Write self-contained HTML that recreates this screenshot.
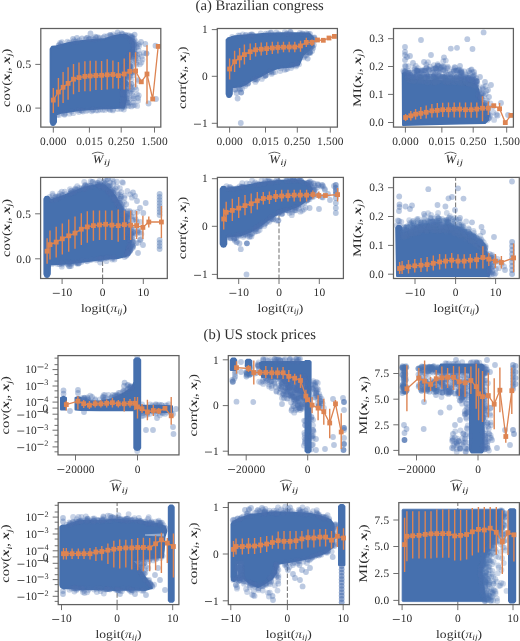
<!DOCTYPE html>
<html><head><meta charset="utf-8"><style>
html,body{margin:0;padding:0;background:#fff;}
svg{display:block;will-change:transform;}
text{font-family:"Liberation Serif",serif;fill:#2e2e2e;text-rendering:geometricPrecision;}
circle{fill:#4c72b0;}
.a0{fill-opacity:0.3}.a1{fill-opacity:0.38}.a2{fill-opacity:0.35}.a3{fill-opacity:0.6}.a4{fill-opacity:0.4}.a5{fill-opacity:0.7}.a6{fill-opacity:0.33}.a7{fill-opacity:0.28}.a8{fill-opacity:0.45}.a9{fill-opacity:0.8}.a10{fill-opacity:0.5}
</style></head><body>
<svg width="520" height="641" viewBox="0 0 520 641" font-family="Liberation Serif">
<text x="195.6" y="9.6" font-size="14.6" textLength="128.2" lengthAdjust="spacingAndGlyphs">(a) Brazilian congress</text>
<text x="203.6" y="338.5" font-size="14.6" textLength="112.4" lengthAdjust="spacingAndGlyphs">(b) US stock prices</text>
<defs><clipPath id="c11"><rect x="40.80" y="28.50" width="120.00" height="98.60"/></clipPath><clipPath id="c12"><rect x="217.30" y="28.50" width="120.10" height="98.60"/></clipPath><clipPath id="c13"><rect x="393.50" y="28.50" width="119.90" height="98.60"/></clipPath><clipPath id="c21"><rect x="40.60" y="177.40" width="126.70" height="101.10"/></clipPath><clipPath id="c22"><rect x="217.40" y="177.40" width="126.00" height="101.10"/></clipPath><clipPath id="c23"><rect x="393.50" y="177.40" width="125.80" height="101.10"/></clipPath><clipPath id="c31"><rect x="58.00" y="355.60" width="121.00" height="99.30"/></clipPath><clipPath id="c32"><rect x="228.30" y="355.60" width="121.00" height="99.30"/></clipPath><clipPath id="c33"><rect x="398.80" y="355.60" width="120.60" height="99.30"/></clipPath><clipPath id="c41"><rect x="58.20" y="502.60" width="120.70" height="102.00"/></clipPath><clipPath id="c42"><rect x="228.30" y="502.60" width="121.10" height="102.00"/></clipPath><clipPath id="c43"><rect x="398.80" y="502.60" width="120.60" height="102.00"/></clipPath></defs>
<g clip-path="url(#c11)">
<path d="M50.6 49.0 L52.0 46.8 L54.5 46.5 L56.0 46.5 L60.0 45.2 L70.0 42.8 L80.0 41.3 L90.0 40.3 L95.0 39.7 L105.0 38.9 L112.0 36.6 L120.0 35.0 L126.0 35.0 L131.0 38.0 L134.0 43.0 L134.0 52.0 L129.0 60.0 L126.0 70.0 L125.0 80.0 L126.0 100.0 L124.0 107.4 L110.0 108.3 L100.0 108.6 L90.0 109.2 L80.0 110.0 L70.0 111.5 L60.0 113.0 L56.0 114.6 L56.0 122.0 L54.5 124.5 L53.0 125.0 L51.5 124.5 L50.6 122.0 Z" fill="#4670ae" stroke="#4670ae" stroke-width="2" stroke-linejoin="round"/>
<circle class="a0" cx="139.6" cy="54.1" r="2.9"/>
<circle class="a0" cx="126.7" cy="59.7" r="2.9"/>
<circle class="a0" cx="129.3" cy="60.0" r="2.9"/>
<circle class="a0" cx="134.5" cy="58.8" r="2.9"/>
<circle class="a0" cx="129.1" cy="57.4" r="2.9"/>
<circle class="a0" cx="146.4" cy="53.6" r="2.9"/>
<circle class="a0" cx="129.1" cy="54.7" r="2.9"/>
<circle class="a0" cx="132.5" cy="54.3" r="2.9"/>
<circle class="a0" cx="127.8" cy="58.6" r="2.9"/>
<circle class="a0" cx="131.6" cy="52.7" r="2.9"/>
<circle class="a0" cx="146.5" cy="53.3" r="2.9"/>
<circle class="a0" cx="129.3" cy="55.7" r="2.9"/>
<circle class="a0" cx="128.6" cy="56.3" r="2.9"/>
<circle class="a0" cx="130.9" cy="53.5" r="2.9"/>
<circle class="a0" cx="134.5" cy="54.5" r="2.9"/>
<circle class="a0" cx="129.2" cy="54.5" r="2.9"/>
<circle class="a0" cx="143.8" cy="52.9" r="2.9"/>
<circle class="a0" cx="133.0" cy="55.9" r="2.9"/>
<circle class="a0" cx="141.6" cy="56.5" r="2.9"/>
<circle class="a0" cx="142.5" cy="59.4" r="2.9"/>
<circle class="a0" cx="137.2" cy="54.9" r="2.9"/>
<circle class="a0" cx="135.3" cy="57.0" r="2.9"/>
<circle class="a0" cx="132.2" cy="55.6" r="2.9"/>
<circle class="a0" cx="131.2" cy="52.3" r="2.9"/>
<circle class="a0" cx="134.8" cy="52.2" r="2.9"/>
<circle class="a0" cx="132.2" cy="56.8" r="2.9"/>
<circle class="a0" cx="134.3" cy="53.8" r="2.9"/>
<circle class="a0" cx="128.1" cy="56.7" r="2.9"/>
<circle class="a0" cx="131.2" cy="55.3" r="2.9"/>
<circle class="a0" cx="128.6" cy="56.9" r="2.9"/>
<circle class="a0" cx="138.1" cy="58.2" r="2.9"/>
<circle class="a0" cx="135.6" cy="53.9" r="2.9"/>
<circle class="a0" cx="131.4" cy="57.0" r="2.9"/>
<circle class="a0" cx="130.6" cy="63.9" r="2.9"/>
<circle class="a0" cx="131.2" cy="66.7" r="2.9"/>
<circle class="a0" cx="129.8" cy="65.3" r="2.9"/>
<circle class="a0" cx="123.5" cy="67.3" r="2.9"/>
<circle class="a0" cx="127.3" cy="64.3" r="2.9"/>
<circle class="a0" cx="126.9" cy="67.0" r="2.9"/>
<circle class="a0" cx="126.6" cy="64.8" r="2.9"/>
<circle class="a0" cx="128.6" cy="65.1" r="2.9"/>
<circle class="a0" cx="130.9" cy="60.3" r="2.9"/>
<circle class="a0" cx="129.1" cy="68.6" r="2.9"/>
<circle class="a0" cx="141.4" cy="62.5" r="2.9"/>
<circle class="a0" cx="125.8" cy="65.3" r="2.9"/>
<circle class="a0" cx="129.1" cy="60.5" r="2.9"/>
<circle class="a0" cx="126.1" cy="66.6" r="2.9"/>
<circle class="a0" cx="136.6" cy="64.6" r="2.9"/>
<circle class="a0" cx="125.3" cy="68.9" r="2.9"/>
<circle class="a0" cx="127.7" cy="64.8" r="2.9"/>
<circle class="a0" cx="129.8" cy="69.1" r="2.9"/>
<circle class="a0" cx="130.6" cy="68.2" r="2.9"/>
<circle class="a0" cx="125.7" cy="69.5" r="2.9"/>
<circle class="a0" cx="129.0" cy="66.7" r="2.9"/>
<circle class="a0" cx="129.9" cy="66.5" r="2.9"/>
<circle class="a0" cx="124.3" cy="68.8" r="2.9"/>
<circle class="a0" cx="126.1" cy="65.9" r="2.9"/>
<circle class="a0" cx="125.1" cy="68.1" r="2.9"/>
<circle class="a0" cx="124.5" cy="67.1" r="2.9"/>
<circle class="a0" cx="129.8" cy="65.9" r="2.9"/>
<circle class="a0" cx="124.7" cy="69.2" r="2.9"/>
<circle class="a0" cx="125.6" cy="66.1" r="2.9"/>
<circle class="a0" cx="125.6" cy="67.4" r="2.9"/>
<circle class="a0" cx="124.9" cy="67.5" r="2.9"/>
<circle class="a0" cx="139.9" cy="64.3" r="2.9"/>
<circle class="a0" cx="132.9" cy="65.2" r="2.9"/>
<circle class="a0" cx="123.7" cy="68.9" r="2.9"/>
<circle class="a0" cx="136.2" cy="62.8" r="2.9"/>
<circle class="a0" cx="124.3" cy="68.1" r="2.9"/>
<circle class="a0" cx="134.5" cy="60.5" r="2.9"/>
<circle class="a0" cx="131.2" cy="79.6" r="2.9"/>
<circle class="a0" cx="133.7" cy="75.2" r="2.9"/>
<circle class="a0" cx="128.6" cy="70.6" r="2.9"/>
<circle class="a0" cx="125.7" cy="74.6" r="2.9"/>
<circle class="a0" cx="123.7" cy="74.4" r="2.9"/>
<circle class="a0" cx="124.8" cy="78.1" r="2.9"/>
<circle class="a0" cx="125.1" cy="72.5" r="2.9"/>
<circle class="a0" cx="123.1" cy="75.8" r="2.9"/>
<circle class="a0" cx="127.2" cy="79.9" r="2.9"/>
<circle class="a0" cx="124.1" cy="75.8" r="2.9"/>
<circle class="a0" cx="124.8" cy="73.3" r="2.9"/>
<circle class="a0" cx="122.3" cy="74.0" r="2.9"/>
<circle class="a0" cx="127.2" cy="75.9" r="2.9"/>
<circle class="a0" cx="130.0" cy="77.0" r="2.9"/>
<circle class="a0" cx="129.4" cy="70.7" r="2.9"/>
<circle class="a0" cx="126.1" cy="75.5" r="2.9"/>
<circle class="a0" cx="131.1" cy="70.4" r="2.9"/>
<circle class="a0" cx="128.0" cy="77.3" r="2.9"/>
<circle class="a0" cx="130.0" cy="75.3" r="2.9"/>
<circle class="a0" cx="130.0" cy="71.9" r="2.9"/>
<circle class="a0" cx="123.2" cy="78.9" r="2.9"/>
<circle class="a0" cx="125.3" cy="70.3" r="2.9"/>
<circle class="a0" cx="134.4" cy="71.8" r="2.9"/>
<circle class="a0" cx="127.6" cy="72.7" r="2.9"/>
<circle class="a0" cx="123.2" cy="74.2" r="2.9"/>
<circle class="a0" cx="128.9" cy="77.6" r="2.9"/>
<circle class="a0" cx="130.8" cy="73.1" r="2.9"/>
<circle class="a0" cx="123.6" cy="78.0" r="2.9"/>
<circle class="a0" cx="132.0" cy="71.5" r="2.9"/>
<circle class="a0" cx="123.1" cy="72.2" r="2.9"/>
<circle class="a0" cx="124.1" cy="70.5" r="2.9"/>
<circle class="a0" cx="137.9" cy="79.6" r="2.9"/>
<circle class="a0" cx="125.1" cy="75.4" r="2.9"/>
<circle class="a0" cx="132.4" cy="72.6" r="2.9"/>
<circle class="a0" cx="124.9" cy="73.1" r="2.9"/>
<circle class="a0" cx="122.1" cy="86.8" r="2.9"/>
<circle class="a0" cx="124.3" cy="82.0" r="2.9"/>
<circle class="a0" cx="125.6" cy="89.8" r="2.9"/>
<circle class="a0" cx="125.9" cy="84.7" r="2.9"/>
<circle class="a0" cx="123.5" cy="81.1" r="2.9"/>
<circle class="a0" cx="136.9" cy="94.3" r="2.9"/>
<circle class="a0" cx="124.6" cy="81.8" r="2.9"/>
<circle class="a0" cx="126.2" cy="91.6" r="2.9"/>
<circle class="a0" cx="125.7" cy="83.3" r="2.9"/>
<circle class="a0" cx="132.8" cy="98.4" r="2.9"/>
<circle class="a0" cx="133.3" cy="96.2" r="2.9"/>
<circle class="a0" cx="122.4" cy="85.5" r="2.9"/>
<circle class="a0" cx="124.6" cy="83.3" r="2.9"/>
<circle class="a0" cx="132.4" cy="89.4" r="2.9"/>
<circle class="a0" cx="124.5" cy="84.3" r="2.9"/>
<circle class="a0" cx="123.3" cy="97.8" r="2.9"/>
<circle class="a0" cx="125.0" cy="94.0" r="2.9"/>
<circle class="a0" cx="124.2" cy="98.9" r="2.9"/>
<circle class="a0" cx="131.9" cy="93.3" r="2.9"/>
<circle class="a0" cx="131.2" cy="87.4" r="2.9"/>
<circle class="a0" cx="129.7" cy="92.6" r="2.9"/>
<circle class="a0" cx="126.4" cy="98.5" r="2.9"/>
<circle class="a0" cx="125.7" cy="82.7" r="2.9"/>
<circle class="a0" cx="131.3" cy="83.9" r="2.9"/>
<circle class="a0" cx="125.2" cy="96.7" r="2.9"/>
<circle class="a0" cx="122.3" cy="98.1" r="2.9"/>
<circle class="a0" cx="136.3" cy="89.6" r="2.9"/>
<circle class="a0" cx="138.8" cy="95.4" r="2.9"/>
<circle class="a0" cx="125.3" cy="85.2" r="2.9"/>
<circle class="a0" cx="123.3" cy="82.0" r="2.9"/>
<circle class="a0" cx="129.2" cy="97.3" r="2.9"/>
<circle class="a0" cx="124.1" cy="84.3" r="2.9"/>
<circle class="a0" cx="129.9" cy="86.2" r="2.9"/>
<circle class="a0" cx="122.9" cy="92.1" r="2.9"/>
<circle class="a0" cx="128.9" cy="84.3" r="2.9"/>
<circle class="a0" cx="127.0" cy="96.8" r="2.9"/>
<circle class="a0" cx="125.1" cy="90.1" r="2.9"/>
<circle class="a0" cx="124.7" cy="80.2" r="2.9"/>
<circle class="a0" cx="123.5" cy="89.7" r="2.9"/>
<circle class="a0" cx="122.6" cy="87.7" r="2.9"/>
<circle class="a0" cx="124.3" cy="97.6" r="2.9"/>
<circle class="a0" cx="123.1" cy="94.3" r="2.9"/>
<circle class="a0" cx="124.0" cy="90.9" r="2.9"/>
<circle class="a0" cx="125.7" cy="83.3" r="2.9"/>
<circle class="a0" cx="122.9" cy="86.5" r="2.9"/>
<circle class="a0" cx="135.1" cy="87.0" r="2.9"/>
<circle class="a0" cx="125.7" cy="83.7" r="2.9"/>
<circle class="a0" cx="123.0" cy="91.3" r="2.9"/>
<circle class="a0" cx="122.7" cy="92.2" r="2.9"/>
<circle class="a0" cx="123.8" cy="89.9" r="2.9"/>
<circle class="a0" cx="126.8" cy="91.7" r="2.9"/>
<circle class="a0" cx="122.7" cy="93.4" r="2.9"/>
<circle class="a0" cx="130.8" cy="91.2" r="2.9"/>
<circle class="a0" cx="138.1" cy="80.9" r="2.9"/>
<circle class="a0" cx="123.7" cy="85.0" r="2.9"/>
<circle class="a0" cx="123.5" cy="83.8" r="2.9"/>
<circle class="a0" cx="127.2" cy="94.6" r="2.9"/>
<circle class="a0" cx="126.4" cy="88.4" r="2.9"/>
<circle class="a0" cx="123.7" cy="83.6" r="2.9"/>
<circle class="a0" cx="126.6" cy="84.0" r="2.9"/>
<circle class="a0" cx="123.4" cy="99.0" r="2.9"/>
<circle class="a0" cx="125.5" cy="88.6" r="2.9"/>
<circle class="a0" cx="127.6" cy="98.5" r="2.9"/>
<circle class="a0" cx="125.3" cy="80.3" r="2.9"/>
<circle class="a0" cx="122.1" cy="93.4" r="2.9"/>
<circle class="a0" cx="126.9" cy="88.7" r="2.9"/>
<circle class="a0" cx="134.1" cy="98.7" r="2.9"/>
<circle class="a0" cx="130.8" cy="89.7" r="2.9"/>
<circle class="a0" cx="124.3" cy="92.7" r="2.9"/>
<circle class="a0" cx="131.4" cy="84.0" r="2.9"/>
<circle class="a0" cx="122.4" cy="103.2" r="2.9"/>
<circle class="a0" cx="122.5" cy="105.2" r="2.9"/>
<circle class="a0" cx="127.6" cy="105.2" r="2.9"/>
<circle class="a0" cx="124.0" cy="106.8" r="2.9"/>
<circle class="a0" cx="122.6" cy="106.2" r="2.9"/>
<circle class="a0" cx="134.7" cy="105.1" r="2.9"/>
<circle class="a0" cx="137.2" cy="105.9" r="2.9"/>
<circle class="a0" cx="129.4" cy="102.7" r="2.9"/>
<circle class="a0" cx="128.6" cy="106.2" r="2.9"/>
<circle class="a0" cx="123.8" cy="105.1" r="2.9"/>
<circle class="a0" cx="127.4" cy="102.4" r="2.9"/>
<circle class="a0" cx="127.9" cy="103.0" r="2.9"/>
<circle class="a0" cx="131.4" cy="106.4" r="2.9"/>
<circle class="a0" cx="124.6" cy="106.5" r="2.9"/>
<circle class="a0" cx="124.5" cy="100.6" r="2.9"/>
<circle class="a0" cx="122.0" cy="104.8" r="2.9"/>
<circle class="a0" cx="122.4" cy="103.1" r="2.9"/>
<circle class="a0" cx="126.6" cy="100.3" r="2.9"/>
<circle class="a0" cx="138.1" cy="100.8" r="2.9"/>
<circle class="a0" cx="124.9" cy="101.2" r="2.9"/>
<circle class="a0" cx="122.4" cy="100.4" r="2.9"/>
<circle class="a0" cx="133.0" cy="105.4" r="2.9"/>
<circle class="a0" cx="123.0" cy="104.9" r="2.9"/>
<circle class="a0" cx="133.0" cy="102.4" r="2.9"/>
<circle class="a0" cx="127.4" cy="102.6" r="2.9"/>
<circle class="a0" cx="129.1" cy="35.3" r="2.9"/>
<circle class="a0" cx="125.7" cy="35.4" r="2.9"/>
<circle class="a0" cx="132.0" cy="36.1" r="2.9"/>
<circle class="a0" cx="130.9" cy="36.1" r="2.9"/>
<circle class="a0" cx="130.8" cy="36.9" r="2.9"/>
<circle class="a0" cx="127.3" cy="35.2" r="2.9"/>
<circle class="a0" cx="125.4" cy="35.1" r="2.9"/>
<circle class="a0" cx="132.7" cy="37.4" r="2.9"/>
<circle class="a0" cx="131.8" cy="37.7" r="2.9"/>
<circle class="a0" cx="135.3" cy="41.2" r="2.9"/>
<circle class="a0" cx="132.9" cy="41.2" r="2.9"/>
<circle class="a0" cx="132.3" cy="40.1" r="2.9"/>
<circle class="a0" cx="131.9" cy="38.1" r="2.9"/>
<circle class="a0" cx="130.9" cy="40.2" r="2.9"/>
<circle class="a0" cx="134.4" cy="42.3" r="2.9"/>
<circle class="a0" cx="132.1" cy="41.3" r="2.9"/>
<circle class="a0" cx="133.1" cy="41.8" r="2.9"/>
<circle class="a0" cx="134.3" cy="38.8" r="2.9"/>
<circle class="a0" cx="138.6" cy="50.5" r="2.9"/>
<circle class="a0" cx="132.9" cy="43.7" r="2.9"/>
<circle class="a0" cx="139.0" cy="44.1" r="2.9"/>
<circle class="a0" cx="134.8" cy="43.7" r="2.9"/>
<circle class="a0" cx="134.5" cy="47.5" r="2.9"/>
<circle class="a0" cx="139.1" cy="46.0" r="2.9"/>
<circle class="a0" cx="133.0" cy="52.0" r="2.9"/>
<circle class="a0" cx="133.7" cy="48.3" r="2.9"/>
<circle class="a0" cx="134.0" cy="44.6" r="2.9"/>
<circle class="a0" cx="133.8" cy="46.1" r="2.9"/>
<circle class="a0" cx="136.4" cy="44.7" r="2.9"/>
<circle class="a0" cx="133.9" cy="45.1" r="2.9"/>
<circle class="a0" cx="134.0" cy="50.0" r="2.9"/>
<circle class="a0" cx="134.7" cy="49.3" r="2.9"/>
<circle class="a0" cx="59.1" cy="45.4" r="2.9"/>
<circle class="a0" cx="58.6" cy="45.2" r="2.9"/>
<circle class="a0" cx="61.8" cy="42.1" r="2.9"/>
<circle class="a0" cx="60.1" cy="42.9" r="2.9"/>
<circle class="a0" cx="60.9" cy="43.8" r="2.9"/>
<circle class="a0" cx="69.2" cy="42.7" r="2.9"/>
<circle class="a0" cx="67.4" cy="41.7" r="2.9"/>
<circle class="a0" cx="74.1" cy="40.3" r="2.9"/>
<circle class="a0" cx="77.9" cy="41.3" r="2.9"/>
<circle class="a0" cx="75.8" cy="41.7" r="2.9"/>
<circle class="a0" cx="79.4" cy="40.2" r="2.9"/>
<circle class="a0" cx="73.1" cy="42.0" r="2.9"/>
<circle class="a0" cx="87.6" cy="37.7" r="2.9"/>
<circle class="a0" cx="89.4" cy="38.8" r="2.9"/>
<circle class="a0" cx="86.6" cy="37.8" r="2.9"/>
<circle class="a0" cx="85.6" cy="39.2" r="2.9"/>
<circle class="a0" cx="88.8" cy="39.1" r="2.9"/>
<circle class="a0" cx="92.8" cy="38.4" r="2.9"/>
<circle class="a0" cx="90.4" cy="39.0" r="2.9"/>
<circle class="a0" cx="94.6" cy="39.4" r="2.9"/>
<circle class="a0" cx="97.6" cy="37.2" r="2.9"/>
<circle class="a0" cx="95.2" cy="36.7" r="2.9"/>
<circle class="a0" cx="99.6" cy="37.6" r="2.9"/>
<circle class="a0" cx="99.3" cy="39.1" r="2.9"/>
<circle class="a0" cx="102.9" cy="37.8" r="2.9"/>
<circle class="a0" cx="111.0" cy="35.7" r="2.9"/>
<circle class="a0" cx="107.4" cy="36.1" r="2.9"/>
<circle class="a0" cx="110.0" cy="34.8" r="2.9"/>
<circle class="a0" cx="110.1" cy="35.1" r="2.9"/>
<circle class="a0" cx="112.4" cy="36.5" r="2.9"/>
<circle class="a0" cx="118.9" cy="35.0" r="2.9"/>
<circle class="a0" cx="116.1" cy="35.6" r="2.9"/>
<circle class="a0" cx="113.1" cy="34.3" r="2.9"/>
<circle class="a0" cx="122.1" cy="34.2" r="2.9"/>
<circle class="a0" cx="123.0" cy="34.1" r="2.9"/>
<circle class="a0" cx="121.6" cy="33.2" r="2.9"/>
<circle class="a0" cx="110.1" cy="110.1" r="2.9"/>
<circle class="a0" cx="123.9" cy="109.5" r="2.9"/>
<circle class="a0" cx="122.0" cy="107.8" r="2.9"/>
<circle class="a0" cx="112.9" cy="109.4" r="2.9"/>
<circle class="a0" cx="121.1" cy="109.0" r="2.9"/>
<circle class="a0" cx="112.9" cy="110.4" r="2.9"/>
<circle class="a0" cx="117.7" cy="109.0" r="2.9"/>
<circle class="a0" cx="102.6" cy="109.9" r="2.9"/>
<circle class="a0" cx="104.9" cy="109.9" r="2.9"/>
<circle class="a0" cx="107.6" cy="108.5" r="2.9"/>
<circle class="a0" cx="109.3" cy="109.0" r="2.9"/>
<circle class="a0" cx="100.0" cy="109.5" r="2.9"/>
<circle class="a0" cx="92.6" cy="110.2" r="2.9"/>
<circle class="a0" cx="91.7" cy="111.3" r="2.9"/>
<circle class="a0" cx="93.1" cy="109.5" r="2.9"/>
<circle class="a0" cx="97.8" cy="110.4" r="2.9"/>
<circle class="a0" cx="96.1" cy="110.4" r="2.9"/>
<circle class="a0" cx="86.3" cy="110.9" r="2.9"/>
<circle class="a0" cx="82.9" cy="111.6" r="2.9"/>
<circle class="a0" cx="81.5" cy="110.3" r="2.9"/>
<circle class="a0" cx="81.9" cy="110.8" r="2.9"/>
<circle class="a0" cx="87.8" cy="109.9" r="2.9"/>
<circle class="a0" cx="71.5" cy="111.6" r="2.9"/>
<circle class="a0" cx="73.2" cy="113.2" r="2.9"/>
<circle class="a0" cx="78.8" cy="112.0" r="2.9"/>
<circle class="a0" cx="77.6" cy="110.4" r="2.9"/>
<circle class="a0" cx="79.5" cy="110.1" r="2.9"/>
<circle class="a0" cx="62.0" cy="112.9" r="2.9"/>
<circle class="a0" cx="65.4" cy="112.9" r="2.9"/>
<circle class="a0" cx="64.3" cy="114.2" r="2.9"/>
<circle class="a0" cx="69.3" cy="113.7" r="2.9"/>
<circle class="a0" cx="64.5" cy="114.8" r="2.9"/>
<circle class="a0" cx="57.2" cy="114.9" r="2.9"/>
<circle class="a0" cx="59.2" cy="115.0" r="2.9"/>
<circle class="a1" cx="117.6" cy="32.4" r="2.9"/>
<circle class="a1" cx="104.5" cy="36.3" r="2.9"/>
<circle class="a1" cx="134.6" cy="34.6" r="2.9"/>
<circle class="a1" cx="145.3" cy="44.0" r="2.9"/>
<circle class="a1" cx="155.5" cy="45.7" r="2.9"/>
<circle class="a1" cx="148.5" cy="103.5" r="2.9"/>
<circle class="a1" cx="156.0" cy="99.0" r="2.9"/>
<circle class="a1" cx="137.0" cy="47.0" r="2.9"/>
<circle class="a1" cx="136.0" cy="60.0" r="2.9"/>
<circle class="a1" cx="138.0" cy="98.0" r="2.9"/>
<circle class="a1" cx="90.5" cy="33.5" r="2.9"/>
<circle class="a1" cx="73.0" cy="39.0" r="2.9"/>
<circle class="a1" cx="77.0" cy="38.0" r="2.9"/>
<circle class="a1" cx="82.0" cy="38.5" r="2.9"/>
<circle class="a1" cx="96.0" cy="37.5" r="2.9"/>
<circle class="a1" cx="141.0" cy="42.0" r="2.9"/>
<line x1="53.3" y1="88.0" x2="53.3" y2="113.0" stroke="#dd8452" stroke-width="1.4"/>
<line x1="58.4" y1="77.9" x2="58.4" y2="106.8" stroke="#dd8452" stroke-width="1.4"/>
<line x1="63.1" y1="72.1" x2="63.1" y2="102.9" stroke="#dd8452" stroke-width="1.4"/>
<line x1="68.1" y1="67.3" x2="68.1" y2="99.8" stroke="#dd8452" stroke-width="1.4"/>
<line x1="73.5" y1="63.9" x2="73.5" y2="94.3" stroke="#dd8452" stroke-width="1.4"/>
<line x1="79.0" y1="62.6" x2="79.0" y2="92.0" stroke="#dd8452" stroke-width="1.4"/>
<line x1="84.9" y1="61.2" x2="84.9" y2="91.2" stroke="#dd8452" stroke-width="1.4"/>
<line x1="90.2" y1="60.8" x2="90.2" y2="91.2" stroke="#dd8452" stroke-width="1.4"/>
<line x1="95.9" y1="60.8" x2="95.9" y2="90.0" stroke="#dd8452" stroke-width="1.4"/>
<line x1="101.6" y1="61.0" x2="101.6" y2="90.0" stroke="#dd8452" stroke-width="1.4"/>
<line x1="107.2" y1="59.2" x2="107.2" y2="89.6" stroke="#dd8452" stroke-width="1.4"/>
<line x1="112.9" y1="60.5" x2="112.9" y2="88.5" stroke="#dd8452" stroke-width="1.4"/>
<line x1="118.4" y1="62.0" x2="118.4" y2="88.8" stroke="#dd8452" stroke-width="1.4"/>
<line x1="124.2" y1="58.4" x2="124.2" y2="89.6" stroke="#dd8452" stroke-width="1.4"/>
<line x1="129.8" y1="52.2" x2="129.8" y2="89.6" stroke="#dd8452" stroke-width="1.4"/>
<line x1="135.6" y1="52.2" x2="135.6" y2="87.3" stroke="#dd8452" stroke-width="1.4"/>
<line x1="147.0" y1="45.2" x2="147.0" y2="103.7" stroke="#dd8452" stroke-width="1.4"/>
<polyline points="53.3,100.1 58.4,92.0 63.1,87.3 68.1,83.4 73.5,79.2 79.0,77.6 84.9,76.4 90.2,76.0 95.9,75.5 101.6,75.3 107.2,74.8 112.9,74.5 118.4,75.6 124.2,74.0 129.8,71.4 135.6,70.9 141.3,81.8 147.0,74.0 152.7,99.0 158.2,46.4" fill="none" stroke="#dd8452" stroke-width="1.3"/>
<rect x="50.9" y="97.7" width="4.8" height="4.8" fill="#dd8452"/>
<rect x="56.0" y="89.6" width="4.8" height="4.8" fill="#dd8452"/>
<rect x="60.7" y="84.9" width="4.8" height="4.8" fill="#dd8452"/>
<rect x="65.7" y="81.0" width="4.8" height="4.8" fill="#dd8452"/>
<rect x="71.1" y="76.8" width="4.8" height="4.8" fill="#dd8452"/>
<rect x="76.6" y="75.2" width="4.8" height="4.8" fill="#dd8452"/>
<rect x="82.5" y="74.0" width="4.8" height="4.8" fill="#dd8452"/>
<rect x="87.8" y="73.6" width="4.8" height="4.8" fill="#dd8452"/>
<rect x="93.5" y="73.1" width="4.8" height="4.8" fill="#dd8452"/>
<rect x="99.2" y="72.9" width="4.8" height="4.8" fill="#dd8452"/>
<rect x="104.8" y="72.4" width="4.8" height="4.8" fill="#dd8452"/>
<rect x="110.5" y="72.1" width="4.8" height="4.8" fill="#dd8452"/>
<rect x="116.0" y="73.2" width="4.8" height="4.8" fill="#dd8452"/>
<rect x="121.8" y="71.6" width="4.8" height="4.8" fill="#dd8452"/>
<rect x="127.4" y="69.0" width="4.8" height="4.8" fill="#dd8452"/>
<rect x="133.2" y="68.5" width="4.8" height="4.8" fill="#dd8452"/>
<rect x="138.9" y="79.4" width="4.8" height="4.8" fill="#dd8452"/>
<rect x="144.6" y="71.6" width="4.8" height="4.8" fill="#dd8452"/>
<rect x="150.3" y="96.6" width="4.8" height="4.8" fill="#dd8452"/>
<rect x="155.8" y="44.0" width="4.8" height="4.8" fill="#dd8452"/>
</g>
<g clip-path="url(#c12)">
<path d="M226.6 40.0 L228.0 38.3 L230.5 37.8 L232.0 37.0 L235.0 36.3 L250.0 35.0 L265.0 33.7 L280.0 33.3 L300.0 33.2 L309.0 33.5 L313.0 37.5 L312.5 45.0 L309.0 50.0 L303.0 55.0 L300.8 60.3 L299.0 64.5 L290.0 66.7 L287.0 67.1 L280.0 67.8 L275.0 69.1 L270.0 71.2 L265.0 73.8 L260.0 76.5 L255.0 78.6 L250.0 81.2 L245.0 84.6 L240.0 86.6 L232.0 87.3 L231.8 94.0 L230.5 96.5 L229.0 97.0 L227.5 96.5 L226.6 94.0 Z" fill="#4670ae" stroke="#4670ae" stroke-width="2" stroke-linejoin="round"/>
<circle class="a0" cx="246.0" cy="34.8" r="2.9"/>
<circle class="a0" cx="238.3" cy="35.3" r="2.9"/>
<circle class="a0" cx="232.2" cy="37.0" r="2.9"/>
<circle class="a0" cx="239.7" cy="35.7" r="2.9"/>
<circle class="a0" cx="242.7" cy="34.4" r="2.9"/>
<circle class="a0" cx="245.5" cy="35.3" r="2.9"/>
<circle class="a0" cx="249.5" cy="34.9" r="2.9"/>
<circle class="a0" cx="251.8" cy="34.2" r="2.9"/>
<circle class="a0" cx="250.8" cy="34.9" r="2.9"/>
<circle class="a0" cx="260.7" cy="33.5" r="2.9"/>
<circle class="a0" cx="252.4" cy="35.0" r="2.9"/>
<circle class="a0" cx="249.7" cy="35.8" r="2.9"/>
<circle class="a0" cx="253.4" cy="35.3" r="2.9"/>
<circle class="a0" cx="270.6" cy="32.9" r="2.9"/>
<circle class="a0" cx="271.0" cy="32.5" r="2.9"/>
<circle class="a0" cx="268.2" cy="33.3" r="2.9"/>
<circle class="a0" cx="276.3" cy="32.3" r="2.9"/>
<circle class="a0" cx="278.7" cy="33.6" r="2.9"/>
<circle class="a0" cx="265.6" cy="33.7" r="2.9"/>
<circle class="a0" cx="286.4" cy="33.9" r="2.9"/>
<circle class="a0" cx="284.8" cy="32.1" r="2.9"/>
<circle class="a0" cx="299.8" cy="32.8" r="2.9"/>
<circle class="a0" cx="289.0" cy="33.9" r="2.9"/>
<circle class="a0" cx="290.6" cy="32.0" r="2.9"/>
<circle class="a0" cx="292.0" cy="34.2" r="2.9"/>
<circle class="a0" cx="286.8" cy="33.3" r="2.9"/>
<circle class="a0" cx="290.1" cy="31.9" r="2.9"/>
<circle class="a0" cx="302.0" cy="33.5" r="2.9"/>
<circle class="a0" cx="302.6" cy="33.6" r="2.9"/>
<circle class="a0" cx="308.3" cy="34.0" r="2.9"/>
<circle class="a0" cx="291.1" cy="68.0" r="2.9"/>
<circle class="a0" cx="296.4" cy="63.1" r="2.9"/>
<circle class="a0" cx="295.1" cy="64.9" r="2.9"/>
<circle class="a0" cx="296.0" cy="66.4" r="2.9"/>
<circle class="a0" cx="292.0" cy="65.4" r="2.9"/>
<circle class="a0" cx="297.1" cy="63.4" r="2.9"/>
<circle class="a0" cx="292.0" cy="65.7" r="2.9"/>
<circle class="a0" cx="296.8" cy="65.1" r="2.9"/>
<circle class="a0" cx="299.1" cy="64.3" r="2.9"/>
<circle class="a0" cx="287.4" cy="68.8" r="2.9"/>
<circle class="a0" cx="284.7" cy="69.9" r="2.9"/>
<circle class="a0" cx="286.1" cy="69.2" r="2.9"/>
<circle class="a0" cx="280.9" cy="68.3" r="2.9"/>
<circle class="a0" cx="270.6" cy="71.1" r="2.9"/>
<circle class="a0" cx="271.6" cy="73.9" r="2.9"/>
<circle class="a0" cx="271.5" cy="72.6" r="2.9"/>
<circle class="a0" cx="271.6" cy="71.0" r="2.9"/>
<circle class="a0" cx="280.2" cy="71.1" r="2.9"/>
<circle class="a0" cx="273.1" cy="72.4" r="2.9"/>
<circle class="a0" cx="275.2" cy="72.1" r="2.9"/>
<circle class="a0" cx="269.2" cy="72.2" r="2.9"/>
<circle class="a0" cx="265.6" cy="75.5" r="2.9"/>
<circle class="a0" cx="265.7" cy="75.5" r="2.9"/>
<circle class="a0" cx="263.7" cy="76.4" r="2.9"/>
<circle class="a0" cx="265.5" cy="74.6" r="2.9"/>
<circle class="a0" cx="261.9" cy="78.9" r="2.9"/>
<circle class="a0" cx="265.6" cy="75.6" r="2.9"/>
<circle class="a0" cx="254.9" cy="79.1" r="2.9"/>
<circle class="a0" cx="255.4" cy="81.9" r="2.9"/>
<circle class="a0" cx="253.6" cy="79.9" r="2.9"/>
<circle class="a0" cx="256.8" cy="79.3" r="2.9"/>
<circle class="a0" cx="254.9" cy="79.0" r="2.9"/>
<circle class="a0" cx="258.1" cy="77.7" r="2.9"/>
<circle class="a0" cx="256.6" cy="79.9" r="2.9"/>
<circle class="a0" cx="242.0" cy="88.7" r="2.9"/>
<circle class="a0" cx="243.7" cy="84.6" r="2.9"/>
<circle class="a0" cx="245.2" cy="86.0" r="2.9"/>
<circle class="a0" cx="247.6" cy="84.0" r="2.9"/>
<circle class="a0" cx="248.2" cy="82.8" r="2.9"/>
<circle class="a0" cx="248.2" cy="83.2" r="2.9"/>
<circle class="a0" cx="245.7" cy="83.8" r="2.9"/>
<circle class="a0" cx="240.0" cy="89.6" r="2.9"/>
<circle class="a0" cx="235.9" cy="89.7" r="2.9"/>
<circle class="a0" cx="240.3" cy="88.9" r="2.9"/>
<circle class="a0" cx="238.8" cy="88.0" r="2.9"/>
<circle class="a2" cx="312.0" cy="43.1" r="2.9"/>
<circle class="a2" cx="311.0" cy="45.5" r="2.9"/>
<circle class="a2" cx="311.5" cy="37.4" r="2.9"/>
<circle class="a2" cx="313.9" cy="45.1" r="2.9"/>
<circle class="a2" cx="312.2" cy="40.8" r="2.9"/>
<circle class="a2" cx="311.6" cy="44.9" r="2.9"/>
<circle class="a2" cx="314.4" cy="40.5" r="2.9"/>
<circle class="a2" cx="314.4" cy="37.3" r="2.9"/>
<circle class="a2" cx="314.2" cy="37.8" r="2.9"/>
<circle class="a2" cx="314.6" cy="39.3" r="2.9"/>
<circle class="a2" cx="309.7" cy="51.9" r="2.9"/>
<circle class="a2" cx="309.7" cy="48.4" r="2.9"/>
<circle class="a2" cx="310.3" cy="47.4" r="2.9"/>
<circle class="a2" cx="312.1" cy="50.9" r="2.9"/>
<circle class="a2" cx="312.3" cy="46.6" r="2.9"/>
<circle class="a2" cx="313.2" cy="48.0" r="2.9"/>
<circle class="a2" cx="310.6" cy="47.4" r="2.9"/>
<circle class="a2" cx="306.2" cy="55.4" r="2.9"/>
<circle class="a2" cx="309.3" cy="52.8" r="2.9"/>
<circle class="a2" cx="306.7" cy="52.3" r="2.9"/>
<circle class="a2" cx="308.7" cy="53.0" r="2.9"/>
<circle class="a2" cx="304.9" cy="55.8" r="2.9"/>
<circle class="a2" cx="310.3" cy="52.9" r="2.9"/>
<circle class="a2" cx="306.2" cy="52.3" r="2.9"/>
<circle class="a3" cx="241.2" cy="92.6" r="2.9"/>
<circle class="a1" cx="236.6" cy="93.0" r="2.9"/>
<circle class="a1" cx="237.6" cy="98.5" r="2.9"/>
<circle class="a1" cx="240.8" cy="123.0" r="2.9"/>
<circle class="a1" cx="235.0" cy="89.5" r="2.9"/>
<circle class="a1" cx="307.7" cy="58.6" r="2.9"/>
<circle class="a1" cx="303.7" cy="57.4" r="2.9"/>
<circle class="a1" cx="310.0" cy="52.2" r="2.9"/>
<circle class="a1" cx="311.0" cy="42.0" r="2.9"/>
<circle class="a1" cx="312.0" cy="46.0" r="2.9"/>
<circle class="a1" cx="310.0" cy="34.0" r="2.9"/>
<circle class="a1" cx="306.5" cy="33.5" r="2.9"/>
<line x1="229.6" y1="58.5" x2="229.6" y2="79.6" stroke="#dd8452" stroke-width="1.4"/>
<line x1="234.6" y1="50.8" x2="234.6" y2="71.9" stroke="#dd8452" stroke-width="1.4"/>
<line x1="239.6" y1="47.9" x2="239.6" y2="67.7" stroke="#dd8452" stroke-width="1.4"/>
<line x1="244.4" y1="44.6" x2="244.4" y2="64.6" stroke="#dd8452" stroke-width="1.4"/>
<line x1="250.2" y1="43.5" x2="250.2" y2="60.0" stroke="#dd8452" stroke-width="1.4"/>
<line x1="255.6" y1="43.0" x2="255.6" y2="56.5" stroke="#dd8452" stroke-width="1.4"/>
<line x1="261.2" y1="42.5" x2="261.2" y2="55.5" stroke="#dd8452" stroke-width="1.4"/>
<line x1="266.7" y1="42.3" x2="266.7" y2="55.0" stroke="#dd8452" stroke-width="1.4"/>
<line x1="272.3" y1="41.8" x2="272.3" y2="54.0" stroke="#dd8452" stroke-width="1.4"/>
<line x1="277.9" y1="41.8" x2="277.9" y2="53.5" stroke="#dd8452" stroke-width="1.4"/>
<line x1="283.5" y1="41.8" x2="283.5" y2="52.2" stroke="#dd8452" stroke-width="1.4"/>
<line x1="289.2" y1="41.8" x2="289.2" y2="52.2" stroke="#dd8452" stroke-width="1.4"/>
<line x1="294.8" y1="41.8" x2="294.8" y2="52.2" stroke="#dd8452" stroke-width="1.4"/>
<line x1="300.5" y1="40.7" x2="300.5" y2="51.7" stroke="#dd8452" stroke-width="1.4"/>
<line x1="306.3" y1="37.8" x2="306.3" y2="47.0" stroke="#dd8452" stroke-width="1.4"/>
<line x1="312.0" y1="39.5" x2="312.0" y2="45.9" stroke="#dd8452" stroke-width="1.4"/>
<polyline points="229.6,69.0 234.6,61.7 239.6,57.9 244.4,54.6 250.2,51.7 255.6,49.8 261.2,49.2 266.7,48.6 272.3,48.0 277.9,47.5 283.5,47.2 289.2,47.0 294.8,47.0 300.5,45.9 306.3,42.4 312.0,42.4 317.5,40.0 323.3,40.3 329.0,38.0 334.4,36.4" fill="none" stroke="#dd8452" stroke-width="1.3"/>
<rect x="227.2" y="66.6" width="4.8" height="4.8" fill="#dd8452"/>
<rect x="232.2" y="59.3" width="4.8" height="4.8" fill="#dd8452"/>
<rect x="237.2" y="55.5" width="4.8" height="4.8" fill="#dd8452"/>
<rect x="242.0" y="52.2" width="4.8" height="4.8" fill="#dd8452"/>
<rect x="247.8" y="49.3" width="4.8" height="4.8" fill="#dd8452"/>
<rect x="253.2" y="47.4" width="4.8" height="4.8" fill="#dd8452"/>
<rect x="258.8" y="46.8" width="4.8" height="4.8" fill="#dd8452"/>
<rect x="264.3" y="46.2" width="4.8" height="4.8" fill="#dd8452"/>
<rect x="269.9" y="45.6" width="4.8" height="4.8" fill="#dd8452"/>
<rect x="275.5" y="45.1" width="4.8" height="4.8" fill="#dd8452"/>
<rect x="281.1" y="44.8" width="4.8" height="4.8" fill="#dd8452"/>
<rect x="286.8" y="44.6" width="4.8" height="4.8" fill="#dd8452"/>
<rect x="292.4" y="44.6" width="4.8" height="4.8" fill="#dd8452"/>
<rect x="298.1" y="43.5" width="4.8" height="4.8" fill="#dd8452"/>
<rect x="303.9" y="40.0" width="4.8" height="4.8" fill="#dd8452"/>
<rect x="309.6" y="40.0" width="4.8" height="4.8" fill="#dd8452"/>
<rect x="315.1" y="37.6" width="4.8" height="4.8" fill="#dd8452"/>
<rect x="320.9" y="37.9" width="4.8" height="4.8" fill="#dd8452"/>
<rect x="326.6" y="35.6" width="4.8" height="4.8" fill="#dd8452"/>
<rect x="332.0" y="34.0" width="4.8" height="4.8" fill="#dd8452"/>
</g>
<g clip-path="url(#c13)">
<path d="M402.7 73.5 L404.5 72.5 L406.5 73.5 L407.0 78.0 L410.0 79.0 L420.0 80.5 L440.0 81.0 L455.0 81.5 L465.0 82.0 L470.0 82.5 L476.0 85.0 L478.5 90.0 L480.0 100.0 L484.0 105.0 L488.0 112.0 L488.0 120.0 L485.0 123.0 L460.0 123.5 L440.0 124.0 L420.0 124.5 L403.0 125.0 Z" fill="#4670ae" stroke="#4670ae" stroke-width="2" stroke-linejoin="round"/>
<circle class="a2" cx="408.0" cy="79.3" r="2.9"/>
<circle class="a2" cx="408.8" cy="80.4" r="2.9"/>
<circle class="a2" cx="407.9" cy="76.4" r="2.9"/>
<circle class="a2" cx="407.7" cy="76.1" r="2.9"/>
<circle class="a2" cx="408.8" cy="75.7" r="2.9"/>
<circle class="a2" cx="408.2" cy="73.4" r="2.9"/>
<circle class="a2" cx="409.4" cy="79.6" r="2.9"/>
<circle class="a2" cx="409.2" cy="78.2" r="2.9"/>
<circle class="a2" cx="409.7" cy="80.1" r="2.9"/>
<circle class="a2" cx="410.2" cy="74.7" r="2.9"/>
<circle class="a2" cx="410.8" cy="80.5" r="2.9"/>
<circle class="a2" cx="409.9" cy="76.0" r="2.9"/>
<circle class="a2" cx="419.6" cy="76.8" r="2.9"/>
<circle class="a2" cx="414.1" cy="77.6" r="2.9"/>
<circle class="a2" cx="415.0" cy="74.9" r="2.9"/>
<circle class="a2" cx="411.9" cy="79.4" r="2.9"/>
<circle class="a2" cx="412.8" cy="81.4" r="2.9"/>
<circle class="a2" cx="413.2" cy="78.3" r="2.9"/>
<circle class="a2" cx="412.0" cy="78.8" r="2.9"/>
<circle class="a2" cx="417.9" cy="79.2" r="2.9"/>
<circle class="a2" cx="417.0" cy="81.8" r="2.9"/>
<circle class="a2" cx="414.5" cy="78.6" r="2.9"/>
<circle class="a2" cx="413.9" cy="81.1" r="2.9"/>
<circle class="a2" cx="420.3" cy="79.5" r="2.9"/>
<circle class="a2" cx="415.2" cy="75.7" r="2.9"/>
<circle class="a2" cx="417.6" cy="80.6" r="2.9"/>
<circle class="a2" cx="410.0" cy="77.7" r="2.9"/>
<circle class="a2" cx="412.7" cy="77.8" r="2.9"/>
<circle class="a2" cx="419.7" cy="77.5" r="2.9"/>
<circle class="a2" cx="419.3" cy="79.0" r="2.9"/>
<circle class="a2" cx="413.2" cy="76.4" r="2.9"/>
<circle class="a2" cx="411.2" cy="77.5" r="2.9"/>
<circle class="a2" cx="417.1" cy="79.7" r="2.9"/>
<circle class="a2" cx="419.3" cy="77.0" r="2.9"/>
<circle class="a2" cx="412.0" cy="78.3" r="2.9"/>
<circle class="a2" cx="413.7" cy="80.6" r="2.9"/>
<circle class="a2" cx="414.2" cy="76.9" r="2.9"/>
<circle class="a2" cx="419.8" cy="77.9" r="2.9"/>
<circle class="a2" cx="415.8" cy="77.0" r="2.9"/>
<circle class="a2" cx="421.7" cy="76.8" r="2.9"/>
<circle class="a2" cx="421.0" cy="76.9" r="2.9"/>
<circle class="a2" cx="428.5" cy="75.9" r="2.9"/>
<circle class="a2" cx="425.3" cy="81.2" r="2.9"/>
<circle class="a2" cx="437.2" cy="79.0" r="2.9"/>
<circle class="a2" cx="422.2" cy="80.8" r="2.9"/>
<circle class="a2" cx="427.1" cy="82.5" r="2.9"/>
<circle class="a2" cx="422.1" cy="77.3" r="2.9"/>
<circle class="a2" cx="428.6" cy="78.6" r="2.9"/>
<circle class="a2" cx="433.8" cy="78.0" r="2.9"/>
<circle class="a2" cx="430.6" cy="81.9" r="2.9"/>
<circle class="a2" cx="434.8" cy="81.3" r="2.9"/>
<circle class="a2" cx="425.4" cy="78.2" r="2.9"/>
<circle class="a2" cx="430.1" cy="76.6" r="2.9"/>
<circle class="a2" cx="436.5" cy="76.4" r="2.9"/>
<circle class="a2" cx="427.4" cy="82.5" r="2.9"/>
<circle class="a2" cx="432.9" cy="76.8" r="2.9"/>
<circle class="a2" cx="435.6" cy="77.8" r="2.9"/>
<circle class="a2" cx="422.4" cy="75.7" r="2.9"/>
<circle class="a2" cx="424.1" cy="81.7" r="2.9"/>
<circle class="a2" cx="433.9" cy="80.7" r="2.9"/>
<circle class="a2" cx="435.3" cy="82.6" r="2.9"/>
<circle class="a2" cx="428.6" cy="78.2" r="2.9"/>
<circle class="a2" cx="429.9" cy="76.8" r="2.9"/>
<circle class="a2" cx="438.7" cy="79.5" r="2.9"/>
<circle class="a2" cx="425.3" cy="77.3" r="2.9"/>
<circle class="a2" cx="427.2" cy="77.4" r="2.9"/>
<circle class="a2" cx="427.3" cy="76.7" r="2.9"/>
<circle class="a2" cx="424.8" cy="76.4" r="2.9"/>
<circle class="a2" cx="424.5" cy="76.9" r="2.9"/>
<circle class="a2" cx="438.9" cy="80.7" r="2.9"/>
<circle class="a2" cx="439.1" cy="77.9" r="2.9"/>
<circle class="a2" cx="433.7" cy="81.0" r="2.9"/>
<circle class="a2" cx="433.6" cy="76.3" r="2.9"/>
<circle class="a2" cx="439.4" cy="76.2" r="2.9"/>
<circle class="a2" cx="433.8" cy="77.0" r="2.9"/>
<circle class="a2" cx="433.9" cy="75.9" r="2.9"/>
<circle class="a2" cx="421.2" cy="78.3" r="2.9"/>
<circle class="a2" cx="436.4" cy="79.6" r="2.9"/>
<circle class="a2" cx="421.5" cy="79.2" r="2.9"/>
<circle class="a2" cx="428.5" cy="80.7" r="2.9"/>
<circle class="a2" cx="427.1" cy="75.7" r="2.9"/>
<circle class="a2" cx="434.5" cy="81.7" r="2.9"/>
<circle class="a2" cx="430.5" cy="81.2" r="2.9"/>
<circle class="a2" cx="423.2" cy="81.0" r="2.9"/>
<circle class="a2" cx="420.5" cy="81.3" r="2.9"/>
<circle class="a2" cx="438.2" cy="76.3" r="2.9"/>
<circle class="a2" cx="433.8" cy="79.4" r="2.9"/>
<circle class="a2" cx="433.4" cy="82.5" r="2.9"/>
<circle class="a2" cx="436.8" cy="80.3" r="2.9"/>
<circle class="a2" cx="435.0" cy="82.1" r="2.9"/>
<circle class="a2" cx="434.4" cy="78.0" r="2.9"/>
<circle class="a2" cx="436.4" cy="80.6" r="2.9"/>
<circle class="a2" cx="436.2" cy="77.3" r="2.9"/>
<circle class="a2" cx="436.1" cy="82.7" r="2.9"/>
<circle class="a2" cx="420.2" cy="76.5" r="2.9"/>
<circle class="a2" cx="427.5" cy="79.5" r="2.9"/>
<circle class="a2" cx="437.6" cy="81.7" r="2.9"/>
<circle class="a2" cx="438.5" cy="80.8" r="2.9"/>
<circle class="a2" cx="434.9" cy="82.2" r="2.9"/>
<circle class="a2" cx="447.5" cy="77.3" r="2.9"/>
<circle class="a2" cx="454.3" cy="82.2" r="2.9"/>
<circle class="a2" cx="451.5" cy="78.4" r="2.9"/>
<circle class="a2" cx="446.1" cy="81.6" r="2.9"/>
<circle class="a2" cx="442.5" cy="76.1" r="2.9"/>
<circle class="a2" cx="441.9" cy="77.1" r="2.9"/>
<circle class="a2" cx="453.7" cy="78.4" r="2.9"/>
<circle class="a2" cx="452.9" cy="81.6" r="2.9"/>
<circle class="a2" cx="447.9" cy="82.6" r="2.9"/>
<circle class="a2" cx="452.5" cy="80.5" r="2.9"/>
<circle class="a2" cx="450.5" cy="82.4" r="2.9"/>
<circle class="a2" cx="449.5" cy="78.5" r="2.9"/>
<circle class="a2" cx="448.4" cy="81.9" r="2.9"/>
<circle class="a2" cx="452.5" cy="81.4" r="2.9"/>
<circle class="a2" cx="440.9" cy="78.4" r="2.9"/>
<circle class="a2" cx="445.4" cy="81.3" r="2.9"/>
<circle class="a2" cx="445.2" cy="81.5" r="2.9"/>
<circle class="a2" cx="442.6" cy="77.1" r="2.9"/>
<circle class="a2" cx="445.5" cy="80.2" r="2.9"/>
<circle class="a2" cx="446.2" cy="79.3" r="2.9"/>
<circle class="a2" cx="447.7" cy="77.8" r="2.9"/>
<circle class="a2" cx="445.5" cy="78.7" r="2.9"/>
<circle class="a2" cx="450.3" cy="76.8" r="2.9"/>
<circle class="a2" cx="445.8" cy="82.4" r="2.9"/>
<circle class="a2" cx="455.0" cy="82.4" r="2.9"/>
<circle class="a2" cx="443.3" cy="77.5" r="2.9"/>
<circle class="a2" cx="445.7" cy="79.9" r="2.9"/>
<circle class="a2" cx="448.7" cy="81.1" r="2.9"/>
<circle class="a2" cx="443.8" cy="76.8" r="2.9"/>
<circle class="a2" cx="441.3" cy="76.9" r="2.9"/>
<circle class="a2" cx="452.4" cy="80.1" r="2.9"/>
<circle class="a2" cx="447.5" cy="81.4" r="2.9"/>
<circle class="a2" cx="455.0" cy="80.2" r="2.9"/>
<circle class="a2" cx="445.6" cy="76.3" r="2.9"/>
<circle class="a2" cx="446.8" cy="80.7" r="2.9"/>
<circle class="a2" cx="444.3" cy="78.1" r="2.9"/>
<circle class="a2" cx="450.8" cy="78.3" r="2.9"/>
<circle class="a2" cx="444.9" cy="77.6" r="2.9"/>
<circle class="a2" cx="452.3" cy="77.1" r="2.9"/>
<circle class="a2" cx="445.2" cy="77.3" r="2.9"/>
<circle class="a2" cx="454.8" cy="82.4" r="2.9"/>
<circle class="a2" cx="450.0" cy="80.6" r="2.9"/>
<circle class="a2" cx="447.8" cy="81.2" r="2.9"/>
<circle class="a2" cx="442.9" cy="81.0" r="2.9"/>
<circle class="a2" cx="450.9" cy="77.4" r="2.9"/>
<circle class="a2" cx="464.3" cy="81.3" r="2.9"/>
<circle class="a2" cx="457.2" cy="78.6" r="2.9"/>
<circle class="a2" cx="459.2" cy="79.7" r="2.9"/>
<circle class="a2" cx="463.9" cy="78.8" r="2.9"/>
<circle class="a2" cx="461.3" cy="80.2" r="2.9"/>
<circle class="a2" cx="455.4" cy="78.3" r="2.9"/>
<circle class="a2" cx="464.3" cy="79.2" r="2.9"/>
<circle class="a2" cx="456.5" cy="76.9" r="2.9"/>
<circle class="a2" cx="464.6" cy="80.9" r="2.9"/>
<circle class="a2" cx="456.5" cy="77.3" r="2.9"/>
<circle class="a2" cx="464.5" cy="78.9" r="2.9"/>
<circle class="a2" cx="459.0" cy="78.6" r="2.9"/>
<circle class="a2" cx="463.1" cy="77.6" r="2.9"/>
<circle class="a2" cx="456.5" cy="80.4" r="2.9"/>
<circle class="a2" cx="461.3" cy="79.4" r="2.9"/>
<circle class="a2" cx="462.9" cy="82.9" r="2.9"/>
<circle class="a2" cx="457.5" cy="80.8" r="2.9"/>
<circle class="a2" cx="454.8" cy="76.7" r="2.9"/>
<circle class="a2" cx="461.2" cy="78.5" r="2.9"/>
<circle class="a2" cx="462.1" cy="80.0" r="2.9"/>
<circle class="a2" cx="462.8" cy="83.0" r="2.9"/>
<circle class="a2" cx="463.6" cy="80.0" r="2.9"/>
<circle class="a2" cx="460.6" cy="82.9" r="2.9"/>
<circle class="a2" cx="455.3" cy="77.1" r="2.9"/>
<circle class="a2" cx="461.4" cy="81.3" r="2.9"/>
<circle class="a2" cx="461.1" cy="79.3" r="2.9"/>
<circle class="a2" cx="459.9" cy="80.1" r="2.9"/>
<circle class="a2" cx="460.3" cy="76.9" r="2.9"/>
<circle class="a2" cx="459.6" cy="81.1" r="2.9"/>
<circle class="a2" cx="459.1" cy="82.8" r="2.9"/>
<circle class="a2" cx="467.4" cy="83.7" r="2.9"/>
<circle class="a2" cx="468.2" cy="83.8" r="2.9"/>
<circle class="a2" cx="469.8" cy="83.2" r="2.9"/>
<circle class="a2" cx="467.5" cy="82.8" r="2.9"/>
<circle class="a2" cx="467.9" cy="79.9" r="2.9"/>
<circle class="a2" cx="466.6" cy="82.6" r="2.9"/>
<circle class="a2" cx="465.3" cy="81.5" r="2.9"/>
<circle class="a2" cx="468.1" cy="77.6" r="2.9"/>
<circle class="a2" cx="465.7" cy="80.6" r="2.9"/>
<circle class="a2" cx="468.6" cy="83.7" r="2.9"/>
<circle class="a2" cx="467.0" cy="79.1" r="2.9"/>
<circle class="a2" cx="468.6" cy="79.0" r="2.9"/>
<circle class="a2" cx="468.4" cy="83.7" r="2.9"/>
<circle class="a2" cx="466.4" cy="77.4" r="2.9"/>
<circle class="a2" cx="466.0" cy="81.7" r="2.9"/>
<circle class="a2" cx="473.1" cy="82.4" r="2.9"/>
<circle class="a2" cx="476.1" cy="85.0" r="2.9"/>
<circle class="a2" cx="471.8" cy="79.5" r="2.9"/>
<circle class="a2" cx="471.3" cy="79.5" r="2.9"/>
<circle class="a2" cx="473.1" cy="81.5" r="2.9"/>
<circle class="a2" cx="474.9" cy="85.8" r="2.9"/>
<circle class="a2" cx="470.6" cy="84.6" r="2.9"/>
<circle class="a2" cx="473.3" cy="84.8" r="2.9"/>
<circle class="a2" cx="471.1" cy="83.1" r="2.9"/>
<circle class="a2" cx="475.4" cy="85.4" r="2.9"/>
<circle class="a2" cx="472.5" cy="82.3" r="2.9"/>
<circle class="a2" cx="472.8" cy="80.9" r="2.9"/>
<circle class="a2" cx="470.8" cy="79.7" r="2.9"/>
<circle class="a2" cx="474.6" cy="79.7" r="2.9"/>
<circle class="a2" cx="473.0" cy="85.5" r="2.9"/>
<circle class="a2" cx="472.1" cy="79.1" r="2.9"/>
<circle class="a2" cx="476.3" cy="86.8" r="2.9"/>
<circle class="a2" cx="473.7" cy="81.9" r="2.9"/>
<circle class="a2" cx="475.6" cy="85.4" r="2.9"/>
<circle class="a2" cx="471.8" cy="80.1" r="2.9"/>
<circle class="a0" cx="410.1" cy="72.8" r="2.9"/>
<circle class="a0" cx="416.7" cy="76.5" r="2.9"/>
<circle class="a0" cx="414.0" cy="72.6" r="2.9"/>
<circle class="a0" cx="421.1" cy="71.3" r="2.9"/>
<circle class="a0" cx="421.7" cy="71.1" r="2.9"/>
<circle class="a0" cx="428.7" cy="75.4" r="2.9"/>
<circle class="a0" cx="418.0" cy="70.8" r="2.9"/>
<circle class="a0" cx="438.8" cy="72.2" r="2.9"/>
<circle class="a0" cx="460.8" cy="72.5" r="2.9"/>
<circle class="a0" cx="438.0" cy="71.6" r="2.9"/>
<circle class="a0" cx="452.2" cy="71.9" r="2.9"/>
<circle class="a0" cx="448.8" cy="74.7" r="2.9"/>
<circle class="a0" cx="445.9" cy="72.4" r="2.9"/>
<circle class="a0" cx="424.9" cy="70.3" r="2.9"/>
<circle class="a0" cx="427.7" cy="69.9" r="2.9"/>
<circle class="a0" cx="461.2" cy="71.9" r="2.9"/>
<circle class="a0" cx="463.3" cy="76.9" r="2.9"/>
<circle class="a0" cx="409.6" cy="77.0" r="2.9"/>
<circle class="a0" cx="438.6" cy="74.9" r="2.9"/>
<circle class="a0" cx="428.7" cy="70.2" r="2.9"/>
<circle class="a0" cx="416.9" cy="70.7" r="2.9"/>
<circle class="a0" cx="407.1" cy="76.0" r="2.9"/>
<circle class="a0" cx="422.2" cy="70.2" r="2.9"/>
<circle class="a0" cx="443.2" cy="70.3" r="2.9"/>
<circle class="a0" cx="419.1" cy="72.4" r="2.9"/>
<circle class="a0" cx="410.4" cy="75.2" r="2.9"/>
<circle class="a0" cx="467.9" cy="78.9" r="2.9"/>
<circle class="a0" cx="418.3" cy="72.1" r="2.9"/>
<circle class="a0" cx="453.9" cy="71.5" r="2.9"/>
<circle class="a0" cx="423.7" cy="70.5" r="2.9"/>
<circle class="a0" cx="456.9" cy="76.3" r="2.9"/>
<circle class="a0" cx="439.7" cy="71.5" r="2.9"/>
<circle class="a0" cx="410.5" cy="72.6" r="2.9"/>
<circle class="a0" cx="462.0" cy="72.9" r="2.9"/>
<circle class="a0" cx="417.2" cy="71.7" r="2.9"/>
<circle class="a0" cx="427.0" cy="74.7" r="2.9"/>
<circle class="a0" cx="409.5" cy="75.0" r="2.9"/>
<circle class="a0" cx="420.6" cy="72.8" r="2.9"/>
<circle class="a0" cx="460.6" cy="75.2" r="2.9"/>
<circle class="a0" cx="469.0" cy="79.4" r="2.9"/>
<circle class="a0" cx="426.2" cy="73.8" r="2.9"/>
<circle class="a0" cx="468.7" cy="79.0" r="2.9"/>
<circle class="a0" cx="436.5" cy="69.9" r="2.9"/>
<circle class="a0" cx="460.6" cy="77.6" r="2.9"/>
<circle class="a0" cx="459.3" cy="74.1" r="2.9"/>
<circle class="a0" cx="418.4" cy="70.6" r="2.9"/>
<circle class="a0" cx="469.3" cy="77.3" r="2.9"/>
<circle class="a0" cx="434.1" cy="74.8" r="2.9"/>
<circle class="a0" cx="450.7" cy="73.6" r="2.9"/>
<circle class="a0" cx="468.3" cy="77.6" r="2.9"/>
<circle class="a0" cx="412.7" cy="77.3" r="2.9"/>
<circle class="a0" cx="475.3" cy="82.0" r="2.9"/>
<circle class="a0" cx="417.4" cy="73.5" r="2.9"/>
<circle class="a0" cx="465.1" cy="76.7" r="2.9"/>
<circle class="a0" cx="445.2" cy="71.1" r="2.9"/>
<circle class="a0" cx="462.5" cy="75.6" r="2.9"/>
<circle class="a0" cx="433.2" cy="72.4" r="2.9"/>
<circle class="a0" cx="461.3" cy="73.3" r="2.9"/>
<circle class="a0" cx="408.8" cy="72.6" r="2.9"/>
<circle class="a0" cx="433.0" cy="72.5" r="2.9"/>
<circle class="a0" cx="435.1" cy="74.2" r="2.9"/>
<circle class="a0" cx="461.2" cy="76.1" r="2.9"/>
<circle class="a0" cx="407.2" cy="77.3" r="2.9"/>
<circle class="a0" cx="476.1" cy="81.3" r="2.9"/>
<circle class="a0" cx="414.8" cy="77.0" r="2.9"/>
<circle class="a0" cx="425.4" cy="70.4" r="2.9"/>
<circle class="a0" cx="450.8" cy="73.9" r="2.9"/>
<circle class="a0" cx="417.0" cy="74.7" r="2.9"/>
<circle class="a0" cx="423.7" cy="74.4" r="2.9"/>
<circle class="a0" cx="447.2" cy="74.2" r="2.9"/>
<circle class="a0" cx="414.6" cy="69.5" r="2.9"/>
<circle class="a0" cx="405.2" cy="71.8" r="2.9"/>
<circle class="a0" cx="405.3" cy="71.6" r="2.9"/>
<circle class="a0" cx="404.1" cy="72.1" r="2.9"/>
<circle class="a0" cx="405.8" cy="66.5" r="2.9"/>
<circle class="a0" cx="416.2" cy="71.0" r="2.9"/>
<circle class="a0" cx="416.9" cy="70.8" r="2.9"/>
<circle class="a0" cx="415.6" cy="70.7" r="2.9"/>
<circle class="a0" cx="406.2" cy="71.7" r="2.9"/>
<circle class="a0" cx="417.9" cy="68.1" r="2.9"/>
<circle class="a0" cx="417.5" cy="70.5" r="2.9"/>
<circle class="a0" cx="407.1" cy="72.5" r="2.9"/>
<circle class="a0" cx="408.3" cy="70.9" r="2.9"/>
<circle class="a0" cx="414.3" cy="68.2" r="2.9"/>
<circle class="a0" cx="415.8" cy="66.0" r="2.9"/>
<circle class="a0" cx="403.3" cy="70.8" r="2.9"/>
<circle class="a0" cx="408.5" cy="66.2" r="2.9"/>
<circle class="a0" cx="426.3" cy="67.7" r="2.9"/>
<circle class="a0" cx="435.9" cy="68.3" r="2.9"/>
<circle class="a0" cx="437.8" cy="64.2" r="2.9"/>
<circle class="a0" cx="433.4" cy="68.7" r="2.9"/>
<circle class="a0" cx="438.3" cy="68.8" r="2.9"/>
<circle class="a0" cx="430.0" cy="66.6" r="2.9"/>
<circle class="a0" cx="426.2" cy="64.4" r="2.9"/>
<circle class="a0" cx="435.7" cy="67.8" r="2.9"/>
<circle class="a0" cx="435.5" cy="68.2" r="2.9"/>
<circle class="a0" cx="428.0" cy="62.2" r="2.9"/>
<circle class="a0" cx="432.7" cy="69.8" r="2.9"/>
<circle class="a0" cx="422.4" cy="70.7" r="2.9"/>
<circle class="a0" cx="428.8" cy="69.1" r="2.9"/>
<circle class="a0" cx="434.0" cy="65.1" r="2.9"/>
<circle class="a0" cx="424.0" cy="70.6" r="2.9"/>
<circle class="a0" cx="437.6" cy="65.4" r="2.9"/>
<circle class="a0" cx="429.7" cy="70.0" r="2.9"/>
<circle class="a0" cx="434.6" cy="68.8" r="2.9"/>
<circle class="a0" cx="437.7" cy="66.1" r="2.9"/>
<circle class="a0" cx="426.4" cy="68.1" r="2.9"/>
<circle class="a0" cx="443.5" cy="69.8" r="2.9"/>
<circle class="a0" cx="445.8" cy="60.6" r="2.9"/>
<circle class="a0" cx="453.8" cy="69.1" r="2.9"/>
<circle class="a0" cx="443.0" cy="66.1" r="2.9"/>
<circle class="a0" cx="455.1" cy="67.5" r="2.9"/>
<circle class="a0" cx="440.8" cy="69.6" r="2.9"/>
<circle class="a0" cx="442.0" cy="66.6" r="2.9"/>
<circle class="a0" cx="446.9" cy="68.4" r="2.9"/>
<circle class="a0" cx="440.5" cy="68.1" r="2.9"/>
<circle class="a0" cx="454.5" cy="67.1" r="2.9"/>
<circle class="a0" cx="443.3" cy="61.2" r="2.9"/>
<circle class="a0" cx="453.9" cy="70.9" r="2.9"/>
<circle class="a0" cx="448.2" cy="67.9" r="2.9"/>
<circle class="a0" cx="441.3" cy="67.3" r="2.9"/>
<circle class="a0" cx="447.7" cy="66.6" r="2.9"/>
<circle class="a0" cx="461.4" cy="71.5" r="2.9"/>
<circle class="a0" cx="456.1" cy="70.6" r="2.9"/>
<circle class="a0" cx="464.3" cy="71.5" r="2.9"/>
<circle class="a0" cx="457.0" cy="71.0" r="2.9"/>
<circle class="a0" cx="459.8" cy="72.4" r="2.9"/>
<circle class="a0" cx="455.9" cy="70.7" r="2.9"/>
<circle class="a0" cx="461.1" cy="70.3" r="2.9"/>
<circle class="a0" cx="457.7" cy="70.7" r="2.9"/>
<circle class="a0" cx="458.6" cy="69.8" r="2.9"/>
<circle class="a0" cx="459.1" cy="69.5" r="2.9"/>
<circle class="a0" cx="473.9" cy="75.9" r="2.9"/>
<circle class="a0" cx="473.2" cy="76.4" r="2.9"/>
<circle class="a0" cx="474.5" cy="74.8" r="2.9"/>
<circle class="a0" cx="468.1" cy="75.4" r="2.9"/>
<circle class="a0" cx="469.8" cy="72.9" r="2.9"/>
<circle class="a0" cx="473.0" cy="77.7" r="2.9"/>
<circle class="a0" cx="472.1" cy="77.1" r="2.9"/>
<circle class="a0" cx="471.0" cy="69.9" r="2.9"/>
<circle class="a0" cx="471.6" cy="69.4" r="2.9"/>
<circle class="a0" cx="472.5" cy="72.5" r="2.9"/>
<circle class="a0" cx="465.7" cy="74.3" r="2.9"/>
<circle class="a0" cx="476.5" cy="80.8" r="2.9"/>
<circle class="a0" cx="476.4" cy="78.2" r="2.9"/>
<circle class="a0" cx="477.5" cy="84.6" r="2.9"/>
<circle class="a0" cx="476.7" cy="81.2" r="2.9"/>
<circle class="a0" cx="477.0" cy="81.6" r="2.9"/>
<circle class="a0" cx="475.3" cy="80.5" r="2.9"/>
<circle class="a0" cx="476.9" cy="81.2" r="2.9"/>
<circle class="a0" cx="482.9" cy="89.3" r="2.9"/>
<circle class="a0" cx="481.5" cy="98.6" r="2.9"/>
<circle class="a0" cx="478.7" cy="96.4" r="2.9"/>
<circle class="a0" cx="483.1" cy="93.2" r="2.9"/>
<circle class="a0" cx="485.6" cy="94.1" r="2.9"/>
<circle class="a0" cx="482.4" cy="99.6" r="2.9"/>
<circle class="a0" cx="485.8" cy="86.0" r="2.9"/>
<circle class="a0" cx="480.5" cy="97.4" r="2.9"/>
<circle class="a0" cx="480.1" cy="97.8" r="2.9"/>
<circle class="a0" cx="481.8" cy="93.1" r="2.9"/>
<circle class="a0" cx="481.8" cy="94.1" r="2.9"/>
<circle class="a0" cx="478.7" cy="92.1" r="2.9"/>
<circle class="a0" cx="482.3" cy="88.2" r="2.9"/>
<circle class="a0" cx="479.1" cy="89.5" r="2.9"/>
<circle class="a0" cx="480.8" cy="97.2" r="2.9"/>
<circle class="a0" cx="486.4" cy="91.1" r="2.9"/>
<circle class="a0" cx="481.4" cy="98.1" r="2.9"/>
<circle class="a0" cx="484.0" cy="95.9" r="2.9"/>
<circle class="a0" cx="483.1" cy="86.9" r="2.9"/>
<circle class="a0" cx="481.2" cy="94.3" r="2.9"/>
<circle class="a0" cx="478.3" cy="94.5" r="2.9"/>
<circle class="a0" cx="483.9" cy="105.0" r="2.9"/>
<circle class="a0" cx="484.1" cy="104.9" r="2.9"/>
<circle class="a0" cx="482.2" cy="102.4" r="2.9"/>
<circle class="a0" cx="487.0" cy="100.5" r="2.9"/>
<circle class="a0" cx="485.9" cy="103.8" r="2.9"/>
<circle class="a0" cx="486.7" cy="102.4" r="2.9"/>
<circle class="a0" cx="490.4" cy="103.3" r="2.9"/>
<circle class="a0" cx="481.0" cy="101.9" r="2.9"/>
<circle class="a0" cx="479.9" cy="101.0" r="2.9"/>
<circle class="a0" cx="484.4" cy="102.8" r="2.9"/>
<circle class="a0" cx="488.2" cy="109.1" r="2.9"/>
<circle class="a0" cx="485.2" cy="108.0" r="2.9"/>
<circle class="a0" cx="486.5" cy="105.9" r="2.9"/>
<circle class="a0" cx="487.9" cy="110.8" r="2.9"/>
<circle class="a0" cx="487.3" cy="108.4" r="2.9"/>
<circle class="a0" cx="485.8" cy="108.7" r="2.9"/>
<circle class="a0" cx="487.2" cy="110.1" r="2.9"/>
<circle class="a0" cx="492.6" cy="106.9" r="2.9"/>
<circle class="a0" cx="486.9" cy="109.5" r="2.9"/>
<circle class="a0" cx="486.6" cy="105.8" r="2.9"/>
<circle class="a0" cx="483.6" cy="105.3" r="2.9"/>
<circle class="a0" cx="486.1" cy="108.9" r="2.9"/>
<circle class="a0" cx="490.3" cy="115.5" r="2.9"/>
<circle class="a0" cx="488.8" cy="118.2" r="2.9"/>
<circle class="a0" cx="487.1" cy="114.5" r="2.9"/>
<circle class="a0" cx="488.4" cy="118.7" r="2.9"/>
<circle class="a0" cx="487.5" cy="114.0" r="2.9"/>
<circle class="a0" cx="487.2" cy="114.3" r="2.9"/>
<circle class="a0" cx="496.3" cy="114.5" r="2.9"/>
<circle class="a0" cx="488.0" cy="114.8" r="2.9"/>
<circle class="a0" cx="494.1" cy="119.9" r="2.9"/>
<circle class="a0" cx="493.4" cy="112.4" r="2.9"/>
<circle class="a0" cx="488.0" cy="113.5" r="2.9"/>
<circle class="a0" cx="487.6" cy="115.3" r="2.9"/>
<circle class="a0" cx="487.2" cy="120.3" r="2.9"/>
<circle class="a0" cx="489.5" cy="117.3" r="2.9"/>
<circle class="a1" cx="405.0" cy="47.0" r="2.9"/>
<circle class="a1" cx="405.0" cy="52.0" r="2.9"/>
<circle class="a1" cx="405.0" cy="55.0" r="2.9"/>
<circle class="a1" cx="407.0" cy="57.0" r="2.9"/>
<circle class="a1" cx="410.0" cy="56.0" r="2.9"/>
<circle class="a1" cx="405.0" cy="71.0" r="2.9"/>
<circle class="a1" cx="421.0" cy="40.0" r="2.9"/>
<circle class="a1" cx="413.0" cy="63.0" r="2.9"/>
<circle class="a1" cx="424.0" cy="62.0" r="2.9"/>
<circle class="a1" cx="431.0" cy="55.0" r="2.9"/>
<circle class="a1" cx="439.0" cy="66.0" r="2.9"/>
<circle class="a1" cx="444.0" cy="67.0" r="2.9"/>
<circle class="a1" cx="444.0" cy="57.3" r="2.9"/>
<circle class="a1" cx="450.8" cy="48.6" r="2.9"/>
<circle class="a1" cx="457.0" cy="47.8" r="2.9"/>
<circle class="a1" cx="460.0" cy="66.0" r="2.9"/>
<circle class="a1" cx="467.3" cy="39.2" r="2.9"/>
<circle class="a1" cx="472.5" cy="49.0" r="2.9"/>
<circle class="a1" cx="469.0" cy="71.0" r="2.9"/>
<circle class="a1" cx="474.0" cy="72.0" r="2.9"/>
<circle class="a1" cx="483.6" cy="32.4" r="2.9"/>
<circle class="a1" cx="480.0" cy="77.0" r="2.9"/>
<circle class="a1" cx="485.0" cy="82.0" r="2.9"/>
<circle class="a1" cx="488.0" cy="90.0" r="2.9"/>
<circle class="a1" cx="489.0" cy="97.0" r="2.9"/>
<circle class="a1" cx="501.0" cy="103.0" r="2.9"/>
<circle class="a1" cx="497.5" cy="115.5" r="2.9"/>
<circle class="a1" cx="508.0" cy="115.0" r="2.9"/>
<circle class="a1" cx="491.0" cy="85.0" r="2.9"/>
<circle class="a1" cx="405.0" cy="60.0" r="2.9"/>
<circle class="a1" cx="405.0" cy="66.0" r="2.9"/>
<line x1="405.6" y1="114.0" x2="405.6" y2="121.0" stroke="#dd8452" stroke-width="1.4"/>
<line x1="410.8" y1="111.0" x2="410.8" y2="120.5" stroke="#dd8452" stroke-width="1.4"/>
<line x1="415.6" y1="109.0" x2="415.6" y2="119.5" stroke="#dd8452" stroke-width="1.4"/>
<line x1="420.8" y1="107.0" x2="420.8" y2="119.0" stroke="#dd8452" stroke-width="1.4"/>
<line x1="426.2" y1="105.5" x2="426.2" y2="118.5" stroke="#dd8452" stroke-width="1.4"/>
<line x1="431.9" y1="104.0" x2="431.9" y2="117.5" stroke="#dd8452" stroke-width="1.4"/>
<line x1="437.3" y1="103.0" x2="437.3" y2="117.5" stroke="#dd8452" stroke-width="1.4"/>
<line x1="442.7" y1="102.7" x2="442.7" y2="117.0" stroke="#dd8452" stroke-width="1.4"/>
<line x1="448.5" y1="102.5" x2="448.5" y2="117.5" stroke="#dd8452" stroke-width="1.4"/>
<line x1="454.2" y1="102.5" x2="454.2" y2="117.5" stroke="#dd8452" stroke-width="1.4"/>
<line x1="459.7" y1="102.5" x2="459.7" y2="117.5" stroke="#dd8452" stroke-width="1.4"/>
<line x1="465.5" y1="102.5" x2="465.5" y2="117.7" stroke="#dd8452" stroke-width="1.4"/>
<line x1="471.2" y1="102.5" x2="471.2" y2="117.7" stroke="#dd8452" stroke-width="1.4"/>
<line x1="476.8" y1="102.5" x2="476.8" y2="117.7" stroke="#dd8452" stroke-width="1.4"/>
<line x1="482.5" y1="96.2" x2="482.5" y2="121.3" stroke="#dd8452" stroke-width="1.4"/>
<line x1="488.3" y1="101.6" x2="488.3" y2="115.0" stroke="#dd8452" stroke-width="1.4"/>
<line x1="499.6" y1="102.9" x2="499.6" y2="109.7" stroke="#dd8452" stroke-width="1.4"/>
<polyline points="405.6,117.5 410.8,115.8 415.6,114.2 420.8,113.3 426.2,112.3 431.9,110.8 437.3,110.4 442.7,109.7 448.5,109.7 454.2,109.3 459.7,109.1 465.5,109.7 471.2,109.7 476.8,109.1 482.5,108.2 488.3,108.2 493.8,105.7 499.6,108.8 505.3,122.6 510.9,115.4" fill="none" stroke="#dd8452" stroke-width="1.3"/>
<rect x="403.2" y="115.1" width="4.8" height="4.8" fill="#dd8452"/>
<rect x="408.4" y="113.4" width="4.8" height="4.8" fill="#dd8452"/>
<rect x="413.2" y="111.8" width="4.8" height="4.8" fill="#dd8452"/>
<rect x="418.4" y="110.9" width="4.8" height="4.8" fill="#dd8452"/>
<rect x="423.8" y="109.9" width="4.8" height="4.8" fill="#dd8452"/>
<rect x="429.5" y="108.4" width="4.8" height="4.8" fill="#dd8452"/>
<rect x="434.9" y="108.0" width="4.8" height="4.8" fill="#dd8452"/>
<rect x="440.3" y="107.3" width="4.8" height="4.8" fill="#dd8452"/>
<rect x="446.1" y="107.3" width="4.8" height="4.8" fill="#dd8452"/>
<rect x="451.8" y="106.9" width="4.8" height="4.8" fill="#dd8452"/>
<rect x="457.3" y="106.7" width="4.8" height="4.8" fill="#dd8452"/>
<rect x="463.1" y="107.3" width="4.8" height="4.8" fill="#dd8452"/>
<rect x="468.8" y="107.3" width="4.8" height="4.8" fill="#dd8452"/>
<rect x="474.4" y="106.7" width="4.8" height="4.8" fill="#dd8452"/>
<rect x="480.1" y="105.8" width="4.8" height="4.8" fill="#dd8452"/>
<rect x="485.9" y="105.8" width="4.8" height="4.8" fill="#dd8452"/>
<rect x="491.4" y="103.3" width="4.8" height="4.8" fill="#dd8452"/>
<rect x="497.2" y="106.4" width="4.8" height="4.8" fill="#dd8452"/>
<rect x="502.9" y="120.2" width="4.8" height="4.8" fill="#dd8452"/>
<rect x="508.5" y="113.0" width="4.8" height="4.8" fill="#dd8452"/>
</g>
<g clip-path="url(#c21)">
<line x1="102.60" y1="177.40" x2="102.60" y2="278.50" stroke="#7a7a7a" stroke-width="1.1" stroke-dasharray="4.55 2.0" stroke-dashoffset="1.2"/>
<path d="M44.4 199.0 L45.5 197.0 L47.0 196.7 L48.5 197.0 L49.8 199.0 L50.0 200.4 L64.6 195.5 L79.4 189.3 L89.2 186.4 L99.1 184.4 L105.0 186.0 L110.0 190.0 L115.0 196.0 L120.0 205.0 L125.0 216.0 L129.0 228.0 L131.0 240.0 L130.0 250.0 L126.0 256.0 L118.0 258.0 L110.0 258.3 L90.0 260.7 L70.0 263.2 L50.0 264.4 L49.8 274.0 L48.5 276.5 L47.0 277.0 L45.5 276.5 L44.4 274.0 Z" fill="#4670ae" stroke="#4670ae" stroke-width="2" stroke-linejoin="round"/>
<circle class="a0" cx="52.6" cy="200.1" r="2.9"/>
<circle class="a0" cx="62.0" cy="194.9" r="2.9"/>
<circle class="a0" cx="49.7" cy="196.8" r="2.9"/>
<circle class="a0" cx="52.1" cy="199.9" r="2.9"/>
<circle class="a0" cx="62.2" cy="196.5" r="2.9"/>
<circle class="a0" cx="58.8" cy="197.4" r="2.9"/>
<circle class="a0" cx="55.8" cy="199.2" r="2.9"/>
<circle class="a0" cx="51.2" cy="199.1" r="2.9"/>
<circle class="a0" cx="62.8" cy="195.0" r="2.9"/>
<circle class="a0" cx="57.2" cy="196.8" r="2.9"/>
<circle class="a0" cx="52.8" cy="195.4" r="2.9"/>
<circle class="a0" cx="55.5" cy="196.7" r="2.9"/>
<circle class="a0" cx="60.0" cy="193.4" r="2.9"/>
<circle class="a0" cx="55.3" cy="197.5" r="2.9"/>
<circle class="a0" cx="59.2" cy="196.5" r="2.9"/>
<circle class="a0" cx="58.3" cy="195.9" r="2.9"/>
<circle class="a0" cx="52.5" cy="193.7" r="2.9"/>
<circle class="a0" cx="56.1" cy="199.2" r="2.9"/>
<circle class="a0" cx="61.7" cy="191.7" r="2.9"/>
<circle class="a0" cx="75.0" cy="190.0" r="2.9"/>
<circle class="a0" cx="79.2" cy="187.8" r="2.9"/>
<circle class="a0" cx="75.2" cy="188.4" r="2.9"/>
<circle class="a0" cx="70.6" cy="193.6" r="2.9"/>
<circle class="a0" cx="75.7" cy="189.1" r="2.9"/>
<circle class="a0" cx="76.8" cy="190.1" r="2.9"/>
<circle class="a0" cx="74.7" cy="192.3" r="2.9"/>
<circle class="a0" cx="70.0" cy="193.7" r="2.9"/>
<circle class="a0" cx="70.2" cy="193.5" r="2.9"/>
<circle class="a0" cx="71.0" cy="191.1" r="2.9"/>
<circle class="a0" cx="64.8" cy="191.7" r="2.9"/>
<circle class="a0" cx="74.3" cy="192.0" r="2.9"/>
<circle class="a0" cx="71.1" cy="190.8" r="2.9"/>
<circle class="a0" cx="70.0" cy="189.1" r="2.9"/>
<circle class="a0" cx="73.9" cy="191.1" r="2.9"/>
<circle class="a0" cx="79.6" cy="189.6" r="2.9"/>
<circle class="a0" cx="77.2" cy="186.2" r="2.9"/>
<circle class="a0" cx="72.3" cy="192.4" r="2.9"/>
<circle class="a0" cx="65.6" cy="194.1" r="2.9"/>
<circle class="a0" cx="71.3" cy="193.0" r="2.9"/>
<circle class="a0" cx="81.3" cy="188.3" r="2.9"/>
<circle class="a0" cx="85.4" cy="185.3" r="2.9"/>
<circle class="a0" cx="86.3" cy="188.2" r="2.9"/>
<circle class="a0" cx="85.1" cy="184.9" r="2.9"/>
<circle class="a0" cx="87.0" cy="186.4" r="2.9"/>
<circle class="a0" cx="84.2" cy="181.9" r="2.9"/>
<circle class="a0" cx="83.9" cy="188.9" r="2.9"/>
<circle class="a0" cx="83.9" cy="187.4" r="2.9"/>
<circle class="a0" cx="87.8" cy="185.3" r="2.9"/>
<circle class="a0" cx="85.4" cy="185.9" r="2.9"/>
<circle class="a0" cx="87.0" cy="186.9" r="2.9"/>
<circle class="a0" cx="84.7" cy="188.9" r="2.9"/>
<circle class="a0" cx="83.5" cy="188.2" r="2.9"/>
<circle class="a0" cx="91.8" cy="186.6" r="2.9"/>
<circle class="a0" cx="95.3" cy="183.4" r="2.9"/>
<circle class="a0" cx="90.6" cy="181.4" r="2.9"/>
<circle class="a0" cx="92.3" cy="186.3" r="2.9"/>
<circle class="a0" cx="97.9" cy="182.9" r="2.9"/>
<circle class="a0" cx="99.2" cy="185.1" r="2.9"/>
<circle class="a0" cx="90.1" cy="185.9" r="2.9"/>
<circle class="a0" cx="90.6" cy="185.6" r="2.9"/>
<circle class="a0" cx="98.2" cy="185.0" r="2.9"/>
<circle class="a0" cx="97.8" cy="182.8" r="2.9"/>
<circle class="a0" cx="99.4" cy="180.8" r="2.9"/>
<circle class="a0" cx="97.4" cy="184.6" r="2.9"/>
<circle class="a0" cx="92.9" cy="181.8" r="2.9"/>
<circle class="a0" cx="104.1" cy="182.4" r="2.9"/>
<circle class="a0" cx="107.7" cy="179.1" r="2.9"/>
<circle class="a0" cx="100.2" cy="185.4" r="2.9"/>
<circle class="a0" cx="103.3" cy="182.0" r="2.9"/>
<circle class="a0" cx="105.8" cy="180.5" r="2.9"/>
<circle class="a0" cx="102.9" cy="185.9" r="2.9"/>
<circle class="a0" cx="105.2" cy="183.4" r="2.9"/>
<circle class="a0" cx="101.8" cy="186.5" r="2.9"/>
<circle class="a0" cx="99.7" cy="186.4" r="2.9"/>
<circle class="a0" cx="103.5" cy="186.8" r="2.9"/>
<circle class="a0" cx="103.5" cy="185.1" r="2.9"/>
<circle class="a0" cx="100.6" cy="187.5" r="2.9"/>
<circle class="a0" cx="101.7" cy="185.3" r="2.9"/>
<circle class="a0" cx="99.9" cy="185.4" r="2.9"/>
<circle class="a0" cx="113.7" cy="175.0" r="2.9"/>
<circle class="a0" cx="99.7" cy="183.9" r="2.9"/>
<circle class="a0" cx="108.0" cy="179.2" r="2.9"/>
<circle class="a0" cx="104.5" cy="183.8" r="2.9"/>
<circle class="a0" cx="107.0" cy="185.1" r="2.9"/>
<circle class="a0" cx="113.6" cy="181.9" r="2.9"/>
<circle class="a0" cx="108.7" cy="185.7" r="2.9"/>
<circle class="a0" cx="108.8" cy="186.8" r="2.9"/>
<circle class="a0" cx="107.3" cy="191.3" r="2.9"/>
<circle class="a0" cx="110.4" cy="186.8" r="2.9"/>
<circle class="a0" cx="108.6" cy="190.5" r="2.9"/>
<circle class="a0" cx="109.0" cy="188.4" r="2.9"/>
<circle class="a0" cx="108.1" cy="190.9" r="2.9"/>
<circle class="a0" cx="113.2" cy="184.0" r="2.9"/>
<circle class="a0" cx="104.1" cy="186.9" r="2.9"/>
<circle class="a0" cx="105.6" cy="187.2" r="2.9"/>
<circle class="a0" cx="104.7" cy="188.4" r="2.9"/>
<circle class="a0" cx="110.1" cy="182.4" r="2.9"/>
<circle class="a0" cx="103.5" cy="187.2" r="2.9"/>
<circle class="a0" cx="109.7" cy="185.2" r="2.9"/>
<circle class="a0" cx="116.9" cy="181.7" r="2.9"/>
<circle class="a0" cx="108.3" cy="186.3" r="2.9"/>
<circle class="a0" cx="112.4" cy="179.3" r="2.9"/>
<circle class="a0" cx="108.6" cy="191.6" r="2.9"/>
<circle class="a0" cx="114.4" cy="195.8" r="2.9"/>
<circle class="a0" cx="113.5" cy="190.1" r="2.9"/>
<circle class="a0" cx="115.5" cy="188.6" r="2.9"/>
<circle class="a0" cx="119.9" cy="188.1" r="2.9"/>
<circle class="a0" cx="110.9" cy="192.7" r="2.9"/>
<circle class="a0" cx="111.0" cy="193.6" r="2.9"/>
<circle class="a0" cx="112.0" cy="191.6" r="2.9"/>
<circle class="a0" cx="122.3" cy="182.1" r="2.9"/>
<circle class="a0" cx="114.4" cy="190.1" r="2.9"/>
<circle class="a0" cx="111.1" cy="195.7" r="2.9"/>
<circle class="a0" cx="112.9" cy="192.5" r="2.9"/>
<circle class="a0" cx="109.5" cy="193.4" r="2.9"/>
<circle class="a0" cx="114.3" cy="194.3" r="2.9"/>
<circle class="a0" cx="110.7" cy="192.3" r="2.9"/>
<circle class="a0" cx="123.0" cy="182.8" r="2.9"/>
<circle class="a0" cx="110.3" cy="192.8" r="2.9"/>
<circle class="a0" cx="111.5" cy="192.2" r="2.9"/>
<circle class="a0" cx="110.2" cy="189.6" r="2.9"/>
<circle class="a0" cx="116.9" cy="187.0" r="2.9"/>
<circle class="a0" cx="112.7" cy="196.7" r="2.9"/>
<circle class="a0" cx="113.3" cy="192.3" r="2.9"/>
<circle class="a0" cx="111.9" cy="189.3" r="2.9"/>
<circle class="a0" cx="114.1" cy="198.3" r="2.9"/>
<circle class="a0" cx="114.2" cy="199.4" r="2.9"/>
<circle class="a0" cx="117.1" cy="199.4" r="2.9"/>
<circle class="a0" cx="118.1" cy="203.4" r="2.9"/>
<circle class="a0" cx="119.7" cy="202.8" r="2.9"/>
<circle class="a0" cx="116.2" cy="203.6" r="2.9"/>
<circle class="a0" cx="130.3" cy="194.3" r="2.9"/>
<circle class="a0" cx="117.7" cy="202.7" r="2.9"/>
<circle class="a0" cx="114.0" cy="197.5" r="2.9"/>
<circle class="a0" cx="117.0" cy="205.0" r="2.9"/>
<circle class="a0" cx="115.5" cy="200.1" r="2.9"/>
<circle class="a0" cx="124.8" cy="195.7" r="2.9"/>
<circle class="a0" cx="118.0" cy="193.3" r="2.9"/>
<circle class="a0" cx="117.7" cy="194.7" r="2.9"/>
<circle class="a0" cx="119.9" cy="198.8" r="2.9"/>
<circle class="a0" cx="116.3" cy="199.9" r="2.9"/>
<circle class="a0" cx="120.9" cy="198.3" r="2.9"/>
<circle class="a0" cx="127.4" cy="190.9" r="2.9"/>
<circle class="a0" cx="118.9" cy="205.4" r="2.9"/>
<circle class="a0" cx="116.0" cy="202.8" r="2.9"/>
<circle class="a0" cx="124.4" cy="198.1" r="2.9"/>
<circle class="a0" cx="120.1" cy="202.9" r="2.9"/>
<circle class="a0" cx="113.2" cy="199.4" r="2.9"/>
<circle class="a0" cx="121.5" cy="196.8" r="2.9"/>
<circle class="a0" cx="117.3" cy="202.9" r="2.9"/>
<circle class="a0" cx="120.6" cy="196.5" r="2.9"/>
<circle class="a0" cx="121.3" cy="192.2" r="2.9"/>
<circle class="a0" cx="114.8" cy="198.9" r="2.9"/>
<circle class="a0" cx="119.3" cy="199.0" r="2.9"/>
<circle class="a0" cx="118.9" cy="202.5" r="2.9"/>
<circle class="a0" cx="119.7" cy="194.2" r="2.9"/>
<circle class="a0" cx="124.0" cy="216.8" r="2.9"/>
<circle class="a0" cx="124.5" cy="213.2" r="2.9"/>
<circle class="a0" cx="119.9" cy="207.2" r="2.9"/>
<circle class="a0" cx="120.7" cy="211.0" r="2.9"/>
<circle class="a0" cx="126.2" cy="204.2" r="2.9"/>
<circle class="a0" cx="119.6" cy="205.7" r="2.9"/>
<circle class="a0" cx="120.9" cy="204.6" r="2.9"/>
<circle class="a0" cx="124.3" cy="216.2" r="2.9"/>
<circle class="a0" cx="120.9" cy="208.4" r="2.9"/>
<circle class="a0" cx="129.5" cy="211.0" r="2.9"/>
<circle class="a0" cx="123.4" cy="211.4" r="2.9"/>
<circle class="a0" cx="122.6" cy="214.7" r="2.9"/>
<circle class="a0" cx="122.6" cy="214.8" r="2.9"/>
<circle class="a0" cx="124.1" cy="208.2" r="2.9"/>
<circle class="a0" cx="127.4" cy="211.4" r="2.9"/>
<circle class="a0" cx="125.9" cy="212.8" r="2.9"/>
<circle class="a0" cx="122.5" cy="214.5" r="2.9"/>
<circle class="a0" cx="122.9" cy="212.0" r="2.9"/>
<circle class="a0" cx="121.9" cy="209.3" r="2.9"/>
<circle class="a0" cx="123.7" cy="211.3" r="2.9"/>
<circle class="a0" cx="122.4" cy="203.9" r="2.9"/>
<circle class="a0" cx="121.7" cy="206.8" r="2.9"/>
<circle class="a0" cx="124.8" cy="215.5" r="2.9"/>
<circle class="a0" cx="121.5" cy="208.6" r="2.9"/>
<circle class="a0" cx="125.5" cy="215.8" r="2.9"/>
<circle class="a0" cx="123.7" cy="216.3" r="2.9"/>
<circle class="a0" cx="121.5" cy="207.2" r="2.9"/>
<circle class="a0" cx="123.7" cy="216.0" r="2.9"/>
<circle class="a0" cx="124.1" cy="202.1" r="2.9"/>
<circle class="a0" cx="121.8" cy="214.7" r="2.9"/>
<circle class="a0" cx="119.2" cy="208.2" r="2.9"/>
<circle class="a0" cx="131.9" cy="197.7" r="2.9"/>
<circle class="a0" cx="119.3" cy="207.8" r="2.9"/>
<circle class="a0" cx="120.9" cy="209.9" r="2.9"/>
<circle class="a0" cx="120.8" cy="208.9" r="2.9"/>
<circle class="a0" cx="119.8" cy="206.8" r="2.9"/>
<circle class="a0" cx="126.2" cy="216.0" r="2.9"/>
<circle class="a0" cx="127.9" cy="214.0" r="2.9"/>
<circle class="a0" cx="128.4" cy="213.6" r="2.9"/>
<circle class="a0" cx="132.6" cy="219.7" r="2.9"/>
<circle class="a0" cx="125.9" cy="225.3" r="2.9"/>
<circle class="a0" cx="128.8" cy="216.1" r="2.9"/>
<circle class="a0" cx="130.5" cy="212.2" r="2.9"/>
<circle class="a0" cx="137.4" cy="211.8" r="2.9"/>
<circle class="a0" cx="125.5" cy="219.5" r="2.9"/>
<circle class="a0" cx="128.3" cy="222.0" r="2.9"/>
<circle class="a0" cx="124.8" cy="223.7" r="2.9"/>
<circle class="a0" cx="126.1" cy="224.1" r="2.9"/>
<circle class="a0" cx="127.1" cy="225.6" r="2.9"/>
<circle class="a0" cx="127.3" cy="225.1" r="2.9"/>
<circle class="a0" cx="127.6" cy="216.8" r="2.9"/>
<circle class="a0" cx="126.4" cy="217.7" r="2.9"/>
<circle class="a0" cx="128.6" cy="224.3" r="2.9"/>
<circle class="a0" cx="128.6" cy="224.7" r="2.9"/>
<circle class="a0" cx="127.1" cy="222.3" r="2.9"/>
<circle class="a0" cx="133.6" cy="212.4" r="2.9"/>
<circle class="a0" cx="125.9" cy="217.4" r="2.9"/>
<circle class="a0" cx="127.4" cy="227.0" r="2.9"/>
<circle class="a0" cx="128.9" cy="227.2" r="2.9"/>
<circle class="a0" cx="129.0" cy="224.5" r="2.9"/>
<circle class="a0" cx="124.6" cy="219.8" r="2.9"/>
<circle class="a0" cx="134.6" cy="217.1" r="2.9"/>
<circle class="a0" cx="124.9" cy="220.7" r="2.9"/>
<circle class="a0" cx="127.5" cy="217.4" r="2.9"/>
<circle class="a0" cx="129.8" cy="214.4" r="2.9"/>
<circle class="a0" cx="125.4" cy="217.5" r="2.9"/>
<circle class="a0" cx="135.8" cy="219.6" r="2.9"/>
<circle class="a0" cx="127.7" cy="218.3" r="2.9"/>
<circle class="a0" cx="126.3" cy="216.4" r="2.9"/>
<circle class="a0" cx="128.2" cy="221.0" r="2.9"/>
<circle class="a0" cx="132.8" cy="220.3" r="2.9"/>
<circle class="a0" cx="125.2" cy="222.7" r="2.9"/>
<circle class="a0" cx="131.3" cy="216.3" r="2.9"/>
<circle class="a0" cx="127.8" cy="227.3" r="2.9"/>
<circle class="a0" cx="129.3" cy="241.8" r="2.9"/>
<circle class="a0" cx="131.3" cy="234.5" r="2.9"/>
<circle class="a0" cx="131.6" cy="233.9" r="2.9"/>
<circle class="a0" cx="136.9" cy="222.0" r="2.9"/>
<circle class="a0" cx="131.8" cy="231.9" r="2.9"/>
<circle class="a0" cx="129.5" cy="236.4" r="2.9"/>
<circle class="a0" cx="132.8" cy="232.4" r="2.9"/>
<circle class="a0" cx="130.4" cy="226.6" r="2.9"/>
<circle class="a0" cx="130.6" cy="236.7" r="2.9"/>
<circle class="a0" cx="127.3" cy="230.7" r="2.9"/>
<circle class="a0" cx="130.6" cy="233.8" r="2.9"/>
<circle class="a0" cx="128.1" cy="235.3" r="2.9"/>
<circle class="a0" cx="130.9" cy="233.7" r="2.9"/>
<circle class="a0" cx="132.4" cy="235.5" r="2.9"/>
<circle class="a0" cx="126.9" cy="232.0" r="2.9"/>
<circle class="a0" cx="129.9" cy="234.9" r="2.9"/>
<circle class="a0" cx="137.5" cy="231.4" r="2.9"/>
<circle class="a0" cx="128.7" cy="233.5" r="2.9"/>
<circle class="a0" cx="131.8" cy="229.2" r="2.9"/>
<circle class="a0" cx="132.5" cy="228.8" r="2.9"/>
<circle class="a0" cx="134.5" cy="233.1" r="2.9"/>
<circle class="a0" cx="136.1" cy="234.2" r="2.9"/>
<circle class="a0" cx="128.8" cy="233.8" r="2.9"/>
<circle class="a0" cx="137.9" cy="232.6" r="2.9"/>
<circle class="a0" cx="128.5" cy="233.4" r="2.9"/>
<circle class="a0" cx="129.3" cy="239.4" r="2.9"/>
<circle class="a0" cx="131.1" cy="227.6" r="2.9"/>
<circle class="a0" cx="129.9" cy="232.1" r="2.9"/>
<circle class="a0" cx="129.2" cy="234.6" r="2.9"/>
<circle class="a0" cx="129.4" cy="239.5" r="2.9"/>
<circle class="a0" cx="127.1" cy="230.0" r="2.9"/>
<circle class="a0" cx="140.1" cy="221.9" r="2.9"/>
<circle class="a0" cx="129.6" cy="237.7" r="2.9"/>
<circle class="a0" cx="127.6" cy="231.4" r="2.9"/>
<circle class="a0" cx="130.1" cy="238.3" r="2.9"/>
<circle class="a0" cx="133.2" cy="231.9" r="2.9"/>
<circle class="a0" cx="128.7" cy="246.2" r="2.9"/>
<circle class="a0" cx="129.3" cy="248.3" r="2.9"/>
<circle class="a0" cx="130.1" cy="247.6" r="2.9"/>
<circle class="a0" cx="132.8" cy="242.0" r="2.9"/>
<circle class="a0" cx="132.1" cy="244.7" r="2.9"/>
<circle class="a0" cx="132.6" cy="246.6" r="2.9"/>
<circle class="a0" cx="140.7" cy="239.4" r="2.9"/>
<circle class="a0" cx="131.0" cy="240.1" r="2.9"/>
<circle class="a0" cx="129.7" cy="250.4" r="2.9"/>
<circle class="a0" cx="130.7" cy="246.3" r="2.9"/>
<circle class="a0" cx="139.9" cy="232.3" r="2.9"/>
<circle class="a0" cx="128.4" cy="247.9" r="2.9"/>
<circle class="a0" cx="129.5" cy="247.0" r="2.9"/>
<circle class="a0" cx="130.1" cy="240.5" r="2.9"/>
<circle class="a0" cx="133.2" cy="242.1" r="2.9"/>
<circle class="a0" cx="130.2" cy="249.2" r="2.9"/>
<circle class="a0" cx="131.1" cy="245.2" r="2.9"/>
<circle class="a0" cx="128.5" cy="248.9" r="2.9"/>
<circle class="a0" cx="128.9" cy="249.2" r="2.9"/>
<circle class="a0" cx="132.5" cy="239.1" r="2.9"/>
<circle class="a0" cx="128.9" cy="248.3" r="2.9"/>
<circle class="a0" cx="132.8" cy="246.4" r="2.9"/>
<circle class="a0" cx="130.2" cy="245.5" r="2.9"/>
<circle class="a0" cx="132.7" cy="240.0" r="2.9"/>
<circle class="a0" cx="132.1" cy="244.3" r="2.9"/>
<circle class="a0" cx="129.8" cy="247.4" r="2.9"/>
<circle class="a0" cx="141.4" cy="233.9" r="2.9"/>
<circle class="a0" cx="133.4" cy="245.1" r="2.9"/>
<circle class="a0" cx="128.8" cy="249.7" r="2.9"/>
<circle class="a0" cx="136.0" cy="243.2" r="2.9"/>
<circle class="a0" cx="133.1" cy="247.6" r="2.9"/>
<circle class="a0" cx="130.3" cy="250.1" r="2.9"/>
<circle class="a0" cx="130.4" cy="250.2" r="2.9"/>
<circle class="a0" cx="128.6" cy="252.7" r="2.9"/>
<circle class="a0" cx="128.1" cy="252.2" r="2.9"/>
<circle class="a0" cx="129.8" cy="251.3" r="2.9"/>
<circle class="a0" cx="127.6" cy="253.4" r="2.9"/>
<circle class="a0" cx="124.6" cy="257.0" r="2.9"/>
<circle class="a0" cx="131.6" cy="248.4" r="2.9"/>
<circle class="a0" cx="127.9" cy="253.8" r="2.9"/>
<circle class="a0" cx="138.3" cy="242.8" r="2.9"/>
<circle class="a0" cx="127.2" cy="253.9" r="2.9"/>
<circle class="a0" cx="128.3" cy="251.9" r="2.9"/>
<circle class="a0" cx="126.1" cy="255.5" r="2.9"/>
<circle class="a0" cx="127.5" cy="253.3" r="2.9"/>
<circle class="a0" cx="129.3" cy="251.4" r="2.9"/>
<circle class="a0" cx="127.7" cy="253.3" r="2.9"/>
<circle class="a0" cx="127.4" cy="252.6" r="2.9"/>
<circle class="a0" cx="127.6" cy="253.7" r="2.9"/>
<circle class="a0" cx="128.2" cy="251.6" r="2.9"/>
<circle class="a0" cx="126.4" cy="255.6" r="2.9"/>
<circle class="a0" cx="127.4" cy="252.9" r="2.9"/>
<circle class="a0" cx="111.8" cy="258.1" r="2.9"/>
<circle class="a0" cx="114.7" cy="257.7" r="2.9"/>
<circle class="a0" cx="114.0" cy="257.1" r="2.9"/>
<circle class="a0" cx="109.9" cy="257.4" r="2.9"/>
<circle class="a0" cx="112.1" cy="259.6" r="2.9"/>
<circle class="a0" cx="114.5" cy="259.5" r="2.9"/>
<circle class="a0" cx="101.6" cy="258.4" r="2.9"/>
<circle class="a0" cx="96.4" cy="259.9" r="2.9"/>
<circle class="a0" cx="90.0" cy="260.1" r="2.9"/>
<circle class="a0" cx="97.3" cy="258.9" r="2.9"/>
<circle class="a0" cx="91.7" cy="259.7" r="2.9"/>
<circle class="a0" cx="106.4" cy="261.2" r="2.9"/>
<circle class="a0" cx="100.8" cy="258.6" r="2.9"/>
<circle class="a0" cx="104.5" cy="258.5" r="2.9"/>
<circle class="a0" cx="102.4" cy="258.6" r="2.9"/>
<circle class="a0" cx="101.3" cy="259.2" r="2.9"/>
<circle class="a0" cx="106.8" cy="257.7" r="2.9"/>
<circle class="a0" cx="106.5" cy="257.8" r="2.9"/>
<circle class="a0" cx="100.1" cy="258.9" r="2.9"/>
<circle class="a0" cx="99.2" cy="258.6" r="2.9"/>
<circle class="a0" cx="100.2" cy="262.5" r="2.9"/>
<circle class="a0" cx="71.1" cy="266.1" r="2.9"/>
<circle class="a0" cx="71.1" cy="263.9" r="2.9"/>
<circle class="a0" cx="78.0" cy="262.8" r="2.9"/>
<circle class="a0" cx="76.9" cy="262.6" r="2.9"/>
<circle class="a0" cx="75.9" cy="263.1" r="2.9"/>
<circle class="a0" cx="81.9" cy="260.7" r="2.9"/>
<circle class="a0" cx="75.4" cy="262.0" r="2.9"/>
<circle class="a0" cx="77.8" cy="263.9" r="2.9"/>
<circle class="a0" cx="78.9" cy="263.2" r="2.9"/>
<circle class="a0" cx="70.8" cy="262.7" r="2.9"/>
<circle class="a0" cx="87.3" cy="261.3" r="2.9"/>
<circle class="a0" cx="81.5" cy="262.0" r="2.9"/>
<circle class="a0" cx="78.6" cy="263.2" r="2.9"/>
<circle class="a0" cx="86.2" cy="260.8" r="2.9"/>
<circle class="a0" cx="72.0" cy="262.8" r="2.9"/>
<circle class="a0" cx="52.2" cy="263.9" r="2.9"/>
<circle class="a0" cx="61.9" cy="264.6" r="2.9"/>
<circle class="a0" cx="66.4" cy="262.5" r="2.9"/>
<circle class="a0" cx="59.5" cy="264.2" r="2.9"/>
<circle class="a0" cx="61.4" cy="262.8" r="2.9"/>
<circle class="a0" cx="69.1" cy="263.5" r="2.9"/>
<circle class="a0" cx="62.4" cy="263.3" r="2.9"/>
<circle class="a0" cx="69.0" cy="266.3" r="2.9"/>
<circle class="a0" cx="69.7" cy="266.2" r="2.9"/>
<circle class="a0" cx="57.4" cy="263.9" r="2.9"/>
<circle class="a0" cx="61.8" cy="266.7" r="2.9"/>
<circle class="a0" cx="61.9" cy="262.9" r="2.9"/>
<circle class="a0" cx="66.8" cy="263.5" r="2.9"/>
<circle class="a0" cx="68.0" cy="264.6" r="2.9"/>
<circle class="a0" cx="68.7" cy="262.3" r="2.9"/>
<circle class="a1" cx="133.0" cy="192.5" r="2.9"/>
<circle class="a1" cx="137.0" cy="201.0" r="2.9"/>
<circle class="a1" cx="145.7" cy="203.0" r="2.9"/>
<circle class="a1" cx="143.3" cy="213.0" r="2.9"/>
<circle class="a1" cx="138.0" cy="253.0" r="2.9"/>
<circle class="a1" cx="140.0" cy="240.0" r="2.9"/>
<circle class="a1" cx="138.0" cy="230.0" r="2.9"/>
<circle class="a1" cx="143.0" cy="245.0" r="2.9"/>
<circle class="a1" cx="92.2" cy="182.0" r="2.9"/>
<circle class="a1" cx="135.0" cy="196.0" r="2.9"/>
<circle class="a1" cx="140.0" cy="208.0" r="2.9"/>
<circle class="a4" cx="159.6" cy="194.0" r="2.9"/>
<circle class="a4" cx="159.6" cy="197.0" r="2.9"/>
<circle class="a4" cx="159.6" cy="200.0" r="2.9"/>
<circle class="a4" cx="159.6" cy="203.0" r="2.9"/>
<circle class="a4" cx="159.6" cy="206.0" r="2.9"/>
<circle class="a4" cx="159.6" cy="209.0" r="2.9"/>
<circle class="a4" cx="159.6" cy="212.0" r="2.9"/>
<circle class="a4" cx="159.6" cy="215.0" r="2.9"/>
<circle class="a4" cx="159.6" cy="240.0" r="2.9"/>
<circle class="a4" cx="159.6" cy="243.0" r="2.9"/>
<circle class="a4" cx="159.6" cy="246.0" r="2.9"/>
<circle class="a4" cx="159.6" cy="249.0" r="2.9"/>
<line x1="47.1" y1="238.3" x2="47.1" y2="263.7" stroke="#dd8452" stroke-width="1.4"/>
<line x1="50.0" y1="230.6" x2="50.0" y2="259.4" stroke="#dd8452" stroke-width="1.4"/>
<line x1="56.2" y1="226.7" x2="56.2" y2="257.5" stroke="#dd8452" stroke-width="1.4"/>
<line x1="62.3" y1="223.5" x2="62.3" y2="254.6" stroke="#dd8452" stroke-width="1.4"/>
<line x1="68.7" y1="219.6" x2="68.7" y2="251.7" stroke="#dd8452" stroke-width="1.4"/>
<line x1="75.0" y1="216.5" x2="75.0" y2="248.8" stroke="#dd8452" stroke-width="1.4"/>
<line x1="81.3" y1="213.3" x2="81.3" y2="245.0" stroke="#dd8452" stroke-width="1.4"/>
<line x1="87.3" y1="211.3" x2="87.3" y2="242.7" stroke="#dd8452" stroke-width="1.4"/>
<line x1="93.4" y1="210.4" x2="93.4" y2="240.8" stroke="#dd8452" stroke-width="1.4"/>
<line x1="99.5" y1="210.4" x2="99.5" y2="240.0" stroke="#dd8452" stroke-width="1.4"/>
<line x1="105.6" y1="210.4" x2="105.6" y2="240.0" stroke="#dd8452" stroke-width="1.4"/>
<line x1="111.9" y1="210.4" x2="111.9" y2="240.0" stroke="#dd8452" stroke-width="1.4"/>
<line x1="118.2" y1="209.5" x2="118.2" y2="241.7" stroke="#dd8452" stroke-width="1.4"/>
<line x1="124.4" y1="210.4" x2="124.4" y2="240.0" stroke="#dd8452" stroke-width="1.4"/>
<line x1="130.7" y1="210.4" x2="130.7" y2="240.0" stroke="#dd8452" stroke-width="1.4"/>
<line x1="136.6" y1="211.0" x2="136.6" y2="239.0" stroke="#dd8452" stroke-width="1.4"/>
<line x1="142.9" y1="215.7" x2="142.9" y2="239.0" stroke="#dd8452" stroke-width="1.4"/>
<line x1="148.8" y1="216.6" x2="148.8" y2="227.4" stroke="#dd8452" stroke-width="1.4"/>
<line x1="161.4" y1="205.9" x2="161.4" y2="238.0" stroke="#dd8452" stroke-width="1.4"/>
<polyline points="47.1,251.2 50.0,244.6 56.2,242.1 62.3,238.8 68.7,235.8 75.0,233.1 81.3,229.2 87.3,226.9 93.4,225.6 99.5,224.9 105.6,224.3 111.9,225.1 118.2,225.6 124.4,224.7 130.7,225.2 136.6,225.6 142.9,227.4 148.8,222.0 161.4,222.0" fill="none" stroke="#dd8452" stroke-width="1.3"/>
<rect x="44.7" y="248.8" width="4.8" height="4.8" fill="#dd8452"/>
<rect x="47.6" y="242.2" width="4.8" height="4.8" fill="#dd8452"/>
<rect x="53.8" y="239.7" width="4.8" height="4.8" fill="#dd8452"/>
<rect x="59.9" y="236.4" width="4.8" height="4.8" fill="#dd8452"/>
<rect x="66.3" y="233.4" width="4.8" height="4.8" fill="#dd8452"/>
<rect x="72.6" y="230.7" width="4.8" height="4.8" fill="#dd8452"/>
<rect x="78.9" y="226.8" width="4.8" height="4.8" fill="#dd8452"/>
<rect x="84.9" y="224.5" width="4.8" height="4.8" fill="#dd8452"/>
<rect x="91.0" y="223.2" width="4.8" height="4.8" fill="#dd8452"/>
<rect x="97.1" y="222.5" width="4.8" height="4.8" fill="#dd8452"/>
<rect x="103.2" y="221.9" width="4.8" height="4.8" fill="#dd8452"/>
<rect x="109.5" y="222.7" width="4.8" height="4.8" fill="#dd8452"/>
<rect x="115.8" y="223.2" width="4.8" height="4.8" fill="#dd8452"/>
<rect x="122.0" y="222.3" width="4.8" height="4.8" fill="#dd8452"/>
<rect x="128.3" y="222.8" width="4.8" height="4.8" fill="#dd8452"/>
<rect x="134.2" y="223.2" width="4.8" height="4.8" fill="#dd8452"/>
<rect x="140.5" y="225.0" width="4.8" height="4.8" fill="#dd8452"/>
<rect x="146.4" y="219.6" width="4.8" height="4.8" fill="#dd8452"/>
<rect x="159.0" y="219.6" width="4.8" height="4.8" fill="#dd8452"/>
</g>
<g clip-path="url(#c22)">
<line x1="279.00" y1="177.40" x2="279.00" y2="278.50" stroke="#7a7a7a" stroke-width="1.1" stroke-dasharray="4.55 2.0" stroke-dashoffset="1.2"/>
<path d="M220.7 189.0 L222.0 187.0 L223.5 186.8 L225.0 187.0 L226.3 188.7 L240.0 186.8 L260.0 183.1 L280.0 180.7 L295.0 180.0 L303.0 181.0 L309.0 184.0 L312.0 189.0 L311.0 195.0 L305.0 201.4 L297.6 206.3 L287.8 210.0 L278.0 213.6 L268.3 219.7 L258.5 227.0 L250.0 232.0 L240.0 235.6 L226.3 236.8 L226.3 244.0 L225.0 246.4 L223.5 246.8 L222.0 246.4 L220.7 244.0 Z" fill="#4670ae" stroke="#4670ae" stroke-width="2" stroke-linejoin="round"/>
<circle class="a0" cx="229.7" cy="187.0" r="2.9"/>
<circle class="a0" cx="233.7" cy="188.6" r="2.9"/>
<circle class="a0" cx="230.4" cy="189.0" r="2.9"/>
<circle class="a0" cx="226.5" cy="186.1" r="2.9"/>
<circle class="a0" cx="239.6" cy="186.4" r="2.9"/>
<circle class="a0" cx="227.4" cy="188.3" r="2.9"/>
<circle class="a0" cx="237.5" cy="187.9" r="2.9"/>
<circle class="a0" cx="230.6" cy="187.3" r="2.9"/>
<circle class="a0" cx="229.8" cy="188.5" r="2.9"/>
<circle class="a0" cx="232.3" cy="188.7" r="2.9"/>
<circle class="a0" cx="259.0" cy="184.3" r="2.9"/>
<circle class="a0" cx="241.7" cy="187.1" r="2.9"/>
<circle class="a0" cx="243.7" cy="186.7" r="2.9"/>
<circle class="a0" cx="253.8" cy="184.1" r="2.9"/>
<circle class="a0" cx="255.1" cy="182.3" r="2.9"/>
<circle class="a0" cx="243.1" cy="187.0" r="2.9"/>
<circle class="a0" cx="242.2" cy="183.2" r="2.9"/>
<circle class="a0" cx="241.5" cy="187.4" r="2.9"/>
<circle class="a0" cx="257.1" cy="183.7" r="2.9"/>
<circle class="a0" cx="241.8" cy="186.3" r="2.9"/>
<circle class="a0" cx="256.1" cy="184.6" r="2.9"/>
<circle class="a0" cx="252.1" cy="180.6" r="2.9"/>
<circle class="a0" cx="249.7" cy="184.0" r="2.9"/>
<circle class="a0" cx="259.5" cy="184.2" r="2.9"/>
<circle class="a0" cx="246.8" cy="183.4" r="2.9"/>
<circle class="a0" cx="269.7" cy="182.2" r="2.9"/>
<circle class="a0" cx="268.3" cy="180.7" r="2.9"/>
<circle class="a0" cx="276.9" cy="179.6" r="2.9"/>
<circle class="a0" cx="268.2" cy="181.6" r="2.9"/>
<circle class="a0" cx="277.8" cy="181.6" r="2.9"/>
<circle class="a0" cx="266.5" cy="181.2" r="2.9"/>
<circle class="a0" cx="269.6" cy="181.2" r="2.9"/>
<circle class="a0" cx="275.8" cy="181.3" r="2.9"/>
<circle class="a0" cx="261.4" cy="180.7" r="2.9"/>
<circle class="a0" cx="265.1" cy="180.1" r="2.9"/>
<circle class="a0" cx="278.6" cy="181.2" r="2.9"/>
<circle class="a0" cx="264.4" cy="183.2" r="2.9"/>
<circle class="a0" cx="263.7" cy="183.4" r="2.9"/>
<circle class="a0" cx="271.7" cy="181.6" r="2.9"/>
<circle class="a0" cx="271.8" cy="182.6" r="2.9"/>
<circle class="a0" cx="290.2" cy="178.5" r="2.9"/>
<circle class="a0" cx="294.3" cy="180.7" r="2.9"/>
<circle class="a0" cx="289.7" cy="180.7" r="2.9"/>
<circle class="a0" cx="293.3" cy="179.2" r="2.9"/>
<circle class="a0" cx="285.7" cy="176.4" r="2.9"/>
<circle class="a0" cx="293.3" cy="178.6" r="2.9"/>
<circle class="a0" cx="286.7" cy="180.9" r="2.9"/>
<circle class="a0" cx="286.5" cy="180.7" r="2.9"/>
<circle class="a0" cx="294.4" cy="180.5" r="2.9"/>
<circle class="a0" cx="290.8" cy="180.4" r="2.9"/>
<circle class="a0" cx="292.8" cy="178.9" r="2.9"/>
<circle class="a0" cx="298.9" cy="176.8" r="2.9"/>
<circle class="a0" cx="300.6" cy="180.2" r="2.9"/>
<circle class="a0" cx="299.5" cy="180.7" r="2.9"/>
<circle class="a0" cx="297.5" cy="179.9" r="2.9"/>
<circle class="a0" cx="301.2" cy="181.2" r="2.9"/>
<circle class="a0" cx="299.6" cy="179.6" r="2.9"/>
<circle class="a0" cx="301.3" cy="181.1" r="2.9"/>
<circle class="a0" cx="307.6" cy="183.9" r="2.9"/>
<circle class="a0" cx="313.1" cy="183.3" r="2.9"/>
<circle class="a0" cx="317.7" cy="183.8" r="2.9"/>
<circle class="a0" cx="307.5" cy="182.8" r="2.9"/>
<circle class="a0" cx="304.6" cy="182.8" r="2.9"/>
<circle class="a0" cx="309.1" cy="182.4" r="2.9"/>
<circle class="a0" cx="307.7" cy="182.9" r="2.9"/>
<circle class="a0" cx="308.5" cy="182.9" r="2.9"/>
<circle class="a0" cx="309.7" cy="181.4" r="2.9"/>
<circle class="a0" cx="310.9" cy="183.8" r="2.9"/>
<circle class="a0" cx="310.9" cy="182.1" r="2.9"/>
<circle class="a0" cx="314.0" cy="183.4" r="2.9"/>
<circle class="a0" cx="313.2" cy="189.0" r="2.9"/>
<circle class="a0" cx="311.4" cy="186.7" r="2.9"/>
<circle class="a0" cx="318.5" cy="185.2" r="2.9"/>
<circle class="a0" cx="323.0" cy="186.5" r="2.9"/>
<circle class="a0" cx="322.8" cy="185.5" r="2.9"/>
<circle class="a0" cx="324.6" cy="188.7" r="2.9"/>
<circle class="a0" cx="314.7" cy="185.6" r="2.9"/>
<circle class="a0" cx="316.8" cy="187.8" r="2.9"/>
<circle class="a0" cx="310.3" cy="186.5" r="2.9"/>
<circle class="a0" cx="321.3" cy="186.4" r="2.9"/>
<circle class="a0" cx="309.6" cy="184.1" r="2.9"/>
<circle class="a0" cx="312.8" cy="187.5" r="2.9"/>
<circle class="a0" cx="310.9" cy="189.4" r="2.9"/>
<circle class="a0" cx="314.8" cy="189.5" r="2.9"/>
<circle class="a0" cx="313.4" cy="194.3" r="2.9"/>
<circle class="a0" cx="310.9" cy="192.0" r="2.9"/>
<circle class="a0" cx="314.2" cy="190.5" r="2.9"/>
<circle class="a0" cx="309.7" cy="194.4" r="2.9"/>
<circle class="a0" cx="309.9" cy="192.2" r="2.9"/>
<circle class="a0" cx="314.5" cy="189.6" r="2.9"/>
<circle class="a0" cx="312.6" cy="193.0" r="2.9"/>
<circle class="a0" cx="313.1" cy="190.8" r="2.9"/>
<circle class="a0" cx="311.4" cy="193.6" r="2.9"/>
<circle class="a0" cx="316.1" cy="194.2" r="2.9"/>
<circle class="a0" cx="322.8" cy="197.5" r="2.9"/>
<circle class="a0" cx="317.9" cy="195.2" r="2.9"/>
<circle class="a0" cx="306.8" cy="199.7" r="2.9"/>
<circle class="a0" cx="310.1" cy="197.1" r="2.9"/>
<circle class="a0" cx="307.9" cy="199.5" r="2.9"/>
<circle class="a0" cx="306.7" cy="200.7" r="2.9"/>
<circle class="a0" cx="307.7" cy="197.3" r="2.9"/>
<circle class="a0" cx="312.0" cy="195.4" r="2.9"/>
<circle class="a0" cx="309.6" cy="199.2" r="2.9"/>
<circle class="a0" cx="309.5" cy="197.3" r="2.9"/>
<circle class="a0" cx="310.3" cy="195.8" r="2.9"/>
<circle class="a0" cx="307.2" cy="197.8" r="2.9"/>
<circle class="a0" cx="306.6" cy="198.8" r="2.9"/>
<circle class="a0" cx="313.0" cy="197.1" r="2.9"/>
<circle class="a0" cx="312.8" cy="196.3" r="2.9"/>
<circle class="a0" cx="307.7" cy="200.0" r="2.9"/>
<circle class="a0" cx="310.8" cy="195.8" r="2.9"/>
<circle class="a0" cx="308.2" cy="198.0" r="2.9"/>
<circle class="a0" cx="298.2" cy="206.0" r="2.9"/>
<circle class="a0" cx="300.3" cy="211.7" r="2.9"/>
<circle class="a0" cx="302.1" cy="210.7" r="2.9"/>
<circle class="a0" cx="305.6" cy="207.7" r="2.9"/>
<circle class="a0" cx="304.7" cy="201.5" r="2.9"/>
<circle class="a0" cx="303.8" cy="209.4" r="2.9"/>
<circle class="a0" cx="304.3" cy="202.8" r="2.9"/>
<circle class="a0" cx="299.9" cy="205.2" r="2.9"/>
<circle class="a0" cx="301.7" cy="204.4" r="2.9"/>
<circle class="a0" cx="298.9" cy="204.3" r="2.9"/>
<circle class="a0" cx="298.8" cy="208.8" r="2.9"/>
<circle class="a0" cx="295.8" cy="210.4" r="2.9"/>
<circle class="a0" cx="292.2" cy="212.4" r="2.9"/>
<circle class="a0" cx="288.3" cy="210.8" r="2.9"/>
<circle class="a0" cx="294.7" cy="207.3" r="2.9"/>
<circle class="a0" cx="293.9" cy="207.2" r="2.9"/>
<circle class="a0" cx="295.0" cy="210.2" r="2.9"/>
<circle class="a0" cx="294.1" cy="210.4" r="2.9"/>
<circle class="a0" cx="289.5" cy="212.9" r="2.9"/>
<circle class="a0" cx="295.9" cy="208.3" r="2.9"/>
<circle class="a0" cx="295.9" cy="207.5" r="2.9"/>
<circle class="a0" cx="290.6" cy="209.5" r="2.9"/>
<circle class="a0" cx="291.8" cy="215.2" r="2.9"/>
<circle class="a0" cx="292.0" cy="209.7" r="2.9"/>
<circle class="a0" cx="281.8" cy="211.7" r="2.9"/>
<circle class="a0" cx="278.3" cy="212.9" r="2.9"/>
<circle class="a0" cx="285.6" cy="210.0" r="2.9"/>
<circle class="a0" cx="281.7" cy="211.2" r="2.9"/>
<circle class="a0" cx="282.4" cy="213.4" r="2.9"/>
<circle class="a0" cx="286.9" cy="210.3" r="2.9"/>
<circle class="a0" cx="279.6" cy="212.0" r="2.9"/>
<circle class="a0" cx="278.4" cy="212.7" r="2.9"/>
<circle class="a0" cx="287.7" cy="210.2" r="2.9"/>
<circle class="a0" cx="279.0" cy="212.7" r="2.9"/>
<circle class="a0" cx="281.8" cy="214.1" r="2.9"/>
<circle class="a0" cx="285.7" cy="210.0" r="2.9"/>
<circle class="a0" cx="281.7" cy="213.7" r="2.9"/>
<circle class="a0" cx="273.5" cy="216.9" r="2.9"/>
<circle class="a0" cx="277.7" cy="213.0" r="2.9"/>
<circle class="a0" cx="274.3" cy="215.3" r="2.9"/>
<circle class="a0" cx="269.2" cy="221.8" r="2.9"/>
<circle class="a0" cx="270.5" cy="217.4" r="2.9"/>
<circle class="a0" cx="270.6" cy="218.0" r="2.9"/>
<circle class="a0" cx="271.7" cy="218.6" r="2.9"/>
<circle class="a0" cx="278.2" cy="220.6" r="2.9"/>
<circle class="a0" cx="270.9" cy="217.1" r="2.9"/>
<circle class="a0" cx="278.5" cy="220.3" r="2.9"/>
<circle class="a0" cx="273.1" cy="219.5" r="2.9"/>
<circle class="a0" cx="271.2" cy="219.4" r="2.9"/>
<circle class="a0" cx="273.3" cy="219.2" r="2.9"/>
<circle class="a0" cx="276.6" cy="220.5" r="2.9"/>
<circle class="a0" cx="258.9" cy="226.2" r="2.9"/>
<circle class="a0" cx="261.5" cy="224.6" r="2.9"/>
<circle class="a0" cx="259.6" cy="226.7" r="2.9"/>
<circle class="a0" cx="263.6" cy="221.8" r="2.9"/>
<circle class="a0" cx="266.1" cy="222.7" r="2.9"/>
<circle class="a0" cx="268.0" cy="220.4" r="2.9"/>
<circle class="a0" cx="260.8" cy="226.3" r="2.9"/>
<circle class="a0" cx="267.6" cy="220.9" r="2.9"/>
<circle class="a0" cx="264.4" cy="225.9" r="2.9"/>
<circle class="a0" cx="261.5" cy="223.6" r="2.9"/>
<circle class="a0" cx="259.6" cy="225.4" r="2.9"/>
<circle class="a0" cx="259.7" cy="226.0" r="2.9"/>
<circle class="a0" cx="265.6" cy="223.3" r="2.9"/>
<circle class="a0" cx="264.5" cy="224.2" r="2.9"/>
<circle class="a0" cx="259.7" cy="230.0" r="2.9"/>
<circle class="a0" cx="252.3" cy="229.7" r="2.9"/>
<circle class="a0" cx="254.8" cy="231.6" r="2.9"/>
<circle class="a0" cx="257.8" cy="231.2" r="2.9"/>
<circle class="a0" cx="251.8" cy="233.9" r="2.9"/>
<circle class="a0" cx="254.8" cy="229.9" r="2.9"/>
<circle class="a0" cx="256.2" cy="229.0" r="2.9"/>
<circle class="a0" cx="254.4" cy="229.1" r="2.9"/>
<circle class="a0" cx="257.1" cy="227.0" r="2.9"/>
<circle class="a0" cx="256.3" cy="227.6" r="2.9"/>
<circle class="a0" cx="256.1" cy="228.1" r="2.9"/>
<circle class="a0" cx="256.0" cy="231.5" r="2.9"/>
<circle class="a0" cx="252.5" cy="233.2" r="2.9"/>
<circle class="a0" cx="249.4" cy="237.0" r="2.9"/>
<circle class="a0" cx="250.2" cy="234.3" r="2.9"/>
<circle class="a0" cx="243.3" cy="236.8" r="2.9"/>
<circle class="a0" cx="247.8" cy="232.9" r="2.9"/>
<circle class="a0" cx="245.6" cy="234.3" r="2.9"/>
<circle class="a0" cx="251.5" cy="236.5" r="2.9"/>
<circle class="a0" cx="241.4" cy="234.9" r="2.9"/>
<circle class="a0" cx="245.9" cy="233.1" r="2.9"/>
<circle class="a0" cx="247.6" cy="235.7" r="2.9"/>
<circle class="a0" cx="245.5" cy="234.4" r="2.9"/>
<circle class="a0" cx="243.6" cy="235.2" r="2.9"/>
<circle class="a0" cx="249.0" cy="232.3" r="2.9"/>
<circle class="a0" cx="250.1" cy="236.1" r="2.9"/>
<circle class="a0" cx="236.8" cy="235.2" r="2.9"/>
<circle class="a0" cx="236.3" cy="237.8" r="2.9"/>
<circle class="a0" cx="234.1" cy="238.7" r="2.9"/>
<circle class="a0" cx="237.0" cy="241.8" r="2.9"/>
<circle class="a0" cx="230.7" cy="238.0" r="2.9"/>
<circle class="a0" cx="238.9" cy="234.7" r="2.9"/>
<circle class="a0" cx="233.5" cy="237.2" r="2.9"/>
<circle class="a0" cx="228.9" cy="237.4" r="2.9"/>
<circle class="a0" cx="234.7" cy="240.5" r="2.9"/>
<circle class="a0" cx="236.4" cy="242.2" r="2.9"/>
<circle class="a0" cx="238.5" cy="236.4" r="2.9"/>
<circle class="a0" cx="234.7" cy="238.2" r="2.9"/>
<circle class="a0" cx="237.6" cy="235.4" r="2.9"/>
<circle class="a0" cx="230.5" cy="238.3" r="2.9"/>
<circle class="a0" cx="229.7" cy="236.4" r="2.9"/>
<circle class="a1" cx="309.6" cy="208.0" r="2.9"/>
<circle class="a1" cx="319.0" cy="209.0" r="2.9"/>
<circle class="a1" cx="322.0" cy="197.0" r="2.9"/>
<circle class="a1" cx="330.0" cy="200.0" r="2.9"/>
<circle class="a1" cx="334.0" cy="186.0" r="2.9"/>
<circle class="a5" cx="246.9" cy="243.3" r="2.9"/>
<circle class="a1" cx="239.4" cy="243.5" r="2.9"/>
<circle class="a1" cx="240.8" cy="249.2" r="2.9"/>
<circle class="a1" cx="234.2" cy="238.8" r="2.9"/>
<circle class="a1" cx="246.5" cy="274.4" r="2.9"/>
<circle class="a1" cx="325.0" cy="190.0" r="2.9"/>
<circle class="a1" cx="328.0" cy="194.0" r="2.9"/>
<circle class="a1" cx="318.0" cy="185.0" r="2.9"/>
<circle class="a1" cx="322.0" cy="185.0" r="2.9"/>
<circle class="a3" cx="335.8" cy="185.0" r="2.9"/>
<circle class="a3" cx="335.8" cy="188.0" r="2.9"/>
<circle class="a3" cx="335.8" cy="191.0" r="2.9"/>
<circle class="a3" cx="335.8" cy="194.0" r="2.9"/>
<circle class="a4" cx="335.8" cy="198.0" r="2.9"/>
<circle class="a4" cx="335.8" cy="203.0" r="2.9"/>
<circle class="a4" cx="335.8" cy="208.0" r="2.9"/>
<circle class="a4" cx="335.8" cy="213.0" r="2.9"/>
<line x1="223.7" y1="208.5" x2="223.7" y2="229.6" stroke="#dd8452" stroke-width="1.4"/>
<line x1="226.2" y1="201.7" x2="226.2" y2="221.9" stroke="#dd8452" stroke-width="1.4"/>
<line x1="232.3" y1="198.8" x2="232.3" y2="221.0" stroke="#dd8452" stroke-width="1.4"/>
<line x1="238.7" y1="197.0" x2="238.7" y2="218.0" stroke="#dd8452" stroke-width="1.4"/>
<line x1="245.0" y1="195.0" x2="245.0" y2="215.2" stroke="#dd8452" stroke-width="1.4"/>
<line x1="251.2" y1="193.5" x2="251.2" y2="213.3" stroke="#dd8452" stroke-width="1.4"/>
<line x1="257.3" y1="192.0" x2="257.3" y2="209.4" stroke="#dd8452" stroke-width="1.4"/>
<line x1="263.3" y1="192.0" x2="263.3" y2="204.6" stroke="#dd8452" stroke-width="1.4"/>
<line x1="269.4" y1="191.5" x2="269.4" y2="204.0" stroke="#dd8452" stroke-width="1.4"/>
<line x1="275.7" y1="190.0" x2="275.7" y2="202.0" stroke="#dd8452" stroke-width="1.4"/>
<line x1="281.7" y1="189.7" x2="281.7" y2="201.4" stroke="#dd8452" stroke-width="1.4"/>
<line x1="288.0" y1="189.7" x2="288.0" y2="201.4" stroke="#dd8452" stroke-width="1.4"/>
<line x1="294.2" y1="189.7" x2="294.2" y2="201.4" stroke="#dd8452" stroke-width="1.4"/>
<line x1="300.3" y1="189.7" x2="300.3" y2="201.4" stroke="#dd8452" stroke-width="1.4"/>
<line x1="306.6" y1="189.7" x2="306.6" y2="201.4" stroke="#dd8452" stroke-width="1.4"/>
<line x1="312.9" y1="190.6" x2="312.9" y2="198.7" stroke="#dd8452" stroke-width="1.4"/>
<line x1="318.8" y1="191.5" x2="318.8" y2="198.7" stroke="#dd8452" stroke-width="1.4"/>
<line x1="337.6" y1="188.0" x2="337.6" y2="201.4" stroke="#dd8452" stroke-width="1.4"/>
<polyline points="223.7,219.0 226.2,212.3 232.3,210.4 238.7,208.1 245.0,205.6 251.2,203.7 257.3,200.8 263.3,198.5 269.4,197.6 275.7,196.4 281.7,196.0 288.0,195.6 294.2,195.1 300.3,195.1 306.6,195.1 312.9,194.6 318.8,195.5 325.4,195.5 337.6,194.6" fill="none" stroke="#dd8452" stroke-width="1.3"/>
<rect x="221.3" y="216.6" width="4.8" height="4.8" fill="#dd8452"/>
<rect x="223.8" y="209.9" width="4.8" height="4.8" fill="#dd8452"/>
<rect x="229.9" y="208.0" width="4.8" height="4.8" fill="#dd8452"/>
<rect x="236.3" y="205.7" width="4.8" height="4.8" fill="#dd8452"/>
<rect x="242.6" y="203.2" width="4.8" height="4.8" fill="#dd8452"/>
<rect x="248.8" y="201.3" width="4.8" height="4.8" fill="#dd8452"/>
<rect x="254.9" y="198.4" width="4.8" height="4.8" fill="#dd8452"/>
<rect x="260.9" y="196.1" width="4.8" height="4.8" fill="#dd8452"/>
<rect x="267.0" y="195.2" width="4.8" height="4.8" fill="#dd8452"/>
<rect x="273.3" y="194.0" width="4.8" height="4.8" fill="#dd8452"/>
<rect x="279.3" y="193.6" width="4.8" height="4.8" fill="#dd8452"/>
<rect x="285.6" y="193.2" width="4.8" height="4.8" fill="#dd8452"/>
<rect x="291.8" y="192.7" width="4.8" height="4.8" fill="#dd8452"/>
<rect x="297.9" y="192.7" width="4.8" height="4.8" fill="#dd8452"/>
<rect x="304.2" y="192.7" width="4.8" height="4.8" fill="#dd8452"/>
<rect x="310.5" y="192.2" width="4.8" height="4.8" fill="#dd8452"/>
<rect x="316.4" y="193.1" width="4.8" height="4.8" fill="#dd8452"/>
<rect x="323.0" y="193.1" width="4.8" height="4.8" fill="#dd8452"/>
<rect x="335.2" y="192.2" width="4.8" height="4.8" fill="#dd8452"/>
</g>
<g clip-path="url(#c23)">
<line x1="455.60" y1="177.40" x2="455.60" y2="278.50" stroke="#7a7a7a" stroke-width="1.1" stroke-dasharray="4.55 2.0" stroke-dashoffset="1.2"/>
<path d="M396.2 228.0 L397.5 226.0 L400.0 225.9 L401.7 228.0 L402.3 236.5 L410.0 233.0 L420.0 230.4 L430.0 229.5 L440.0 229.3 L450.0 230.5 L455.0 232.5 L462.0 235.5 L470.0 238.8 L480.0 246.3 L486.0 252.0 L489.0 260.0 L490.0 268.0 L489.0 276.0 L470.0 276.0 L430.0 276.0 L397.0 276.0 Z" fill="#4670ae" stroke="#4670ae" stroke-width="2" stroke-linejoin="round"/>
<circle class="a6" cx="455.3" cy="229.7" r="2.9"/>
<circle class="a6" cx="447.7" cy="223.1" r="2.9"/>
<circle class="a6" cx="411.4" cy="231.6" r="2.9"/>
<circle class="a6" cx="404.3" cy="232.4" r="2.9"/>
<circle class="a6" cx="435.8" cy="228.4" r="2.9"/>
<circle class="a6" cx="456.3" cy="229.2" r="2.9"/>
<circle class="a6" cx="461.3" cy="230.9" r="2.9"/>
<circle class="a6" cx="406.2" cy="233.5" r="2.9"/>
<circle class="a6" cx="444.0" cy="221.2" r="2.9"/>
<circle class="a6" cx="439.3" cy="227.8" r="2.9"/>
<circle class="a6" cx="403.0" cy="234.3" r="2.9"/>
<circle class="a6" cx="460.3" cy="232.3" r="2.9"/>
<circle class="a6" cx="445.6" cy="225.7" r="2.9"/>
<circle class="a6" cx="416.8" cy="225.3" r="2.9"/>
<circle class="a6" cx="419.3" cy="226.5" r="2.9"/>
<circle class="a6" cx="448.3" cy="228.3" r="2.9"/>
<circle class="a6" cx="402.7" cy="232.2" r="2.9"/>
<circle class="a6" cx="452.4" cy="224.0" r="2.9"/>
<circle class="a6" cx="439.4" cy="220.8" r="2.9"/>
<circle class="a6" cx="404.3" cy="235.2" r="2.9"/>
<circle class="a6" cx="446.8" cy="226.2" r="2.9"/>
<circle class="a6" cx="452.4" cy="227.6" r="2.9"/>
<circle class="a6" cx="416.1" cy="231.2" r="2.9"/>
<circle class="a6" cx="460.9" cy="230.0" r="2.9"/>
<circle class="a6" cx="411.5" cy="232.1" r="2.9"/>
<circle class="a6" cx="453.6" cy="230.6" r="2.9"/>
<circle class="a6" cx="422.0" cy="229.4" r="2.9"/>
<circle class="a6" cx="473.6" cy="239.0" r="2.9"/>
<circle class="a6" cx="473.6" cy="238.0" r="2.9"/>
<circle class="a6" cx="404.7" cy="230.1" r="2.9"/>
<circle class="a6" cx="424.2" cy="222.1" r="2.9"/>
<circle class="a6" cx="450.7" cy="229.9" r="2.9"/>
<circle class="a6" cx="430.1" cy="226.4" r="2.9"/>
<circle class="a6" cx="468.5" cy="237.7" r="2.9"/>
<circle class="a6" cx="410.1" cy="230.1" r="2.9"/>
<circle class="a6" cx="453.8" cy="229.5" r="2.9"/>
<circle class="a6" cx="434.6" cy="222.3" r="2.9"/>
<circle class="a6" cx="454.9" cy="226.5" r="2.9"/>
<circle class="a6" cx="414.2" cy="228.2" r="2.9"/>
<circle class="a6" cx="443.0" cy="227.9" r="2.9"/>
<circle class="a6" cx="446.9" cy="229.0" r="2.9"/>
<circle class="a6" cx="433.7" cy="225.2" r="2.9"/>
<circle class="a6" cx="451.7" cy="225.6" r="2.9"/>
<circle class="a6" cx="417.9" cy="224.5" r="2.9"/>
<circle class="a6" cx="412.9" cy="228.0" r="2.9"/>
<circle class="a6" cx="430.9" cy="221.8" r="2.9"/>
<circle class="a6" cx="449.6" cy="225.2" r="2.9"/>
<circle class="a6" cx="402.8" cy="232.8" r="2.9"/>
<circle class="a6" cx="438.5" cy="222.8" r="2.9"/>
<circle class="a6" cx="469.7" cy="233.9" r="2.9"/>
<circle class="a6" cx="450.1" cy="226.5" r="2.9"/>
<circle class="a6" cx="463.3" cy="234.3" r="2.9"/>
<circle class="a6" cx="420.5" cy="226.9" r="2.9"/>
<circle class="a6" cx="460.8" cy="229.3" r="2.9"/>
<circle class="a6" cx="461.1" cy="231.8" r="2.9"/>
<circle class="a6" cx="436.4" cy="221.7" r="2.9"/>
<circle class="a6" cx="414.0" cy="227.6" r="2.9"/>
<circle class="a6" cx="446.0" cy="226.2" r="2.9"/>
<circle class="a6" cx="446.3" cy="226.5" r="2.9"/>
<circle class="a6" cx="473.4" cy="239.3" r="2.9"/>
<circle class="a6" cx="441.6" cy="227.5" r="2.9"/>
<circle class="a6" cx="408.2" cy="227.6" r="2.9"/>
<circle class="a6" cx="449.0" cy="227.7" r="2.9"/>
<circle class="a6" cx="464.1" cy="231.6" r="2.9"/>
<circle class="a6" cx="462.8" cy="231.9" r="2.9"/>
<circle class="a6" cx="464.8" cy="231.7" r="2.9"/>
<circle class="a6" cx="425.3" cy="226.0" r="2.9"/>
<circle class="a6" cx="429.5" cy="229.4" r="2.9"/>
<circle class="a6" cx="426.6" cy="225.4" r="2.9"/>
<circle class="a6" cx="478.5" cy="242.9" r="2.9"/>
<circle class="a6" cx="422.0" cy="224.2" r="2.9"/>
<circle class="a6" cx="410.1" cy="232.5" r="2.9"/>
<circle class="a6" cx="433.2" cy="224.3" r="2.9"/>
<circle class="a6" cx="416.0" cy="228.1" r="2.9"/>
<circle class="a6" cx="420.7" cy="224.5" r="2.9"/>
<circle class="a6" cx="478.3" cy="244.8" r="2.9"/>
<circle class="a6" cx="461.8" cy="235.2" r="2.9"/>
<circle class="a6" cx="422.9" cy="227.7" r="2.9"/>
<circle class="a6" cx="447.2" cy="230.2" r="2.9"/>
<circle class="a6" cx="483.3" cy="248.2" r="2.9"/>
<circle class="a6" cx="465.0" cy="233.3" r="2.9"/>
<circle class="a6" cx="421.7" cy="226.4" r="2.9"/>
<circle class="a6" cx="476.6" cy="242.1" r="2.9"/>
<circle class="a6" cx="462.5" cy="232.4" r="2.9"/>
<circle class="a6" cx="427.0" cy="224.0" r="2.9"/>
<circle class="a6" cx="448.4" cy="222.4" r="2.9"/>
<circle class="a6" cx="445.1" cy="227.5" r="2.9"/>
<circle class="a6" cx="429.0" cy="228.1" r="2.9"/>
<circle class="a6" cx="427.7" cy="223.2" r="2.9"/>
<circle class="a6" cx="469.9" cy="234.5" r="2.9"/>
<circle class="a6" cx="441.4" cy="224.2" r="2.9"/>
<circle class="a6" cx="414.2" cy="225.5" r="2.9"/>
<circle class="a6" cx="411.2" cy="230.6" r="2.9"/>
<circle class="a6" cx="439.8" cy="223.4" r="2.9"/>
<circle class="a6" cx="464.3" cy="232.0" r="2.9"/>
<circle class="a6" cx="413.6" cy="227.1" r="2.9"/>
<circle class="a6" cx="483.1" cy="248.0" r="2.9"/>
<circle class="a6" cx="434.8" cy="227.4" r="2.9"/>
<circle class="a6" cx="437.8" cy="229.1" r="2.9"/>
<circle class="a6" cx="437.6" cy="222.4" r="2.9"/>
<circle class="a6" cx="447.6" cy="224.3" r="2.9"/>
<circle class="a6" cx="450.7" cy="230.1" r="2.9"/>
<circle class="a6" cx="470.2" cy="236.1" r="2.9"/>
<circle class="a6" cx="464.2" cy="230.4" r="2.9"/>
<circle class="a6" cx="409.8" cy="231.6" r="2.9"/>
<circle class="a6" cx="458.0" cy="232.2" r="2.9"/>
<circle class="a6" cx="416.4" cy="226.8" r="2.9"/>
<circle class="a6" cx="437.8" cy="225.9" r="2.9"/>
<circle class="a6" cx="433.0" cy="223.8" r="2.9"/>
<circle class="a6" cx="473.1" cy="240.3" r="2.9"/>
<circle class="a2" cx="406.8" cy="234.2" r="2.9"/>
<circle class="a2" cx="405.9" cy="236.1" r="2.9"/>
<circle class="a2" cx="405.9" cy="231.7" r="2.9"/>
<circle class="a2" cx="406.2" cy="233.1" r="2.9"/>
<circle class="a2" cx="403.5" cy="232.2" r="2.9"/>
<circle class="a2" cx="408.7" cy="233.3" r="2.9"/>
<circle class="a2" cx="406.2" cy="236.0" r="2.9"/>
<circle class="a2" cx="407.0" cy="236.4" r="2.9"/>
<circle class="a2" cx="402.1" cy="232.2" r="2.9"/>
<circle class="a2" cx="404.6" cy="232.9" r="2.9"/>
<circle class="a2" cx="403.0" cy="235.8" r="2.9"/>
<circle class="a2" cx="406.5" cy="230.4" r="2.9"/>
<circle class="a2" cx="406.0" cy="233.8" r="2.9"/>
<circle class="a2" cx="403.3" cy="235.1" r="2.9"/>
<circle class="a2" cx="408.3" cy="231.1" r="2.9"/>
<circle class="a2" cx="407.2" cy="234.5" r="2.9"/>
<circle class="a2" cx="407.1" cy="235.9" r="2.9"/>
<circle class="a2" cx="406.2" cy="230.0" r="2.9"/>
<circle class="a2" cx="407.7" cy="234.3" r="2.9"/>
<circle class="a2" cx="403.1" cy="237.1" r="2.9"/>
<circle class="a2" cx="405.2" cy="233.9" r="2.9"/>
<circle class="a2" cx="409.1" cy="234.1" r="2.9"/>
<circle class="a2" cx="408.1" cy="233.7" r="2.9"/>
<circle class="a2" cx="404.4" cy="237.2" r="2.9"/>
<circle class="a2" cx="407.3" cy="233.0" r="2.9"/>
<circle class="a2" cx="419.4" cy="230.4" r="2.9"/>
<circle class="a2" cx="413.0" cy="230.5" r="2.9"/>
<circle class="a2" cx="416.1" cy="228.6" r="2.9"/>
<circle class="a2" cx="418.6" cy="227.0" r="2.9"/>
<circle class="a2" cx="415.9" cy="229.9" r="2.9"/>
<circle class="a2" cx="413.9" cy="232.2" r="2.9"/>
<circle class="a2" cx="414.2" cy="229.0" r="2.9"/>
<circle class="a2" cx="414.7" cy="230.5" r="2.9"/>
<circle class="a2" cx="415.4" cy="229.9" r="2.9"/>
<circle class="a2" cx="418.3" cy="227.1" r="2.9"/>
<circle class="a2" cx="415.0" cy="232.9" r="2.9"/>
<circle class="a2" cx="413.3" cy="231.3" r="2.9"/>
<circle class="a2" cx="416.8" cy="233.1" r="2.9"/>
<circle class="a2" cx="417.7" cy="228.1" r="2.9"/>
<circle class="a2" cx="410.4" cy="229.4" r="2.9"/>
<circle class="a2" cx="411.4" cy="233.5" r="2.9"/>
<circle class="a2" cx="412.4" cy="234.0" r="2.9"/>
<circle class="a2" cx="417.6" cy="232.0" r="2.9"/>
<circle class="a2" cx="412.8" cy="231.8" r="2.9"/>
<circle class="a2" cx="416.9" cy="228.8" r="2.9"/>
<circle class="a2" cx="409.9" cy="234.9" r="2.9"/>
<circle class="a2" cx="416.4" cy="230.6" r="2.9"/>
<circle class="a2" cx="410.7" cy="233.7" r="2.9"/>
<circle class="a2" cx="414.7" cy="233.8" r="2.9"/>
<circle class="a2" cx="413.0" cy="230.6" r="2.9"/>
<circle class="a2" cx="410.3" cy="231.7" r="2.9"/>
<circle class="a2" cx="411.3" cy="233.4" r="2.9"/>
<circle class="a2" cx="418.8" cy="232.6" r="2.9"/>
<circle class="a2" cx="417.5" cy="228.8" r="2.9"/>
<circle class="a2" cx="410.8" cy="232.0" r="2.9"/>
<circle class="a2" cx="416.2" cy="232.2" r="2.9"/>
<circle class="a2" cx="421.0" cy="227.1" r="2.9"/>
<circle class="a2" cx="427.8" cy="226.2" r="2.9"/>
<circle class="a2" cx="426.7" cy="229.7" r="2.9"/>
<circle class="a2" cx="428.2" cy="226.2" r="2.9"/>
<circle class="a2" cx="423.5" cy="228.3" r="2.9"/>
<circle class="a2" cx="420.5" cy="229.4" r="2.9"/>
<circle class="a2" cx="426.8" cy="231.0" r="2.9"/>
<circle class="a2" cx="426.9" cy="226.5" r="2.9"/>
<circle class="a2" cx="424.8" cy="226.3" r="2.9"/>
<circle class="a2" cx="428.9" cy="226.3" r="2.9"/>
<circle class="a2" cx="423.3" cy="228.3" r="2.9"/>
<circle class="a2" cx="420.7" cy="227.8" r="2.9"/>
<circle class="a2" cx="421.2" cy="229.7" r="2.9"/>
<circle class="a2" cx="423.0" cy="226.0" r="2.9"/>
<circle class="a2" cx="422.8" cy="230.2" r="2.9"/>
<circle class="a2" cx="420.4" cy="226.9" r="2.9"/>
<circle class="a2" cx="428.8" cy="227.5" r="2.9"/>
<circle class="a2" cx="421.9" cy="226.1" r="2.9"/>
<circle class="a2" cx="424.7" cy="229.3" r="2.9"/>
<circle class="a2" cx="426.7" cy="231.4" r="2.9"/>
<circle class="a2" cx="427.0" cy="230.1" r="2.9"/>
<circle class="a2" cx="427.6" cy="226.7" r="2.9"/>
<circle class="a2" cx="427.1" cy="227.0" r="2.9"/>
<circle class="a2" cx="426.8" cy="225.6" r="2.9"/>
<circle class="a2" cx="428.4" cy="227.7" r="2.9"/>
<circle class="a2" cx="422.6" cy="228.1" r="2.9"/>
<circle class="a2" cx="429.6" cy="225.8" r="2.9"/>
<circle class="a2" cx="421.4" cy="229.6" r="2.9"/>
<circle class="a2" cx="420.4" cy="230.2" r="2.9"/>
<circle class="a2" cx="426.9" cy="230.3" r="2.9"/>
<circle class="a2" cx="432.7" cy="231.1" r="2.9"/>
<circle class="a2" cx="432.7" cy="229.1" r="2.9"/>
<circle class="a2" cx="433.6" cy="225.9" r="2.9"/>
<circle class="a2" cx="436.0" cy="225.8" r="2.9"/>
<circle class="a2" cx="438.9" cy="230.8" r="2.9"/>
<circle class="a2" cx="435.8" cy="230.1" r="2.9"/>
<circle class="a2" cx="430.9" cy="229.3" r="2.9"/>
<circle class="a2" cx="438.4" cy="227.3" r="2.9"/>
<circle class="a2" cx="436.4" cy="229.4" r="2.9"/>
<circle class="a2" cx="431.5" cy="227.7" r="2.9"/>
<circle class="a2" cx="431.4" cy="228.5" r="2.9"/>
<circle class="a2" cx="437.1" cy="228.6" r="2.9"/>
<circle class="a2" cx="436.1" cy="224.6" r="2.9"/>
<circle class="a2" cx="435.6" cy="227.0" r="2.9"/>
<circle class="a2" cx="431.9" cy="226.5" r="2.9"/>
<circle class="a2" cx="439.8" cy="225.4" r="2.9"/>
<circle class="a2" cx="433.5" cy="228.2" r="2.9"/>
<circle class="a2" cx="437.9" cy="228.8" r="2.9"/>
<circle class="a2" cx="436.0" cy="231.0" r="2.9"/>
<circle class="a2" cx="434.0" cy="230.4" r="2.9"/>
<circle class="a2" cx="435.3" cy="229.8" r="2.9"/>
<circle class="a2" cx="432.6" cy="227.7" r="2.9"/>
<circle class="a2" cx="433.8" cy="230.4" r="2.9"/>
<circle class="a2" cx="429.7" cy="225.0" r="2.9"/>
<circle class="a2" cx="434.4" cy="227.8" r="2.9"/>
<circle class="a2" cx="429.7" cy="227.4" r="2.9"/>
<circle class="a2" cx="436.7" cy="225.1" r="2.9"/>
<circle class="a2" cx="437.5" cy="224.5" r="2.9"/>
<circle class="a2" cx="434.7" cy="224.7" r="2.9"/>
<circle class="a2" cx="437.9" cy="230.6" r="2.9"/>
<circle class="a2" cx="445.0" cy="226.2" r="2.9"/>
<circle class="a2" cx="440.3" cy="224.6" r="2.9"/>
<circle class="a2" cx="441.8" cy="224.9" r="2.9"/>
<circle class="a2" cx="449.1" cy="230.5" r="2.9"/>
<circle class="a2" cx="441.7" cy="230.6" r="2.9"/>
<circle class="a2" cx="445.2" cy="226.5" r="2.9"/>
<circle class="a2" cx="439.8" cy="224.6" r="2.9"/>
<circle class="a2" cx="441.9" cy="229.2" r="2.9"/>
<circle class="a2" cx="441.7" cy="228.3" r="2.9"/>
<circle class="a2" cx="441.7" cy="230.4" r="2.9"/>
<circle class="a2" cx="444.8" cy="228.1" r="2.9"/>
<circle class="a2" cx="446.3" cy="228.5" r="2.9"/>
<circle class="a2" cx="439.7" cy="230.0" r="2.9"/>
<circle class="a2" cx="446.4" cy="232.0" r="2.9"/>
<circle class="a2" cx="447.6" cy="228.1" r="2.9"/>
<circle class="a2" cx="446.0" cy="230.7" r="2.9"/>
<circle class="a2" cx="447.1" cy="226.6" r="2.9"/>
<circle class="a2" cx="447.4" cy="229.2" r="2.9"/>
<circle class="a2" cx="440.8" cy="230.3" r="2.9"/>
<circle class="a2" cx="444.5" cy="229.8" r="2.9"/>
<circle class="a2" cx="449.6" cy="227.9" r="2.9"/>
<circle class="a2" cx="448.9" cy="226.5" r="2.9"/>
<circle class="a2" cx="445.9" cy="230.7" r="2.9"/>
<circle class="a2" cx="443.9" cy="226.5" r="2.9"/>
<circle class="a2" cx="444.3" cy="229.8" r="2.9"/>
<circle class="a2" cx="449.0" cy="227.9" r="2.9"/>
<circle class="a2" cx="447.7" cy="228.4" r="2.9"/>
<circle class="a2" cx="440.7" cy="227.0" r="2.9"/>
<circle class="a2" cx="448.6" cy="227.0" r="2.9"/>
<circle class="a2" cx="446.2" cy="227.1" r="2.9"/>
<circle class="a2" cx="450.0" cy="228.0" r="2.9"/>
<circle class="a2" cx="453.3" cy="230.1" r="2.9"/>
<circle class="a2" cx="453.0" cy="228.1" r="2.9"/>
<circle class="a2" cx="451.0" cy="229.8" r="2.9"/>
<circle class="a2" cx="452.8" cy="229.2" r="2.9"/>
<circle class="a2" cx="451.5" cy="231.9" r="2.9"/>
<circle class="a2" cx="451.3" cy="226.7" r="2.9"/>
<circle class="a2" cx="453.7" cy="233.2" r="2.9"/>
<circle class="a2" cx="452.1" cy="228.6" r="2.9"/>
<circle class="a2" cx="452.6" cy="231.1" r="2.9"/>
<circle class="a2" cx="454.7" cy="233.2" r="2.9"/>
<circle class="a2" cx="454.8" cy="228.1" r="2.9"/>
<circle class="a2" cx="451.5" cy="227.9" r="2.9"/>
<circle class="a2" cx="454.6" cy="229.9" r="2.9"/>
<circle class="a2" cx="450.5" cy="226.1" r="2.9"/>
<circle class="a2" cx="451.7" cy="228.7" r="2.9"/>
<circle class="a2" cx="458.7" cy="232.1" r="2.9"/>
<circle class="a2" cx="459.8" cy="236.1" r="2.9"/>
<circle class="a2" cx="456.8" cy="228.8" r="2.9"/>
<circle class="a2" cx="456.3" cy="230.8" r="2.9"/>
<circle class="a2" cx="459.0" cy="230.0" r="2.9"/>
<circle class="a2" cx="455.0" cy="233.6" r="2.9"/>
<circle class="a2" cx="456.4" cy="228.8" r="2.9"/>
<circle class="a2" cx="455.1" cy="232.7" r="2.9"/>
<circle class="a2" cx="457.2" cy="228.5" r="2.9"/>
<circle class="a2" cx="458.8" cy="230.9" r="2.9"/>
<circle class="a2" cx="458.1" cy="229.5" r="2.9"/>
<circle class="a2" cx="458.2" cy="230.2" r="2.9"/>
<circle class="a2" cx="457.3" cy="232.9" r="2.9"/>
<circle class="a2" cx="462.0" cy="235.5" r="2.9"/>
<circle class="a2" cx="459.1" cy="234.8" r="2.9"/>
<circle class="a2" cx="455.1" cy="227.7" r="2.9"/>
<circle class="a2" cx="459.9" cy="233.0" r="2.9"/>
<circle class="a2" cx="462.0" cy="234.9" r="2.9"/>
<circle class="a2" cx="458.5" cy="234.7" r="2.9"/>
<circle class="a2" cx="458.2" cy="228.8" r="2.9"/>
<circle class="a2" cx="459.6" cy="229.7" r="2.9"/>
<circle class="a2" cx="457.9" cy="231.0" r="2.9"/>
<circle class="a2" cx="460.5" cy="232.9" r="2.9"/>
<circle class="a2" cx="462.5" cy="234.5" r="2.9"/>
<circle class="a2" cx="467.5" cy="235.5" r="2.9"/>
<circle class="a2" cx="467.9" cy="236.9" r="2.9"/>
<circle class="a2" cx="466.0" cy="236.5" r="2.9"/>
<circle class="a2" cx="463.5" cy="234.3" r="2.9"/>
<circle class="a2" cx="467.9" cy="237.5" r="2.9"/>
<circle class="a2" cx="466.5" cy="235.7" r="2.9"/>
<circle class="a2" cx="466.2" cy="235.8" r="2.9"/>
<circle class="a2" cx="463.4" cy="231.8" r="2.9"/>
<circle class="a2" cx="467.8" cy="235.0" r="2.9"/>
<circle class="a2" cx="465.5" cy="235.3" r="2.9"/>
<circle class="a2" cx="466.4" cy="236.2" r="2.9"/>
<circle class="a2" cx="468.0" cy="236.0" r="2.9"/>
<circle class="a2" cx="469.2" cy="234.2" r="2.9"/>
<circle class="a2" cx="467.0" cy="234.6" r="2.9"/>
<circle class="a2" cx="467.8" cy="237.5" r="2.9"/>
<circle class="a2" cx="463.7" cy="231.9" r="2.9"/>
<circle class="a2" cx="466.8" cy="234.1" r="2.9"/>
<circle class="a2" cx="467.4" cy="237.0" r="2.9"/>
<circle class="a2" cx="464.9" cy="235.3" r="2.9"/>
<circle class="a2" cx="466.1" cy="238.9" r="2.9"/>
<circle class="a2" cx="466.1" cy="234.7" r="2.9"/>
<circle class="a2" cx="467.8" cy="235.3" r="2.9"/>
<circle class="a2" cx="464.5" cy="234.3" r="2.9"/>
<circle class="a2" cx="463.9" cy="232.0" r="2.9"/>
<circle class="a2" cx="470.4" cy="236.9" r="2.9"/>
<circle class="a2" cx="479.3" cy="243.6" r="2.9"/>
<circle class="a2" cx="473.5" cy="241.0" r="2.9"/>
<circle class="a2" cx="477.5" cy="244.6" r="2.9"/>
<circle class="a2" cx="470.2" cy="237.4" r="2.9"/>
<circle class="a2" cx="470.8" cy="234.9" r="2.9"/>
<circle class="a2" cx="470.2" cy="240.4" r="2.9"/>
<circle class="a2" cx="473.2" cy="241.8" r="2.9"/>
<circle class="a2" cx="477.6" cy="245.9" r="2.9"/>
<circle class="a2" cx="477.7" cy="240.7" r="2.9"/>
<circle class="a2" cx="475.0" cy="241.2" r="2.9"/>
<circle class="a2" cx="470.8" cy="240.9" r="2.9"/>
<circle class="a2" cx="477.3" cy="239.8" r="2.9"/>
<circle class="a2" cx="470.7" cy="235.6" r="2.9"/>
<circle class="a2" cx="472.9" cy="240.8" r="2.9"/>
<circle class="a2" cx="479.2" cy="247.1" r="2.9"/>
<circle class="a2" cx="479.6" cy="243.7" r="2.9"/>
<circle class="a2" cx="477.3" cy="243.3" r="2.9"/>
<circle class="a2" cx="479.3" cy="242.5" r="2.9"/>
<circle class="a2" cx="472.0" cy="236.6" r="2.9"/>
<circle class="a2" cx="472.2" cy="238.1" r="2.9"/>
<circle class="a2" cx="478.5" cy="245.9" r="2.9"/>
<circle class="a2" cx="476.1" cy="240.3" r="2.9"/>
<circle class="a2" cx="473.6" cy="236.9" r="2.9"/>
<circle class="a2" cx="475.3" cy="239.3" r="2.9"/>
<circle class="a2" cx="474.9" cy="244.0" r="2.9"/>
<circle class="a2" cx="477.8" cy="241.5" r="2.9"/>
<circle class="a2" cx="474.4" cy="239.2" r="2.9"/>
<circle class="a2" cx="472.9" cy="241.0" r="2.9"/>
<circle class="a2" cx="474.3" cy="240.4" r="2.9"/>
<circle class="a2" cx="470.8" cy="240.7" r="2.9"/>
<circle class="a2" cx="475.5" cy="244.5" r="2.9"/>
<circle class="a2" cx="473.5" cy="240.5" r="2.9"/>
<circle class="a2" cx="477.5" cy="241.1" r="2.9"/>
<circle class="a2" cx="479.6" cy="243.5" r="2.9"/>
<circle class="a2" cx="480.3" cy="241.5" r="2.9"/>
<circle class="a2" cx="472.1" cy="237.8" r="2.9"/>
<circle class="a2" cx="479.8" cy="243.0" r="2.9"/>
<circle class="a2" cx="472.6" cy="241.2" r="2.9"/>
<circle class="a2" cx="480.5" cy="242.4" r="2.9"/>
<circle class="a2" cx="481.4" cy="245.3" r="2.9"/>
<circle class="a2" cx="483.3" cy="246.6" r="2.9"/>
<circle class="a2" cx="480.5" cy="242.6" r="2.9"/>
<circle class="a2" cx="483.3" cy="251.5" r="2.9"/>
<circle class="a2" cx="485.8" cy="253.3" r="2.9"/>
<circle class="a2" cx="480.9" cy="243.0" r="2.9"/>
<circle class="a2" cx="482.4" cy="245.3" r="2.9"/>
<circle class="a2" cx="485.0" cy="247.9" r="2.9"/>
<circle class="a2" cx="483.7" cy="246.4" r="2.9"/>
<circle class="a2" cx="485.7" cy="247.1" r="2.9"/>
<circle class="a2" cx="484.5" cy="249.0" r="2.9"/>
<circle class="a2" cx="483.4" cy="247.9" r="2.9"/>
<circle class="a2" cx="483.3" cy="251.0" r="2.9"/>
<circle class="a2" cx="481.1" cy="247.3" r="2.9"/>
<circle class="a2" cx="482.3" cy="244.7" r="2.9"/>
<circle class="a2" cx="481.2" cy="248.3" r="2.9"/>
<circle class="a2" cx="482.5" cy="246.5" r="2.9"/>
<circle class="a2" cx="483.0" cy="245.7" r="2.9"/>
<circle class="a2" cx="479.9" cy="241.4" r="2.9"/>
<circle class="a2" cx="480.9" cy="244.1" r="2.9"/>
<circle class="a2" cx="482.4" cy="244.4" r="2.9"/>
<circle class="a2" cx="484.2" cy="252.2" r="2.9"/>
<circle class="a2" cx="484.8" cy="249.8" r="2.9"/>
<circle class="a2" cx="482.1" cy="244.3" r="2.9"/>
<circle class="a7" cx="407.4" cy="226.3" r="2.9"/>
<circle class="a7" cx="406.1" cy="227.7" r="2.9"/>
<circle class="a7" cx="409.7" cy="222.8" r="2.9"/>
<circle class="a7" cx="404.0" cy="227.2" r="2.9"/>
<circle class="a7" cx="405.7" cy="227.6" r="2.9"/>
<circle class="a7" cx="407.8" cy="227.5" r="2.9"/>
<circle class="a7" cx="406.7" cy="226.5" r="2.9"/>
<circle class="a7" cx="404.0" cy="227.1" r="2.9"/>
<circle class="a7" cx="404.8" cy="229.3" r="2.9"/>
<circle class="a7" cx="409.2" cy="220.2" r="2.9"/>
<circle class="a7" cx="403.8" cy="229.7" r="2.9"/>
<circle class="a7" cx="410.6" cy="224.4" r="2.9"/>
<circle class="a7" cx="413.4" cy="220.9" r="2.9"/>
<circle class="a7" cx="412.4" cy="226.2" r="2.9"/>
<circle class="a7" cx="417.7" cy="220.4" r="2.9"/>
<circle class="a7" cx="412.2" cy="225.1" r="2.9"/>
<circle class="a7" cx="413.2" cy="223.1" r="2.9"/>
<circle class="a7" cx="417.0" cy="219.2" r="2.9"/>
<circle class="a7" cx="410.2" cy="226.1" r="2.9"/>
<circle class="a7" cx="417.8" cy="222.3" r="2.9"/>
<circle class="a7" cx="412.4" cy="221.3" r="2.9"/>
<circle class="a7" cx="411.4" cy="223.1" r="2.9"/>
<circle class="a7" cx="413.4" cy="223.1" r="2.9"/>
<circle class="a7" cx="418.2" cy="218.9" r="2.9"/>
<circle class="a7" cx="428.1" cy="213.1" r="2.9"/>
<circle class="a7" cx="420.9" cy="223.0" r="2.9"/>
<circle class="a7" cx="421.1" cy="222.5" r="2.9"/>
<circle class="a7" cx="424.9" cy="216.0" r="2.9"/>
<circle class="a7" cx="424.0" cy="218.4" r="2.9"/>
<circle class="a7" cx="422.6" cy="221.5" r="2.9"/>
<circle class="a7" cx="424.6" cy="222.7" r="2.9"/>
<circle class="a7" cx="429.3" cy="221.0" r="2.9"/>
<circle class="a7" cx="427.0" cy="221.3" r="2.9"/>
<circle class="a7" cx="427.9" cy="220.8" r="2.9"/>
<circle class="a7" cx="422.0" cy="223.0" r="2.9"/>
<circle class="a7" cx="429.3" cy="222.1" r="2.9"/>
<circle class="a7" cx="430.1" cy="218.4" r="2.9"/>
<circle class="a7" cx="438.1" cy="213.0" r="2.9"/>
<circle class="a7" cx="438.7" cy="220.7" r="2.9"/>
<circle class="a7" cx="431.3" cy="221.5" r="2.9"/>
<circle class="a7" cx="438.6" cy="218.2" r="2.9"/>
<circle class="a7" cx="434.7" cy="218.5" r="2.9"/>
<circle class="a7" cx="431.1" cy="215.0" r="2.9"/>
<circle class="a7" cx="435.2" cy="221.5" r="2.9"/>
<circle class="a7" cx="433.1" cy="221.5" r="2.9"/>
<circle class="a7" cx="436.8" cy="220.9" r="2.9"/>
<circle class="a7" cx="438.0" cy="218.5" r="2.9"/>
<circle class="a7" cx="439.2" cy="218.7" r="2.9"/>
<circle class="a7" cx="432.7" cy="220.8" r="2.9"/>
<circle class="a7" cx="437.1" cy="216.5" r="2.9"/>
<circle class="a7" cx="446.8" cy="212.9" r="2.9"/>
<circle class="a7" cx="446.2" cy="222.4" r="2.9"/>
<circle class="a7" cx="443.9" cy="220.5" r="2.9"/>
<circle class="a7" cx="445.8" cy="220.4" r="2.9"/>
<circle class="a7" cx="447.9" cy="219.8" r="2.9"/>
<circle class="a7" cx="440.6" cy="220.2" r="2.9"/>
<circle class="a7" cx="446.6" cy="222.1" r="2.9"/>
<circle class="a7" cx="446.4" cy="220.0" r="2.9"/>
<circle class="a7" cx="442.0" cy="218.9" r="2.9"/>
<circle class="a7" cx="447.0" cy="221.5" r="2.9"/>
<circle class="a7" cx="447.6" cy="221.1" r="2.9"/>
<circle class="a7" cx="448.5" cy="221.7" r="2.9"/>
<circle class="a7" cx="448.2" cy="222.1" r="2.9"/>
<circle class="a7" cx="454.9" cy="218.0" r="2.9"/>
<circle class="a7" cx="453.0" cy="219.1" r="2.9"/>
<circle class="a7" cx="449.9" cy="216.2" r="2.9"/>
<circle class="a7" cx="450.8" cy="218.1" r="2.9"/>
<circle class="a7" cx="454.8" cy="220.7" r="2.9"/>
<circle class="a7" cx="454.0" cy="223.9" r="2.9"/>
<circle class="a7" cx="452.4" cy="221.9" r="2.9"/>
<circle class="a7" cx="462.1" cy="226.3" r="2.9"/>
<circle class="a7" cx="459.4" cy="224.9" r="2.9"/>
<circle class="a7" cx="455.7" cy="226.0" r="2.9"/>
<circle class="a7" cx="461.9" cy="229.6" r="2.9"/>
<circle class="a7" cx="456.4" cy="219.7" r="2.9"/>
<circle class="a7" cx="459.9" cy="222.1" r="2.9"/>
<circle class="a7" cx="459.3" cy="225.2" r="2.9"/>
<circle class="a7" cx="461.5" cy="224.7" r="2.9"/>
<circle class="a7" cx="459.0" cy="219.7" r="2.9"/>
<circle class="a7" cx="460.8" cy="226.9" r="2.9"/>
<circle class="a7" cx="468.4" cy="232.0" r="2.9"/>
<circle class="a7" cx="466.1" cy="221.4" r="2.9"/>
<circle class="a7" cx="462.6" cy="229.2" r="2.9"/>
<circle class="a7" cx="469.7" cy="233.6" r="2.9"/>
<circle class="a7" cx="468.9" cy="229.4" r="2.9"/>
<circle class="a7" cx="468.5" cy="228.5" r="2.9"/>
<circle class="a7" cx="463.4" cy="226.9" r="2.9"/>
<circle class="a7" cx="468.2" cy="231.6" r="2.9"/>
<circle class="a7" cx="469.0" cy="233.5" r="2.9"/>
<circle class="a7" cx="465.4" cy="231.7" r="2.9"/>
<circle class="a7" cx="463.4" cy="226.0" r="2.9"/>
<circle class="a7" cx="473.8" cy="236.7" r="2.9"/>
<circle class="a7" cx="471.7" cy="235.7" r="2.9"/>
<circle class="a7" cx="473.9" cy="232.9" r="2.9"/>
<circle class="a7" cx="473.7" cy="236.7" r="2.9"/>
<circle class="a7" cx="474.1" cy="236.3" r="2.9"/>
<circle class="a7" cx="472.9" cy="235.1" r="2.9"/>
<circle class="a7" cx="477.5" cy="239.0" r="2.9"/>
<circle class="a7" cx="473.5" cy="230.8" r="2.9"/>
<circle class="a7" cx="475.4" cy="235.9" r="2.9"/>
<circle class="a7" cx="472.4" cy="235.7" r="2.9"/>
<circle class="a7" cx="474.0" cy="236.5" r="2.9"/>
<circle class="a7" cx="476.9" cy="237.9" r="2.9"/>
<circle class="a7" cx="476.4" cy="238.0" r="2.9"/>
<circle class="a7" cx="485.2" cy="250.1" r="2.9"/>
<circle class="a7" cx="481.7" cy="240.6" r="2.9"/>
<circle class="a7" cx="482.7" cy="245.8" r="2.9"/>
<circle class="a7" cx="483.7" cy="242.1" r="2.9"/>
<circle class="a7" cx="480.4" cy="241.7" r="2.9"/>
<circle class="a7" cx="481.2" cy="243.6" r="2.9"/>
<circle class="a7" cx="481.9" cy="244.9" r="2.9"/>
<circle class="a7" cx="483.5" cy="246.2" r="2.9"/>
<circle class="a7" cx="481.5" cy="239.3" r="2.9"/>
<circle class="a7" cx="485.5" cy="245.3" r="2.9"/>
<circle class="a7" cx="484.5" cy="246.2" r="2.9"/>
<circle class="a7" cx="479.0" cy="238.9" r="2.9"/>
<circle class="a7" cx="480.4" cy="235.7" r="2.9"/>
<circle class="a7" cx="479.7" cy="241.5" r="2.9"/>
<circle class="a7" cx="481.4" cy="244.3" r="2.9"/>
<circle class="a7" cx="485.5" cy="250.9" r="2.9"/>
<circle class="a0" cx="488.5" cy="259.8" r="2.9"/>
<circle class="a0" cx="492.5" cy="258.3" r="2.9"/>
<circle class="a0" cx="486.4" cy="254.6" r="2.9"/>
<circle class="a0" cx="494.1" cy="257.0" r="2.9"/>
<circle class="a0" cx="490.7" cy="257.5" r="2.9"/>
<circle class="a0" cx="489.7" cy="253.9" r="2.9"/>
<circle class="a0" cx="491.5" cy="257.7" r="2.9"/>
<circle class="a0" cx="488.4" cy="256.9" r="2.9"/>
<circle class="a0" cx="487.1" cy="256.9" r="2.9"/>
<circle class="a0" cx="491.0" cy="255.5" r="2.9"/>
<circle class="a0" cx="486.3" cy="254.4" r="2.9"/>
<circle class="a0" cx="487.1" cy="256.1" r="2.9"/>
<circle class="a0" cx="497.5" cy="259.0" r="2.9"/>
<circle class="a0" cx="488.2" cy="258.8" r="2.9"/>
<circle class="a0" cx="491.2" cy="259.3" r="2.9"/>
<circle class="a0" cx="490.8" cy="259.4" r="2.9"/>
<circle class="a0" cx="492.2" cy="254.9" r="2.9"/>
<circle class="a0" cx="493.1" cy="266.0" r="2.9"/>
<circle class="a0" cx="493.5" cy="266.5" r="2.9"/>
<circle class="a0" cx="488.6" cy="261.1" r="2.9"/>
<circle class="a0" cx="501.8" cy="263.7" r="2.9"/>
<circle class="a0" cx="489.4" cy="264.3" r="2.9"/>
<circle class="a0" cx="492.2" cy="261.8" r="2.9"/>
<circle class="a0" cx="495.9" cy="261.9" r="2.9"/>
<circle class="a0" cx="490.0" cy="261.9" r="2.9"/>
<circle class="a0" cx="489.8" cy="267.6" r="2.9"/>
<circle class="a0" cx="489.2" cy="265.3" r="2.9"/>
<circle class="a0" cx="504.1" cy="266.5" r="2.9"/>
<circle class="a0" cx="492.1" cy="267.1" r="2.9"/>
<circle class="a0" cx="488.7" cy="262.4" r="2.9"/>
<circle class="a0" cx="494.2" cy="262.1" r="2.9"/>
<circle class="a0" cx="490.8" cy="264.8" r="2.9"/>
<circle class="a0" cx="489.8" cy="260.0" r="2.9"/>
<circle class="a0" cx="488.2" cy="271.0" r="2.9"/>
<circle class="a0" cx="492.4" cy="270.8" r="2.9"/>
<circle class="a0" cx="490.9" cy="268.5" r="2.9"/>
<circle class="a0" cx="488.9" cy="270.8" r="2.9"/>
<circle class="a0" cx="494.5" cy="274.6" r="2.9"/>
<circle class="a0" cx="492.0" cy="272.2" r="2.9"/>
<circle class="a0" cx="489.7" cy="271.9" r="2.9"/>
<circle class="a0" cx="493.0" cy="273.6" r="2.9"/>
<circle class="a0" cx="495.5" cy="273.2" r="2.9"/>
<circle class="a0" cx="489.7" cy="271.0" r="2.9"/>
<circle class="a0" cx="490.4" cy="272.7" r="2.9"/>
<circle class="a0" cx="489.7" cy="269.6" r="2.9"/>
<circle class="a0" cx="498.9" cy="268.2" r="2.9"/>
<circle class="a0" cx="489.4" cy="275.0" r="2.9"/>
<circle class="a0" cx="495.9" cy="268.8" r="2.9"/>
<circle class="a0" cx="491.4" cy="274.2" r="2.9"/>
<circle class="a0" cx="396.8" cy="225.4" r="2.9"/>
<circle class="a0" cx="401.3" cy="221.8" r="2.9"/>
<circle class="a0" cx="399.5" cy="225.1" r="2.9"/>
<circle class="a0" cx="397.8" cy="220.4" r="2.9"/>
<circle class="a1" cx="399.2" cy="196.5" r="2.9"/>
<circle class="a1" cx="399.5" cy="204.5" r="2.9"/>
<circle class="a1" cx="399.5" cy="207.0" r="2.9"/>
<circle class="a1" cx="399.0" cy="211.0" r="2.9"/>
<circle class="a1" cx="405.6" cy="206.5" r="2.9"/>
<circle class="a1" cx="410.0" cy="209.0" r="2.9"/>
<circle class="a1" cx="412.0" cy="205.5" r="2.9"/>
<circle class="a1" cx="428.3" cy="189.2" r="2.9"/>
<circle class="a1" cx="424.0" cy="213.8" r="2.9"/>
<circle class="a1" cx="437.5" cy="205.0" r="2.9"/>
<circle class="a1" cx="445.4" cy="206.5" r="2.9"/>
<circle class="a1" cx="431.0" cy="218.0" r="2.9"/>
<circle class="a1" cx="433.0" cy="222.0" r="2.9"/>
<circle class="a1" cx="449.0" cy="218.0" r="2.9"/>
<circle class="a1" cx="448.5" cy="198.3" r="2.9"/>
<circle class="a1" cx="452.0" cy="197.0" r="2.9"/>
<circle class="a1" cx="458.0" cy="188.3" r="2.9"/>
<circle class="a1" cx="463.5" cy="198.6" r="2.9"/>
<circle class="a1" cx="472.0" cy="222.3" r="2.9"/>
<circle class="a1" cx="481.5" cy="227.0" r="2.9"/>
<circle class="a1" cx="483.0" cy="232.0" r="2.9"/>
<circle class="a1" cx="494.0" cy="237.0" r="2.9"/>
<circle class="a1" cx="480.0" cy="243.0" r="2.9"/>
<circle class="a1" cx="512.0" cy="181.5" r="2.9"/>
<circle class="a1" cx="399.0" cy="221.0" r="2.9"/>
<circle class="a1" cx="455.0" cy="210.0" r="2.9"/>
<circle class="a1" cx="460.0" cy="218.0" r="2.9"/>
<circle class="a1" cx="500.0" cy="262.0" r="2.9"/>
<circle class="a1" cx="505.0" cy="270.0" r="2.9"/>
<circle class="a8" cx="512.1" cy="242.0" r="2.9"/>
<circle class="a8" cx="512.1" cy="246.0" r="2.9"/>
<circle class="a8" cx="512.1" cy="250.0" r="2.9"/>
<circle class="a8" cx="512.1" cy="254.0" r="2.9"/>
<circle class="a8" cx="512.1" cy="258.0" r="2.9"/>
<circle class="a8" cx="512.1" cy="262.0" r="2.9"/>
<circle class="a8" cx="512.1" cy="266.0" r="2.9"/>
<circle class="a8" cx="512.1" cy="270.0" r="2.9"/>
<circle class="a8" cx="512.1" cy="274.0" r="2.9"/>
<line x1="399.6" y1="262.0" x2="399.6" y2="274.0" stroke="#dd8452" stroke-width="1.4"/>
<line x1="402.1" y1="261.0" x2="402.1" y2="274.0" stroke="#dd8452" stroke-width="1.4"/>
<line x1="408.5" y1="260.0" x2="408.5" y2="273.5" stroke="#dd8452" stroke-width="1.4"/>
<line x1="414.8" y1="259.0" x2="414.8" y2="272.5" stroke="#dd8452" stroke-width="1.4"/>
<line x1="421.0" y1="258.0" x2="421.0" y2="272.0" stroke="#dd8452" stroke-width="1.4"/>
<line x1="427.1" y1="257.0" x2="427.1" y2="271.5" stroke="#dd8452" stroke-width="1.4"/>
<line x1="433.3" y1="255.5" x2="433.3" y2="270.5" stroke="#dd8452" stroke-width="1.4"/>
<line x1="439.6" y1="254.0" x2="439.6" y2="269.5" stroke="#dd8452" stroke-width="1.4"/>
<line x1="445.6" y1="254.3" x2="445.6" y2="268.6" stroke="#dd8452" stroke-width="1.4"/>
<line x1="451.7" y1="253.0" x2="451.7" y2="268.0" stroke="#dd8452" stroke-width="1.4"/>
<line x1="458.0" y1="254.3" x2="458.0" y2="268.6" stroke="#dd8452" stroke-width="1.4"/>
<line x1="464.2" y1="254.3" x2="464.2" y2="268.6" stroke="#dd8452" stroke-width="1.4"/>
<line x1="470.3" y1="254.0" x2="470.3" y2="268.6" stroke="#dd8452" stroke-width="1.4"/>
<line x1="476.6" y1="253.0" x2="476.6" y2="268.6" stroke="#dd8452" stroke-width="1.4"/>
<line x1="482.9" y1="246.2" x2="482.9" y2="268.6" stroke="#dd8452" stroke-width="1.4"/>
<line x1="488.8" y1="253.0" x2="488.8" y2="266.0" stroke="#dd8452" stroke-width="1.4"/>
<line x1="495.4" y1="254.0" x2="495.4" y2="268.0" stroke="#dd8452" stroke-width="1.4"/>
<line x1="501.4" y1="256.0" x2="501.4" y2="268.6" stroke="#dd8452" stroke-width="1.4"/>
<line x1="513.6" y1="243.5" x2="513.6" y2="272.2" stroke="#dd8452" stroke-width="1.4"/>
<polyline points="399.6,268.5 402.1,267.7 408.5,266.7 414.8,265.8 421.0,265.2 427.1,264.6 433.3,263.3 439.6,261.9 445.6,261.1 451.7,260.2 458.0,261.1 464.2,261.1 470.3,260.2 476.6,259.7 482.9,257.5 488.8,259.1 495.4,261.1 501.4,262.4 513.6,257.9" fill="none" stroke="#dd8452" stroke-width="1.3"/>
<rect x="397.2" y="266.1" width="4.8" height="4.8" fill="#dd8452"/>
<rect x="399.7" y="265.3" width="4.8" height="4.8" fill="#dd8452"/>
<rect x="406.1" y="264.3" width="4.8" height="4.8" fill="#dd8452"/>
<rect x="412.4" y="263.4" width="4.8" height="4.8" fill="#dd8452"/>
<rect x="418.6" y="262.8" width="4.8" height="4.8" fill="#dd8452"/>
<rect x="424.7" y="262.2" width="4.8" height="4.8" fill="#dd8452"/>
<rect x="430.9" y="260.9" width="4.8" height="4.8" fill="#dd8452"/>
<rect x="437.2" y="259.5" width="4.8" height="4.8" fill="#dd8452"/>
<rect x="443.2" y="258.7" width="4.8" height="4.8" fill="#dd8452"/>
<rect x="449.3" y="257.8" width="4.8" height="4.8" fill="#dd8452"/>
<rect x="455.6" y="258.7" width="4.8" height="4.8" fill="#dd8452"/>
<rect x="461.8" y="258.7" width="4.8" height="4.8" fill="#dd8452"/>
<rect x="467.9" y="257.8" width="4.8" height="4.8" fill="#dd8452"/>
<rect x="474.2" y="257.3" width="4.8" height="4.8" fill="#dd8452"/>
<rect x="480.5" y="255.1" width="4.8" height="4.8" fill="#dd8452"/>
<rect x="486.4" y="256.7" width="4.8" height="4.8" fill="#dd8452"/>
<rect x="493.0" y="258.7" width="4.8" height="4.8" fill="#dd8452"/>
<rect x="499.0" y="260.0" width="4.8" height="4.8" fill="#dd8452"/>
<rect x="511.2" y="255.5" width="4.8" height="4.8" fill="#dd8452"/>
</g>
<g clip-path="url(#c31)">
<path d="M61.0 398.0 L63.5 396.7 L66.0 398.0 L66.0 409.5 L61.0 409.5 Z" fill="#4670ae" stroke="#4670ae" stroke-width="2" stroke-linejoin="round"/>
<path d="M75.5 398.0 L78.0 397.0 L80.8 398.0 L80.8 401.0 L100.0 401.5 L110.0 399.6 L118.0 396.1 L125.0 392.6 L130.0 389.1 L133.0 385.6 L134.3 382.0 L134.3 360.0 L135.5 358.6 L137.2 358.3 L139.0 358.6 L140.2 360.0 L140.2 405.5 L160.0 405.8 L172.0 406.2 L172.0 412.0 L160.0 412.3 L140.2 412.6 L140.2 448.0 L139.0 449.6 L137.2 450.0 L135.5 449.6 L134.3 448.0 L134.3 410.2 L100.0 410.2 L81.0 410.0 L75.5 409.5 Z" fill="#4670ae" stroke="#4670ae" stroke-width="2" stroke-linejoin="round"/>
<circle class="a0" cx="82.0" cy="400.2" r="2.9"/>
<circle class="a0" cx="81.8" cy="398.1" r="2.9"/>
<circle class="a0" cx="82.8" cy="399.4" r="2.9"/>
<circle class="a0" cx="88.2" cy="400.0" r="2.9"/>
<circle class="a0" cx="87.1" cy="401.0" r="2.9"/>
<circle class="a0" cx="85.2" cy="401.3" r="2.9"/>
<circle class="a0" cx="83.8" cy="399.8" r="2.9"/>
<circle class="a0" cx="95.1" cy="399.2" r="2.9"/>
<circle class="a0" cx="87.4" cy="399.6" r="2.9"/>
<circle class="a0" cx="84.3" cy="398.7" r="2.9"/>
<circle class="a0" cx="90.3" cy="401.1" r="2.9"/>
<circle class="a0" cx="86.7" cy="401.5" r="2.9"/>
<circle class="a0" cx="87.4" cy="397.3" r="2.9"/>
<circle class="a0" cx="84.7" cy="397.7" r="2.9"/>
<circle class="a0" cx="95.3" cy="400.2" r="2.9"/>
<circle class="a0" cx="89.6" cy="401.6" r="2.9"/>
<circle class="a0" cx="85.0" cy="399.9" r="2.9"/>
<circle class="a0" cx="87.8" cy="398.5" r="2.9"/>
<circle class="a0" cx="90.2" cy="395.7" r="2.9"/>
<circle class="a0" cx="103.6" cy="401.1" r="2.9"/>
<circle class="a0" cx="109.0" cy="398.8" r="2.9"/>
<circle class="a0" cx="103.6" cy="395.2" r="2.9"/>
<circle class="a0" cx="104.9" cy="395.0" r="2.9"/>
<circle class="a0" cx="105.3" cy="397.7" r="2.9"/>
<circle class="a0" cx="100.0" cy="399.5" r="2.9"/>
<circle class="a0" cx="108.4" cy="394.9" r="2.9"/>
<circle class="a0" cx="103.7" cy="400.2" r="2.9"/>
<circle class="a0" cx="103.4" cy="397.5" r="2.9"/>
<circle class="a0" cx="104.8" cy="399.9" r="2.9"/>
<circle class="a0" cx="113.2" cy="397.9" r="2.9"/>
<circle class="a0" cx="116.2" cy="396.3" r="2.9"/>
<circle class="a0" cx="117.0" cy="396.6" r="2.9"/>
<circle class="a0" cx="116.9" cy="394.6" r="2.9"/>
<circle class="a0" cx="115.4" cy="395.3" r="2.9"/>
<circle class="a0" cx="114.9" cy="395.7" r="2.9"/>
<circle class="a0" cx="111.8" cy="397.2" r="2.9"/>
<circle class="a0" cx="111.0" cy="397.3" r="2.9"/>
<circle class="a0" cx="117.8" cy="396.3" r="2.9"/>
<circle class="a0" cx="124.6" cy="392.4" r="2.9"/>
<circle class="a0" cx="124.2" cy="391.1" r="2.9"/>
<circle class="a0" cx="118.5" cy="393.0" r="2.9"/>
<circle class="a0" cx="122.9" cy="391.7" r="2.9"/>
<circle class="a0" cx="123.5" cy="390.4" r="2.9"/>
<circle class="a0" cx="117.9" cy="395.2" r="2.9"/>
<circle class="a0" cx="119.8" cy="393.0" r="2.9"/>
<circle class="a0" cx="119.5" cy="395.6" r="2.9"/>
<circle class="a0" cx="126.5" cy="390.7" r="2.9"/>
<circle class="a0" cx="127.8" cy="389.1" r="2.9"/>
<circle class="a0" cx="128.2" cy="388.9" r="2.9"/>
<circle class="a0" cx="129.4" cy="388.1" r="2.9"/>
<circle class="a0" cx="129.4" cy="387.0" r="2.9"/>
<circle class="a0" cx="127.2" cy="385.4" r="2.9"/>
<circle class="a0" cx="130.6" cy="386.2" r="2.9"/>
<circle class="a0" cx="132.2" cy="387.1" r="2.9"/>
<circle class="a0" cx="131.2" cy="387.7" r="2.9"/>
<circle class="a0" cx="131.1" cy="387.4" r="2.9"/>
<circle class="a0" cx="130.5" cy="386.4" r="2.9"/>
<circle class="a0" cx="155.7" cy="413.5" r="2.9"/>
<circle class="a0" cx="142.5" cy="413.2" r="2.9"/>
<circle class="a0" cx="147.2" cy="412.5" r="2.9"/>
<circle class="a0" cx="154.0" cy="412.6" r="2.9"/>
<circle class="a0" cx="149.6" cy="413.9" r="2.9"/>
<circle class="a0" cx="143.0" cy="412.7" r="2.9"/>
<circle class="a0" cx="159.3" cy="412.8" r="2.9"/>
<circle class="a0" cx="147.3" cy="412.9" r="2.9"/>
<circle class="a0" cx="143.7" cy="415.4" r="2.9"/>
<circle class="a0" cx="147.2" cy="414.7" r="2.9"/>
<circle class="a0" cx="159.9" cy="415.3" r="2.9"/>
<circle class="a0" cx="162.7" cy="413.3" r="2.9"/>
<circle class="a0" cx="167.1" cy="412.6" r="2.9"/>
<circle class="a0" cx="164.9" cy="413.9" r="2.9"/>
<circle class="a0" cx="171.0" cy="412.2" r="2.9"/>
<circle class="a0" cx="162.0" cy="412.4" r="2.9"/>
<circle class="a0" cx="142.2" cy="404.4" r="2.9"/>
<circle class="a0" cx="150.2" cy="404.5" r="2.9"/>
<circle class="a0" cx="157.3" cy="405.5" r="2.9"/>
<circle class="a0" cx="155.9" cy="404.2" r="2.9"/>
<circle class="a0" cx="152.5" cy="405.5" r="2.9"/>
<circle class="a0" cx="155.5" cy="405.0" r="2.9"/>
<circle class="a0" cx="159.1" cy="404.7" r="2.9"/>
<circle class="a0" cx="165.5" cy="405.5" r="2.9"/>
<circle class="a0" cx="161.8" cy="405.3" r="2.9"/>
<circle class="a0" cx="168.8" cy="404.2" r="2.9"/>
<circle class="a0" cx="161.4" cy="404.8" r="2.9"/>
<circle class="a0" cx="167.0" cy="405.5" r="2.9"/>
<circle class="a1" cx="63.5" cy="390.5" r="2.9"/>
<circle class="a1" cx="63.5" cy="393.7" r="2.9"/>
<circle class="a1" cx="78.0" cy="390.0" r="2.9"/>
<circle class="a1" cx="78.0" cy="393.0" r="2.9"/>
<circle class="a1" cx="124.6" cy="382.6" r="2.9"/>
<circle class="a1" cx="124.0" cy="386.0" r="2.9"/>
<circle class="a1" cx="128.0" cy="385.0" r="2.9"/>
<circle class="a1" cx="142.0" cy="416.0" r="2.9"/>
<circle class="a1" cx="146.0" cy="430.0" r="2.9"/>
<circle class="a1" cx="153.0" cy="430.0" r="2.9"/>
<circle class="a1" cx="157.0" cy="418.0" r="2.9"/>
<circle class="a1" cx="173.0" cy="427.0" r="2.9"/>
<circle class="a1" cx="173.5" cy="434.0" r="2.9"/>
<circle class="a1" cx="173.0" cy="414.0" r="2.9"/>
<circle class="a0" cx="137.2" cy="357.0" r="2.9"/>
<circle class="a0" cx="137.2" cy="451.0" r="2.9"/>
<circle class="a1" cx="176.0" cy="409.0" r="2.9"/>
<circle class="a1" cx="92.0" cy="397.0" r="2.9"/>
<circle class="a1" cx="103.0" cy="397.0" r="2.9"/>
<circle class="a1" cx="113.0" cy="395.0" r="2.9"/>
<circle class="a1" cx="84.0" cy="398.0" r="2.9"/>
<circle class="a1" cx="70.0" cy="411.0" r="2.9"/>
<circle class="a1" cx="84.0" cy="412.0" r="2.9"/>
<line x1="66.3" y1="400.8" x2="66.3" y2="410.4" stroke="#dd8452" stroke-width="1.4"/>
<line x1="77.9" y1="396.0" x2="77.9" y2="409.4" stroke="#dd8452" stroke-width="1.4"/>
<line x1="83.7" y1="400.0" x2="83.7" y2="408.0" stroke="#dd8452" stroke-width="1.4"/>
<line x1="89.4" y1="401.0" x2="89.4" y2="409.0" stroke="#dd8452" stroke-width="1.4"/>
<line x1="95.2" y1="400.0" x2="95.2" y2="407.5" stroke="#dd8452" stroke-width="1.4"/>
<line x1="100.9" y1="400.0" x2="100.9" y2="407.5" stroke="#dd8452" stroke-width="1.4"/>
<line x1="106.7" y1="399.5" x2="106.7" y2="407.5" stroke="#dd8452" stroke-width="1.4"/>
<line x1="112.4" y1="398.0" x2="112.4" y2="407.5" stroke="#dd8452" stroke-width="1.4"/>
<line x1="118.3" y1="400.0" x2="118.3" y2="407.5" stroke="#dd8452" stroke-width="1.4"/>
<line x1="124.2" y1="397.9" x2="124.2" y2="411.4" stroke="#dd8452" stroke-width="1.4"/>
<line x1="130.0" y1="399.0" x2="130.0" y2="407.5" stroke="#dd8452" stroke-width="1.4"/>
<line x1="134.8" y1="397.0" x2="134.8" y2="410.0" stroke="#dd8452" stroke-width="1.4"/>
<line x1="137.5" y1="397.0" x2="137.5" y2="418.5" stroke="#dd8452" stroke-width="1.4"/>
<line x1="142.0" y1="404.0" x2="142.0" y2="413.0" stroke="#dd8452" stroke-width="1.4"/>
<line x1="147.4" y1="399.7" x2="147.4" y2="420.3" stroke="#dd8452" stroke-width="1.4"/>
<line x1="153.3" y1="405.0" x2="153.3" y2="416.0" stroke="#dd8452" stroke-width="1.4"/>
<line x1="158.7" y1="408.0" x2="158.7" y2="414.0" stroke="#dd8452" stroke-width="1.4"/>
<line x1="171.2" y1="397.0" x2="171.2" y2="424.8" stroke="#dd8452" stroke-width="1.4"/>
<polyline points="66.3,404.6 77.9,401.2 83.7,403.7 89.4,405.2 95.2,403.7 100.9,403.8 106.7,403.3 112.4,402.7 118.3,403.8 124.2,403.8 130.0,403.3 134.8,403.3 137.5,406.9 142.0,408.7 147.4,411.9 153.3,410.5 158.7,411.0 165.0,408.3 171.2,415.8" fill="none" stroke="#dd8452" stroke-width="1.3"/>
<rect x="63.9" y="402.2" width="4.8" height="4.8" fill="#dd8452"/>
<rect x="75.5" y="398.8" width="4.8" height="4.8" fill="#dd8452"/>
<rect x="81.3" y="401.3" width="4.8" height="4.8" fill="#dd8452"/>
<rect x="87.0" y="402.8" width="4.8" height="4.8" fill="#dd8452"/>
<rect x="92.8" y="401.3" width="4.8" height="4.8" fill="#dd8452"/>
<rect x="98.5" y="401.4" width="4.8" height="4.8" fill="#dd8452"/>
<rect x="104.3" y="400.9" width="4.8" height="4.8" fill="#dd8452"/>
<rect x="110.0" y="400.3" width="4.8" height="4.8" fill="#dd8452"/>
<rect x="115.9" y="401.4" width="4.8" height="4.8" fill="#dd8452"/>
<rect x="121.8" y="401.4" width="4.8" height="4.8" fill="#dd8452"/>
<rect x="127.6" y="400.9" width="4.8" height="4.8" fill="#dd8452"/>
<rect x="132.4" y="400.9" width="4.8" height="4.8" fill="#dd8452"/>
<rect x="135.1" y="404.5" width="4.8" height="4.8" fill="#dd8452"/>
<rect x="139.6" y="406.3" width="4.8" height="4.8" fill="#dd8452"/>
<rect x="145.0" y="409.5" width="4.8" height="4.8" fill="#dd8452"/>
<rect x="150.9" y="408.1" width="4.8" height="4.8" fill="#dd8452"/>
<rect x="156.3" y="408.6" width="4.8" height="4.8" fill="#dd8452"/>
<rect x="162.6" y="405.9" width="4.8" height="4.8" fill="#dd8452"/>
<rect x="168.8" y="413.4" width="4.8" height="4.8" fill="#dd8452"/>
</g>
<g clip-path="url(#c32)">
<path d="M230.8 360.0 L232.0 358.5 L235.0 358.5 L236.2 360.0 L236.2 370.0 L230.8 370.0 Z" fill="#4670ae" stroke="#4670ae" stroke-width="2" stroke-linejoin="round"/>
<circle class="a2" cx="235.2" cy="376.4" r="2.9"/>
<circle class="a2" cx="235.2" cy="371.6" r="2.9"/>
<circle class="a2" cx="232.8" cy="381.5" r="2.9"/>
<circle class="a2" cx="232.2" cy="379.9" r="2.9"/>
<circle class="a2" cx="232.6" cy="382.0" r="2.9"/>
<circle class="a2" cx="234.8" cy="373.7" r="2.9"/>
<circle class="a2" cx="233.0" cy="381.4" r="2.9"/>
<circle class="a2" cx="234.4" cy="378.6" r="2.9"/>
<path d="M245.8 361.0 L247.0 359.7 L250.0 359.7 L251.3 361.0 L251.3 366.0 L245.8 366.0 Z" fill="#4670ae" stroke="#4670ae" stroke-width="2" stroke-linejoin="round"/>
<circle class="a4" cx="248.2" cy="365.0" r="2.9"/>
<circle class="a4" cx="249.5" cy="373.1" r="2.9"/>
<circle class="a4" cx="249.7" cy="374.4" r="2.9"/>
<circle class="a4" cx="246.8" cy="375.1" r="2.9"/>
<circle class="a4" cx="249.2" cy="366.6" r="2.9"/>
<circle class="a4" cx="248.4" cy="365.7" r="2.9"/>
<circle class="a4" cx="248.9" cy="370.6" r="2.9"/>
<circle class="a4" cx="250.7" cy="373.9" r="2.9"/>
<circle class="a4" cx="246.5" cy="372.8" r="2.9"/>
<circle class="a4" cx="250.7" cy="368.8" r="2.9"/>
<circle class="a4" cx="249.1" cy="373.4" r="2.9"/>
<circle class="a4" cx="246.4" cy="372.0" r="2.9"/>
<circle class="a4" cx="246.4" cy="376.5" r="2.9"/>
<circle class="a4" cx="248.4" cy="365.4" r="2.9"/>
<circle class="a4" cx="249.6" cy="365.9" r="2.9"/>
<circle class="a4" cx="248.5" cy="370.1" r="2.9"/>
<circle class="a4" cx="249.4" cy="375.0" r="2.9"/>
<circle class="a4" cx="247.1" cy="373.1" r="2.9"/>
<circle class="a4" cx="249.5" cy="368.3" r="2.9"/>
<circle class="a4" cx="246.6" cy="374.3" r="2.9"/>
<circle class="a4" cx="249.5" cy="366.9" r="2.9"/>
<circle class="a4" cx="247.6" cy="365.9" r="2.9"/>
<circle class="a0" cx="258.3" cy="365.2" r="2.9"/>
<circle class="a0" cx="257.7" cy="365.4" r="2.9"/>
<circle class="a0" cx="258.8" cy="368.7" r="2.9"/>
<circle class="a0" cx="256.6" cy="373.0" r="2.9"/>
<circle class="a0" cx="257.9" cy="364.2" r="2.9"/>
<circle class="a0" cx="254.8" cy="373.6" r="2.9"/>
<circle class="a0" cx="259.3" cy="369.5" r="2.9"/>
<circle class="a0" cx="258.6" cy="362.4" r="2.9"/>
<circle class="a0" cx="258.1" cy="366.3" r="2.9"/>
<circle class="a0" cx="258.5" cy="365.8" r="2.9"/>
<path d="M260.0 363.0 L262.0 362.0 L280.0 362.0 L305.5 362.0 L305.5 361.0 L307.0 360.9 L309.5 360.9 L310.6 362.0 L310.6 451.0 L309.0 452.4 L307.0 452.4 L305.5 451.0 L305.5 412.0 L305.5 378.0 L280.0 378.0 L262.0 377.0 Z" fill="#4670ae" stroke="#4670ae" stroke-width="2" stroke-linejoin="round"/>
<circle class="a0" cx="303.2" cy="378.6" r="2.9"/>
<circle class="a0" cx="290.8" cy="393.0" r="2.9"/>
<circle class="a0" cx="305.4" cy="380.6" r="2.9"/>
<circle class="a0" cx="301.9" cy="403.9" r="2.9"/>
<circle class="a0" cx="301.6" cy="380.8" r="2.9"/>
<circle class="a0" cx="300.0" cy="386.5" r="2.9"/>
<circle class="a0" cx="289.3" cy="387.7" r="2.9"/>
<circle class="a0" cx="292.4" cy="397.0" r="2.9"/>
<circle class="a0" cx="288.5" cy="388.8" r="2.9"/>
<circle class="a0" cx="287.4" cy="390.9" r="2.9"/>
<circle class="a0" cx="297.4" cy="385.7" r="2.9"/>
<circle class="a0" cx="293.8" cy="380.1" r="2.9"/>
<circle class="a0" cx="292.6" cy="395.4" r="2.9"/>
<circle class="a0" cx="300.1" cy="393.7" r="2.9"/>
<circle class="a0" cx="304.3" cy="377.3" r="2.9"/>
<circle class="a0" cx="298.7" cy="398.2" r="2.9"/>
<circle class="a0" cx="297.2" cy="397.8" r="2.9"/>
<circle class="a0" cx="301.4" cy="390.2" r="2.9"/>
<circle class="a0" cx="289.0" cy="385.7" r="2.9"/>
<circle class="a0" cx="298.4" cy="390.3" r="2.9"/>
<circle class="a0" cx="304.1" cy="376.3" r="2.9"/>
<circle class="a0" cx="287.0" cy="383.3" r="2.9"/>
<circle class="a0" cx="271.1" cy="376.6" r="2.9"/>
<circle class="a0" cx="297.9" cy="383.1" r="2.9"/>
<circle class="a0" cx="285.3" cy="381.4" r="2.9"/>
<circle class="a0" cx="301.1" cy="403.7" r="2.9"/>
<circle class="a0" cx="294.7" cy="399.6" r="2.9"/>
<circle class="a0" cx="288.1" cy="386.0" r="2.9"/>
<circle class="a0" cx="271.0" cy="377.2" r="2.9"/>
<circle class="a0" cx="277.6" cy="379.2" r="2.9"/>
<circle class="a0" cx="295.2" cy="392.6" r="2.9"/>
<circle class="a0" cx="298.0" cy="387.1" r="2.9"/>
<circle class="a0" cx="281.3" cy="383.4" r="2.9"/>
<circle class="a0" cx="296.1" cy="392.1" r="2.9"/>
<circle class="a0" cx="277.9" cy="376.4" r="2.9"/>
<circle class="a0" cx="297.2" cy="388.0" r="2.9"/>
<circle class="a0" cx="301.6" cy="393.2" r="2.9"/>
<circle class="a0" cx="280.7" cy="376.7" r="2.9"/>
<circle class="a0" cx="305.2" cy="404.4" r="2.9"/>
<circle class="a0" cx="301.3" cy="377.4" r="2.9"/>
<circle class="a0" cx="301.0" cy="385.5" r="2.9"/>
<circle class="a0" cx="292.0" cy="395.3" r="2.9"/>
<circle class="a0" cx="275.2" cy="377.5" r="2.9"/>
<circle class="a0" cx="291.1" cy="382.6" r="2.9"/>
<circle class="a0" cx="297.3" cy="398.7" r="2.9"/>
<circle class="a0" cx="280.9" cy="379.1" r="2.9"/>
<circle class="a0" cx="293.1" cy="387.7" r="2.9"/>
<circle class="a0" cx="281.7" cy="382.9" r="2.9"/>
<circle class="a0" cx="295.4" cy="380.3" r="2.9"/>
<circle class="a0" cx="281.9" cy="384.3" r="2.9"/>
<circle class="a0" cx="273.3" cy="376.7" r="2.9"/>
<circle class="a0" cx="297.4" cy="396.6" r="2.9"/>
<circle class="a0" cx="288.2" cy="384.7" r="2.9"/>
<circle class="a0" cx="284.2" cy="377.5" r="2.9"/>
<circle class="a0" cx="286.1" cy="378.9" r="2.9"/>
<circle class="a0" cx="287.0" cy="389.3" r="2.9"/>
<circle class="a0" cx="298.7" cy="381.1" r="2.9"/>
<circle class="a0" cx="299.9" cy="395.9" r="2.9"/>
<circle class="a0" cx="290.8" cy="394.8" r="2.9"/>
<circle class="a0" cx="299.6" cy="402.7" r="2.9"/>
<circle class="a0" cx="299.4" cy="385.2" r="2.9"/>
<circle class="a0" cx="301.5" cy="396.3" r="2.9"/>
<circle class="a0" cx="304.3" cy="379.8" r="2.9"/>
<circle class="a0" cx="301.5" cy="383.6" r="2.9"/>
<circle class="a0" cx="303.5" cy="396.5" r="2.9"/>
<circle class="a0" cx="292.9" cy="396.2" r="2.9"/>
<circle class="a0" cx="294.7" cy="390.8" r="2.9"/>
<circle class="a0" cx="287.5" cy="385.2" r="2.9"/>
<circle class="a0" cx="295.3" cy="384.5" r="2.9"/>
<circle class="a0" cx="298.4" cy="384.6" r="2.9"/>
<circle class="a0" cx="302.5" cy="391.3" r="2.9"/>
<circle class="a0" cx="294.8" cy="382.7" r="2.9"/>
<circle class="a0" cx="287.5" cy="388.9" r="2.9"/>
<circle class="a0" cx="305.0" cy="392.9" r="2.9"/>
<circle class="a0" cx="304.2" cy="379.5" r="2.9"/>
<circle class="a0" cx="289.4" cy="388.3" r="2.9"/>
<circle class="a0" cx="296.3" cy="390.0" r="2.9"/>
<circle class="a0" cx="294.0" cy="396.8" r="2.9"/>
<circle class="a0" cx="305.2" cy="395.6" r="2.9"/>
<circle class="a0" cx="296.1" cy="376.9" r="2.9"/>
<circle class="a0" cx="292.8" cy="382.6" r="2.9"/>
<circle class="a0" cx="304.0" cy="396.6" r="2.9"/>
<circle class="a0" cx="289.4" cy="381.9" r="2.9"/>
<circle class="a0" cx="282.1" cy="383.5" r="2.9"/>
<circle class="a0" cx="303.7" cy="389.1" r="2.9"/>
<circle class="a0" cx="298.9" cy="397.0" r="2.9"/>
<circle class="a0" cx="269.2" cy="376.9" r="2.9"/>
<circle class="a0" cx="286.8" cy="384.8" r="2.9"/>
<circle class="a0" cx="304.9" cy="386.9" r="2.9"/>
<circle class="a0" cx="304.7" cy="404.2" r="2.9"/>
<circle class="a0" cx="298.4" cy="376.9" r="2.9"/>
<circle class="a0" cx="297.1" cy="376.7" r="2.9"/>
<circle class="a0" cx="285.2" cy="387.8" r="2.9"/>
<circle class="a0" cx="268.2" cy="376.6" r="2.9"/>
<circle class="a0" cx="295.5" cy="400.5" r="2.9"/>
<circle class="a0" cx="304.3" cy="390.9" r="2.9"/>
<circle class="a0" cx="282.4" cy="378.5" r="2.9"/>
<circle class="a0" cx="288.6" cy="376.5" r="2.9"/>
<circle class="a0" cx="284.7" cy="378.9" r="2.9"/>
<circle class="a0" cx="294.0" cy="388.0" r="2.9"/>
<circle class="a0" cx="299.0" cy="397.4" r="2.9"/>
<circle class="a0" cx="301.5" cy="381.1" r="2.9"/>
<circle class="a0" cx="298.6" cy="388.7" r="2.9"/>
<circle class="a0" cx="304.6" cy="387.3" r="2.9"/>
<circle class="a0" cx="284.9" cy="376.3" r="2.9"/>
<circle class="a0" cx="301.0" cy="381.2" r="2.9"/>
<circle class="a0" cx="291.3" cy="394.1" r="2.9"/>
<circle class="a0" cx="287.9" cy="384.8" r="2.9"/>
<circle class="a0" cx="298.3" cy="379.3" r="2.9"/>
<circle class="a0" cx="297.1" cy="388.9" r="2.9"/>
<circle class="a0" cx="277.2" cy="376.8" r="2.9"/>
<circle class="a0" cx="304.5" cy="399.5" r="2.9"/>
<circle class="a0" cx="304.2" cy="390.4" r="2.9"/>
<circle class="a0" cx="292.5" cy="382.3" r="2.9"/>
<circle class="a0" cx="295.6" cy="390.2" r="2.9"/>
<circle class="a0" cx="297.9" cy="402.5" r="2.9"/>
<circle class="a0" cx="298.3" cy="390.0" r="2.9"/>
<circle class="a0" cx="284.9" cy="381.0" r="2.9"/>
<circle class="a0" cx="290.0" cy="392.5" r="2.9"/>
<circle class="a0" cx="290.5" cy="376.4" r="2.9"/>
<circle class="a0" cx="283.6" cy="376.4" r="2.9"/>
<circle class="a0" cx="298.7" cy="401.5" r="2.9"/>
<circle class="a0" cx="300.2" cy="391.4" r="2.9"/>
<circle class="a0" cx="282.4" cy="382.0" r="2.9"/>
<circle class="a0" cx="296.9" cy="399.1" r="2.9"/>
<circle class="a0" cx="303.1" cy="398.6" r="2.9"/>
<circle class="a0" cx="303.1" cy="383.0" r="2.9"/>
<circle class="a0" cx="297.6" cy="380.4" r="2.9"/>
<circle class="a0" cx="301.1" cy="391.0" r="2.9"/>
<circle class="a0" cx="302.9" cy="402.9" r="2.9"/>
<circle class="a0" cx="301.7" cy="376.7" r="2.9"/>
<circle class="a0" cx="295.7" cy="388.4" r="2.9"/>
<circle class="a0" cx="287.7" cy="387.2" r="2.9"/>
<circle class="a0" cx="299.3" cy="399.0" r="2.9"/>
<circle class="a0" cx="285.0" cy="381.7" r="2.9"/>
<circle class="a0" cx="275.7" cy="376.4" r="2.9"/>
<circle class="a0" cx="299.5" cy="390.5" r="2.9"/>
<circle class="a0" cx="273.4" cy="376.3" r="2.9"/>
<circle class="a0" cx="299.6" cy="404.4" r="2.9"/>
<circle class="a0" cx="303.5" cy="396.9" r="2.9"/>
<circle class="a0" cx="304.4" cy="407.3" r="2.9"/>
<circle class="a0" cx="289.7" cy="378.5" r="2.9"/>
<circle class="a0" cx="300.1" cy="390.6" r="2.9"/>
<circle class="a0" cx="285.4" cy="387.9" r="2.9"/>
<circle class="a0" cx="296.3" cy="389.9" r="2.9"/>
<circle class="a0" cx="302.6" cy="393.3" r="2.9"/>
<circle class="a0" cx="288.0" cy="389.9" r="2.9"/>
<circle class="a0" cx="294.6" cy="397.2" r="2.9"/>
<circle class="a0" cx="300.6" cy="376.5" r="2.9"/>
<circle class="a0" cx="304.6" cy="385.3" r="2.9"/>
<circle class="a0" cx="281.1" cy="376.4" r="2.9"/>
<circle class="a0" cx="290.8" cy="390.1" r="2.9"/>
<circle class="a0" cx="292.3" cy="393.7" r="2.9"/>
<circle class="a0" cx="305.4" cy="389.5" r="2.9"/>
<circle class="a0" cx="294.4" cy="380.6" r="2.9"/>
<circle class="a0" cx="291.1" cy="393.1" r="2.9"/>
<circle class="a0" cx="295.5" cy="396.4" r="2.9"/>
<circle class="a0" cx="289.7" cy="391.1" r="2.9"/>
<circle class="a0" cx="297.3" cy="389.8" r="2.9"/>
<circle class="a0" cx="295.1" cy="378.5" r="2.9"/>
<circle class="a0" cx="295.9" cy="401.2" r="2.9"/>
<circle class="a0" cx="286.0" cy="387.7" r="2.9"/>
<circle class="a0" cx="296.7" cy="388.0" r="2.9"/>
<circle class="a0" cx="272.7" cy="377.0" r="2.9"/>
<circle class="a0" cx="300.8" cy="384.6" r="2.9"/>
<circle class="a0" cx="301.7" cy="406.3" r="2.9"/>
<circle class="a0" cx="295.0" cy="392.7" r="2.9"/>
<circle class="a0" cx="301.5" cy="382.1" r="2.9"/>
<circle class="a0" cx="296.5" cy="377.8" r="2.9"/>
<circle class="a0" cx="279.0" cy="376.8" r="2.9"/>
<circle class="a0" cx="279.9" cy="380.8" r="2.9"/>
<circle class="a0" cx="303.5" cy="404.1" r="2.9"/>
<circle class="a0" cx="300.5" cy="398.1" r="2.9"/>
<circle class="a0" cx="296.3" cy="398.7" r="2.9"/>
<circle class="a0" cx="291.8" cy="377.3" r="2.9"/>
<circle class="a0" cx="290.8" cy="385.9" r="2.9"/>
<circle class="a0" cx="283.2" cy="378.2" r="2.9"/>
<circle class="a0" cx="287.7" cy="376.9" r="2.9"/>
<circle class="a0" cx="274.4" cy="377.3" r="2.9"/>
<circle class="a0" cx="296.8" cy="390.6" r="2.9"/>
<circle class="a0" cx="303.4" cy="391.4" r="2.9"/>
<circle class="a0" cx="284.3" cy="380.8" r="2.9"/>
<circle class="a0" cx="292.9" cy="380.7" r="2.9"/>
<circle class="a0" cx="303.8" cy="379.4" r="2.9"/>
<circle class="a0" cx="303.9" cy="393.1" r="2.9"/>
<circle class="a0" cx="299.2" cy="382.1" r="2.9"/>
<circle class="a0" cx="300.9" cy="386.4" r="2.9"/>
<circle class="a0" cx="286.0" cy="379.6" r="2.9"/>
<circle class="a0" cx="293.1" cy="382.2" r="2.9"/>
<circle class="a0" cx="300.9" cy="394.6" r="2.9"/>
<circle class="a0" cx="294.6" cy="376.1" r="2.9"/>
<circle class="a0" cx="304.5" cy="398.8" r="2.9"/>
<circle class="a0" cx="283.1" cy="383.1" r="2.9"/>
<circle class="a0" cx="293.7" cy="397.2" r="2.9"/>
<circle class="a0" cx="298.0" cy="387.7" r="2.9"/>
<circle class="a0" cx="305.3" cy="398.6" r="2.9"/>
<circle class="a0" cx="286.3" cy="382.4" r="2.9"/>
<circle class="a0" cx="287.1" cy="385.0" r="2.9"/>
<circle class="a0" cx="302.0" cy="382.1" r="2.9"/>
<circle class="a0" cx="286.7" cy="381.4" r="2.9"/>
<circle class="a0" cx="297.6" cy="383.1" r="2.9"/>
<circle class="a0" cx="294.9" cy="387.2" r="2.9"/>
<circle class="a0" cx="301.7" cy="379.6" r="2.9"/>
<circle class="a0" cx="296.7" cy="377.6" r="2.9"/>
<circle class="a0" cx="293.2" cy="379.3" r="2.9"/>
<circle class="a0" cx="290.4" cy="385.2" r="2.9"/>
<circle class="a0" cx="291.0" cy="387.3" r="2.9"/>
<circle class="a0" cx="291.5" cy="377.9" r="2.9"/>
<circle class="a0" cx="288.7" cy="386.2" r="2.9"/>
<circle class="a0" cx="288.1" cy="377.0" r="2.9"/>
<circle class="a0" cx="299.6" cy="382.8" r="2.9"/>
<circle class="a0" cx="298.7" cy="379.3" r="2.9"/>
<circle class="a0" cx="298.9" cy="386.0" r="2.9"/>
<circle class="a0" cx="294.3" cy="380.9" r="2.9"/>
<circle class="a0" cx="304.8" cy="385.3" r="2.9"/>
<circle class="a0" cx="288.4" cy="384.0" r="2.9"/>
<circle class="a0" cx="299.3" cy="376.4" r="2.9"/>
<circle class="a0" cx="288.8" cy="380.1" r="2.9"/>
<circle class="a0" cx="288.4" cy="377.7" r="2.9"/>
<circle class="a0" cx="297.4" cy="384.8" r="2.9"/>
<circle class="a0" cx="277.8" cy="377.6" r="2.9"/>
<circle class="a0" cx="293.1" cy="380.9" r="2.9"/>
<circle class="a0" cx="301.6" cy="381.2" r="2.9"/>
<circle class="a0" cx="305.3" cy="381.4" r="2.9"/>
<circle class="a0" cx="289.4" cy="377.7" r="2.9"/>
<circle class="a0" cx="304.4" cy="378.2" r="2.9"/>
<circle class="a0" cx="289.8" cy="378.8" r="2.9"/>
<circle class="a0" cx="291.5" cy="376.8" r="2.9"/>
<circle class="a0" cx="297.6" cy="387.8" r="2.9"/>
<circle class="a0" cx="283.3" cy="376.7" r="2.9"/>
<circle class="a0" cx="300.5" cy="380.9" r="2.9"/>
<circle class="a0" cx="285.8" cy="377.9" r="2.9"/>
<circle class="a0" cx="292.4" cy="377.0" r="2.9"/>
<circle class="a0" cx="302.8" cy="388.6" r="2.9"/>
<circle class="a0" cx="298.1" cy="393.4" r="2.9"/>
<circle class="a0" cx="293.3" cy="378.2" r="2.9"/>
<circle class="a0" cx="302.2" cy="382.0" r="2.9"/>
<circle class="a0" cx="296.8" cy="391.3" r="2.9"/>
<circle class="a0" cx="283.3" cy="378.9" r="2.9"/>
<circle class="a0" cx="286.2" cy="384.1" r="2.9"/>
<circle class="a0" cx="279.0" cy="377.8" r="2.9"/>
<circle class="a0" cx="303.0" cy="388.6" r="2.9"/>
<circle class="a0" cx="301.8" cy="390.1" r="2.9"/>
<circle class="a0" cx="301.7" cy="390.2" r="2.9"/>
<circle class="a0" cx="291.0" cy="377.3" r="2.9"/>
<circle class="a0" cx="299.8" cy="384.1" r="2.9"/>
<circle class="a0" cx="291.1" cy="383.8" r="2.9"/>
<circle class="a0" cx="305.2" cy="393.6" r="2.9"/>
<circle class="a0" cx="300.7" cy="384.3" r="2.9"/>
<circle class="a0" cx="286.2" cy="377.2" r="2.9"/>
<circle class="a0" cx="303.9" cy="380.0" r="2.9"/>
<circle class="a0" cx="298.4" cy="380.9" r="2.9"/>
<circle class="a0" cx="298.5" cy="388.0" r="2.9"/>
<circle class="a0" cx="305.3" cy="398.1" r="2.9"/>
<circle class="a0" cx="298.9" cy="389.8" r="2.9"/>
<circle class="a0" cx="298.7" cy="391.2" r="2.9"/>
<circle class="a0" cx="301.4" cy="380.4" r="2.9"/>
<circle class="a0" cx="297.9" cy="379.2" r="2.9"/>
<circle class="a0" cx="292.6" cy="387.2" r="2.9"/>
<circle class="a0" cx="290.6" cy="387.9" r="2.9"/>
<circle class="a0" cx="285.8" cy="381.2" r="2.9"/>
<circle class="a0" cx="303.1" cy="390.5" r="2.9"/>
<circle class="a0" cx="293.8" cy="389.6" r="2.9"/>
<circle class="a0" cx="287.9" cy="379.2" r="2.9"/>
<circle class="a0" cx="284.2" cy="378.8" r="2.9"/>
<circle class="a0" cx="290.3" cy="387.2" r="2.9"/>
<circle class="a0" cx="302.1" cy="378.8" r="2.9"/>
<circle class="a0" cx="305.5" cy="383.4" r="2.9"/>
<circle class="a0" cx="293.2" cy="388.2" r="2.9"/>
<circle class="a0" cx="302.9" cy="395.4" r="2.9"/>
<circle class="a0" cx="287.6" cy="377.5" r="2.9"/>
<circle class="a0" cx="304.1" cy="398.4" r="2.9"/>
<circle class="a0" cx="303.5" cy="388.5" r="2.9"/>
<circle class="a0" cx="299.7" cy="386.0" r="2.9"/>
<circle class="a0" cx="290.3" cy="387.1" r="2.9"/>
<circle class="a0" cx="296.0" cy="379.3" r="2.9"/>
<circle class="a0" cx="303.0" cy="397.8" r="2.9"/>
<circle class="a0" cx="298.1" cy="388.0" r="2.9"/>
<circle class="a0" cx="300.2" cy="392.9" r="2.9"/>
<circle class="a0" cx="301.5" cy="390.6" r="2.9"/>
<circle class="a0" cx="292.1" cy="384.9" r="2.9"/>
<circle class="a0" cx="302.3" cy="383.0" r="2.9"/>
<circle class="a0" cx="281.8" cy="378.2" r="2.9"/>
<circle class="a0" cx="290.3" cy="380.7" r="2.9"/>
<circle class="a0" cx="300.3" cy="385.9" r="2.9"/>
<circle class="a0" cx="290.7" cy="382.1" r="2.9"/>
<circle class="a0" cx="288.1" cy="377.9" r="2.9"/>
<circle class="a0" cx="303.7" cy="391.7" r="2.9"/>
<circle class="a0" cx="283.2" cy="382.3" r="2.9"/>
<circle class="a0" cx="296.5" cy="383.9" r="2.9"/>
<circle class="a0" cx="261.0" cy="382.6" r="2.9"/>
<circle class="a0" cx="263.3" cy="383.9" r="2.9"/>
<circle class="a0" cx="265.2" cy="381.5" r="2.9"/>
<circle class="a0" cx="265.9" cy="378.7" r="2.9"/>
<circle class="a0" cx="259.1" cy="381.7" r="2.9"/>
<circle class="a0" cx="267.0" cy="380.5" r="2.9"/>
<circle class="a0" cx="263.5" cy="378.6" r="2.9"/>
<circle class="a0" cx="268.2" cy="379.4" r="2.9"/>
<circle class="a0" cx="266.3" cy="378.6" r="2.9"/>
<circle class="a0" cx="262.8" cy="381.0" r="2.9"/>
<circle class="a0" cx="271.7" cy="388.1" r="2.9"/>
<circle class="a0" cx="274.7" cy="383.8" r="2.9"/>
<circle class="a0" cx="271.6" cy="381.1" r="2.9"/>
<circle class="a0" cx="269.3" cy="381.9" r="2.9"/>
<circle class="a0" cx="274.2" cy="382.9" r="2.9"/>
<circle class="a0" cx="268.9" cy="384.5" r="2.9"/>
<circle class="a0" cx="269.1" cy="386.6" r="2.9"/>
<circle class="a0" cx="270.4" cy="380.9" r="2.9"/>
<circle class="a0" cx="274.1" cy="381.8" r="2.9"/>
<circle class="a0" cx="271.8" cy="385.8" r="2.9"/>
<circle class="a0" cx="271.2" cy="381.6" r="2.9"/>
<circle class="a0" cx="284.6" cy="391.3" r="2.9"/>
<circle class="a0" cx="281.2" cy="386.3" r="2.9"/>
<circle class="a0" cx="284.2" cy="390.6" r="2.9"/>
<circle class="a0" cx="275.7" cy="386.8" r="2.9"/>
<circle class="a0" cx="278.7" cy="385.8" r="2.9"/>
<circle class="a0" cx="281.0" cy="388.8" r="2.9"/>
<circle class="a0" cx="281.0" cy="389.2" r="2.9"/>
<circle class="a0" cx="279.7" cy="387.9" r="2.9"/>
<circle class="a0" cx="282.2" cy="387.4" r="2.9"/>
<circle class="a0" cx="276.4" cy="391.7" r="2.9"/>
<circle class="a0" cx="276.5" cy="391.0" r="2.9"/>
<circle class="a0" cx="281.4" cy="386.8" r="2.9"/>
<circle class="a0" cx="287.5" cy="398.6" r="2.9"/>
<circle class="a0" cx="290.6" cy="396.1" r="2.9"/>
<circle class="a0" cx="289.0" cy="395.5" r="2.9"/>
<circle class="a0" cx="286.3" cy="391.8" r="2.9"/>
<circle class="a0" cx="282.6" cy="394.7" r="2.9"/>
<circle class="a0" cx="286.9" cy="398.4" r="2.9"/>
<circle class="a0" cx="283.8" cy="394.1" r="2.9"/>
<circle class="a0" cx="284.6" cy="395.2" r="2.9"/>
<circle class="a0" cx="286.2" cy="394.4" r="2.9"/>
<circle class="a0" cx="287.9" cy="394.2" r="2.9"/>
<circle class="a0" cx="283.3" cy="393.4" r="2.9"/>
<circle class="a0" cx="291.9" cy="397.4" r="2.9"/>
<circle class="a0" cx="285.6" cy="392.8" r="2.9"/>
<circle class="a0" cx="281.9" cy="398.0" r="2.9"/>
<circle class="a0" cx="289.8" cy="395.2" r="2.9"/>
<circle class="a0" cx="295.7" cy="407.8" r="2.9"/>
<circle class="a0" cx="293.7" cy="400.8" r="2.9"/>
<circle class="a0" cx="293.0" cy="406.0" r="2.9"/>
<circle class="a0" cx="298.0" cy="405.2" r="2.9"/>
<circle class="a0" cx="297.4" cy="404.7" r="2.9"/>
<circle class="a0" cx="291.8" cy="408.8" r="2.9"/>
<circle class="a0" cx="293.9" cy="406.1" r="2.9"/>
<circle class="a0" cx="294.9" cy="403.3" r="2.9"/>
<circle class="a0" cx="291.1" cy="402.5" r="2.9"/>
<circle class="a0" cx="297.7" cy="405.3" r="2.9"/>
<circle class="a0" cx="294.2" cy="399.8" r="2.9"/>
<circle class="a0" cx="294.2" cy="412.7" r="2.9"/>
<circle class="a0" cx="298.9" cy="408.0" r="2.9"/>
<circle class="a0" cx="300.3" cy="408.0" r="2.9"/>
<circle class="a0" cx="301.2" cy="408.3" r="2.9"/>
<circle class="a0" cx="302.3" cy="408.8" r="2.9"/>
<circle class="a0" cx="297.4" cy="409.0" r="2.9"/>
<circle class="a0" cx="299.9" cy="408.3" r="2.9"/>
<circle class="a0" cx="300.1" cy="410.0" r="2.9"/>
<circle class="a0" cx="299.0" cy="407.7" r="2.9"/>
<circle class="a0" cx="316.4" cy="382.0" r="2.9"/>
<circle class="a0" cx="317.0" cy="388.5" r="2.9"/>
<circle class="a0" cx="312.7" cy="389.1" r="2.9"/>
<circle class="a0" cx="313.1" cy="384.6" r="2.9"/>
<circle class="a0" cx="312.7" cy="388.6" r="2.9"/>
<circle class="a0" cx="315.2" cy="383.1" r="2.9"/>
<circle class="a0" cx="313.3" cy="381.2" r="2.9"/>
<circle class="a0" cx="318.2" cy="389.3" r="2.9"/>
<circle class="a0" cx="317.8" cy="383.0" r="2.9"/>
<circle class="a0" cx="313.2" cy="388.2" r="2.9"/>
<circle class="a0" cx="311.7" cy="387.3" r="2.9"/>
<circle class="a0" cx="314.8" cy="384.7" r="2.9"/>
<circle class="a0" cx="314.0" cy="382.8" r="2.9"/>
<circle class="a0" cx="315.2" cy="385.8" r="2.9"/>
<circle class="a0" cx="316.0" cy="389.6" r="2.9"/>
<circle class="a0" cx="314.6" cy="396.9" r="2.9"/>
<circle class="a0" cx="318.8" cy="396.2" r="2.9"/>
<circle class="a0" cx="317.5" cy="399.0" r="2.9"/>
<circle class="a0" cx="316.3" cy="392.4" r="2.9"/>
<circle class="a0" cx="315.9" cy="395.1" r="2.9"/>
<circle class="a0" cx="314.6" cy="397.6" r="2.9"/>
<circle class="a0" cx="320.3" cy="396.6" r="2.9"/>
<circle class="a0" cx="319.2" cy="393.9" r="2.9"/>
<circle class="a0" cx="315.3" cy="391.0" r="2.9"/>
<circle class="a0" cx="321.7" cy="399.0" r="2.9"/>
<circle class="a0" cx="317.1" cy="390.8" r="2.9"/>
<circle class="a0" cx="317.3" cy="396.2" r="2.9"/>
<circle class="a0" cx="316.2" cy="392.9" r="2.9"/>
<circle class="a0" cx="316.3" cy="393.7" r="2.9"/>
<circle class="a0" cx="319.2" cy="398.5" r="2.9"/>
<circle class="a0" cx="314.2" cy="393.1" r="2.9"/>
<circle class="a0" cx="318.9" cy="406.8" r="2.9"/>
<circle class="a0" cx="324.0" cy="408.0" r="2.9"/>
<circle class="a0" cx="318.2" cy="406.5" r="2.9"/>
<circle class="a0" cx="321.4" cy="401.4" r="2.9"/>
<circle class="a0" cx="321.0" cy="403.3" r="2.9"/>
<circle class="a0" cx="320.5" cy="401.2" r="2.9"/>
<circle class="a0" cx="318.8" cy="405.2" r="2.9"/>
<circle class="a0" cx="318.9" cy="406.5" r="2.9"/>
<circle class="a0" cx="317.8" cy="403.2" r="2.9"/>
<circle class="a0" cx="322.6" cy="403.3" r="2.9"/>
<circle class="a0" cx="319.4" cy="403.6" r="2.9"/>
<circle class="a0" cx="320.3" cy="407.0" r="2.9"/>
<circle class="a0" cx="320.8" cy="401.1" r="2.9"/>
<circle class="a0" cx="275.3" cy="361.1" r="2.9"/>
<circle class="a0" cx="263.5" cy="360.4" r="2.9"/>
<circle class="a0" cx="278.9" cy="359.2" r="2.9"/>
<circle class="a0" cx="268.0" cy="360.6" r="2.9"/>
<circle class="a0" cx="278.2" cy="359.8" r="2.9"/>
<circle class="a0" cx="274.4" cy="359.2" r="2.9"/>
<circle class="a0" cx="265.7" cy="359.3" r="2.9"/>
<circle class="a0" cx="271.1" cy="361.6" r="2.9"/>
<circle class="a0" cx="275.9" cy="359.8" r="2.9"/>
<circle class="a0" cx="276.8" cy="361.9" r="2.9"/>
<circle class="a0" cx="263.0" cy="359.2" r="2.9"/>
<circle class="a0" cx="263.5" cy="359.4" r="2.9"/>
<circle class="a0" cx="270.2" cy="359.8" r="2.9"/>
<circle class="a0" cx="277.1" cy="359.3" r="2.9"/>
<circle class="a0" cx="280.1" cy="360.2" r="2.9"/>
<circle class="a0" cx="289.2" cy="360.5" r="2.9"/>
<circle class="a0" cx="298.2" cy="359.4" r="2.9"/>
<circle class="a0" cx="284.8" cy="360.2" r="2.9"/>
<circle class="a0" cx="293.0" cy="361.7" r="2.9"/>
<circle class="a0" cx="290.0" cy="359.5" r="2.9"/>
<circle class="a0" cx="285.0" cy="359.2" r="2.9"/>
<circle class="a0" cx="297.7" cy="361.5" r="2.9"/>
<circle class="a0" cx="296.9" cy="361.1" r="2.9"/>
<circle class="a0" cx="282.9" cy="360.3" r="2.9"/>
<circle class="a0" cx="293.1" cy="360.4" r="2.9"/>
<circle class="a0" cx="280.2" cy="360.7" r="2.9"/>
<circle class="a0" cx="280.2" cy="360.5" r="2.9"/>
<circle class="a0" cx="298.8" cy="360.0" r="2.9"/>
<circle class="a0" cx="296.7" cy="359.1" r="2.9"/>
<circle class="a0" cx="304.7" cy="435.0" r="2.9"/>
<circle class="a0" cx="303.9" cy="445.5" r="2.9"/>
<circle class="a0" cx="304.9" cy="440.9" r="2.9"/>
<circle class="a0" cx="305.1" cy="425.2" r="2.9"/>
<circle class="a0" cx="304.1" cy="420.6" r="2.9"/>
<circle class="a0" cx="304.3" cy="432.9" r="2.9"/>
<circle class="a0" cx="305.4" cy="439.5" r="2.9"/>
<circle class="a0" cx="304.5" cy="437.8" r="2.9"/>
<circle class="a0" cx="305.2" cy="425.0" r="2.9"/>
<circle class="a0" cx="305.3" cy="421.0" r="2.9"/>
<circle class="a0" cx="313.6" cy="431.3" r="2.9"/>
<circle class="a0" cx="311.5" cy="416.8" r="2.9"/>
<circle class="a0" cx="312.0" cy="436.0" r="2.9"/>
<circle class="a0" cx="313.2" cy="435.8" r="2.9"/>
<circle class="a0" cx="311.6" cy="437.1" r="2.9"/>
<circle class="a0" cx="313.0" cy="444.5" r="2.9"/>
<circle class="a0" cx="311.2" cy="449.6" r="2.9"/>
<circle class="a0" cx="313.0" cy="430.4" r="2.9"/>
<circle class="a0" cx="311.9" cy="435.8" r="2.9"/>
<circle class="a0" cx="311.1" cy="419.3" r="2.9"/>
<circle class="a0" cx="313.0" cy="425.3" r="2.9"/>
<circle class="a0" cx="312.8" cy="438.6" r="2.9"/>
<circle class="a0" cx="311.4" cy="417.2" r="2.9"/>
<circle class="a1" cx="236.5" cy="401.7" r="2.9"/>
<circle class="a1" cx="253.3" cy="402.0" r="2.9"/>
<circle class="a1" cx="279.6" cy="392.6" r="2.9"/>
<circle class="a1" cx="282.0" cy="404.0" r="2.9"/>
<circle class="a1" cx="275.0" cy="359.0" r="2.9"/>
<circle class="a1" cx="284.0" cy="398.0" r="2.9"/>
<circle class="a1" cx="291.5" cy="410.5" r="2.9"/>
<circle class="a1" cx="296.0" cy="410.0" r="2.9"/>
<circle class="a1" cx="305.0" cy="443.0" r="2.9"/>
<circle class="a1" cx="316.0" cy="439.0" r="2.9"/>
<circle class="a1" cx="316.0" cy="450.0" r="2.9"/>
<circle class="a1" cx="325.0" cy="449.0" r="2.9"/>
<circle class="a1" cx="333.0" cy="437.0" r="2.9"/>
<circle class="a1" cx="334.0" cy="445.0" r="2.9"/>
<circle class="a1" cx="333.0" cy="399.0" r="2.9"/>
<circle class="a1" cx="343.0" cy="398.0" r="2.9"/>
<circle class="a1" cx="344.0" cy="410.0" r="2.9"/>
<circle class="a1" cx="344.0" cy="430.0" r="2.9"/>
<circle class="a1" cx="344.0" cy="438.0" r="2.9"/>
<circle class="a1" cx="313.0" cy="420.0" r="2.9"/>
<circle class="a1" cx="313.0" cy="430.0" r="2.9"/>
<circle class="a1" cx="312.0" cy="445.0" r="2.9"/>
<circle class="a1" cx="241.0" cy="362.0" r="2.9"/>
<circle class="a1" cx="241.0" cy="372.0" r="2.9"/>
<circle class="a1" cx="290.0" cy="359.0" r="2.9"/>
<circle class="a1" cx="296.0" cy="359.0" r="2.9"/>
<circle class="a1" cx="300.0" cy="359.0" r="2.9"/>
<circle class="a5" cx="343.5" cy="450.0" r="2.9"/>
<circle class="a5" cx="344.0" cy="402.0" r="2.9"/>
<circle class="a5" cx="344.0" cy="428.0" r="2.9"/>
<circle class="a5" cx="344.0" cy="444.0" r="2.9"/>
<line x1="236.5" y1="361.3" x2="236.5" y2="373.8" stroke="#dd8452" stroke-width="1.4"/>
<line x1="248.5" y1="365.0" x2="248.5" y2="372.0" stroke="#dd8452" stroke-width="1.4"/>
<line x1="253.8" y1="360.4" x2="253.8" y2="384.4" stroke="#dd8452" stroke-width="1.4"/>
<line x1="260.0" y1="369.0" x2="260.0" y2="376.0" stroke="#dd8452" stroke-width="1.4"/>
<line x1="265.8" y1="366.0" x2="265.8" y2="378.0" stroke="#dd8452" stroke-width="1.4"/>
<line x1="271.8" y1="367.0" x2="271.8" y2="379.0" stroke="#dd8452" stroke-width="1.4"/>
<line x1="277.5" y1="367.5" x2="277.5" y2="378.5" stroke="#dd8452" stroke-width="1.4"/>
<line x1="283.1" y1="367.0" x2="283.1" y2="379.0" stroke="#dd8452" stroke-width="1.4"/>
<line x1="288.8" y1="370.0" x2="288.8" y2="382.0" stroke="#dd8452" stroke-width="1.4"/>
<line x1="294.7" y1="373.7" x2="294.7" y2="384.5" stroke="#dd8452" stroke-width="1.4"/>
<line x1="300.5" y1="374.5" x2="300.5" y2="388.0" stroke="#dd8452" stroke-width="1.4"/>
<line x1="305.9" y1="389.8" x2="305.9" y2="402.4" stroke="#dd8452" stroke-width="1.4"/>
<line x1="312.1" y1="397.0" x2="312.1" y2="413.2" stroke="#dd8452" stroke-width="1.4"/>
<line x1="318.1" y1="395.2" x2="318.1" y2="420.3" stroke="#dd8452" stroke-width="1.4"/>
<line x1="323.8" y1="398.8" x2="323.8" y2="424.8" stroke="#dd8452" stroke-width="1.4"/>
<line x1="329.7" y1="408.7" x2="329.7" y2="438.3" stroke="#dd8452" stroke-width="1.4"/>
<line x1="335.5" y1="400.0" x2="335.5" y2="407.0" stroke="#dd8452" stroke-width="1.4"/>
<line x1="341.2" y1="413.2" x2="341.2" y2="449.0" stroke="#dd8452" stroke-width="1.4"/>
<polyline points="236.5,367.7 248.5,368.5 253.8,372.5 260.0,372.5 265.8,372.5 271.8,372.8 277.5,372.8 283.1,372.8 288.8,376.4 294.7,378.2 300.5,380.5 305.9,396.1 307.7,399.7 312.1,405.1 318.1,408.1 323.8,411.7 329.7,423.0 335.5,403.8 341.2,432.0" fill="none" stroke="#dd8452" stroke-width="1.3"/>
<rect x="234.1" y="365.3" width="4.8" height="4.8" fill="#dd8452"/>
<rect x="246.1" y="366.1" width="4.8" height="4.8" fill="#dd8452"/>
<rect x="251.4" y="370.1" width="4.8" height="4.8" fill="#dd8452"/>
<rect x="257.6" y="370.1" width="4.8" height="4.8" fill="#dd8452"/>
<rect x="263.4" y="370.1" width="4.8" height="4.8" fill="#dd8452"/>
<rect x="269.4" y="370.4" width="4.8" height="4.8" fill="#dd8452"/>
<rect x="275.1" y="370.4" width="4.8" height="4.8" fill="#dd8452"/>
<rect x="280.7" y="370.4" width="4.8" height="4.8" fill="#dd8452"/>
<rect x="286.4" y="374.0" width="4.8" height="4.8" fill="#dd8452"/>
<rect x="292.3" y="375.8" width="4.8" height="4.8" fill="#dd8452"/>
<rect x="298.1" y="378.1" width="4.8" height="4.8" fill="#dd8452"/>
<rect x="303.5" y="393.7" width="4.8" height="4.8" fill="#dd8452"/>
<rect x="305.3" y="397.3" width="4.8" height="4.8" fill="#dd8452"/>
<rect x="309.7" y="402.7" width="4.8" height="4.8" fill="#dd8452"/>
<rect x="315.7" y="405.7" width="4.8" height="4.8" fill="#dd8452"/>
<rect x="321.4" y="409.3" width="4.8" height="4.8" fill="#dd8452"/>
<rect x="327.3" y="420.6" width="4.8" height="4.8" fill="#dd8452"/>
<rect x="333.1" y="401.4" width="4.8" height="4.8" fill="#dd8452"/>
<rect x="338.8" y="429.6" width="4.8" height="4.8" fill="#dd8452"/>
</g>
<g clip-path="url(#c33)">
<circle class="a4" cx="404.0" cy="367.3" r="2.9"/>
<circle class="a4" cx="404.6" cy="382.5" r="2.9"/>
<circle class="a4" cx="405.7" cy="379.4" r="2.9"/>
<circle class="a4" cx="405.3" cy="391.9" r="2.9"/>
<circle class="a4" cx="403.3" cy="379.5" r="2.9"/>
<circle class="a4" cx="404.3" cy="371.8" r="2.9"/>
<circle class="a4" cx="402.5" cy="387.5" r="2.9"/>
<circle class="a4" cx="405.9" cy="366.2" r="2.9"/>
<circle class="a4" cx="403.4" cy="385.4" r="2.9"/>
<circle class="a4" cx="404.9" cy="374.1" r="2.9"/>
<circle class="a4" cx="405.4" cy="377.2" r="2.9"/>
<circle class="a4" cx="405.7" cy="391.4" r="2.9"/>
<circle class="a4" cx="404.2" cy="388.0" r="2.9"/>
<circle class="a4" cx="404.5" cy="369.9" r="2.9"/>
<circle class="a4" cx="402.6" cy="367.6" r="2.9"/>
<circle class="a4" cx="406.4" cy="367.3" r="2.9"/>
<circle class="a4" cx="403.5" cy="386.5" r="2.9"/>
<circle class="a4" cx="403.5" cy="388.1" r="2.9"/>
<circle class="a4" cx="405.2" cy="371.8" r="2.9"/>
<circle class="a4" cx="403.7" cy="391.3" r="2.9"/>
<circle class="a4" cx="402.6" cy="367.5" r="2.9"/>
<circle class="a4" cx="403.8" cy="377.6" r="2.9"/>
<circle class="a4" cx="406.4" cy="387.3" r="2.9"/>
<circle class="a4" cx="405.5" cy="391.3" r="2.9"/>
<circle class="a4" cx="405.4" cy="373.9" r="2.9"/>
<circle class="a4" cx="404.6" cy="386.2" r="2.9"/>
<circle class="a4" cx="404.0" cy="380.7" r="2.9"/>
<circle class="a4" cx="403.7" cy="387.6" r="2.9"/>
<circle class="a4" cx="402.4" cy="393.0" r="2.9"/>
<circle class="a4" cx="403.9" cy="375.3" r="2.9"/>
<circle class="a4" cx="405.7" cy="386.4" r="2.9"/>
<circle class="a4" cx="404.5" cy="371.7" r="2.9"/>
<circle class="a4" cx="403.9" cy="385.6" r="2.9"/>
<circle class="a4" cx="404.9" cy="367.0" r="2.9"/>
<circle class="a4" cx="404.4" cy="380.1" r="2.9"/>
<circle class="a4" cx="405.5" cy="391.1" r="2.9"/>
<circle class="a4" cx="404.6" cy="367.7" r="2.9"/>
<circle class="a4" cx="404.4" cy="387.5" r="2.9"/>
<circle class="a4" cx="404.2" cy="370.5" r="2.9"/>
<circle class="a4" cx="405.5" cy="368.3" r="2.9"/>
<circle class="a4" cx="402.6" cy="391.3" r="2.9"/>
<circle class="a4" cx="406.6" cy="390.6" r="2.9"/>
<circle class="a4" cx="405.0" cy="391.8" r="2.9"/>
<circle class="a4" cx="404.6" cy="367.9" r="2.9"/>
<circle class="a4" cx="403.8" cy="377.2" r="2.9"/>
<circle class="a4" cx="402.4" cy="375.0" r="2.9"/>
<circle class="a4" cx="402.8" cy="384.9" r="2.9"/>
<circle class="a4" cx="402.7" cy="384.7" r="2.9"/>
<circle class="a4" cx="402.8" cy="370.7" r="2.9"/>
<circle class="a4" cx="403.8" cy="386.3" r="2.9"/>
<circle class="a4" cx="402.3" cy="367.4" r="2.9"/>
<circle class="a4" cx="405.6" cy="380.3" r="2.9"/>
<circle class="a4" cx="404.9" cy="375.4" r="2.9"/>
<circle class="a4" cx="405.9" cy="389.2" r="2.9"/>
<circle class="a4" cx="404.3" cy="372.1" r="2.9"/>
<circle class="a4" cx="402.5" cy="387.0" r="2.9"/>
<circle class="a4" cx="404.5" cy="390.8" r="2.9"/>
<circle class="a4" cx="402.3" cy="368.1" r="2.9"/>
<circle class="a4" cx="402.6" cy="366.1" r="2.9"/>
<circle class="a4" cx="402.5" cy="374.8" r="2.9"/>
<circle class="a4" cx="438.1" cy="367.7" r="2.9"/>
<circle class="a4" cx="430.3" cy="367.5" r="2.9"/>
<circle class="a4" cx="437.6" cy="370.1" r="2.9"/>
<circle class="a4" cx="423.3" cy="370.1" r="2.9"/>
<circle class="a4" cx="427.2" cy="371.4" r="2.9"/>
<circle class="a4" cx="437.7" cy="367.2" r="2.9"/>
<circle class="a4" cx="438.2" cy="369.4" r="2.9"/>
<circle class="a4" cx="431.4" cy="368.1" r="2.9"/>
<circle class="a4" cx="439.3" cy="369.2" r="2.9"/>
<circle class="a4" cx="433.1" cy="366.6" r="2.9"/>
<circle class="a4" cx="432.5" cy="368.9" r="2.9"/>
<circle class="a4" cx="423.5" cy="367.2" r="2.9"/>
<circle class="a4" cx="438.1" cy="372.0" r="2.9"/>
<circle class="a4" cx="429.3" cy="367.7" r="2.9"/>
<circle class="a4" cx="429.1" cy="370.6" r="2.9"/>
<circle class="a4" cx="422.2" cy="366.9" r="2.9"/>
<circle class="a4" cx="428.6" cy="371.7" r="2.9"/>
<circle class="a4" cx="432.2" cy="367.3" r="2.9"/>
<circle class="a4" cx="418.4" cy="368.6" r="2.9"/>
<circle class="a4" cx="432.5" cy="369.8" r="2.9"/>
<circle class="a4" cx="429.2" cy="367.2" r="2.9"/>
<circle class="a4" cx="440.6" cy="370.2" r="2.9"/>
<circle class="a4" cx="428.1" cy="368.9" r="2.9"/>
<circle class="a4" cx="430.9" cy="368.5" r="2.9"/>
<circle class="a4" cx="429.2" cy="366.7" r="2.9"/>
<circle class="a4" cx="436.0" cy="371.3" r="2.9"/>
<circle class="a4" cx="436.3" cy="369.1" r="2.9"/>
<circle class="a4" cx="425.3" cy="367.4" r="2.9"/>
<circle class="a4" cx="438.2" cy="370.6" r="2.9"/>
<circle class="a4" cx="432.8" cy="369.4" r="2.9"/>
<circle class="a4" cx="421.8" cy="366.5" r="2.9"/>
<circle class="a4" cx="422.3" cy="370.5" r="2.9"/>
<circle class="a4" cx="431.4" cy="371.5" r="2.9"/>
<circle class="a4" cx="428.3" cy="370.5" r="2.9"/>
<circle class="a4" cx="438.2" cy="369.4" r="2.9"/>
<circle class="a4" cx="422.1" cy="371.8" r="2.9"/>
<circle class="a4" cx="427.4" cy="367.3" r="2.9"/>
<circle class="a4" cx="424.8" cy="366.9" r="2.9"/>
<circle class="a4" cx="438.1" cy="368.4" r="2.9"/>
<circle class="a4" cx="427.5" cy="371.0" r="2.9"/>
<circle class="a4" cx="418.4" cy="368.4" r="2.9"/>
<circle class="a4" cx="432.6" cy="369.1" r="2.9"/>
<circle class="a4" cx="433.8" cy="366.2" r="2.9"/>
<circle class="a4" cx="429.4" cy="367.2" r="2.9"/>
<circle class="a4" cx="422.2" cy="370.5" r="2.9"/>
<circle class="a4" cx="430.0" cy="368.7" r="2.9"/>
<circle class="a4" cx="420.9" cy="368.0" r="2.9"/>
<circle class="a4" cx="419.6" cy="368.5" r="2.9"/>
<circle class="a4" cx="432.2" cy="367.7" r="2.9"/>
<circle class="a4" cx="432.2" cy="367.1" r="2.9"/>
<circle class="a4" cx="433.0" cy="386.4" r="2.9"/>
<circle class="a4" cx="430.0" cy="388.3" r="2.9"/>
<circle class="a4" cx="424.8" cy="388.9" r="2.9"/>
<circle class="a4" cx="423.9" cy="389.5" r="2.9"/>
<circle class="a4" cx="425.0" cy="384.3" r="2.9"/>
<circle class="a4" cx="434.1" cy="391.9" r="2.9"/>
<circle class="a4" cx="421.6" cy="390.8" r="2.9"/>
<circle class="a4" cx="436.5" cy="381.7" r="2.9"/>
<circle class="a4" cx="421.4" cy="390.4" r="2.9"/>
<circle class="a4" cx="429.3" cy="387.2" r="2.9"/>
<circle class="a4" cx="426.4" cy="389.9" r="2.9"/>
<circle class="a4" cx="428.1" cy="384.9" r="2.9"/>
<circle class="a4" cx="425.9" cy="381.6" r="2.9"/>
<circle class="a4" cx="428.2" cy="389.6" r="2.9"/>
<circle class="a4" cx="428.1" cy="388.9" r="2.9"/>
<circle class="a4" cx="419.0" cy="384.9" r="2.9"/>
<circle class="a4" cx="430.1" cy="385.9" r="2.9"/>
<circle class="a4" cx="436.2" cy="391.8" r="2.9"/>
<circle class="a4" cx="440.6" cy="381.0" r="2.9"/>
<circle class="a4" cx="423.1" cy="382.2" r="2.9"/>
<circle class="a4" cx="430.8" cy="387.9" r="2.9"/>
<circle class="a4" cx="436.0" cy="391.3" r="2.9"/>
<circle class="a4" cx="437.0" cy="387.3" r="2.9"/>
<circle class="a4" cx="434.2" cy="388.9" r="2.9"/>
<circle class="a4" cx="440.9" cy="382.9" r="2.9"/>
<circle class="a4" cx="434.6" cy="388.4" r="2.9"/>
<circle class="a4" cx="435.8" cy="383.1" r="2.9"/>
<circle class="a4" cx="421.7" cy="383.7" r="2.9"/>
<circle class="a4" cx="436.5" cy="387.7" r="2.9"/>
<circle class="a4" cx="433.9" cy="381.4" r="2.9"/>
<circle class="a4" cx="429.1" cy="383.8" r="2.9"/>
<circle class="a4" cx="431.3" cy="383.9" r="2.9"/>
<circle class="a4" cx="423.0" cy="381.3" r="2.9"/>
<circle class="a4" cx="430.6" cy="387.0" r="2.9"/>
<circle class="a4" cx="434.1" cy="388.4" r="2.9"/>
<circle class="a4" cx="429.4" cy="391.7" r="2.9"/>
<circle class="a4" cx="421.5" cy="384.7" r="2.9"/>
<circle class="a4" cx="425.4" cy="381.1" r="2.9"/>
<circle class="a4" cx="430.3" cy="386.4" r="2.9"/>
<circle class="a4" cx="438.2" cy="382.9" r="2.9"/>
<circle class="a4" cx="421.1" cy="389.1" r="2.9"/>
<circle class="a4" cx="435.1" cy="387.8" r="2.9"/>
<circle class="a4" cx="426.8" cy="391.0" r="2.9"/>
<circle class="a4" cx="435.2" cy="381.4" r="2.9"/>
<circle class="a4" cx="439.8" cy="392.0" r="2.9"/>
<circle class="a4" cx="437.1" cy="391.0" r="2.9"/>
<circle class="a4" cx="433.1" cy="382.8" r="2.9"/>
<circle class="a4" cx="425.5" cy="381.3" r="2.9"/>
<circle class="a4" cx="440.7" cy="381.9" r="2.9"/>
<circle class="a4" cx="427.1" cy="387.2" r="2.9"/>
<circle class="a4" cx="437.1" cy="389.4" r="2.9"/>
<circle class="a4" cx="424.0" cy="385.3" r="2.9"/>
<circle class="a4" cx="433.3" cy="388.8" r="2.9"/>
<circle class="a4" cx="422.6" cy="389.1" r="2.9"/>
<circle class="a4" cx="418.7" cy="386.6" r="2.9"/>
<circle class="a0" cx="438.0" cy="372.8" r="2.9"/>
<circle class="a0" cx="432.8" cy="372.5" r="2.9"/>
<circle class="a0" cx="424.5" cy="373.2" r="2.9"/>
<circle class="a0" cx="419.7" cy="373.5" r="2.9"/>
<circle class="a0" cx="428.1" cy="376.9" r="2.9"/>
<circle class="a0" cx="422.2" cy="376.7" r="2.9"/>
<circle class="a0" cx="418.4" cy="374.3" r="2.9"/>
<circle class="a0" cx="436.3" cy="380.8" r="2.9"/>
<circle class="a0" cx="430.9" cy="380.4" r="2.9"/>
<circle class="a0" cx="436.6" cy="372.8" r="2.9"/>
<circle class="a0" cx="420.8" cy="380.6" r="2.9"/>
<circle class="a0" cx="419.0" cy="377.7" r="2.9"/>
<circle class="a0" cx="425.7" cy="375.0" r="2.9"/>
<circle class="a0" cx="421.2" cy="378.8" r="2.9"/>
<path d="M440.0 366.0 L441.0 364.4 L482.0 364.4 L483.7 366.0 L483.7 450.0 L482.0 452.4 L471.5 452.4 L470.0 450.0 L470.0 372.5 L440.0 372.5 Z" fill="#4670ae" stroke="#4670ae" stroke-width="2" stroke-linejoin="round"/>
<circle class="a1" cx="448.7" cy="380.5" r="2.9"/>
<circle class="a1" cx="442.1" cy="383.3" r="2.9"/>
<circle class="a1" cx="453.4" cy="374.3" r="2.9"/>
<circle class="a1" cx="457.0" cy="374.3" r="2.9"/>
<circle class="a1" cx="461.4" cy="385.0" r="2.9"/>
<circle class="a1" cx="444.0" cy="385.7" r="2.9"/>
<circle class="a1" cx="458.5" cy="372.1" r="2.9"/>
<circle class="a1" cx="446.3" cy="372.6" r="2.9"/>
<circle class="a1" cx="445.8" cy="389.1" r="2.9"/>
<circle class="a1" cx="463.3" cy="389.3" r="2.9"/>
<circle class="a1" cx="466.1" cy="373.3" r="2.9"/>
<circle class="a1" cx="457.6" cy="372.9" r="2.9"/>
<circle class="a1" cx="462.6" cy="372.4" r="2.9"/>
<circle class="a1" cx="462.5" cy="375.1" r="2.9"/>
<circle class="a1" cx="452.9" cy="373.4" r="2.9"/>
<circle class="a1" cx="464.7" cy="391.7" r="2.9"/>
<circle class="a1" cx="446.6" cy="392.9" r="2.9"/>
<circle class="a1" cx="460.9" cy="387.4" r="2.9"/>
<circle class="a1" cx="456.6" cy="382.1" r="2.9"/>
<circle class="a1" cx="451.9" cy="378.2" r="2.9"/>
<circle class="a1" cx="446.3" cy="379.4" r="2.9"/>
<circle class="a1" cx="442.3" cy="384.3" r="2.9"/>
<circle class="a1" cx="463.1" cy="392.5" r="2.9"/>
<circle class="a1" cx="460.5" cy="389.2" r="2.9"/>
<circle class="a1" cx="442.3" cy="388.3" r="2.9"/>
<circle class="a1" cx="467.0" cy="382.5" r="2.9"/>
<circle class="a1" cx="445.0" cy="388.0" r="2.9"/>
<circle class="a1" cx="442.7" cy="392.2" r="2.9"/>
<circle class="a1" cx="445.6" cy="379.5" r="2.9"/>
<circle class="a1" cx="464.1" cy="376.0" r="2.9"/>
<circle class="a1" cx="464.0" cy="384.4" r="2.9"/>
<circle class="a1" cx="441.0" cy="388.5" r="2.9"/>
<circle class="a1" cx="466.2" cy="387.3" r="2.9"/>
<circle class="a1" cx="454.0" cy="376.2" r="2.9"/>
<circle class="a1" cx="458.3" cy="391.7" r="2.9"/>
<circle class="a1" cx="454.1" cy="382.3" r="2.9"/>
<circle class="a1" cx="455.0" cy="387.2" r="2.9"/>
<circle class="a1" cx="465.3" cy="381.6" r="2.9"/>
<circle class="a1" cx="460.3" cy="379.4" r="2.9"/>
<circle class="a1" cx="445.2" cy="387.4" r="2.9"/>
<circle class="a1" cx="441.5" cy="373.6" r="2.9"/>
<circle class="a1" cx="459.0" cy="389.6" r="2.9"/>
<circle class="a1" cx="446.2" cy="387.4" r="2.9"/>
<circle class="a1" cx="457.8" cy="376.6" r="2.9"/>
<circle class="a1" cx="459.6" cy="391.2" r="2.9"/>
<circle class="a1" cx="448.4" cy="392.2" r="2.9"/>
<circle class="a1" cx="443.8" cy="373.2" r="2.9"/>
<circle class="a1" cx="463.0" cy="386.4" r="2.9"/>
<circle class="a1" cx="469.3" cy="375.5" r="2.9"/>
<circle class="a1" cx="468.9" cy="378.2" r="2.9"/>
<circle class="a1" cx="455.1" cy="381.8" r="2.9"/>
<circle class="a1" cx="443.8" cy="383.0" r="2.9"/>
<circle class="a1" cx="442.6" cy="378.7" r="2.9"/>
<circle class="a1" cx="463.6" cy="388.4" r="2.9"/>
<circle class="a1" cx="458.1" cy="383.9" r="2.9"/>
<circle class="a1" cx="460.1" cy="382.3" r="2.9"/>
<circle class="a1" cx="456.4" cy="377.9" r="2.9"/>
<circle class="a1" cx="451.4" cy="388.7" r="2.9"/>
<circle class="a1" cx="460.3" cy="390.7" r="2.9"/>
<circle class="a1" cx="441.6" cy="384.8" r="2.9"/>
<circle class="a1" cx="450.9" cy="388.4" r="2.9"/>
<circle class="a1" cx="453.9" cy="378.6" r="2.9"/>
<circle class="a1" cx="450.5" cy="376.2" r="2.9"/>
<circle class="a1" cx="446.6" cy="382.2" r="2.9"/>
<circle class="a1" cx="464.8" cy="386.3" r="2.9"/>
<circle class="a1" cx="449.5" cy="387.1" r="2.9"/>
<circle class="a1" cx="468.7" cy="381.6" r="2.9"/>
<circle class="a1" cx="466.6" cy="379.0" r="2.9"/>
<circle class="a1" cx="441.0" cy="377.7" r="2.9"/>
<circle class="a1" cx="463.1" cy="381.5" r="2.9"/>
<circle class="a1" cx="450.3" cy="385.8" r="2.9"/>
<circle class="a1" cx="453.4" cy="376.2" r="2.9"/>
<circle class="a1" cx="449.8" cy="392.4" r="2.9"/>
<circle class="a1" cx="469.7" cy="386.6" r="2.9"/>
<circle class="a1" cx="442.8" cy="373.9" r="2.9"/>
<circle class="a1" cx="455.9" cy="379.3" r="2.9"/>
<circle class="a1" cx="442.2" cy="382.8" r="2.9"/>
<circle class="a1" cx="445.0" cy="375.5" r="2.9"/>
<circle class="a1" cx="451.9" cy="373.3" r="2.9"/>
<circle class="a1" cx="446.4" cy="391.6" r="2.9"/>
<circle class="a1" cx="449.1" cy="390.4" r="2.9"/>
<circle class="a1" cx="459.9" cy="392.2" r="2.9"/>
<circle class="a1" cx="442.9" cy="379.1" r="2.9"/>
<circle class="a1" cx="460.2" cy="383.8" r="2.9"/>
<circle class="a1" cx="463.9" cy="386.5" r="2.9"/>
<circle class="a1" cx="445.8" cy="373.6" r="2.9"/>
<circle class="a1" cx="447.7" cy="387.0" r="2.9"/>
<circle class="a1" cx="455.1" cy="384.1" r="2.9"/>
<circle class="a1" cx="452.9" cy="383.2" r="2.9"/>
<circle class="a1" cx="458.7" cy="384.7" r="2.9"/>
<circle class="a0" cx="450.4" cy="391.2" r="2.9"/>
<circle class="a0" cx="460.4" cy="393.5" r="2.9"/>
<circle class="a0" cx="460.0" cy="393.0" r="2.9"/>
<circle class="a0" cx="449.2" cy="393.2" r="2.9"/>
<circle class="a0" cx="462.8" cy="394.5" r="2.9"/>
<circle class="a0" cx="441.5" cy="397.0" r="2.9"/>
<circle class="a0" cx="462.6" cy="391.2" r="2.9"/>
<circle class="a0" cx="451.3" cy="392.1" r="2.9"/>
<circle class="a0" cx="461.4" cy="394.1" r="2.9"/>
<circle class="a0" cx="448.4" cy="394.2" r="2.9"/>
<circle class="a0" cx="458.4" cy="392.1" r="2.9"/>
<circle class="a0" cx="459.5" cy="393.0" r="2.9"/>
<circle class="a0" cx="445.9" cy="391.5" r="2.9"/>
<circle class="a0" cx="454.9" cy="393.7" r="2.9"/>
<circle class="a0" cx="455.0" cy="393.2" r="2.9"/>
<circle class="a0" cx="462.3" cy="397.0" r="2.9"/>
<circle class="a0" cx="442.4" cy="392.8" r="2.9"/>
<circle class="a0" cx="462.7" cy="391.1" r="2.9"/>
<circle class="a0" cx="457.9" cy="393.4" r="2.9"/>
<circle class="a0" cx="442.0" cy="392.6" r="2.9"/>
<circle class="a0" cx="459.3" cy="392.3" r="2.9"/>
<circle class="a0" cx="449.1" cy="392.1" r="2.9"/>
<circle class="a0" cx="450.9" cy="391.5" r="2.9"/>
<circle class="a0" cx="459.8" cy="394.8" r="2.9"/>
<circle class="a0" cx="468.1" cy="397.2" r="2.9"/>
<circle class="a0" cx="464.9" cy="413.5" r="2.9"/>
<circle class="a0" cx="468.2" cy="408.3" r="2.9"/>
<circle class="a0" cx="466.5" cy="418.8" r="2.9"/>
<circle class="a0" cx="458.9" cy="392.4" r="2.9"/>
<circle class="a0" cx="460.3" cy="400.6" r="2.9"/>
<circle class="a0" cx="461.1" cy="398.0" r="2.9"/>
<circle class="a0" cx="463.8" cy="396.0" r="2.9"/>
<circle class="a0" cx="462.9" cy="397.3" r="2.9"/>
<circle class="a0" cx="466.4" cy="408.6" r="2.9"/>
<circle class="a0" cx="466.7" cy="412.9" r="2.9"/>
<circle class="a0" cx="461.9" cy="399.1" r="2.9"/>
<circle class="a0" cx="463.7" cy="392.7" r="2.9"/>
<circle class="a0" cx="465.6" cy="413.9" r="2.9"/>
<circle class="a0" cx="462.4" cy="395.3" r="2.9"/>
<circle class="a0" cx="466.1" cy="417.6" r="2.9"/>
<circle class="a0" cx="467.0" cy="395.3" r="2.9"/>
<circle class="a0" cx="466.2" cy="403.4" r="2.9"/>
<circle class="a0" cx="464.3" cy="398.5" r="2.9"/>
<circle class="a0" cx="459.3" cy="393.3" r="2.9"/>
<circle class="a0" cx="466.0" cy="393.9" r="2.9"/>
<circle class="a0" cx="465.5" cy="394.5" r="2.9"/>
<circle class="a0" cx="462.1" cy="398.0" r="2.9"/>
<circle class="a0" cx="467.3" cy="399.8" r="2.9"/>
<circle class="a0" cx="467.9" cy="412.1" r="2.9"/>
<circle class="a0" cx="462.2" cy="396.8" r="2.9"/>
<circle class="a0" cx="466.9" cy="412.6" r="2.9"/>
<circle class="a0" cx="460.6" cy="392.1" r="2.9"/>
<circle class="a0" cx="464.8" cy="411.2" r="2.9"/>
<circle class="a0" cx="467.8" cy="425.4" r="2.9"/>
<circle class="a0" cx="468.0" cy="390.9" r="2.9"/>
<circle class="a0" cx="467.4" cy="413.7" r="2.9"/>
<circle class="a0" cx="466.5" cy="403.4" r="2.9"/>
<circle class="a0" cx="466.4" cy="391.6" r="2.9"/>
<circle class="a0" cx="467.2" cy="407.2" r="2.9"/>
<circle class="a0" cx="461.9" cy="400.1" r="2.9"/>
<circle class="a0" cx="458.9" cy="396.8" r="2.9"/>
<circle class="a0" cx="459.7" cy="400.6" r="2.9"/>
<circle class="a0" cx="464.7" cy="414.6" r="2.9"/>
<circle class="a0" cx="462.1" cy="403.7" r="2.9"/>
<circle class="a0" cx="487.9" cy="383.2" r="2.9"/>
<circle class="a0" cx="486.0" cy="380.3" r="2.9"/>
<circle class="a0" cx="484.0" cy="374.6" r="2.9"/>
<circle class="a0" cx="487.1" cy="372.6" r="2.9"/>
<circle class="a0" cx="486.4" cy="371.8" r="2.9"/>
<circle class="a0" cx="484.8" cy="380.3" r="2.9"/>
<circle class="a0" cx="482.8" cy="374.4" r="2.9"/>
<circle class="a0" cx="484.9" cy="373.7" r="2.9"/>
<circle class="a0" cx="483.4" cy="380.2" r="2.9"/>
<circle class="a0" cx="483.8" cy="366.5" r="2.9"/>
<circle class="a0" cx="483.5" cy="389.5" r="2.9"/>
<circle class="a0" cx="485.5" cy="386.4" r="2.9"/>
<circle class="a0" cx="484.1" cy="371.7" r="2.9"/>
<circle class="a0" cx="486.0" cy="369.7" r="2.9"/>
<circle class="a0" cx="483.9" cy="383.3" r="2.9"/>
<circle class="a0" cx="485.5" cy="368.7" r="2.9"/>
<circle class="a0" cx="486.2" cy="372.7" r="2.9"/>
<circle class="a0" cx="486.0" cy="366.8" r="2.9"/>
<circle class="a0" cx="484.1" cy="369.2" r="2.9"/>
<circle class="a0" cx="484.2" cy="373.3" r="2.9"/>
<circle class="a0" cx="483.7" cy="373.2" r="2.9"/>
<circle class="a0" cx="487.1" cy="369.4" r="2.9"/>
<circle class="a0" cx="482.8" cy="366.8" r="2.9"/>
<circle class="a0" cx="483.1" cy="372.2" r="2.9"/>
<circle class="a0" cx="487.0" cy="396.2" r="2.9"/>
<circle class="a0" cx="484.1" cy="399.4" r="2.9"/>
<circle class="a0" cx="482.7" cy="393.8" r="2.9"/>
<circle class="a0" cx="486.0" cy="406.4" r="2.9"/>
<circle class="a0" cx="485.6" cy="390.8" r="2.9"/>
<circle class="a0" cx="483.7" cy="403.1" r="2.9"/>
<circle class="a0" cx="483.9" cy="394.6" r="2.9"/>
<circle class="a0" cx="485.0" cy="401.8" r="2.9"/>
<circle class="a0" cx="485.4" cy="407.9" r="2.9"/>
<circle class="a0" cx="483.9" cy="409.2" r="2.9"/>
<circle class="a0" cx="486.8" cy="405.5" r="2.9"/>
<circle class="a0" cx="483.4" cy="395.0" r="2.9"/>
<circle class="a0" cx="490.5" cy="408.0" r="2.9"/>
<circle class="a0" cx="486.3" cy="408.3" r="2.9"/>
<circle class="a0" cx="483.6" cy="392.5" r="2.9"/>
<circle class="a0" cx="490.7" cy="408.0" r="2.9"/>
<circle class="a0" cx="483.0" cy="408.3" r="2.9"/>
<circle class="a0" cx="483.4" cy="394.5" r="2.9"/>
<circle class="a0" cx="484.6" cy="400.3" r="2.9"/>
<circle class="a0" cx="485.3" cy="396.5" r="2.9"/>
<circle class="a0" cx="483.1" cy="417.7" r="2.9"/>
<circle class="a0" cx="489.9" cy="413.8" r="2.9"/>
<circle class="a0" cx="483.9" cy="420.6" r="2.9"/>
<circle class="a0" cx="490.6" cy="415.6" r="2.9"/>
<circle class="a0" cx="483.4" cy="417.7" r="2.9"/>
<circle class="a0" cx="486.5" cy="414.0" r="2.9"/>
<circle class="a0" cx="485.4" cy="414.8" r="2.9"/>
<circle class="a0" cx="487.6" cy="422.8" r="2.9"/>
<circle class="a0" cx="487.7" cy="423.3" r="2.9"/>
<circle class="a0" cx="491.2" cy="425.2" r="2.9"/>
<circle class="a0" cx="484.4" cy="412.9" r="2.9"/>
<circle class="a0" cx="483.1" cy="418.2" r="2.9"/>
<circle class="a0" cx="490.7" cy="422.3" r="2.9"/>
<circle class="a0" cx="487.4" cy="410.8" r="2.9"/>
<circle class="a0" cx="487.0" cy="424.6" r="2.9"/>
<circle class="a0" cx="485.7" cy="429.4" r="2.9"/>
<circle class="a0" cx="484.3" cy="410.4" r="2.9"/>
<circle class="a0" cx="485.6" cy="418.2" r="2.9"/>
<circle class="a0" cx="488.9" cy="428.6" r="2.9"/>
<circle class="a0" cx="483.2" cy="423.3" r="2.9"/>
<circle class="a0" cx="484.2" cy="449.6" r="2.9"/>
<circle class="a0" cx="487.4" cy="442.6" r="2.9"/>
<circle class="a0" cx="485.3" cy="449.2" r="2.9"/>
<circle class="a0" cx="483.7" cy="435.3" r="2.9"/>
<circle class="a0" cx="489.0" cy="433.4" r="2.9"/>
<circle class="a0" cx="482.9" cy="432.3" r="2.9"/>
<circle class="a0" cx="490.6" cy="435.1" r="2.9"/>
<circle class="a0" cx="484.9" cy="437.5" r="2.9"/>
<circle class="a0" cx="485.3" cy="436.0" r="2.9"/>
<circle class="a0" cx="485.3" cy="445.3" r="2.9"/>
<circle class="a0" cx="485.5" cy="433.8" r="2.9"/>
<circle class="a0" cx="486.1" cy="441.8" r="2.9"/>
<circle class="a0" cx="485.4" cy="441.8" r="2.9"/>
<circle class="a0" cx="483.3" cy="444.9" r="2.9"/>
<circle class="a0" cx="485.4" cy="446.8" r="2.9"/>
<circle class="a0" cx="485.2" cy="435.9" r="2.9"/>
<circle class="a0" cx="487.1" cy="447.4" r="2.9"/>
<circle class="a0" cx="491.2" cy="437.9" r="2.9"/>
<circle class="a0" cx="482.9" cy="446.5" r="2.9"/>
<circle class="a0" cx="489.9" cy="437.7" r="2.9"/>
<circle class="a0" cx="453.6" cy="363.9" r="2.9"/>
<circle class="a0" cx="456.4" cy="364.0" r="2.9"/>
<circle class="a0" cx="448.6" cy="363.4" r="2.9"/>
<circle class="a0" cx="457.9" cy="363.1" r="2.9"/>
<circle class="a0" cx="445.4" cy="363.1" r="2.9"/>
<circle class="a0" cx="451.8" cy="363.9" r="2.9"/>
<circle class="a0" cx="446.5" cy="363.6" r="2.9"/>
<circle class="a0" cx="477.2" cy="362.8" r="2.9"/>
<circle class="a0" cx="476.3" cy="362.8" r="2.9"/>
<circle class="a0" cx="473.2" cy="362.2" r="2.9"/>
<circle class="a0" cx="477.1" cy="363.3" r="2.9"/>
<circle class="a0" cx="470.6" cy="363.1" r="2.9"/>
<circle class="a0" cx="479.3" cy="362.7" r="2.9"/>
<circle class="a0" cx="462.2" cy="362.2" r="2.9"/>
<circle class="a0" cx="471.2" cy="362.5" r="2.9"/>
<circle class="a0" cx="476.4" cy="362.0" r="2.9"/>
<circle class="a0" cx="454.3" cy="443.6" r="2.9"/>
<circle class="a0" cx="465.2" cy="434.8" r="2.9"/>
<circle class="a0" cx="457.4" cy="438.7" r="2.9"/>
<circle class="a0" cx="458.2" cy="441.1" r="2.9"/>
<circle class="a0" cx="453.5" cy="448.6" r="2.9"/>
<circle class="a0" cx="460.1" cy="448.4" r="2.9"/>
<circle class="a0" cx="463.5" cy="443.5" r="2.9"/>
<circle class="a0" cx="457.0" cy="443.1" r="2.9"/>
<circle class="a0" cx="454.9" cy="437.4" r="2.9"/>
<circle class="a0" cx="452.2" cy="441.0" r="2.9"/>
<circle class="a0" cx="460.5" cy="430.4" r="2.9"/>
<circle class="a0" cx="463.3" cy="433.5" r="2.9"/>
<circle class="a0" cx="460.8" cy="448.3" r="2.9"/>
<circle class="a0" cx="459.1" cy="440.8" r="2.9"/>
<circle class="a0" cx="452.4" cy="438.1" r="2.9"/>
<circle class="a0" cx="463.9" cy="442.7" r="2.9"/>
<circle class="a0" cx="455.2" cy="431.5" r="2.9"/>
<circle class="a0" cx="466.7" cy="428.1" r="2.9"/>
<circle class="a0" cx="470.0" cy="436.0" r="2.9"/>
<circle class="a0" cx="463.3" cy="433.8" r="2.9"/>
<circle class="a0" cx="462.0" cy="444.3" r="2.9"/>
<circle class="a0" cx="467.5" cy="448.9" r="2.9"/>
<circle class="a0" cx="465.3" cy="438.9" r="2.9"/>
<circle class="a0" cx="466.2" cy="448.7" r="2.9"/>
<circle class="a0" cx="453.4" cy="445.7" r="2.9"/>
<circle class="a0" cx="456.6" cy="443.7" r="2.9"/>
<circle class="a0" cx="465.9" cy="451.7" r="2.9"/>
<circle class="a0" cx="465.4" cy="448.4" r="2.9"/>
<circle class="a0" cx="459.9" cy="448.2" r="2.9"/>
<circle class="a0" cx="464.8" cy="438.6" r="2.9"/>
<circle class="a0" cx="456.7" cy="452.0" r="2.9"/>
<circle class="a0" cx="452.4" cy="440.1" r="2.9"/>
<circle class="a0" cx="457.1" cy="445.1" r="2.9"/>
<circle class="a0" cx="462.5" cy="438.4" r="2.9"/>
<circle class="a0" cx="453.1" cy="439.6" r="2.9"/>
<circle class="a0" cx="467.3" cy="428.9" r="2.9"/>
<circle class="a0" cx="465.3" cy="442.5" r="2.9"/>
<circle class="a0" cx="469.2" cy="443.0" r="2.9"/>
<circle class="a0" cx="465.4" cy="451.4" r="2.9"/>
<circle class="a0" cx="467.1" cy="434.1" r="2.9"/>
<circle class="a0" cx="456.3" cy="442.3" r="2.9"/>
<circle class="a0" cx="456.7" cy="448.9" r="2.9"/>
<circle class="a0" cx="460.1" cy="449.0" r="2.9"/>
<circle class="a0" cx="468.5" cy="446.8" r="2.9"/>
<circle class="a0" cx="458.5" cy="441.3" r="2.9"/>
<circle class="a0" cx="488.9" cy="433.9" r="2.9"/>
<circle class="a0" cx="484.0" cy="449.4" r="2.9"/>
<circle class="a0" cx="488.1" cy="426.4" r="2.9"/>
<circle class="a0" cx="487.3" cy="445.3" r="2.9"/>
<circle class="a0" cx="488.9" cy="450.6" r="2.9"/>
<circle class="a0" cx="485.8" cy="439.2" r="2.9"/>
<circle class="a0" cx="485.5" cy="439.9" r="2.9"/>
<circle class="a0" cx="488.0" cy="448.1" r="2.9"/>
<circle class="a0" cx="487.9" cy="441.1" r="2.9"/>
<circle class="a0" cx="487.4" cy="448.4" r="2.9"/>
<circle class="a1" cx="424.0" cy="402.0" r="2.9"/>
<circle class="a1" cx="440.6" cy="412.5" r="2.9"/>
<circle class="a1" cx="449.5" cy="407.5" r="2.9"/>
<circle class="a1" cx="423.7" cy="429.0" r="2.9"/>
<circle class="a1" cx="453.0" cy="434.0" r="2.9"/>
<circle class="a1" cx="452.0" cy="448.0" r="2.9"/>
<circle class="a1" cx="436.0" cy="395.0" r="2.9"/>
<circle class="a1" cx="404.0" cy="425.0" r="2.9"/>
<circle class="a1" cx="406.5" cy="429.0" r="2.9"/>
<circle class="a1" cx="404.5" cy="433.0" r="2.9"/>
<circle class="a1" cx="456.0" cy="360.0" r="2.9"/>
<circle class="a1" cx="487.0" cy="360.0" r="2.9"/>
<circle class="a1" cx="490.0" cy="372.0" r="2.9"/>
<circle class="a1" cx="495.0" cy="365.0" r="2.9"/>
<circle class="a1" cx="460.0" cy="420.0" r="2.9"/>
<circle class="a1" cx="455.0" cy="425.0" r="2.9"/>
<circle class="a1" cx="492.0" cy="440.0" r="2.9"/>
<circle class="a1" cx="497.0" cy="448.0" r="2.9"/>
<circle class="a1" cx="510.0" cy="445.0" r="2.9"/>
<circle class="a1" cx="505.0" cy="430.0" r="2.9"/>
<circle class="a9" cx="404.5" cy="440.0" r="2.9"/>
<circle class="a10" cx="513.0" cy="430.0" r="2.9"/>
<circle class="a10" cx="514.0" cy="434.0" r="2.9"/>
<circle class="a8" cx="513.0" cy="365.0" r="2.9"/>
<circle class="a8" cx="513.0" cy="368.0" r="2.9"/>
<circle class="a8" cx="513.0" cy="371.0" r="2.9"/>
<circle class="a8" cx="513.0" cy="374.0" r="2.9"/>
<circle class="a8" cx="513.0" cy="377.0" r="2.9"/>
<circle class="a8" cx="513.0" cy="380.0" r="2.9"/>
<circle class="a8" cx="513.0" cy="383.0" r="2.9"/>
<circle class="a8" cx="513.0" cy="386.0" r="2.9"/>
<circle class="a8" cx="513.0" cy="389.0" r="2.9"/>
<circle class="a8" cx="515.5" cy="366.0" r="2.9"/>
<circle class="a8" cx="515.5" cy="372.0" r="2.9"/>
<circle class="a8" cx="515.5" cy="378.0" r="2.9"/>
<circle class="a8" cx="515.5" cy="384.0" r="2.9"/>
<line x1="406.9" y1="365.2" x2="406.9" y2="411.3" stroke="#dd8452" stroke-width="1.4"/>
<line x1="418.8" y1="368.0" x2="418.8" y2="390.0" stroke="#dd8452" stroke-width="1.4"/>
<line x1="424.6" y1="360.4" x2="424.6" y2="401.7" stroke="#dd8452" stroke-width="1.4"/>
<line x1="430.6" y1="377.0" x2="430.6" y2="391.0" stroke="#dd8452" stroke-width="1.4"/>
<line x1="436.2" y1="370.0" x2="436.2" y2="388.0" stroke="#dd8452" stroke-width="1.4"/>
<line x1="441.9" y1="366.5" x2="441.9" y2="389.0" stroke="#dd8452" stroke-width="1.4"/>
<line x1="447.6" y1="368.0" x2="447.6" y2="388.0" stroke="#dd8452" stroke-width="1.4"/>
<line x1="453.5" y1="366.0" x2="453.5" y2="390.0" stroke="#dd8452" stroke-width="1.4"/>
<line x1="459.2" y1="366.5" x2="459.2" y2="396.0" stroke="#dd8452" stroke-width="1.4"/>
<line x1="465.1" y1="367.0" x2="465.1" y2="397.0" stroke="#dd8452" stroke-width="1.4"/>
<line x1="470.9" y1="366.5" x2="470.9" y2="394.0" stroke="#dd8452" stroke-width="1.4"/>
<line x1="476.2" y1="363.8" x2="476.2" y2="408.7" stroke="#dd8452" stroke-width="1.4"/>
<line x1="478.6" y1="368.3" x2="478.6" y2="420.3" stroke="#dd8452" stroke-width="1.4"/>
<line x1="482.5" y1="371.0" x2="482.5" y2="422.1" stroke="#dd8452" stroke-width="1.4"/>
<line x1="488.3" y1="372.8" x2="488.3" y2="417.6" stroke="#dd8452" stroke-width="1.4"/>
<line x1="494.2" y1="378.2" x2="494.2" y2="429.3" stroke="#dd8452" stroke-width="1.4"/>
<line x1="499.9" y1="367.4" x2="499.9" y2="412.3" stroke="#dd8452" stroke-width="1.4"/>
<line x1="505.8" y1="428.4" x2="505.8" y2="442.7" stroke="#dd8452" stroke-width="1.4"/>
<line x1="511.8" y1="367.4" x2="511.8" y2="414.0" stroke="#dd8452" stroke-width="1.4"/>
<polyline points="406.9,388.8 418.8,378.1 424.6,381.2 430.6,384.4 436.2,378.7 441.9,377.8 447.6,377.3 453.5,377.3 459.2,381.8 465.1,382.7 470.9,380.5 476.2,386.6 478.6,393.8 482.5,396.6 488.3,395.6 494.2,404.2 499.9,390.2 505.8,436.5 511.8,390.7" fill="none" stroke="#dd8452" stroke-width="1.3"/>
<rect x="404.5" y="386.4" width="4.8" height="4.8" fill="#dd8452"/>
<rect x="416.4" y="375.7" width="4.8" height="4.8" fill="#dd8452"/>
<rect x="422.2" y="378.8" width="4.8" height="4.8" fill="#dd8452"/>
<rect x="428.2" y="382.0" width="4.8" height="4.8" fill="#dd8452"/>
<rect x="433.8" y="376.3" width="4.8" height="4.8" fill="#dd8452"/>
<rect x="439.5" y="375.4" width="4.8" height="4.8" fill="#dd8452"/>
<rect x="445.2" y="374.9" width="4.8" height="4.8" fill="#dd8452"/>
<rect x="451.1" y="374.9" width="4.8" height="4.8" fill="#dd8452"/>
<rect x="456.8" y="379.4" width="4.8" height="4.8" fill="#dd8452"/>
<rect x="462.7" y="380.3" width="4.8" height="4.8" fill="#dd8452"/>
<rect x="468.5" y="378.1" width="4.8" height="4.8" fill="#dd8452"/>
<rect x="473.8" y="384.2" width="4.8" height="4.8" fill="#dd8452"/>
<rect x="476.2" y="391.4" width="4.8" height="4.8" fill="#dd8452"/>
<rect x="480.1" y="394.2" width="4.8" height="4.8" fill="#dd8452"/>
<rect x="485.9" y="393.2" width="4.8" height="4.8" fill="#dd8452"/>
<rect x="491.8" y="401.8" width="4.8" height="4.8" fill="#dd8452"/>
<rect x="497.5" y="387.8" width="4.8" height="4.8" fill="#dd8452"/>
<rect x="503.4" y="434.1" width="4.8" height="4.8" fill="#dd8452"/>
<rect x="509.4" y="388.3" width="4.8" height="4.8" fill="#dd8452"/>
</g>
<g clip-path="url(#c41)">
<line x1="117.10" y1="502.60" x2="117.10" y2="604.60" stroke="#7a7a7a" stroke-width="1.1" stroke-dasharray="4.55 2.0" stroke-dashoffset="1.2"/>
<path d="M60.3 527.0 L62.0 525.5 L66.0 525.5 L80.0 520.8 L100.0 521.0 L115.0 519.6 L125.0 520.5 L140.0 520.8 L150.0 523.1 L160.0 524.3 L165.0 527.0 L166.5 531.0 L164.5 537.0 L163.8 550.0 L163.0 557.0 L150.0 558.0 L140.0 559.5 L133.0 561.0 L140.0 570.0 L147.0 580.0 L152.0 588.0 L145.0 590.0 L130.0 589.5 L115.0 590.0 L95.0 589.2 L80.0 589.0 L66.0 588.0 L64.0 588.5 L61.0 587.0 L60.3 585.0 Z" fill="#4670ae" stroke="#4670ae" stroke-width="2" stroke-linejoin="round"/>
<path d="M145 534.3 L164 533.6 L164 536.4 L145 535.7 Z" fill="#fff" fill-opacity="0.4"/>
<path d="M168.8 507.0 L170.0 505.5 L172.5 505.5 L173.7 507.0 L173.7 600.5 L172.5 601.8 L170.0 601.8 L168.8 600.5 Z" fill="#4670ae" stroke="#4670ae" stroke-width="2" stroke-linejoin="round"/>
<circle class="a0" cx="69.6" cy="524.6" r="2.9"/>
<circle class="a0" cx="75.5" cy="521.7" r="2.9"/>
<circle class="a0" cx="77.2" cy="521.8" r="2.9"/>
<circle class="a0" cx="69.7" cy="524.1" r="2.9"/>
<circle class="a0" cx="66.5" cy="525.0" r="2.9"/>
<circle class="a0" cx="71.5" cy="524.0" r="2.9"/>
<circle class="a0" cx="78.4" cy="516.8" r="2.9"/>
<circle class="a0" cx="78.8" cy="521.3" r="2.9"/>
<circle class="a0" cx="73.1" cy="522.1" r="2.9"/>
<circle class="a0" cx="73.1" cy="516.9" r="2.9"/>
<circle class="a0" cx="74.2" cy="522.8" r="2.9"/>
<circle class="a0" cx="76.8" cy="519.2" r="2.9"/>
<circle class="a0" cx="73.0" cy="521.6" r="2.9"/>
<circle class="a0" cx="80.1" cy="520.9" r="2.9"/>
<circle class="a0" cx="79.0" cy="521.6" r="2.9"/>
<circle class="a0" cx="69.3" cy="522.5" r="2.9"/>
<circle class="a0" cx="78.6" cy="522.0" r="2.9"/>
<circle class="a0" cx="70.7" cy="523.0" r="2.9"/>
<circle class="a0" cx="99.6" cy="521.0" r="2.9"/>
<circle class="a0" cx="87.9" cy="520.6" r="2.9"/>
<circle class="a0" cx="94.1" cy="519.6" r="2.9"/>
<circle class="a0" cx="85.9" cy="516.4" r="2.9"/>
<circle class="a0" cx="98.4" cy="520.2" r="2.9"/>
<circle class="a0" cx="89.7" cy="521.1" r="2.9"/>
<circle class="a0" cx="80.9" cy="521.5" r="2.9"/>
<circle class="a0" cx="81.5" cy="516.8" r="2.9"/>
<circle class="a0" cx="81.5" cy="520.2" r="2.9"/>
<circle class="a0" cx="87.2" cy="518.7" r="2.9"/>
<circle class="a0" cx="87.6" cy="519.5" r="2.9"/>
<circle class="a0" cx="86.4" cy="521.5" r="2.9"/>
<circle class="a0" cx="87.7" cy="518.7" r="2.9"/>
<circle class="a0" cx="81.7" cy="521.2" r="2.9"/>
<circle class="a0" cx="93.6" cy="520.7" r="2.9"/>
<circle class="a0" cx="90.9" cy="521.3" r="2.9"/>
<circle class="a0" cx="93.6" cy="520.9" r="2.9"/>
<circle class="a0" cx="98.4" cy="520.7" r="2.9"/>
<circle class="a0" cx="92.9" cy="518.7" r="2.9"/>
<circle class="a0" cx="97.3" cy="519.8" r="2.9"/>
<circle class="a0" cx="93.7" cy="521.5" r="2.9"/>
<circle class="a0" cx="86.8" cy="520.7" r="2.9"/>
<circle class="a0" cx="94.7" cy="521.2" r="2.9"/>
<circle class="a0" cx="86.2" cy="520.0" r="2.9"/>
<circle class="a0" cx="94.3" cy="518.5" r="2.9"/>
<circle class="a0" cx="113.3" cy="517.4" r="2.9"/>
<circle class="a0" cx="110.8" cy="517.9" r="2.9"/>
<circle class="a0" cx="108.0" cy="520.7" r="2.9"/>
<circle class="a0" cx="111.8" cy="517.1" r="2.9"/>
<circle class="a0" cx="104.0" cy="519.3" r="2.9"/>
<circle class="a0" cx="102.7" cy="519.5" r="2.9"/>
<circle class="a0" cx="103.7" cy="517.2" r="2.9"/>
<circle class="a0" cx="102.0" cy="519.1" r="2.9"/>
<circle class="a0" cx="101.0" cy="521.4" r="2.9"/>
<circle class="a0" cx="103.3" cy="516.3" r="2.9"/>
<circle class="a0" cx="102.0" cy="520.7" r="2.9"/>
<circle class="a0" cx="105.7" cy="520.6" r="2.9"/>
<circle class="a0" cx="110.1" cy="515.9" r="2.9"/>
<circle class="a0" cx="114.5" cy="518.4" r="2.9"/>
<circle class="a0" cx="110.9" cy="520.4" r="2.9"/>
<circle class="a0" cx="102.9" cy="520.6" r="2.9"/>
<circle class="a0" cx="107.8" cy="515.6" r="2.9"/>
<circle class="a0" cx="112.5" cy="517.1" r="2.9"/>
<circle class="a0" cx="109.5" cy="520.3" r="2.9"/>
<circle class="a0" cx="119.3" cy="519.4" r="2.9"/>
<circle class="a0" cx="122.6" cy="520.8" r="2.9"/>
<circle class="a0" cx="120.8" cy="519.4" r="2.9"/>
<circle class="a0" cx="125.0" cy="520.2" r="2.9"/>
<circle class="a0" cx="124.9" cy="519.9" r="2.9"/>
<circle class="a0" cx="123.6" cy="520.8" r="2.9"/>
<circle class="a0" cx="117.9" cy="519.7" r="2.9"/>
<circle class="a0" cx="117.7" cy="517.6" r="2.9"/>
<circle class="a0" cx="116.7" cy="519.5" r="2.9"/>
<circle class="a0" cx="120.2" cy="518.6" r="2.9"/>
<circle class="a0" cx="118.5" cy="515.1" r="2.9"/>
<circle class="a0" cx="122.9" cy="519.4" r="2.9"/>
<circle class="a0" cx="120.9" cy="520.1" r="2.9"/>
<circle class="a0" cx="126.2" cy="519.0" r="2.9"/>
<circle class="a0" cx="130.9" cy="520.8" r="2.9"/>
<circle class="a0" cx="129.6" cy="519.8" r="2.9"/>
<circle class="a0" cx="131.6" cy="520.5" r="2.9"/>
<circle class="a0" cx="128.6" cy="514.1" r="2.9"/>
<circle class="a0" cx="136.8" cy="521.1" r="2.9"/>
<circle class="a0" cx="139.2" cy="520.6" r="2.9"/>
<circle class="a0" cx="128.1" cy="520.7" r="2.9"/>
<circle class="a0" cx="127.5" cy="518.5" r="2.9"/>
<circle class="a0" cx="134.5" cy="518.1" r="2.9"/>
<circle class="a0" cx="126.1" cy="521.0" r="2.9"/>
<circle class="a0" cx="138.8" cy="517.8" r="2.9"/>
<circle class="a0" cx="136.9" cy="521.2" r="2.9"/>
<circle class="a0" cx="131.0" cy="519.4" r="2.9"/>
<circle class="a0" cx="135.4" cy="519.8" r="2.9"/>
<circle class="a0" cx="127.6" cy="520.8" r="2.9"/>
<circle class="a0" cx="125.9" cy="518.7" r="2.9"/>
<circle class="a0" cx="132.5" cy="519.9" r="2.9"/>
<circle class="a0" cx="127.6" cy="519.0" r="2.9"/>
<circle class="a0" cx="147.6" cy="523.4" r="2.9"/>
<circle class="a0" cx="140.6" cy="521.1" r="2.9"/>
<circle class="a0" cx="148.7" cy="517.2" r="2.9"/>
<circle class="a0" cx="145.0" cy="521.6" r="2.9"/>
<circle class="a0" cx="148.0" cy="518.8" r="2.9"/>
<circle class="a0" cx="148.3" cy="523.5" r="2.9"/>
<circle class="a0" cx="149.7" cy="523.1" r="2.9"/>
<circle class="a0" cx="140.5" cy="521.2" r="2.9"/>
<circle class="a0" cx="150.0" cy="523.4" r="2.9"/>
<circle class="a0" cx="146.7" cy="522.8" r="2.9"/>
<circle class="a0" cx="150.1" cy="522.8" r="2.9"/>
<circle class="a0" cx="145.2" cy="521.4" r="2.9"/>
<circle class="a0" cx="140.8" cy="521.5" r="2.9"/>
<circle class="a0" cx="152.7" cy="524.0" r="2.9"/>
<circle class="a0" cx="151.6" cy="522.3" r="2.9"/>
<circle class="a0" cx="157.9" cy="522.1" r="2.9"/>
<circle class="a0" cx="159.5" cy="522.3" r="2.9"/>
<circle class="a0" cx="153.2" cy="523.8" r="2.9"/>
<circle class="a0" cx="151.7" cy="523.2" r="2.9"/>
<circle class="a0" cx="158.7" cy="520.7" r="2.9"/>
<circle class="a0" cx="155.8" cy="521.7" r="2.9"/>
<circle class="a0" cx="159.5" cy="524.8" r="2.9"/>
<circle class="a0" cx="158.9" cy="523.0" r="2.9"/>
<circle class="a0" cx="150.0" cy="522.5" r="2.9"/>
<circle class="a0" cx="154.4" cy="524.0" r="2.9"/>
<circle class="a0" cx="151.6" cy="521.5" r="2.9"/>
<circle class="a0" cx="163.5" cy="525.2" r="2.9"/>
<circle class="a0" cx="165.4" cy="528.2" r="2.9"/>
<circle class="a0" cx="162.1" cy="526.2" r="2.9"/>
<circle class="a0" cx="160.2" cy="524.4" r="2.9"/>
<circle class="a0" cx="162.0" cy="522.7" r="2.9"/>
<circle class="a0" cx="160.3" cy="523.6" r="2.9"/>
<circle class="a0" cx="160.8" cy="522.6" r="2.9"/>
<circle class="a0" cx="164.8" cy="528.0" r="2.9"/>
<circle class="a0" cx="74.4" cy="591.6" r="2.9"/>
<circle class="a0" cx="73.6" cy="588.1" r="2.9"/>
<circle class="a0" cx="76.5" cy="590.1" r="2.9"/>
<circle class="a0" cx="74.8" cy="587.7" r="2.9"/>
<circle class="a0" cx="77.3" cy="588.4" r="2.9"/>
<circle class="a0" cx="73.9" cy="588.6" r="2.9"/>
<circle class="a0" cx="76.9" cy="588.8" r="2.9"/>
<circle class="a0" cx="71.5" cy="588.4" r="2.9"/>
<circle class="a0" cx="77.4" cy="588.0" r="2.9"/>
<circle class="a0" cx="69.4" cy="589.8" r="2.9"/>
<circle class="a0" cx="75.6" cy="588.4" r="2.9"/>
<circle class="a0" cx="82.1" cy="588.2" r="2.9"/>
<circle class="a0" cx="88.3" cy="589.9" r="2.9"/>
<circle class="a0" cx="87.1" cy="592.3" r="2.9"/>
<circle class="a0" cx="81.2" cy="588.4" r="2.9"/>
<circle class="a0" cx="82.9" cy="592.1" r="2.9"/>
<circle class="a0" cx="84.5" cy="593.1" r="2.9"/>
<circle class="a0" cx="84.0" cy="590.8" r="2.9"/>
<circle class="a0" cx="84.0" cy="588.4" r="2.9"/>
<circle class="a0" cx="89.3" cy="588.6" r="2.9"/>
<circle class="a0" cx="82.2" cy="588.9" r="2.9"/>
<circle class="a0" cx="94.1" cy="589.6" r="2.9"/>
<circle class="a0" cx="96.3" cy="588.7" r="2.9"/>
<circle class="a0" cx="106.8" cy="589.2" r="2.9"/>
<circle class="a0" cx="115.4" cy="589.4" r="2.9"/>
<circle class="a0" cx="103.7" cy="589.0" r="2.9"/>
<circle class="a0" cx="100.6" cy="588.7" r="2.9"/>
<circle class="a0" cx="108.5" cy="589.2" r="2.9"/>
<circle class="a0" cx="99.6" cy="588.7" r="2.9"/>
<circle class="a0" cx="100.6" cy="591.2" r="2.9"/>
<circle class="a0" cx="103.8" cy="593.5" r="2.9"/>
<circle class="a0" cx="96.8" cy="592.1" r="2.9"/>
<circle class="a0" cx="105.7" cy="589.6" r="2.9"/>
<circle class="a0" cx="109.7" cy="589.3" r="2.9"/>
<circle class="a0" cx="106.4" cy="589.3" r="2.9"/>
<circle class="a0" cx="107.6" cy="589.2" r="2.9"/>
<circle class="a0" cx="110.3" cy="589.3" r="2.9"/>
<circle class="a0" cx="117.8" cy="590.2" r="2.9"/>
<circle class="a0" cx="128.2" cy="588.8" r="2.9"/>
<circle class="a0" cx="129.0" cy="589.7" r="2.9"/>
<circle class="a0" cx="123.2" cy="588.7" r="2.9"/>
<circle class="a0" cx="116.7" cy="590.1" r="2.9"/>
<circle class="a0" cx="118.5" cy="590.4" r="2.9"/>
<circle class="a0" cx="118.6" cy="589.7" r="2.9"/>
<circle class="a0" cx="121.8" cy="591.2" r="2.9"/>
<circle class="a0" cx="120.2" cy="590.5" r="2.9"/>
<circle class="a0" cx="117.5" cy="589.1" r="2.9"/>
<circle class="a0" cx="128.9" cy="588.7" r="2.9"/>
<circle class="a0" cx="131.2" cy="589.7" r="2.9"/>
<circle class="a0" cx="131.6" cy="590.0" r="2.9"/>
<circle class="a0" cx="143.4" cy="590.6" r="2.9"/>
<circle class="a0" cx="143.7" cy="589.4" r="2.9"/>
<circle class="a0" cx="137.0" cy="589.8" r="2.9"/>
<circle class="a0" cx="130.1" cy="590.8" r="2.9"/>
<circle class="a0" cx="131.4" cy="591.9" r="2.9"/>
<circle class="a0" cx="132.0" cy="589.8" r="2.9"/>
<circle class="a0" cx="137.0" cy="589.1" r="2.9"/>
<circle class="a0" cx="132.5" cy="590.6" r="2.9"/>
<circle class="a0" cx="141.9" cy="590.8" r="2.9"/>
<circle class="a0" cx="137.5" cy="563.8" r="2.9"/>
<circle class="a0" cx="138.8" cy="560.2" r="2.9"/>
<circle class="a0" cx="137.6" cy="560.0" r="2.9"/>
<circle class="a0" cx="139.8" cy="558.8" r="2.9"/>
<circle class="a0" cx="138.5" cy="564.7" r="2.9"/>
<circle class="a0" cx="138.7" cy="560.5" r="2.9"/>
<circle class="a0" cx="138.9" cy="560.8" r="2.9"/>
<circle class="a0" cx="148.8" cy="561.2" r="2.9"/>
<circle class="a0" cx="144.5" cy="558.1" r="2.9"/>
<circle class="a0" cx="145.3" cy="558.4" r="2.9"/>
<circle class="a0" cx="146.7" cy="559.6" r="2.9"/>
<circle class="a0" cx="143.8" cy="563.5" r="2.9"/>
<circle class="a0" cx="141.9" cy="558.3" r="2.9"/>
<circle class="a0" cx="143.0" cy="559.7" r="2.9"/>
<circle class="a0" cx="142.7" cy="558.4" r="2.9"/>
<circle class="a0" cx="143.8" cy="563.9" r="2.9"/>
<circle class="a0" cx="141.4" cy="563.6" r="2.9"/>
<circle class="a0" cx="156.0" cy="559.3" r="2.9"/>
<circle class="a0" cx="150.6" cy="557.5" r="2.9"/>
<circle class="a0" cx="156.0" cy="556.7" r="2.9"/>
<circle class="a0" cx="152.2" cy="557.4" r="2.9"/>
<circle class="a0" cx="156.4" cy="558.4" r="2.9"/>
<circle class="a0" cx="149.7" cy="559.6" r="2.9"/>
<circle class="a0" cx="150.5" cy="558.3" r="2.9"/>
<circle class="a0" cx="162.7" cy="556.1" r="2.9"/>
<circle class="a0" cx="155.4" cy="557.8" r="2.9"/>
<circle class="a0" cx="153.5" cy="560.4" r="2.9"/>
<circle class="a0" cx="161.4" cy="556.2" r="2.9"/>
<circle class="a0" cx="156.0" cy="556.7" r="2.9"/>
<circle class="a0" cx="160.8" cy="558.0" r="2.9"/>
<circle class="a0" cx="141.9" cy="563.1" r="2.9"/>
<circle class="a0" cx="139.6" cy="567.9" r="2.9"/>
<circle class="a0" cx="137.9" cy="566.3" r="2.9"/>
<circle class="a0" cx="139.3" cy="570.0" r="2.9"/>
<circle class="a0" cx="144.1" cy="563.0" r="2.9"/>
<circle class="a0" cx="139.7" cy="566.8" r="2.9"/>
<circle class="a0" cx="140.4" cy="567.1" r="2.9"/>
<circle class="a0" cx="142.7" cy="565.3" r="2.9"/>
<circle class="a0" cx="135.8" cy="565.4" r="2.9"/>
<circle class="a0" cx="136.8" cy="565.5" r="2.9"/>
<circle class="a0" cx="139.2" cy="565.6" r="2.9"/>
<circle class="a0" cx="140.8" cy="559.2" r="2.9"/>
<circle class="a0" cx="133.7" cy="563.4" r="2.9"/>
<circle class="a0" cx="136.1" cy="562.7" r="2.9"/>
<circle class="a0" cx="141.5" cy="573.3" r="2.9"/>
<circle class="a0" cx="148.3" cy="568.1" r="2.9"/>
<circle class="a0" cx="145.8" cy="566.5" r="2.9"/>
<circle class="a0" cx="145.4" cy="572.5" r="2.9"/>
<circle class="a0" cx="140.2" cy="570.7" r="2.9"/>
<circle class="a0" cx="142.8" cy="575.0" r="2.9"/>
<circle class="a0" cx="141.0" cy="571.9" r="2.9"/>
<circle class="a0" cx="144.6" cy="574.0" r="2.9"/>
<circle class="a0" cx="141.6" cy="568.1" r="2.9"/>
<circle class="a0" cx="141.1" cy="569.5" r="2.9"/>
<circle class="a0" cx="146.3" cy="580.2" r="2.9"/>
<circle class="a0" cx="143.6" cy="573.3" r="2.9"/>
<circle class="a0" cx="144.9" cy="569.9" r="2.9"/>
<circle class="a0" cx="145.3" cy="579.6" r="2.9"/>
<circle class="a0" cx="142.6" cy="575.5" r="2.9"/>
<circle class="a0" cx="152.1" cy="585.6" r="2.9"/>
<circle class="a0" cx="149.7" cy="583.5" r="2.9"/>
<circle class="a0" cx="150.2" cy="583.0" r="2.9"/>
<circle class="a0" cx="148.1" cy="580.7" r="2.9"/>
<circle class="a0" cx="149.1" cy="580.0" r="2.9"/>
<circle class="a0" cx="152.4" cy="586.7" r="2.9"/>
<circle class="a0" cx="154.1" cy="584.7" r="2.9"/>
<circle class="a0" cx="148.0" cy="582.6" r="2.9"/>
<circle class="a0" cx="150.1" cy="584.4" r="2.9"/>
<circle class="a0" cx="150.9" cy="584.5" r="2.9"/>
<circle class="a0" cx="150.7" cy="584.8" r="2.9"/>
<circle class="a0" cx="148.8" cy="583.0" r="2.9"/>
<circle class="a1" cx="160.0" cy="580.0" r="2.9"/>
<circle class="a1" cx="165.0" cy="590.0" r="2.9"/>
<circle class="a1" cx="155.0" cy="575.0" r="2.9"/>
<circle class="a1" cx="158.0" cy="568.0" r="2.9"/>
<circle class="a1" cx="146.0" cy="595.0" r="2.9"/>
<circle class="a1" cx="135.0" cy="594.0" r="2.9"/>
<circle class="a1" cx="120.0" cy="594.0" r="2.9"/>
<circle class="a1" cx="63.0" cy="518.0" r="2.9"/>
<circle class="a1" cx="63.0" cy="521.5" r="2.9"/>
<circle class="a1" cx="63.0" cy="591.0" r="2.9"/>
<circle class="a1" cx="63.0" cy="594.0" r="2.9"/>
<line x1="63.5" y1="547.9" x2="63.5" y2="559.4" stroke="#dd8452" stroke-width="1.4"/>
<line x1="66.3" y1="547.9" x2="66.3" y2="559.4" stroke="#dd8452" stroke-width="1.4"/>
<line x1="72.1" y1="548.5" x2="72.1" y2="559.0" stroke="#dd8452" stroke-width="1.4"/>
<line x1="78.3" y1="548.5" x2="78.3" y2="559.0" stroke="#dd8452" stroke-width="1.4"/>
<line x1="84.0" y1="548.5" x2="84.0" y2="559.0" stroke="#dd8452" stroke-width="1.4"/>
<line x1="90.0" y1="548.0" x2="90.0" y2="559.5" stroke="#dd8452" stroke-width="1.4"/>
<line x1="95.9" y1="547.0" x2="95.9" y2="561.0" stroke="#dd8452" stroke-width="1.4"/>
<line x1="101.8" y1="546.0" x2="101.8" y2="560.5" stroke="#dd8452" stroke-width="1.4"/>
<line x1="107.9" y1="543.4" x2="107.9" y2="564.0" stroke="#dd8452" stroke-width="1.4"/>
<line x1="113.8" y1="540.7" x2="113.8" y2="567.6" stroke="#dd8452" stroke-width="1.4"/>
<line x1="119.7" y1="539.5" x2="119.7" y2="568.5" stroke="#dd8452" stroke-width="1.4"/>
<line x1="125.8" y1="539.8" x2="125.8" y2="567.6" stroke="#dd8452" stroke-width="1.4"/>
<line x1="131.8" y1="539.0" x2="131.8" y2="569.4" stroke="#dd8452" stroke-width="1.4"/>
<line x1="137.7" y1="538.0" x2="137.7" y2="570.3" stroke="#dd8452" stroke-width="1.4"/>
<line x1="143.4" y1="537.7" x2="143.4" y2="571.2" stroke="#dd8452" stroke-width="1.4"/>
<line x1="149.7" y1="538.0" x2="149.7" y2="571.2" stroke="#dd8452" stroke-width="1.4"/>
<line x1="155.6" y1="535.3" x2="155.6" y2="570.3" stroke="#dd8452" stroke-width="1.4"/>
<line x1="161.4" y1="532.7" x2="161.4" y2="573.0" stroke="#dd8452" stroke-width="1.4"/>
<line x1="167.3" y1="538.0" x2="167.3" y2="563.1" stroke="#dd8452" stroke-width="1.4"/>
<line x1="173.4" y1="533.6" x2="173.4" y2="577.5" stroke="#dd8452" stroke-width="1.4"/>
<polyline points="63.5,553.7 66.3,553.7 72.1,553.7 78.3,553.7 84.0,553.7 90.0,553.7 95.9,552.0 101.8,551.5 107.9,550.2 113.8,549.2 119.7,548.4 125.8,547.9 131.8,547.9 137.7,547.5 143.4,547.5 149.7,547.9 155.6,543.8 161.4,539.8 167.3,543.1 173.4,546.5" fill="none" stroke="#dd8452" stroke-width="1.3"/>
<rect x="61.1" y="551.3" width="4.8" height="4.8" fill="#dd8452"/>
<rect x="63.9" y="551.3" width="4.8" height="4.8" fill="#dd8452"/>
<rect x="69.7" y="551.3" width="4.8" height="4.8" fill="#dd8452"/>
<rect x="75.9" y="551.3" width="4.8" height="4.8" fill="#dd8452"/>
<rect x="81.6" y="551.3" width="4.8" height="4.8" fill="#dd8452"/>
<rect x="87.6" y="551.3" width="4.8" height="4.8" fill="#dd8452"/>
<rect x="93.5" y="549.6" width="4.8" height="4.8" fill="#dd8452"/>
<rect x="99.4" y="549.1" width="4.8" height="4.8" fill="#dd8452"/>
<rect x="105.5" y="547.8" width="4.8" height="4.8" fill="#dd8452"/>
<rect x="111.4" y="546.8" width="4.8" height="4.8" fill="#dd8452"/>
<rect x="117.3" y="546.0" width="4.8" height="4.8" fill="#dd8452"/>
<rect x="123.4" y="545.5" width="4.8" height="4.8" fill="#dd8452"/>
<rect x="129.4" y="545.5" width="4.8" height="4.8" fill="#dd8452"/>
<rect x="135.3" y="545.1" width="4.8" height="4.8" fill="#dd8452"/>
<rect x="141.0" y="545.1" width="4.8" height="4.8" fill="#dd8452"/>
<rect x="147.3" y="545.5" width="4.8" height="4.8" fill="#dd8452"/>
<rect x="153.2" y="541.4" width="4.8" height="4.8" fill="#dd8452"/>
<rect x="159.0" y="537.4" width="4.8" height="4.8" fill="#dd8452"/>
<rect x="164.9" y="540.7" width="4.8" height="4.8" fill="#dd8452"/>
<rect x="171.0" y="544.1" width="4.8" height="4.8" fill="#dd8452"/>
</g>
<g clip-path="url(#c42)">
<line x1="287.40" y1="502.60" x2="287.40" y2="604.60" stroke="#7a7a7a" stroke-width="1.1" stroke-dasharray="4.55 2.0" stroke-dashoffset="1.2"/>
<path d="M231.5 524.0 L233.0 522.0 L240.0 518.4 L250.0 514.9 L270.0 512.6 L290.0 512.6 L310.0 513.7 L320.0 516.1 L330.0 519.6 L333.5 524.0 L334.0 535.0 L333.0 547.0 L325.0 553.0 L310.0 558.0 L295.0 561.0 L283.0 563.0 L277.0 564.0 L276.0 573.0 L272.0 578.6 L265.0 583.4 L258.0 587.0 L250.0 583.4 L243.0 578.0 L242.3 563.0 L236.0 563.0 L236.0 579.0 L234.0 581.0 L232.0 580.0 L231.5 577.0 Z" fill="#4670ae" stroke="#4670ae" stroke-width="2" stroke-linejoin="round"/>
<circle class="a8" cx="241.6" cy="572.6" r="2.9"/>
<circle class="a8" cx="237.3" cy="563.6" r="2.9"/>
<circle class="a8" cx="240.5" cy="568.9" r="2.9"/>
<circle class="a8" cx="241.3" cy="569.5" r="2.9"/>
<circle class="a8" cx="236.8" cy="569.5" r="2.9"/>
<circle class="a8" cx="239.0" cy="568.0" r="2.9"/>
<circle class="a8" cx="241.0" cy="571.1" r="2.9"/>
<circle class="a8" cx="239.4" cy="570.7" r="2.9"/>
<circle class="a8" cx="240.7" cy="565.2" r="2.9"/>
<circle class="a8" cx="240.6" cy="578.1" r="2.9"/>
<circle class="a8" cx="241.9" cy="575.6" r="2.9"/>
<circle class="a8" cx="240.3" cy="574.4" r="2.9"/>
<circle class="a8" cx="240.5" cy="575.3" r="2.9"/>
<circle class="a8" cx="241.7" cy="573.9" r="2.9"/>
<circle class="a8" cx="236.7" cy="579.4" r="2.9"/>
<circle class="a8" cx="240.5" cy="569.0" r="2.9"/>
<circle class="a8" cx="238.5" cy="567.1" r="2.9"/>
<circle class="a8" cx="239.9" cy="577.6" r="2.9"/>
<circle class="a8" cx="239.0" cy="577.3" r="2.9"/>
<circle class="a8" cx="239.4" cy="577.3" r="2.9"/>
<circle class="a8" cx="241.6" cy="571.2" r="2.9"/>
<circle class="a8" cx="239.5" cy="567.5" r="2.9"/>
<circle class="a8" cx="241.1" cy="566.6" r="2.9"/>
<circle class="a8" cx="237.7" cy="565.9" r="2.9"/>
<circle class="a8" cx="238.9" cy="567.0" r="2.9"/>
<circle class="a8" cx="239.5" cy="576.7" r="2.9"/>
<circle class="a8" cx="240.4" cy="569.8" r="2.9"/>
<circle class="a8" cx="241.1" cy="571.0" r="2.9"/>
<circle class="a8" cx="241.5" cy="563.7" r="2.9"/>
<circle class="a8" cx="237.6" cy="567.7" r="2.9"/>
<circle class="a8" cx="240.2" cy="564.9" r="2.9"/>
<circle class="a8" cx="238.9" cy="578.2" r="2.9"/>
<circle class="a8" cx="241.9" cy="569.0" r="2.9"/>
<circle class="a8" cx="241.1" cy="563.1" r="2.9"/>
<circle class="a8" cx="241.4" cy="570.6" r="2.9"/>
<circle class="a8" cx="238.3" cy="578.3" r="2.9"/>
<circle class="a8" cx="240.2" cy="570.5" r="2.9"/>
<circle class="a8" cx="239.1" cy="574.9" r="2.9"/>
<circle class="a8" cx="240.3" cy="570.1" r="2.9"/>
<circle class="a8" cx="241.7" cy="576.5" r="2.9"/>
<circle class="a8" cx="241.0" cy="575.0" r="2.9"/>
<circle class="a8" cx="239.6" cy="568.5" r="2.9"/>
<circle class="a8" cx="237.3" cy="578.4" r="2.9"/>
<circle class="a8" cx="239.1" cy="576.0" r="2.9"/>
<circle class="a8" cx="238.4" cy="571.3" r="2.9"/>
<path d="M339.0 506.5 L340.5 504.9 L343.0 504.9 L344.4 506.5 L344.4 565.0 L339.0 565.0 Z" fill="#4670ae" stroke="#4670ae" stroke-width="2" stroke-linejoin="round"/>
<circle class="a3" cx="341.7" cy="566.0" r="2.9"/>
<circle class="a3" cx="341.7" cy="569.3" r="2.9"/>
<circle class="a3" cx="341.7" cy="572.6" r="2.9"/>
<circle class="a3" cx="341.7" cy="575.9" r="2.9"/>
<circle class="a3" cx="341.7" cy="579.2" r="2.9"/>
<circle class="a3" cx="341.7" cy="582.5" r="2.9"/>
<circle class="a3" cx="341.7" cy="585.8" r="2.9"/>
<circle class="a3" cx="341.7" cy="589.1" r="2.9"/>
<circle class="a3" cx="341.7" cy="592.4" r="2.9"/>
<circle class="a3" cx="341.7" cy="595.7" r="2.9"/>
<circle class="a3" cx="341.7" cy="599.0" r="2.9"/>
<circle class="a3" cx="341.7" cy="602.3" r="2.9"/>
<circle class="a0" cx="233.4" cy="519.7" r="2.9"/>
<circle class="a0" cx="237.6" cy="518.3" r="2.9"/>
<circle class="a0" cx="239.3" cy="519.9" r="2.9"/>
<circle class="a0" cx="233.8" cy="522.6" r="2.9"/>
<circle class="a0" cx="232.8" cy="520.5" r="2.9"/>
<circle class="a0" cx="240.1" cy="518.6" r="2.9"/>
<circle class="a0" cx="235.0" cy="519.7" r="2.9"/>
<circle class="a0" cx="237.7" cy="518.7" r="2.9"/>
<circle class="a0" cx="249.0" cy="509.8" r="2.9"/>
<circle class="a0" cx="248.1" cy="515.1" r="2.9"/>
<circle class="a0" cx="247.7" cy="513.1" r="2.9"/>
<circle class="a0" cx="243.4" cy="516.3" r="2.9"/>
<circle class="a0" cx="246.9" cy="516.1" r="2.9"/>
<circle class="a0" cx="246.5" cy="515.3" r="2.9"/>
<circle class="a0" cx="246.7" cy="513.7" r="2.9"/>
<circle class="a0" cx="241.4" cy="517.5" r="2.9"/>
<circle class="a0" cx="249.9" cy="515.2" r="2.9"/>
<circle class="a0" cx="248.9" cy="509.2" r="2.9"/>
<circle class="a0" cx="241.3" cy="518.3" r="2.9"/>
<circle class="a0" cx="261.0" cy="513.3" r="2.9"/>
<circle class="a0" cx="265.4" cy="509.0" r="2.9"/>
<circle class="a0" cx="265.1" cy="511.0" r="2.9"/>
<circle class="a0" cx="256.4" cy="512.4" r="2.9"/>
<circle class="a0" cx="258.2" cy="509.9" r="2.9"/>
<circle class="a0" cx="266.1" cy="513.3" r="2.9"/>
<circle class="a0" cx="268.4" cy="512.8" r="2.9"/>
<circle class="a0" cx="264.7" cy="512.5" r="2.9"/>
<circle class="a0" cx="259.8" cy="510.9" r="2.9"/>
<circle class="a0" cx="259.9" cy="512.2" r="2.9"/>
<circle class="a0" cx="251.6" cy="515.6" r="2.9"/>
<circle class="a0" cx="269.4" cy="510.7" r="2.9"/>
<circle class="a0" cx="262.9" cy="509.3" r="2.9"/>
<circle class="a0" cx="264.7" cy="511.6" r="2.9"/>
<circle class="a0" cx="264.7" cy="513.4" r="2.9"/>
<circle class="a0" cx="257.4" cy="510.4" r="2.9"/>
<circle class="a0" cx="254.7" cy="513.2" r="2.9"/>
<circle class="a0" cx="264.8" cy="511.8" r="2.9"/>
<circle class="a0" cx="264.1" cy="514.2" r="2.9"/>
<circle class="a0" cx="263.3" cy="512.4" r="2.9"/>
<circle class="a0" cx="276.3" cy="513.5" r="2.9"/>
<circle class="a0" cx="277.8" cy="512.2" r="2.9"/>
<circle class="a0" cx="282.7" cy="511.0" r="2.9"/>
<circle class="a0" cx="276.6" cy="510.4" r="2.9"/>
<circle class="a0" cx="277.3" cy="513.4" r="2.9"/>
<circle class="a0" cx="271.5" cy="512.8" r="2.9"/>
<circle class="a0" cx="273.3" cy="513.2" r="2.9"/>
<circle class="a0" cx="281.2" cy="509.3" r="2.9"/>
<circle class="a0" cx="271.9" cy="512.6" r="2.9"/>
<circle class="a0" cx="273.7" cy="510.6" r="2.9"/>
<circle class="a0" cx="288.0" cy="508.7" r="2.9"/>
<circle class="a0" cx="276.7" cy="512.9" r="2.9"/>
<circle class="a0" cx="285.8" cy="510.9" r="2.9"/>
<circle class="a0" cx="278.0" cy="507.5" r="2.9"/>
<circle class="a0" cx="274.9" cy="513.4" r="2.9"/>
<circle class="a0" cx="283.0" cy="512.8" r="2.9"/>
<circle class="a0" cx="285.2" cy="506.6" r="2.9"/>
<circle class="a0" cx="287.2" cy="511.7" r="2.9"/>
<circle class="a0" cx="283.5" cy="513.1" r="2.9"/>
<circle class="a0" cx="287.2" cy="512.0" r="2.9"/>
<circle class="a0" cx="299.5" cy="511.2" r="2.9"/>
<circle class="a0" cx="305.3" cy="514.4" r="2.9"/>
<circle class="a0" cx="310.1" cy="513.3" r="2.9"/>
<circle class="a0" cx="300.2" cy="510.1" r="2.9"/>
<circle class="a0" cx="305.5" cy="510.6" r="2.9"/>
<circle class="a0" cx="303.1" cy="514.3" r="2.9"/>
<circle class="a0" cx="290.9" cy="512.8" r="2.9"/>
<circle class="a0" cx="306.4" cy="514.0" r="2.9"/>
<circle class="a0" cx="296.9" cy="513.0" r="2.9"/>
<circle class="a0" cx="300.7" cy="512.1" r="2.9"/>
<circle class="a0" cx="292.0" cy="511.0" r="2.9"/>
<circle class="a0" cx="302.8" cy="511.6" r="2.9"/>
<circle class="a0" cx="302.5" cy="507.3" r="2.9"/>
<circle class="a0" cx="306.0" cy="513.4" r="2.9"/>
<circle class="a0" cx="307.2" cy="509.1" r="2.9"/>
<circle class="a0" cx="298.9" cy="509.7" r="2.9"/>
<circle class="a0" cx="299.5" cy="513.7" r="2.9"/>
<circle class="a0" cx="300.3" cy="512.6" r="2.9"/>
<circle class="a0" cx="302.5" cy="511.8" r="2.9"/>
<circle class="a0" cx="290.7" cy="511.1" r="2.9"/>
<circle class="a0" cx="317.6" cy="514.0" r="2.9"/>
<circle class="a0" cx="316.6" cy="514.6" r="2.9"/>
<circle class="a0" cx="319.0" cy="514.5" r="2.9"/>
<circle class="a0" cx="316.9" cy="513.4" r="2.9"/>
<circle class="a0" cx="313.0" cy="511.1" r="2.9"/>
<circle class="a0" cx="316.5" cy="512.4" r="2.9"/>
<circle class="a0" cx="316.8" cy="510.1" r="2.9"/>
<circle class="a0" cx="318.8" cy="515.9" r="2.9"/>
<circle class="a0" cx="311.2" cy="514.3" r="2.9"/>
<circle class="a0" cx="318.7" cy="515.4" r="2.9"/>
<circle class="a0" cx="319.9" cy="517.0" r="2.9"/>
<circle class="a0" cx="323.0" cy="516.7" r="2.9"/>
<circle class="a0" cx="329.2" cy="520.0" r="2.9"/>
<circle class="a0" cx="324.5" cy="517.3" r="2.9"/>
<circle class="a0" cx="325.5" cy="517.6" r="2.9"/>
<circle class="a0" cx="323.0" cy="516.9" r="2.9"/>
<circle class="a0" cx="326.2" cy="516.9" r="2.9"/>
<circle class="a0" cx="329.2" cy="518.6" r="2.9"/>
<circle class="a0" cx="327.6" cy="515.2" r="2.9"/>
<circle class="a0" cx="321.8" cy="517.3" r="2.9"/>
<circle class="a0" cx="324.2" cy="518.5" r="2.9"/>
<circle class="a0" cx="333.0" cy="527.8" r="2.9"/>
<circle class="a0" cx="333.3" cy="528.5" r="2.9"/>
<circle class="a0" cx="332.6" cy="534.6" r="2.9"/>
<circle class="a0" cx="336.0" cy="524.4" r="2.9"/>
<circle class="a0" cx="333.3" cy="530.0" r="2.9"/>
<circle class="a0" cx="335.0" cy="530.3" r="2.9"/>
<circle class="a0" cx="333.1" cy="534.3" r="2.9"/>
<circle class="a0" cx="338.4" cy="525.5" r="2.9"/>
<circle class="a0" cx="335.1" cy="526.5" r="2.9"/>
<circle class="a0" cx="335.3" cy="525.3" r="2.9"/>
<circle class="a0" cx="334.8" cy="524.4" r="2.9"/>
<circle class="a0" cx="333.3" cy="536.7" r="2.9"/>
<circle class="a0" cx="336.7" cy="543.0" r="2.9"/>
<circle class="a0" cx="332.5" cy="542.3" r="2.9"/>
<circle class="a0" cx="332.6" cy="541.0" r="2.9"/>
<circle class="a0" cx="334.5" cy="546.0" r="2.9"/>
<circle class="a0" cx="332.8" cy="546.0" r="2.9"/>
<circle class="a0" cx="335.0" cy="544.4" r="2.9"/>
<circle class="a0" cx="335.8" cy="535.1" r="2.9"/>
<circle class="a0" cx="333.6" cy="535.4" r="2.9"/>
<circle class="a0" cx="333.6" cy="537.4" r="2.9"/>
<circle class="a0" cx="332.8" cy="544.9" r="2.9"/>
<circle class="a0" cx="334.7" cy="537.9" r="2.9"/>
<circle class="a0" cx="326.1" cy="552.4" r="2.9"/>
<circle class="a0" cx="325.4" cy="551.5" r="2.9"/>
<circle class="a0" cx="328.0" cy="551.3" r="2.9"/>
<circle class="a0" cx="326.6" cy="550.7" r="2.9"/>
<circle class="a0" cx="326.7" cy="551.5" r="2.9"/>
<circle class="a0" cx="327.2" cy="552.7" r="2.9"/>
<circle class="a0" cx="331.7" cy="551.6" r="2.9"/>
<circle class="a0" cx="328.3" cy="550.2" r="2.9"/>
<circle class="a0" cx="317.8" cy="554.7" r="2.9"/>
<circle class="a0" cx="321.3" cy="554.7" r="2.9"/>
<circle class="a0" cx="318.9" cy="555.6" r="2.9"/>
<circle class="a0" cx="317.0" cy="555.2" r="2.9"/>
<circle class="a0" cx="315.7" cy="555.4" r="2.9"/>
<circle class="a0" cx="320.0" cy="554.3" r="2.9"/>
<circle class="a0" cx="310.8" cy="558.8" r="2.9"/>
<circle class="a0" cx="320.3" cy="553.7" r="2.9"/>
<circle class="a0" cx="312.5" cy="556.3" r="2.9"/>
<circle class="a0" cx="312.3" cy="557.5" r="2.9"/>
<circle class="a0" cx="311.9" cy="557.1" r="2.9"/>
<circle class="a0" cx="314.6" cy="556.6" r="2.9"/>
<circle class="a0" cx="307.0" cy="563.1" r="2.9"/>
<circle class="a0" cx="307.9" cy="559.8" r="2.9"/>
<circle class="a0" cx="307.6" cy="559.3" r="2.9"/>
<circle class="a0" cx="309.6" cy="560.0" r="2.9"/>
<circle class="a0" cx="303.7" cy="558.8" r="2.9"/>
<circle class="a0" cx="303.3" cy="561.7" r="2.9"/>
<circle class="a0" cx="298.7" cy="561.5" r="2.9"/>
<circle class="a0" cx="296.3" cy="560.4" r="2.9"/>
<circle class="a0" cx="297.6" cy="563.4" r="2.9"/>
<circle class="a0" cx="299.3" cy="561.1" r="2.9"/>
<circle class="a0" cx="298.1" cy="560.5" r="2.9"/>
<circle class="a0" cx="294.3" cy="562.5" r="2.9"/>
<circle class="a0" cx="289.6" cy="567.0" r="2.9"/>
<circle class="a0" cx="290.7" cy="561.6" r="2.9"/>
<circle class="a0" cx="292.8" cy="563.2" r="2.9"/>
<circle class="a0" cx="285.4" cy="563.9" r="2.9"/>
<circle class="a0" cx="292.9" cy="565.0" r="2.9"/>
<circle class="a0" cx="286.8" cy="567.3" r="2.9"/>
<circle class="a0" cx="286.8" cy="564.0" r="2.9"/>
<circle class="a0" cx="285.6" cy="562.3" r="2.9"/>
<circle class="a0" cx="236.9" cy="588.7" r="2.9"/>
<circle class="a0" cx="233.3" cy="579.9" r="2.9"/>
<circle class="a0" cx="233.8" cy="579.3" r="2.9"/>
<circle class="a0" cx="239.8" cy="579.8" r="2.9"/>
<circle class="a0" cx="239.7" cy="580.2" r="2.9"/>
<circle class="a0" cx="238.5" cy="580.7" r="2.9"/>
<circle class="a0" cx="240.6" cy="578.5" r="2.9"/>
<circle class="a0" cx="246.1" cy="589.0" r="2.9"/>
<circle class="a0" cx="244.0" cy="583.7" r="2.9"/>
<circle class="a0" cx="236.0" cy="584.8" r="2.9"/>
<circle class="a0" cx="237.1" cy="587.0" r="2.9"/>
<circle class="a0" cx="235.8" cy="585.1" r="2.9"/>
<circle class="a0" cx="247.1" cy="592.0" r="2.9"/>
<circle class="a0" cx="238.5" cy="581.3" r="2.9"/>
<circle class="a0" cx="240.3" cy="580.7" r="2.9"/>
<circle class="a0" cx="243.5" cy="579.5" r="2.9"/>
<circle class="a0" cx="243.2" cy="579.3" r="2.9"/>
<circle class="a0" cx="252.1" cy="594.7" r="2.9"/>
<circle class="a0" cx="246.1" cy="581.7" r="2.9"/>
<circle class="a0" cx="243.8" cy="581.5" r="2.9"/>
<circle class="a0" cx="249.6" cy="587.3" r="2.9"/>
<circle class="a0" cx="242.8" cy="578.7" r="2.9"/>
<circle class="a0" cx="250.0" cy="585.4" r="2.9"/>
<circle class="a0" cx="244.0" cy="581.3" r="2.9"/>
<circle class="a0" cx="254.6" cy="595.9" r="2.9"/>
<circle class="a0" cx="248.7" cy="582.4" r="2.9"/>
<circle class="a0" cx="253.5" cy="595.6" r="2.9"/>
<circle class="a0" cx="258.5" cy="589.9" r="2.9"/>
<circle class="a0" cx="249.9" cy="582.6" r="2.9"/>
<circle class="a0" cx="253.6" cy="591.2" r="2.9"/>
<circle class="a0" cx="254.9" cy="584.3" r="2.9"/>
<circle class="a0" cx="252.9" cy="584.3" r="2.9"/>
<circle class="a0" cx="254.0" cy="584.4" r="2.9"/>
<circle class="a0" cx="254.9" cy="586.8" r="2.9"/>
<circle class="a0" cx="258.2" cy="588.4" r="2.9"/>
<circle class="a0" cx="250.8" cy="582.8" r="2.9"/>
<circle class="a0" cx="252.9" cy="585.4" r="2.9"/>
<circle class="a0" cx="250.4" cy="583.1" r="2.9"/>
<circle class="a0" cx="255.0" cy="584.4" r="2.9"/>
<circle class="a0" cx="249.9" cy="583.9" r="2.9"/>
<circle class="a0" cx="262.3" cy="586.1" r="2.9"/>
<circle class="a0" cx="260.4" cy="584.0" r="2.9"/>
<circle class="a0" cx="258.6" cy="588.2" r="2.9"/>
<circle class="a0" cx="257.5" cy="585.2" r="2.9"/>
<circle class="a0" cx="263.1" cy="586.3" r="2.9"/>
<circle class="a0" cx="260.7" cy="586.1" r="2.9"/>
<circle class="a0" cx="262.7" cy="590.5" r="2.9"/>
<circle class="a0" cx="262.4" cy="585.2" r="2.9"/>
<circle class="a0" cx="268.0" cy="592.8" r="2.9"/>
<circle class="a0" cx="265.0" cy="584.2" r="2.9"/>
<circle class="a0" cx="268.9" cy="596.5" r="2.9"/>
<circle class="a0" cx="268.8" cy="581.2" r="2.9"/>
<circle class="a0" cx="266.2" cy="583.8" r="2.9"/>
<circle class="a0" cx="270.0" cy="584.2" r="2.9"/>
<circle class="a0" cx="269.8" cy="578.1" r="2.9"/>
<circle class="a0" cx="265.9" cy="585.0" r="2.9"/>
<circle class="a0" cx="271.0" cy="581.7" r="2.9"/>
<circle class="a0" cx="270.7" cy="578.5" r="2.9"/>
<circle class="a0" cx="266.6" cy="582.7" r="2.9"/>
<circle class="a0" cx="269.8" cy="582.8" r="2.9"/>
<circle class="a0" cx="271.7" cy="580.8" r="2.9"/>
<circle class="a0" cx="269.8" cy="592.7" r="2.9"/>
<circle class="a0" cx="265.3" cy="583.3" r="2.9"/>
<circle class="a0" cx="270.6" cy="577.8" r="2.9"/>
<circle class="a0" cx="274.7" cy="571.6" r="2.9"/>
<circle class="a0" cx="278.3" cy="583.7" r="2.9"/>
<circle class="a0" cx="271.8" cy="576.4" r="2.9"/>
<circle class="a0" cx="275.6" cy="573.7" r="2.9"/>
<circle class="a0" cx="277.5" cy="590.6" r="2.9"/>
<circle class="a0" cx="276.6" cy="576.4" r="2.9"/>
<circle class="a0" cx="274.9" cy="585.4" r="2.9"/>
<circle class="a0" cx="273.7" cy="573.2" r="2.9"/>
<circle class="a0" cx="276.7" cy="575.5" r="2.9"/>
<circle class="a0" cx="278.1" cy="581.0" r="2.9"/>
<circle class="a0" cx="274.6" cy="575.0" r="2.9"/>
<circle class="a0" cx="275.5" cy="567.0" r="2.9"/>
<circle class="a0" cx="275.9" cy="566.4" r="2.9"/>
<circle class="a0" cx="276.3" cy="565.8" r="2.9"/>
<circle class="a0" cx="276.6" cy="564.1" r="2.9"/>
<circle class="a0" cx="276.4" cy="567.2" r="2.9"/>
<circle class="a0" cx="278.4" cy="570.1" r="2.9"/>
<circle class="a0" cx="278.4" cy="575.6" r="2.9"/>
<circle class="a0" cx="277.0" cy="571.3" r="2.9"/>
<circle class="a0" cx="275.8" cy="570.4" r="2.9"/>
<circle class="a0" cx="276.1" cy="564.4" r="2.9"/>
<circle class="a0" cx="277.6" cy="567.9" r="2.9"/>
<circle class="a0" cx="278.4" cy="577.7" r="2.9"/>
<circle class="a0" cx="277.3" cy="565.6" r="2.9"/>
<circle class="a0" cx="276.4" cy="564.8" r="2.9"/>
<circle class="a1" cx="290.0" cy="507.5" r="2.9"/>
<circle class="a1" cx="299.5" cy="565.0" r="2.9"/>
<circle class="a1" cx="302.0" cy="570.0" r="2.9"/>
<circle class="a1" cx="306.0" cy="572.0" r="2.9"/>
<circle class="a1" cx="310.0" cy="568.0" r="2.9"/>
<circle class="a1" cx="293.0" cy="574.0" r="2.9"/>
<circle class="a1" cx="295.0" cy="578.0" r="2.9"/>
<circle class="a1" cx="300.0" cy="580.0" r="2.9"/>
<circle class="a1" cx="302.6" cy="586.4" r="2.9"/>
<circle class="a1" cx="272.5" cy="596.0" r="2.9"/>
<circle class="a1" cx="273.0" cy="600.0" r="2.9"/>
<circle class="a1" cx="332.7" cy="557.0" r="2.9"/>
<circle class="a1" cx="245.0" cy="510.0" r="2.9"/>
<circle class="a1" cx="251.0" cy="508.0" r="2.9"/>
<circle class="a1" cx="262.0" cy="508.0" r="2.9"/>
<circle class="a1" cx="285.0" cy="565.0" r="2.9"/>
<circle class="a1" cx="288.0" cy="570.0" r="2.9"/>
<line x1="233.5" y1="541.0" x2="233.5" y2="557.0" stroke="#dd8452" stroke-width="1.4"/>
<line x1="236.0" y1="538.5" x2="236.0" y2="554.5" stroke="#dd8452" stroke-width="1.4"/>
<line x1="242.3" y1="538.5" x2="242.3" y2="554.5" stroke="#dd8452" stroke-width="1.4"/>
<line x1="248.5" y1="538.0" x2="248.5" y2="554.0" stroke="#dd8452" stroke-width="1.4"/>
<line x1="254.6" y1="538.0" x2="254.6" y2="554.0" stroke="#dd8452" stroke-width="1.4"/>
<line x1="260.6" y1="537.0" x2="260.6" y2="553.0" stroke="#dd8452" stroke-width="1.4"/>
<line x1="266.7" y1="536.0" x2="266.7" y2="552.0" stroke="#dd8452" stroke-width="1.4"/>
<line x1="272.4" y1="535.4" x2="272.4" y2="548.8" stroke="#dd8452" stroke-width="1.4"/>
<line x1="278.2" y1="531.5" x2="278.2" y2="548.8" stroke="#dd8452" stroke-width="1.4"/>
<line x1="284.0" y1="531.0" x2="284.0" y2="549.5" stroke="#dd8452" stroke-width="1.4"/>
<line x1="290.1" y1="531.0" x2="290.1" y2="549.5" stroke="#dd8452" stroke-width="1.4"/>
<line x1="296.0" y1="531.0" x2="296.0" y2="549.0" stroke="#dd8452" stroke-width="1.4"/>
<line x1="301.9" y1="530.9" x2="301.9" y2="548.8" stroke="#dd8452" stroke-width="1.4"/>
<line x1="308.0" y1="529.5" x2="308.0" y2="547.5" stroke="#dd8452" stroke-width="1.4"/>
<line x1="313.9" y1="529.5" x2="313.9" y2="547.5" stroke="#dd8452" stroke-width="1.4"/>
<line x1="319.9" y1="529.0" x2="319.9" y2="546.5" stroke="#dd8452" stroke-width="1.4"/>
<line x1="325.6" y1="529.0" x2="325.6" y2="546.5" stroke="#dd8452" stroke-width="1.4"/>
<line x1="331.5" y1="531.0" x2="331.5" y2="548.5" stroke="#dd8452" stroke-width="1.4"/>
<line x1="337.3" y1="526.4" x2="337.3" y2="547.0" stroke="#dd8452" stroke-width="1.4"/>
<line x1="343.5" y1="528.2" x2="343.5" y2="549.7" stroke="#dd8452" stroke-width="1.4"/>
<polyline points="233.5,549.4 236.0,546.5 242.3,546.5 248.5,546.0 254.6,546.0 260.6,545.0 266.7,544.0 272.4,542.5 278.2,540.7 284.0,541.3 290.1,541.3 296.0,540.7 301.9,538.9 308.0,537.7 313.9,538.0 319.9,537.1 325.6,537.1 331.5,540.2 337.3,536.2 343.5,538.0" fill="none" stroke="#dd8452" stroke-width="1.3"/>
<rect x="231.1" y="547.0" width="4.8" height="4.8" fill="#dd8452"/>
<rect x="233.6" y="544.1" width="4.8" height="4.8" fill="#dd8452"/>
<rect x="239.9" y="544.1" width="4.8" height="4.8" fill="#dd8452"/>
<rect x="246.1" y="543.6" width="4.8" height="4.8" fill="#dd8452"/>
<rect x="252.2" y="543.6" width="4.8" height="4.8" fill="#dd8452"/>
<rect x="258.2" y="542.6" width="4.8" height="4.8" fill="#dd8452"/>
<rect x="264.3" y="541.6" width="4.8" height="4.8" fill="#dd8452"/>
<rect x="270.0" y="540.1" width="4.8" height="4.8" fill="#dd8452"/>
<rect x="275.8" y="538.3" width="4.8" height="4.8" fill="#dd8452"/>
<rect x="281.6" y="538.9" width="4.8" height="4.8" fill="#dd8452"/>
<rect x="287.7" y="538.9" width="4.8" height="4.8" fill="#dd8452"/>
<rect x="293.6" y="538.3" width="4.8" height="4.8" fill="#dd8452"/>
<rect x="299.5" y="536.5" width="4.8" height="4.8" fill="#dd8452"/>
<rect x="305.6" y="535.3" width="4.8" height="4.8" fill="#dd8452"/>
<rect x="311.5" y="535.6" width="4.8" height="4.8" fill="#dd8452"/>
<rect x="317.5" y="534.7" width="4.8" height="4.8" fill="#dd8452"/>
<rect x="323.2" y="534.7" width="4.8" height="4.8" fill="#dd8452"/>
<rect x="329.1" y="537.8" width="4.8" height="4.8" fill="#dd8452"/>
<rect x="334.9" y="533.8" width="4.8" height="4.8" fill="#dd8452"/>
<rect x="341.1" y="535.6" width="4.8" height="4.8" fill="#dd8452"/>
</g>
<g clip-path="url(#c43)">
<line x1="457.80" y1="502.60" x2="457.80" y2="604.60" stroke="#7a7a7a" stroke-width="1.1" stroke-dasharray="4.55 2.0" stroke-dashoffset="1.2"/>
<path d="M402.1 509.8 L402.8 509.2 L502.0 509.2 L503.0 515.0 L501.0 525.0 L497.0 533.0 L492.0 545.0 L486.0 555.0 L482.5 570.0 L484.5 590.0 L487.0 601.6 L402.8 601.6 L402.1 601.0 Z" fill="#4670ae" stroke="#4670ae" stroke-width="0.8" stroke-linejoin="round"/>
<circle class="a7" cx="504.6" cy="512.8" r="2.9"/>
<circle class="a7" cx="504.3" cy="513.9" r="2.9"/>
<circle class="a7" cx="502.2" cy="512.0" r="2.9"/>
<circle class="a7" cx="502.2" cy="510.6" r="2.9"/>
<circle class="a7" cx="500.3" cy="511.6" r="2.9"/>
<circle class="a7" cx="505.5" cy="513.5" r="2.9"/>
<circle class="a7" cx="501.9" cy="511.3" r="2.9"/>
<circle class="a7" cx="500.5" cy="513.0" r="2.9"/>
<circle class="a7" cx="500.8" cy="510.1" r="2.9"/>
<circle class="a7" cx="503.6" cy="515.0" r="2.9"/>
<circle class="a7" cx="501.3" cy="514.6" r="2.9"/>
<circle class="a7" cx="500.6" cy="512.2" r="2.9"/>
<circle class="a7" cx="501.1" cy="511.1" r="2.9"/>
<circle class="a7" cx="500.5" cy="520.1" r="2.9"/>
<circle class="a7" cx="499.8" cy="516.6" r="2.9"/>
<circle class="a7" cx="504.6" cy="517.4" r="2.9"/>
<circle class="a7" cx="502.9" cy="524.0" r="2.9"/>
<circle class="a7" cx="498.6" cy="524.8" r="2.9"/>
<circle class="a7" cx="502.3" cy="520.9" r="2.9"/>
<circle class="a7" cx="501.9" cy="520.1" r="2.9"/>
<circle class="a7" cx="498.5" cy="524.4" r="2.9"/>
<circle class="a7" cx="498.8" cy="524.4" r="2.9"/>
<circle class="a7" cx="503.9" cy="524.7" r="2.9"/>
<circle class="a7" cx="505.3" cy="516.4" r="2.9"/>
<circle class="a7" cx="500.8" cy="516.8" r="2.9"/>
<circle class="a7" cx="501.1" cy="516.9" r="2.9"/>
<circle class="a7" cx="501.0" cy="521.0" r="2.9"/>
<circle class="a7" cx="502.2" cy="516.1" r="2.9"/>
<circle class="a7" cx="498.0" cy="524.8" r="2.9"/>
<circle class="a7" cx="500.6" cy="522.5" r="2.9"/>
<circle class="a7" cx="501.7" cy="516.7" r="2.9"/>
<circle class="a7" cx="505.7" cy="520.9" r="2.9"/>
<circle class="a7" cx="503.3" cy="515.8" r="2.9"/>
<circle class="a7" cx="502.1" cy="516.4" r="2.9"/>
<circle class="a7" cx="499.2" cy="519.6" r="2.9"/>
<circle class="a7" cx="503.1" cy="515.8" r="2.9"/>
<circle class="a7" cx="504.5" cy="517.3" r="2.9"/>
<circle class="a7" cx="500.4" cy="515.8" r="2.9"/>
<circle class="a7" cx="495.5" cy="532.5" r="2.9"/>
<circle class="a7" cx="500.8" cy="528.6" r="2.9"/>
<circle class="a7" cx="499.0" cy="530.5" r="2.9"/>
<circle class="a7" cx="496.4" cy="529.1" r="2.9"/>
<circle class="a7" cx="502.6" cy="527.5" r="2.9"/>
<circle class="a7" cx="504.1" cy="525.6" r="2.9"/>
<circle class="a7" cx="501.0" cy="526.9" r="2.9"/>
<circle class="a7" cx="497.5" cy="528.3" r="2.9"/>
<circle class="a7" cx="502.9" cy="531.7" r="2.9"/>
<circle class="a7" cx="502.4" cy="527.7" r="2.9"/>
<circle class="a7" cx="500.7" cy="526.9" r="2.9"/>
<circle class="a7" cx="496.8" cy="530.3" r="2.9"/>
<circle class="a7" cx="496.2" cy="529.2" r="2.9"/>
<circle class="a7" cx="496.4" cy="530.1" r="2.9"/>
<circle class="a7" cx="500.2" cy="529.4" r="2.9"/>
<circle class="a7" cx="496.9" cy="528.0" r="2.9"/>
<circle class="a7" cx="505.1" cy="525.8" r="2.9"/>
<circle class="a7" cx="497.4" cy="529.5" r="2.9"/>
<circle class="a7" cx="500.1" cy="526.8" r="2.9"/>
<circle class="a7" cx="500.8" cy="527.8" r="2.9"/>
<circle class="a7" cx="497.2" cy="531.3" r="2.9"/>
<circle class="a7" cx="497.0" cy="529.7" r="2.9"/>
<circle class="a7" cx="500.0" cy="525.9" r="2.9"/>
<circle class="a7" cx="497.7" cy="529.5" r="2.9"/>
<circle class="a7" cx="499.9" cy="531.6" r="2.9"/>
<circle class="a7" cx="499.4" cy="526.9" r="2.9"/>
<circle class="a7" cx="498.2" cy="527.9" r="2.9"/>
<circle class="a7" cx="501.6" cy="527.2" r="2.9"/>
<circle class="a7" cx="501.4" cy="529.6" r="2.9"/>
<circle class="a7" cx="500.7" cy="541.9" r="2.9"/>
<circle class="a7" cx="494.6" cy="535.8" r="2.9"/>
<circle class="a7" cx="496.5" cy="537.7" r="2.9"/>
<circle class="a7" cx="500.7" cy="544.3" r="2.9"/>
<circle class="a7" cx="496.9" cy="541.1" r="2.9"/>
<circle class="a7" cx="503.1" cy="534.6" r="2.9"/>
<circle class="a7" cx="491.9" cy="540.1" r="2.9"/>
<circle class="a7" cx="500.2" cy="540.8" r="2.9"/>
<circle class="a7" cx="494.0" cy="544.6" r="2.9"/>
<circle class="a7" cx="500.0" cy="534.0" r="2.9"/>
<circle class="a7" cx="493.8" cy="534.2" r="2.9"/>
<circle class="a7" cx="505.8" cy="533.4" r="2.9"/>
<circle class="a7" cx="493.3" cy="543.8" r="2.9"/>
<circle class="a7" cx="502.5" cy="537.1" r="2.9"/>
<circle class="a7" cx="493.6" cy="542.9" r="2.9"/>
<circle class="a7" cx="496.0" cy="536.0" r="2.9"/>
<circle class="a7" cx="495.3" cy="541.4" r="2.9"/>
<circle class="a7" cx="494.5" cy="537.3" r="2.9"/>
<circle class="a7" cx="496.2" cy="533.3" r="2.9"/>
<circle class="a7" cx="506.5" cy="540.2" r="2.9"/>
<circle class="a7" cx="494.8" cy="533.4" r="2.9"/>
<circle class="a7" cx="494.8" cy="541.8" r="2.9"/>
<circle class="a7" cx="492.4" cy="541.4" r="2.9"/>
<circle class="a7" cx="493.4" cy="537.6" r="2.9"/>
<circle class="a7" cx="495.0" cy="539.5" r="2.9"/>
<circle class="a7" cx="494.7" cy="534.6" r="2.9"/>
<circle class="a7" cx="497.8" cy="536.5" r="2.9"/>
<circle class="a7" cx="495.4" cy="537.8" r="2.9"/>
<circle class="a7" cx="496.2" cy="536.7" r="2.9"/>
<circle class="a7" cx="494.4" cy="534.7" r="2.9"/>
<circle class="a7" cx="497.8" cy="533.9" r="2.9"/>
<circle class="a7" cx="495.1" cy="541.4" r="2.9"/>
<circle class="a7" cx="492.1" cy="539.5" r="2.9"/>
<circle class="a7" cx="494.6" cy="542.8" r="2.9"/>
<circle class="a7" cx="499.7" cy="533.7" r="2.9"/>
<circle class="a7" cx="500.2" cy="535.0" r="2.9"/>
<circle class="a7" cx="503.9" cy="540.8" r="2.9"/>
<circle class="a7" cx="492.2" cy="542.0" r="2.9"/>
<circle class="a7" cx="503.6" cy="534.6" r="2.9"/>
<circle class="a7" cx="503.9" cy="541.2" r="2.9"/>
<circle class="a7" cx="496.1" cy="542.4" r="2.9"/>
<circle class="a7" cx="491.7" cy="544.9" r="2.9"/>
<circle class="a7" cx="491.9" cy="542.3" r="2.9"/>
<circle class="a7" cx="502.5" cy="537.7" r="2.9"/>
<circle class="a7" cx="492.8" cy="540.3" r="2.9"/>
<circle class="a7" cx="506.3" cy="533.6" r="2.9"/>
<circle class="a7" cx="492.1" cy="538.2" r="2.9"/>
<circle class="a7" cx="488.4" cy="549.1" r="2.9"/>
<circle class="a7" cx="496.1" cy="552.0" r="2.9"/>
<circle class="a7" cx="505.8" cy="550.5" r="2.9"/>
<circle class="a7" cx="490.7" cy="552.9" r="2.9"/>
<circle class="a7" cx="493.9" cy="548.6" r="2.9"/>
<circle class="a7" cx="483.2" cy="554.5" r="2.9"/>
<circle class="a7" cx="487.2" cy="548.8" r="2.9"/>
<circle class="a7" cx="495.6" cy="549.1" r="2.9"/>
<circle class="a7" cx="485.6" cy="550.8" r="2.9"/>
<circle class="a7" cx="488.9" cy="548.4" r="2.9"/>
<circle class="a7" cx="492.8" cy="548.6" r="2.9"/>
<circle class="a7" cx="489.1" cy="551.5" r="2.9"/>
<circle class="a7" cx="486.6" cy="554.8" r="2.9"/>
<circle class="a7" cx="484.2" cy="554.6" r="2.9"/>
<circle class="a7" cx="504.3" cy="547.7" r="2.9"/>
<circle class="a7" cx="489.9" cy="545.4" r="2.9"/>
<circle class="a7" cx="503.0" cy="547.2" r="2.9"/>
<circle class="a7" cx="488.3" cy="547.5" r="2.9"/>
<circle class="a7" cx="490.6" cy="548.2" r="2.9"/>
<circle class="a7" cx="492.3" cy="545.3" r="2.9"/>
<circle class="a7" cx="487.4" cy="549.3" r="2.9"/>
<circle class="a7" cx="490.9" cy="545.6" r="2.9"/>
<circle class="a7" cx="484.9" cy="553.6" r="2.9"/>
<circle class="a7" cx="489.1" cy="549.1" r="2.9"/>
<circle class="a7" cx="491.5" cy="554.6" r="2.9"/>
<circle class="a7" cx="487.4" cy="552.9" r="2.9"/>
<circle class="a7" cx="493.5" cy="552.9" r="2.9"/>
<circle class="a7" cx="487.2" cy="554.6" r="2.9"/>
<circle class="a7" cx="485.6" cy="550.4" r="2.9"/>
<circle class="a7" cx="487.9" cy="552.4" r="2.9"/>
<circle class="a7" cx="483.1" cy="554.5" r="2.9"/>
<circle class="a7" cx="485.1" cy="551.8" r="2.9"/>
<circle class="a7" cx="491.3" cy="546.0" r="2.9"/>
<circle class="a7" cx="486.5" cy="550.6" r="2.9"/>
<circle class="a7" cx="488.2" cy="552.3" r="2.9"/>
<circle class="a7" cx="500.9" cy="551.8" r="2.9"/>
<circle class="a7" cx="485.8" cy="550.5" r="2.9"/>
<circle class="a7" cx="489.7" cy="545.7" r="2.9"/>
<circle class="a7" cx="493.3" cy="549.7" r="2.9"/>
<circle class="a7" cx="484.0" cy="554.2" r="2.9"/>
<circle class="a7" cx="487.1" cy="551.8" r="2.9"/>
<circle class="a7" cx="487.1" cy="549.1" r="2.9"/>
<circle class="a7" cx="484.2" cy="561.8" r="2.9"/>
<circle class="a7" cx="485.7" cy="567.1" r="2.9"/>
<circle class="a7" cx="485.4" cy="557.8" r="2.9"/>
<circle class="a7" cx="492.2" cy="564.2" r="2.9"/>
<circle class="a7" cx="484.0" cy="558.1" r="2.9"/>
<circle class="a7" cx="487.8" cy="567.2" r="2.9"/>
<circle class="a7" cx="481.5" cy="564.6" r="2.9"/>
<circle class="a7" cx="482.2" cy="558.9" r="2.9"/>
<circle class="a7" cx="483.1" cy="566.3" r="2.9"/>
<circle class="a7" cx="483.2" cy="562.2" r="2.9"/>
<circle class="a7" cx="484.9" cy="563.5" r="2.9"/>
<circle class="a7" cx="481.2" cy="569.5" r="2.9"/>
<circle class="a7" cx="481.3" cy="570.0" r="2.9"/>
<circle class="a7" cx="488.8" cy="560.3" r="2.9"/>
<circle class="a7" cx="493.6" cy="561.9" r="2.9"/>
<circle class="a7" cx="483.2" cy="560.5" r="2.9"/>
<circle class="a7" cx="498.4" cy="557.1" r="2.9"/>
<circle class="a7" cx="503.8" cy="563.1" r="2.9"/>
<circle class="a7" cx="482.9" cy="559.1" r="2.9"/>
<circle class="a7" cx="484.0" cy="555.4" r="2.9"/>
<circle class="a7" cx="489.5" cy="566.7" r="2.9"/>
<circle class="a7" cx="482.4" cy="569.9" r="2.9"/>
<circle class="a7" cx="498.7" cy="567.5" r="2.9"/>
<circle class="a7" cx="490.4" cy="555.3" r="2.9"/>
<circle class="a7" cx="485.8" cy="561.9" r="2.9"/>
<circle class="a7" cx="481.0" cy="566.7" r="2.9"/>
<circle class="a7" cx="480.3" cy="567.2" r="2.9"/>
<circle class="a7" cx="484.1" cy="557.3" r="2.9"/>
<circle class="a7" cx="483.8" cy="558.9" r="2.9"/>
<circle class="a7" cx="482.9" cy="563.7" r="2.9"/>
<circle class="a7" cx="481.8" cy="565.4" r="2.9"/>
<circle class="a7" cx="483.2" cy="561.7" r="2.9"/>
<circle class="a7" cx="501.5" cy="570.0" r="2.9"/>
<circle class="a7" cx="486.8" cy="563.1" r="2.9"/>
<circle class="a7" cx="486.1" cy="555.1" r="2.9"/>
<circle class="a7" cx="482.5" cy="565.2" r="2.9"/>
<circle class="a7" cx="483.8" cy="563.0" r="2.9"/>
<circle class="a7" cx="489.4" cy="555.4" r="2.9"/>
<circle class="a7" cx="484.7" cy="564.1" r="2.9"/>
<circle class="a7" cx="482.1" cy="559.2" r="2.9"/>
<circle class="a7" cx="491.1" cy="560.9" r="2.9"/>
<circle class="a7" cx="482.9" cy="569.3" r="2.9"/>
<circle class="a7" cx="480.4" cy="568.6" r="2.9"/>
<circle class="a7" cx="488.2" cy="560.1" r="2.9"/>
<circle class="a7" cx="488.7" cy="566.7" r="2.9"/>
<circle class="a7" cx="483.1" cy="565.6" r="2.9"/>
<circle class="a7" cx="486.5" cy="564.1" r="2.9"/>
<circle class="a7" cx="489.9" cy="561.2" r="2.9"/>
<circle class="a7" cx="482.3" cy="565.3" r="2.9"/>
<circle class="a7" cx="483.4" cy="564.0" r="2.9"/>
<circle class="a7" cx="481.0" cy="568.2" r="2.9"/>
<circle class="a7" cx="486.8" cy="565.4" r="2.9"/>
<circle class="a7" cx="484.3" cy="568.0" r="2.9"/>
<circle class="a7" cx="496.0" cy="556.4" r="2.9"/>
<circle class="a7" cx="482.2" cy="566.4" r="2.9"/>
<circle class="a7" cx="487.1" cy="555.2" r="2.9"/>
<circle class="a7" cx="486.6" cy="558.5" r="2.9"/>
<circle class="a7" cx="498.2" cy="565.5" r="2.9"/>
<circle class="a7" cx="482.2" cy="562.6" r="2.9"/>
<circle class="a7" cx="502.1" cy="558.2" r="2.9"/>
<circle class="a7" cx="489.7" cy="560.1" r="2.9"/>
<circle class="a7" cx="481.1" cy="576.9" r="2.9"/>
<circle class="a7" cx="501.3" cy="582.9" r="2.9"/>
<circle class="a7" cx="484.9" cy="576.9" r="2.9"/>
<circle class="a7" cx="482.0" cy="577.1" r="2.9"/>
<circle class="a7" cx="484.8" cy="580.1" r="2.9"/>
<circle class="a7" cx="493.2" cy="581.4" r="2.9"/>
<circle class="a7" cx="499.0" cy="586.0" r="2.9"/>
<circle class="a7" cx="481.9" cy="586.9" r="2.9"/>
<circle class="a7" cx="486.4" cy="573.0" r="2.9"/>
<circle class="a7" cx="503.1" cy="583.7" r="2.9"/>
<circle class="a7" cx="481.8" cy="581.4" r="2.9"/>
<circle class="a7" cx="485.1" cy="583.5" r="2.9"/>
<circle class="a7" cx="485.1" cy="587.9" r="2.9"/>
<circle class="a7" cx="480.9" cy="570.3" r="2.9"/>
<circle class="a7" cx="488.8" cy="584.1" r="2.9"/>
<circle class="a7" cx="485.5" cy="571.9" r="2.9"/>
<circle class="a7" cx="480.0" cy="573.2" r="2.9"/>
<circle class="a7" cx="485.1" cy="580.5" r="2.9"/>
<circle class="a7" cx="480.4" cy="575.6" r="2.9"/>
<circle class="a7" cx="488.1" cy="578.8" r="2.9"/>
<circle class="a7" cx="481.4" cy="576.8" r="2.9"/>
<circle class="a7" cx="488.9" cy="584.4" r="2.9"/>
<circle class="a7" cx="482.6" cy="579.0" r="2.9"/>
<circle class="a7" cx="489.7" cy="586.8" r="2.9"/>
<circle class="a7" cx="483.4" cy="583.0" r="2.9"/>
<circle class="a7" cx="479.9" cy="574.3" r="2.9"/>
<circle class="a7" cx="481.1" cy="581.0" r="2.9"/>
<circle class="a7" cx="497.8" cy="573.2" r="2.9"/>
<circle class="a7" cx="480.4" cy="570.2" r="2.9"/>
<circle class="a7" cx="493.5" cy="583.9" r="2.9"/>
<circle class="a7" cx="484.6" cy="584.5" r="2.9"/>
<circle class="a7" cx="483.9" cy="590.0" r="2.9"/>
<circle class="a7" cx="488.5" cy="581.3" r="2.9"/>
<circle class="a7" cx="483.8" cy="582.0" r="2.9"/>
<circle class="a7" cx="495.3" cy="578.9" r="2.9"/>
<circle class="a7" cx="484.9" cy="572.7" r="2.9"/>
<circle class="a7" cx="492.4" cy="570.8" r="2.9"/>
<circle class="a7" cx="496.7" cy="581.6" r="2.9"/>
<circle class="a7" cx="485.4" cy="582.2" r="2.9"/>
<circle class="a7" cx="485.5" cy="575.3" r="2.9"/>
<circle class="a7" cx="480.2" cy="580.2" r="2.9"/>
<circle class="a7" cx="491.2" cy="576.6" r="2.9"/>
<circle class="a7" cx="481.5" cy="578.3" r="2.9"/>
<circle class="a7" cx="482.6" cy="575.9" r="2.9"/>
<circle class="a7" cx="489.7" cy="582.2" r="2.9"/>
<circle class="a7" cx="483.7" cy="575.5" r="2.9"/>
<circle class="a7" cx="488.8" cy="574.1" r="2.9"/>
<circle class="a7" cx="488.9" cy="576.2" r="2.9"/>
<circle class="a7" cx="487.5" cy="578.7" r="2.9"/>
<circle class="a7" cx="481.7" cy="584.5" r="2.9"/>
<circle class="a7" cx="490.0" cy="570.1" r="2.9"/>
<circle class="a7" cx="486.5" cy="572.4" r="2.9"/>
<circle class="a7" cx="491.5" cy="589.2" r="2.9"/>
<circle class="a7" cx="485.8" cy="589.3" r="2.9"/>
<circle class="a7" cx="488.7" cy="570.1" r="2.9"/>
<circle class="a7" cx="482.7" cy="578.9" r="2.9"/>
<circle class="a7" cx="486.3" cy="577.2" r="2.9"/>
<circle class="a7" cx="485.6" cy="584.1" r="2.9"/>
<circle class="a7" cx="480.1" cy="574.7" r="2.9"/>
<circle class="a7" cx="486.4" cy="582.5" r="2.9"/>
<circle class="a7" cx="481.9" cy="588.1" r="2.9"/>
<circle class="a7" cx="487.0" cy="589.5" r="2.9"/>
<circle class="a7" cx="493.5" cy="583.7" r="2.9"/>
<circle class="a7" cx="493.4" cy="576.7" r="2.9"/>
<circle class="a7" cx="480.5" cy="574.3" r="2.9"/>
<circle class="a7" cx="492.3" cy="574.1" r="2.9"/>
<circle class="a7" cx="483.3" cy="579.4" r="2.9"/>
<circle class="a7" cx="485.3" cy="576.0" r="2.9"/>
<circle class="a7" cx="480.7" cy="575.7" r="2.9"/>
<circle class="a7" cx="481.9" cy="590.0" r="2.9"/>
<circle class="a7" cx="485.6" cy="582.1" r="2.9"/>
<circle class="a7" cx="487.9" cy="584.4" r="2.9"/>
<circle class="a7" cx="485.2" cy="581.7" r="2.9"/>
<circle class="a7" cx="488.4" cy="580.1" r="2.9"/>
<circle class="a7" cx="486.0" cy="571.3" r="2.9"/>
<circle class="a7" cx="500.3" cy="585.4" r="2.9"/>
<circle class="a7" cx="485.0" cy="585.9" r="2.9"/>
<circle class="a7" cx="483.0" cy="576.1" r="2.9"/>
<circle class="a7" cx="483.3" cy="574.2" r="2.9"/>
<circle class="a7" cx="492.4" cy="592.1" r="2.9"/>
<circle class="a7" cx="493.3" cy="600.6" r="2.9"/>
<circle class="a7" cx="486.3" cy="595.7" r="2.9"/>
<circle class="a7" cx="491.0" cy="591.8" r="2.9"/>
<circle class="a7" cx="481.7" cy="590.2" r="2.9"/>
<circle class="a7" cx="489.6" cy="595.8" r="2.9"/>
<circle class="a7" cx="486.3" cy="595.5" r="2.9"/>
<circle class="a7" cx="497.2" cy="601.0" r="2.9"/>
<circle class="a7" cx="488.3" cy="595.0" r="2.9"/>
<circle class="a7" cx="486.8" cy="599.0" r="2.9"/>
<circle class="a7" cx="485.9" cy="592.9" r="2.9"/>
<circle class="a7" cx="487.8" cy="598.5" r="2.9"/>
<circle class="a7" cx="492.7" cy="592.9" r="2.9"/>
<circle class="a7" cx="495.6" cy="593.4" r="2.9"/>
<circle class="a7" cx="484.0" cy="594.2" r="2.9"/>
<circle class="a7" cx="486.8" cy="590.1" r="2.9"/>
<circle class="a7" cx="485.6" cy="600.6" r="2.9"/>
<circle class="a7" cx="495.5" cy="591.4" r="2.9"/>
<circle class="a7" cx="488.9" cy="599.5" r="2.9"/>
<circle class="a7" cx="488.4" cy="599.3" r="2.9"/>
<circle class="a7" cx="487.4" cy="600.1" r="2.9"/>
<circle class="a7" cx="488.3" cy="598.1" r="2.9"/>
<circle class="a7" cx="490.0" cy="596.9" r="2.9"/>
<circle class="a7" cx="506.5" cy="590.9" r="2.9"/>
<circle class="a7" cx="488.8" cy="595.3" r="2.9"/>
<circle class="a7" cx="493.5" cy="594.8" r="2.9"/>
<circle class="a7" cx="490.4" cy="592.0" r="2.9"/>
<circle class="a7" cx="484.6" cy="601.0" r="2.9"/>
<circle class="a7" cx="484.6" cy="596.6" r="2.9"/>
<circle class="a7" cx="496.9" cy="598.5" r="2.9"/>
<circle class="a7" cx="485.1" cy="600.9" r="2.9"/>
<circle class="a7" cx="493.5" cy="590.0" r="2.9"/>
<circle class="a7" cx="488.4" cy="598.0" r="2.9"/>
<circle class="a7" cx="492.0" cy="596.7" r="2.9"/>
<circle class="a7" cx="482.9" cy="595.0" r="2.9"/>
<circle class="a7" cx="486.8" cy="597.6" r="2.9"/>
<circle class="a7" cx="486.0" cy="595.0" r="2.9"/>
<circle class="a7" cx="491.5" cy="597.3" r="2.9"/>
<circle class="a7" cx="490.9" cy="600.8" r="2.9"/>
<circle class="a7" cx="490.7" cy="600.7" r="2.9"/>
<circle class="a7" cx="481.9" cy="592.1" r="2.9"/>
<circle class="a7" cx="494.4" cy="590.3" r="2.9"/>
<circle class="a7" cx="491.1" cy="599.8" r="2.9"/>
<circle class="a7" cx="486.9" cy="593.5" r="2.9"/>
<path d="M509.0 510.0 L510.0 509.2 L514.0 509.2 L515.2 510.0 L515.2 601.0 L514.0 602.4 L510.0 602.4 L509.0 601.0 Z" fill="#4670ae" stroke="#4670ae" stroke-width="2" stroke-linejoin="round"/>
<line x1="404.6" y1="517.7" x2="404.6" y2="571.9" stroke="#dd8452" stroke-width="1.4"/>
<line x1="406.9" y1="511.3" x2="406.9" y2="561.3" stroke="#dd8452" stroke-width="1.4"/>
<line x1="412.7" y1="511.3" x2="412.7" y2="558.5" stroke="#dd8452" stroke-width="1.4"/>
<line x1="419.0" y1="511.3" x2="419.0" y2="558.5" stroke="#dd8452" stroke-width="1.4"/>
<line x1="425.2" y1="511.3" x2="425.2" y2="558.5" stroke="#dd8452" stroke-width="1.4"/>
<line x1="431.0" y1="511.3" x2="431.0" y2="558.5" stroke="#dd8452" stroke-width="1.4"/>
<line x1="436.8" y1="509.5" x2="436.8" y2="557.8" stroke="#dd8452" stroke-width="1.4"/>
<line x1="442.7" y1="509.5" x2="442.7" y2="557.8" stroke="#dd8452" stroke-width="1.4"/>
<line x1="448.8" y1="509.5" x2="448.8" y2="557.8" stroke="#dd8452" stroke-width="1.4"/>
<line x1="454.7" y1="510.0" x2="454.7" y2="560.5" stroke="#dd8452" stroke-width="1.4"/>
<line x1="460.6" y1="510.0" x2="460.6" y2="560.5" stroke="#dd8452" stroke-width="1.4"/>
<line x1="466.6" y1="510.0" x2="466.6" y2="559.5" stroke="#dd8452" stroke-width="1.4"/>
<line x1="472.3" y1="508.0" x2="472.3" y2="555.5" stroke="#dd8452" stroke-width="1.4"/>
<line x1="478.4" y1="507.0" x2="478.4" y2="552.5" stroke="#dd8452" stroke-width="1.4"/>
<line x1="484.3" y1="507.0" x2="484.3" y2="552.5" stroke="#dd8452" stroke-width="1.4"/>
<line x1="490.2" y1="507.0" x2="490.2" y2="548.7" stroke="#dd8452" stroke-width="1.4"/>
<line x1="496.3" y1="507.0" x2="496.3" y2="554.8" stroke="#dd8452" stroke-width="1.4"/>
<line x1="502.3" y1="510.2" x2="502.3" y2="573.9" stroke="#dd8452" stroke-width="1.4"/>
<line x1="508.0" y1="510.2" x2="508.0" y2="555.0" stroke="#dd8452" stroke-width="1.4"/>
<line x1="513.9" y1="534.5" x2="513.9" y2="561.4" stroke="#dd8452" stroke-width="1.4"/>
<polyline points="404.6,544.6 406.9,536.3 412.7,535.8 419.0,535.4 425.2,534.4 431.0,533.8 436.8,533.6 442.7,533.6 448.8,533.6 454.7,535.9 460.6,535.4 466.6,534.5 472.3,531.8 478.4,529.4 484.3,530.0 490.2,528.2 496.3,532.3 502.3,542.0 508.0,532.7 513.9,534.8" fill="none" stroke="#dd8452" stroke-width="1.3"/>
<rect x="402.2" y="542.2" width="4.8" height="4.8" fill="#dd8452"/>
<rect x="404.5" y="533.9" width="4.8" height="4.8" fill="#dd8452"/>
<rect x="410.3" y="533.4" width="4.8" height="4.8" fill="#dd8452"/>
<rect x="416.6" y="533.0" width="4.8" height="4.8" fill="#dd8452"/>
<rect x="422.8" y="532.0" width="4.8" height="4.8" fill="#dd8452"/>
<rect x="428.6" y="531.4" width="4.8" height="4.8" fill="#dd8452"/>
<rect x="434.4" y="531.2" width="4.8" height="4.8" fill="#dd8452"/>
<rect x="440.3" y="531.2" width="4.8" height="4.8" fill="#dd8452"/>
<rect x="446.4" y="531.2" width="4.8" height="4.8" fill="#dd8452"/>
<rect x="452.3" y="533.5" width="4.8" height="4.8" fill="#dd8452"/>
<rect x="458.2" y="533.0" width="4.8" height="4.8" fill="#dd8452"/>
<rect x="464.2" y="532.1" width="4.8" height="4.8" fill="#dd8452"/>
<rect x="469.9" y="529.4" width="4.8" height="4.8" fill="#dd8452"/>
<rect x="476.0" y="527.0" width="4.8" height="4.8" fill="#dd8452"/>
<rect x="481.9" y="527.6" width="4.8" height="4.8" fill="#dd8452"/>
<rect x="487.8" y="525.8" width="4.8" height="4.8" fill="#dd8452"/>
<rect x="493.9" y="529.9" width="4.8" height="4.8" fill="#dd8452"/>
<rect x="499.9" y="539.6" width="4.8" height="4.8" fill="#dd8452"/>
<rect x="505.6" y="530.3" width="4.8" height="4.8" fill="#dd8452"/>
<rect x="511.5" y="532.4" width="4.8" height="4.8" fill="#dd8452"/>
</g>
<line x1="53.30" y1="127.10" x2="53.30" y2="132.60" stroke="#606060" stroke-width="0.9"/>
<text x="40.07" y="144.70" font-size="11.4" letter-spacing="0.2">0.000</text>
<line x1="89.40" y1="127.10" x2="89.40" y2="132.60" stroke="#606060" stroke-width="0.9"/>
<text x="76.18" y="144.70" font-size="11.4" letter-spacing="0.2">0.015</text>
<line x1="121.20" y1="127.10" x2="121.20" y2="132.60" stroke="#606060" stroke-width="0.9"/>
<text x="107.98" y="144.70" font-size="11.4" letter-spacing="0.2">0.250</text>
<line x1="154.50" y1="127.10" x2="154.50" y2="132.60" stroke="#606060" stroke-width="0.9"/>
<text x="141.28" y="144.70" font-size="11.4" letter-spacing="0.2">1.500</text>
<line x1="35.30" y1="64.40" x2="40.80" y2="64.40" stroke="#606060" stroke-width="0.9"/>
<text x="16.45" y="68.10" font-size="11.4" letter-spacing="0.2">0.5</text>
<line x1="35.30" y1="108.10" x2="40.80" y2="108.10" stroke="#606060" stroke-width="0.9"/>
<text x="16.45" y="111.80" font-size="11.4" letter-spacing="0.2">0.0</text>
<rect x="40.80" y="28.50" width="120.00" height="98.60" fill="none" stroke="#606060" stroke-width="1.25"/>
<text transform="translate(9.60,77.80) rotate(-90)" x="-29.15" y="0" font-size="11.700000000000001" textLength="58.3" lengthAdjust="spacingAndGlyphs">cov(<tspan font-weight="bold" font-style="italic">x</tspan><tspan font-style="italic" font-size="8" dy="2.2">i</tspan><tspan dy="-2.2">, </tspan><tspan font-weight="bold" font-style="italic">x</tspan><tspan font-style="italic" font-size="8" dy="2.2">j</tspan><tspan dy="-2.2">)</tspan></text>
<text x="92.80" y="163.40" font-size="12.0" font-style="italic" textLength="10.6" lengthAdjust="spacingAndGlyphs">W</text>
<text x="103.70" y="165.20" font-size="8.3" font-style="italic" textLength="6.6" lengthAdjust="spacingAndGlyphs">ij</text>
<path d="M91.90 153.90 Q97.85 150.50 103.80 153.90" fill="none" stroke="#333" stroke-width="0.75"/>
<line x1="229.60" y1="127.10" x2="229.60" y2="132.60" stroke="#606060" stroke-width="0.9"/>
<text x="216.38" y="144.70" font-size="11.4" letter-spacing="0.2">0.000</text>
<line x1="265.50" y1="127.10" x2="265.50" y2="132.60" stroke="#606060" stroke-width="0.9"/>
<text x="252.28" y="144.70" font-size="11.4" letter-spacing="0.2">0.015</text>
<line x1="297.30" y1="127.10" x2="297.30" y2="132.60" stroke="#606060" stroke-width="0.9"/>
<text x="284.07" y="144.70" font-size="11.4" letter-spacing="0.2">0.250</text>
<line x1="330.30" y1="127.10" x2="330.30" y2="132.60" stroke="#606060" stroke-width="0.9"/>
<text x="317.07" y="144.70" font-size="11.4" letter-spacing="0.2">1.500</text>
<line x1="211.80" y1="29.60" x2="217.30" y2="29.60" stroke="#606060" stroke-width="0.9"/>
<text x="201.90" y="33.30" font-size="11.4" letter-spacing="0.2">1</text>
<line x1="211.80" y1="76.30" x2="217.30" y2="76.30" stroke="#606060" stroke-width="0.9"/>
<text x="201.90" y="80.00" font-size="11.4" letter-spacing="0.2">0</text>
<line x1="211.80" y1="123.30" x2="217.30" y2="123.30" stroke="#606060" stroke-width="0.9"/>
<rect x="193.98" y="123.79" width="6.97" height="0.72" fill="#1a1a1a"/>
<text x="201.90" y="127.00" font-size="11.4" letter-spacing="0.2">1</text>
<rect x="217.30" y="28.50" width="120.10" height="98.60" fill="none" stroke="#606060" stroke-width="1.25"/>
<text transform="translate(185.60,77.80) rotate(-90)" x="-31.25" y="0" font-size="11.700000000000001" textLength="62.5" lengthAdjust="spacingAndGlyphs">corr(<tspan font-weight="bold" font-style="italic">x</tspan><tspan font-style="italic" font-size="8" dy="2.2">i</tspan><tspan dy="-2.2">, </tspan><tspan font-weight="bold" font-style="italic">x</tspan><tspan font-style="italic" font-size="8" dy="2.2">j</tspan><tspan dy="-2.2">)</tspan></text>
<text x="269.35" y="163.40" font-size="12.0" font-style="italic" textLength="10.6" lengthAdjust="spacingAndGlyphs">W</text>
<text x="280.25" y="165.20" font-size="8.3" font-style="italic" textLength="6.6" lengthAdjust="spacingAndGlyphs">ij</text>
<path d="M268.45 153.90 Q274.40 150.50 280.35 153.90" fill="none" stroke="#333" stroke-width="0.75"/>
<line x1="405.40" y1="127.10" x2="405.40" y2="132.60" stroke="#606060" stroke-width="0.9"/>
<text x="392.17" y="144.70" font-size="11.4" letter-spacing="0.2">0.000</text>
<line x1="441.85" y1="127.10" x2="441.85" y2="132.60" stroke="#606060" stroke-width="0.9"/>
<text x="428.62" y="144.70" font-size="11.4" letter-spacing="0.2">0.015</text>
<line x1="473.20" y1="127.10" x2="473.20" y2="132.60" stroke="#606060" stroke-width="0.9"/>
<text x="459.97" y="144.70" font-size="11.4" letter-spacing="0.2">0.250</text>
<line x1="506.70" y1="127.10" x2="506.70" y2="132.60" stroke="#606060" stroke-width="0.9"/>
<text x="493.47" y="144.70" font-size="11.4" letter-spacing="0.2">1.500</text>
<line x1="388.00" y1="38.70" x2="393.50" y2="38.70" stroke="#606060" stroke-width="0.9"/>
<text x="369.15" y="42.40" font-size="11.4" letter-spacing="0.2">0.3</text>
<line x1="388.00" y1="66.50" x2="393.50" y2="66.50" stroke="#606060" stroke-width="0.9"/>
<text x="369.15" y="70.20" font-size="11.4" letter-spacing="0.2">0.2</text>
<line x1="388.00" y1="94.40" x2="393.50" y2="94.40" stroke="#606060" stroke-width="0.9"/>
<text x="369.15" y="98.10" font-size="11.4" letter-spacing="0.2">0.1</text>
<line x1="388.00" y1="122.50" x2="393.50" y2="122.50" stroke="#606060" stroke-width="0.9"/>
<text x="369.15" y="126.20" font-size="11.4" letter-spacing="0.2">0.0</text>
<rect x="393.50" y="28.50" width="119.90" height="98.60" fill="none" stroke="#606060" stroke-width="1.25"/>
<text transform="translate(360.80,77.80) rotate(-90)" x="-29.15" y="0" font-size="11.700000000000001" textLength="58.3" lengthAdjust="spacingAndGlyphs">MI(<tspan font-weight="bold" font-style="italic">x</tspan><tspan font-style="italic" font-size="8" dy="2.2">i</tspan><tspan dy="-2.2">, </tspan><tspan font-weight="bold" font-style="italic">x</tspan><tspan font-style="italic" font-size="8" dy="2.2">j</tspan><tspan dy="-2.2">)</tspan></text>
<text x="445.45" y="163.40" font-size="12.0" font-style="italic" textLength="10.6" lengthAdjust="spacingAndGlyphs">W</text>
<text x="456.35" y="165.20" font-size="8.3" font-style="italic" textLength="6.6" lengthAdjust="spacingAndGlyphs">ij</text>
<path d="M444.55 153.90 Q450.50 150.50 456.45 153.90" fill="none" stroke="#333" stroke-width="0.75"/>
<line x1="62.10" y1="278.50" x2="62.10" y2="284.00" stroke="#606060" stroke-width="0.9"/>
<rect x="52.81" y="292.89" width="6.97" height="0.72" fill="#1a1a1a"/>
<text x="60.73" y="296.10" font-size="11.4" letter-spacing="0.2">10</text>
<line x1="102.60" y1="278.50" x2="102.60" y2="284.00" stroke="#606060" stroke-width="0.9"/>
<text x="99.75" y="296.10" font-size="11.4" letter-spacing="0.2">0</text>
<line x1="143.30" y1="278.50" x2="143.30" y2="284.00" stroke="#606060" stroke-width="0.9"/>
<text x="137.50" y="296.10" font-size="11.4" letter-spacing="0.2">10</text>
<line x1="35.10" y1="213.80" x2="40.60" y2="213.80" stroke="#606060" stroke-width="0.9"/>
<text x="16.25" y="217.50" font-size="11.4" letter-spacing="0.2">0.5</text>
<line x1="35.10" y1="258.80" x2="40.60" y2="258.80" stroke="#606060" stroke-width="0.9"/>
<text x="16.25" y="262.50" font-size="11.4" letter-spacing="0.2">0.0</text>
<rect x="40.60" y="177.40" width="126.70" height="101.10" fill="none" stroke="#606060" stroke-width="1.25"/>
<text transform="translate(9.60,227.95) rotate(-90)" x="-29.15" y="0" font-size="11.700000000000001" textLength="58.3" lengthAdjust="spacingAndGlyphs">cov(<tspan font-weight="bold" font-style="italic">x</tspan><tspan font-style="italic" font-size="8" dy="2.2">i</tspan><tspan dy="-2.2">, </tspan><tspan font-weight="bold" font-style="italic">x</tspan><tspan font-style="italic" font-size="8" dy="2.2">j</tspan><tspan dy="-2.2">)</tspan></text>
<text x="80.95" y="311.50" font-size="11.700000000000001" textLength="46" lengthAdjust="spacingAndGlyphs">logit(<tspan font-style="italic">π</tspan><tspan font-style="italic" font-size="8" dy="2.2">ij</tspan><tspan dy="-2.2">)</tspan></text>
<line x1="238.70" y1="278.50" x2="238.70" y2="284.00" stroke="#606060" stroke-width="0.9"/>
<rect x="229.41" y="292.89" width="6.97" height="0.72" fill="#1a1a1a"/>
<text x="237.33" y="296.10" font-size="11.4" letter-spacing="0.2">10</text>
<line x1="279.00" y1="278.50" x2="279.00" y2="284.00" stroke="#606060" stroke-width="0.9"/>
<text x="276.15" y="296.10" font-size="11.4" letter-spacing="0.2">0</text>
<line x1="319.30" y1="278.50" x2="319.30" y2="284.00" stroke="#606060" stroke-width="0.9"/>
<text x="313.50" y="296.10" font-size="11.4" letter-spacing="0.2">10</text>
<line x1="211.90" y1="178.70" x2="217.40" y2="178.70" stroke="#606060" stroke-width="0.9"/>
<text x="202.00" y="182.40" font-size="11.4" letter-spacing="0.2">1</text>
<line x1="211.90" y1="226.30" x2="217.40" y2="226.30" stroke="#606060" stroke-width="0.9"/>
<text x="202.00" y="230.00" font-size="11.4" letter-spacing="0.2">0</text>
<line x1="211.90" y1="274.40" x2="217.40" y2="274.40" stroke="#606060" stroke-width="0.9"/>
<rect x="194.08" y="274.89" width="6.97" height="0.72" fill="#1a1a1a"/>
<text x="202.00" y="278.10" font-size="11.4" letter-spacing="0.2">1</text>
<rect x="217.40" y="177.40" width="126.00" height="101.10" fill="none" stroke="#606060" stroke-width="1.25"/>
<text transform="translate(185.60,227.95) rotate(-90)" x="-31.25" y="0" font-size="11.700000000000001" textLength="62.5" lengthAdjust="spacingAndGlyphs">corr(<tspan font-weight="bold" font-style="italic">x</tspan><tspan font-style="italic" font-size="8" dy="2.2">i</tspan><tspan dy="-2.2">, </tspan><tspan font-weight="bold" font-style="italic">x</tspan><tspan font-style="italic" font-size="8" dy="2.2">j</tspan><tspan dy="-2.2">)</tspan></text>
<text x="257.40" y="311.50" font-size="11.700000000000001" textLength="46" lengthAdjust="spacingAndGlyphs">logit(<tspan font-style="italic">π</tspan><tspan font-style="italic" font-size="8" dy="2.2">ij</tspan><tspan dy="-2.2">)</tspan></text>
<line x1="415.00" y1="278.50" x2="415.00" y2="284.00" stroke="#606060" stroke-width="0.9"/>
<rect x="405.71" y="292.89" width="6.97" height="0.72" fill="#1a1a1a"/>
<text x="413.63" y="296.10" font-size="11.4" letter-spacing="0.2">10</text>
<line x1="455.60" y1="278.50" x2="455.60" y2="284.00" stroke="#606060" stroke-width="0.9"/>
<text x="452.75" y="296.10" font-size="11.4" letter-spacing="0.2">0</text>
<line x1="495.60" y1="278.50" x2="495.60" y2="284.00" stroke="#606060" stroke-width="0.9"/>
<text x="489.80" y="296.10" font-size="11.4" letter-spacing="0.2">10</text>
<line x1="388.00" y1="187.70" x2="393.50" y2="187.70" stroke="#606060" stroke-width="0.9"/>
<text x="369.15" y="191.40" font-size="11.4" letter-spacing="0.2">0.3</text>
<line x1="388.00" y1="216.50" x2="393.50" y2="216.50" stroke="#606060" stroke-width="0.9"/>
<text x="369.15" y="220.20" font-size="11.4" letter-spacing="0.2">0.2</text>
<line x1="388.00" y1="245.40" x2="393.50" y2="245.40" stroke="#606060" stroke-width="0.9"/>
<text x="369.15" y="249.10" font-size="11.4" letter-spacing="0.2">0.1</text>
<line x1="388.00" y1="274.20" x2="393.50" y2="274.20" stroke="#606060" stroke-width="0.9"/>
<text x="369.15" y="277.90" font-size="11.4" letter-spacing="0.2">0.0</text>
<rect x="393.50" y="177.40" width="125.80" height="101.10" fill="none" stroke="#606060" stroke-width="1.25"/>
<text transform="translate(360.80,227.95) rotate(-90)" x="-29.15" y="0" font-size="11.700000000000001" textLength="58.3" lengthAdjust="spacingAndGlyphs">MI(<tspan font-weight="bold" font-style="italic">x</tspan><tspan font-style="italic" font-size="8" dy="2.2">i</tspan><tspan dy="-2.2">, </tspan><tspan font-weight="bold" font-style="italic">x</tspan><tspan font-style="italic" font-size="8" dy="2.2">j</tspan><tspan dy="-2.2">)</tspan></text>
<text x="433.40" y="311.50" font-size="11.700000000000001" textLength="46" lengthAdjust="spacingAndGlyphs">logit(<tspan font-style="italic">π</tspan><tspan font-style="italic" font-size="8" dy="2.2">ij</tspan><tspan dy="-2.2">)</tspan></text>
<line x1="75.50" y1="454.90" x2="75.50" y2="460.40" stroke="#606060" stroke-width="0.9"/>
<rect x="57.36" y="469.29" width="6.97" height="0.72" fill="#1a1a1a"/>
<text x="65.28" y="472.50" font-size="11.4" letter-spacing="0.2">20000</text>
<line x1="137.50" y1="454.90" x2="137.50" y2="460.40" stroke="#606060" stroke-width="0.9"/>
<text x="134.65" y="472.50" font-size="11.4" letter-spacing="0.2">0</text>
<line x1="52.50" y1="369.60" x2="58.00" y2="369.60" stroke="#606060" stroke-width="0.9"/>
<text x="25.18" y="373.30" font-size="11.4" letter-spacing="0.2">10</text>
<rect x="37.48" y="366.59" width="6.07" height="0.72" fill="#1a1a1a"/>
<text x="44.20" y="369.00" font-size="8.2" letter-spacing="0.2">2</text>
<line x1="52.50" y1="386.00" x2="58.00" y2="386.00" stroke="#606060" stroke-width="0.9"/>
<text x="25.18" y="389.70" font-size="11.4" letter-spacing="0.2">10</text>
<rect x="37.48" y="382.99" width="6.07" height="0.72" fill="#1a1a1a"/>
<text x="44.20" y="385.40" font-size="8.2" letter-spacing="0.2">3</text>
<line x1="52.50" y1="402.10" x2="58.00" y2="402.10" stroke="#606060" stroke-width="0.9"/>
<text x="25.18" y="405.80" font-size="11.4" letter-spacing="0.2">10</text>
<rect x="37.48" y="399.09" width="6.07" height="0.72" fill="#1a1a1a"/>
<text x="44.20" y="401.50" font-size="8.2" letter-spacing="0.2">4</text>
<line x1="52.50" y1="408.10" x2="58.00" y2="408.10" stroke="#606060" stroke-width="0.9"/>
<text x="42.60" y="411.80" font-size="11.4" letter-spacing="0.2">0</text>
<line x1="52.50" y1="414.20" x2="58.00" y2="414.20" stroke="#606060" stroke-width="0.9"/>
<rect x="17.26" y="414.69" width="6.97" height="0.72" fill="#1a1a1a"/>
<text x="25.18" y="417.90" font-size="11.4" letter-spacing="0.2">10</text>
<rect x="37.48" y="411.19" width="6.07" height="0.72" fill="#1a1a1a"/>
<text x="44.20" y="413.60" font-size="8.2" letter-spacing="0.2">4</text>
<line x1="52.50" y1="430.20" x2="58.00" y2="430.20" stroke="#606060" stroke-width="0.9"/>
<rect x="17.26" y="430.69" width="6.97" height="0.72" fill="#1a1a1a"/>
<text x="25.18" y="433.90" font-size="11.4" letter-spacing="0.2">10</text>
<rect x="37.48" y="427.19" width="6.07" height="0.72" fill="#1a1a1a"/>
<text x="44.20" y="429.60" font-size="8.2" letter-spacing="0.2">3</text>
<line x1="52.50" y1="446.90" x2="58.00" y2="446.90" stroke="#606060" stroke-width="0.9"/>
<rect x="17.26" y="447.39" width="6.97" height="0.72" fill="#1a1a1a"/>
<text x="25.18" y="450.60" font-size="11.4" letter-spacing="0.2">10</text>
<rect x="37.48" y="443.89" width="6.07" height="0.72" fill="#1a1a1a"/>
<text x="44.20" y="446.30" font-size="8.2" letter-spacing="0.2">2</text>
<line x1="54.50" y1="358.14" x2="58.00" y2="358.14" stroke="#606060" stroke-width="0.9"/>
<line x1="54.50" y1="364.66" x2="58.00" y2="364.66" stroke="#606060" stroke-width="0.9"/>
<line x1="54.50" y1="374.54" x2="58.00" y2="374.54" stroke="#606060" stroke-width="0.9"/>
<line x1="54.50" y1="381.06" x2="58.00" y2="381.06" stroke="#606060" stroke-width="0.9"/>
<line x1="54.50" y1="390.85" x2="58.00" y2="390.85" stroke="#606060" stroke-width="0.9"/>
<line x1="54.50" y1="397.25" x2="58.00" y2="397.25" stroke="#606060" stroke-width="0.9"/>
<line x1="54.50" y1="419.02" x2="58.00" y2="419.02" stroke="#606060" stroke-width="0.9"/>
<line x1="54.50" y1="425.38" x2="58.00" y2="425.38" stroke="#606060" stroke-width="0.9"/>
<line x1="54.50" y1="435.23" x2="58.00" y2="435.23" stroke="#606060" stroke-width="0.9"/>
<line x1="54.50" y1="441.87" x2="58.00" y2="441.87" stroke="#606060" stroke-width="0.9"/>
<line x1="54.50" y1="451.84" x2="58.00" y2="451.84" stroke="#606060" stroke-width="0.9"/>
<rect x="58.00" y="355.60" width="121.00" height="99.30" fill="none" stroke="#606060" stroke-width="1.25"/>
<text transform="translate(9.40,405.25) rotate(-90)" x="-29.15" y="0" font-size="11.700000000000001" textLength="58.3" lengthAdjust="spacingAndGlyphs">cov(<tspan font-weight="bold" font-style="italic">x</tspan><tspan font-style="italic" font-size="8" dy="2.2">i</tspan><tspan dy="-2.2">, </tspan><tspan font-weight="bold" font-style="italic">x</tspan><tspan font-style="italic" font-size="8" dy="2.2">j</tspan><tspan dy="-2.2">)</tspan></text>
<text x="110.50" y="491.20" font-size="12.0" font-style="italic" textLength="10.6" lengthAdjust="spacingAndGlyphs">W</text>
<text x="121.40" y="493.00" font-size="8.3" font-style="italic" textLength="6.6" lengthAdjust="spacingAndGlyphs">ij</text>
<path d="M109.60 481.70 Q115.55 478.30 121.50 481.70" fill="none" stroke="#333" stroke-width="0.75"/>
<line x1="246.20" y1="454.90" x2="246.20" y2="460.40" stroke="#606060" stroke-width="0.9"/>
<rect x="228.06" y="469.29" width="6.97" height="0.72" fill="#1a1a1a"/>
<text x="235.98" y="472.50" font-size="11.4" letter-spacing="0.2">20000</text>
<line x1="307.70" y1="454.90" x2="307.70" y2="460.40" stroke="#606060" stroke-width="0.9"/>
<text x="304.85" y="472.50" font-size="11.4" letter-spacing="0.2">0</text>
<line x1="222.80" y1="359.80" x2="228.30" y2="359.80" stroke="#606060" stroke-width="0.9"/>
<text x="212.90" y="363.50" font-size="11.4" letter-spacing="0.2">1</text>
<line x1="222.80" y1="405.60" x2="228.30" y2="405.60" stroke="#606060" stroke-width="0.9"/>
<text x="212.90" y="409.30" font-size="11.4" letter-spacing="0.2">0</text>
<line x1="222.80" y1="451.20" x2="228.30" y2="451.20" stroke="#606060" stroke-width="0.9"/>
<rect x="204.98" y="451.69" width="6.97" height="0.72" fill="#1a1a1a"/>
<text x="212.90" y="454.90" font-size="11.4" letter-spacing="0.2">1</text>
<rect x="228.30" y="355.60" width="121.00" height="99.30" fill="none" stroke="#606060" stroke-width="1.25"/>
<text transform="translate(196.80,405.25) rotate(-90)" x="-31.25" y="0" font-size="11.700000000000001" textLength="62.5" lengthAdjust="spacingAndGlyphs">corr(<tspan font-weight="bold" font-style="italic">x</tspan><tspan font-style="italic" font-size="8" dy="2.2">i</tspan><tspan dy="-2.2">, </tspan><tspan font-weight="bold" font-style="italic">x</tspan><tspan font-style="italic" font-size="8" dy="2.2">j</tspan><tspan dy="-2.2">)</tspan></text>
<text x="280.80" y="491.20" font-size="12.0" font-style="italic" textLength="10.6" lengthAdjust="spacingAndGlyphs">W</text>
<text x="291.70" y="493.00" font-size="8.3" font-style="italic" textLength="6.6" lengthAdjust="spacingAndGlyphs">ij</text>
<path d="M279.90 481.70 Q285.85 478.30 291.80 481.70" fill="none" stroke="#333" stroke-width="0.75"/>
<line x1="416.50" y1="454.90" x2="416.50" y2="460.40" stroke="#606060" stroke-width="0.9"/>
<rect x="398.36" y="469.29" width="6.97" height="0.72" fill="#1a1a1a"/>
<text x="406.28" y="472.50" font-size="11.4" letter-spacing="0.2">20000</text>
<line x1="478.00" y1="454.90" x2="478.00" y2="460.40" stroke="#606060" stroke-width="0.9"/>
<text x="475.15" y="472.50" font-size="11.4" letter-spacing="0.2">0</text>
<line x1="393.30" y1="373.50" x2="398.80" y2="373.50" stroke="#606060" stroke-width="0.9"/>
<text x="374.45" y="377.20" font-size="11.4" letter-spacing="0.2">7.5</text>
<line x1="393.30" y1="399.20" x2="398.80" y2="399.20" stroke="#606060" stroke-width="0.9"/>
<text x="374.45" y="402.90" font-size="11.4" letter-spacing="0.2">5.0</text>
<line x1="393.30" y1="424.80" x2="398.80" y2="424.80" stroke="#606060" stroke-width="0.9"/>
<text x="374.45" y="428.50" font-size="11.4" letter-spacing="0.2">2.5</text>
<line x1="393.30" y1="450.40" x2="398.80" y2="450.40" stroke="#606060" stroke-width="0.9"/>
<text x="374.45" y="454.10" font-size="11.4" letter-spacing="0.2">0.0</text>
<rect x="398.80" y="355.60" width="120.60" height="99.30" fill="none" stroke="#606060" stroke-width="1.25"/>
<text transform="translate(366.80,405.25) rotate(-90)" x="-29.15" y="0" font-size="11.700000000000001" textLength="58.3" lengthAdjust="spacingAndGlyphs">MI(<tspan font-weight="bold" font-style="italic">x</tspan><tspan font-style="italic" font-size="8" dy="2.2">i</tspan><tspan dy="-2.2">, </tspan><tspan font-weight="bold" font-style="italic">x</tspan><tspan font-style="italic" font-size="8" dy="2.2">j</tspan><tspan dy="-2.2">)</tspan></text>
<text x="451.10" y="491.20" font-size="12.0" font-style="italic" textLength="10.6" lengthAdjust="spacingAndGlyphs">W</text>
<text x="462.00" y="493.00" font-size="8.3" font-style="italic" textLength="6.6" lengthAdjust="spacingAndGlyphs">ij</text>
<path d="M450.20 481.70 Q456.15 478.30 462.10 481.70" fill="none" stroke="#333" stroke-width="0.75"/>
<line x1="61.50" y1="604.60" x2="61.50" y2="610.10" stroke="#606060" stroke-width="0.9"/>
<rect x="52.21" y="618.99" width="6.97" height="0.72" fill="#1a1a1a"/>
<text x="60.13" y="622.20" font-size="11.4" letter-spacing="0.2">10</text>
<line x1="117.10" y1="604.60" x2="117.10" y2="610.10" stroke="#606060" stroke-width="0.9"/>
<text x="114.25" y="622.20" font-size="11.4" letter-spacing="0.2">0</text>
<line x1="172.70" y1="604.60" x2="172.70" y2="610.10" stroke="#606060" stroke-width="0.9"/>
<text x="166.90" y="622.20" font-size="11.4" letter-spacing="0.2">10</text>
<line x1="52.70" y1="517.10" x2="58.20" y2="517.10" stroke="#606060" stroke-width="0.9"/>
<text x="25.38" y="520.80" font-size="11.4" letter-spacing="0.2">10</text>
<rect x="37.68" y="514.09" width="6.07" height="0.72" fill="#1a1a1a"/>
<text x="44.40" y="516.50" font-size="8.2" letter-spacing="0.2">2</text>
<line x1="52.70" y1="534.00" x2="58.20" y2="534.00" stroke="#606060" stroke-width="0.9"/>
<text x="25.38" y="537.70" font-size="11.4" letter-spacing="0.2">10</text>
<rect x="37.68" y="530.99" width="6.07" height="0.72" fill="#1a1a1a"/>
<text x="44.40" y="533.40" font-size="8.2" letter-spacing="0.2">3</text>
<line x1="52.70" y1="550.80" x2="58.20" y2="550.80" stroke="#606060" stroke-width="0.9"/>
<text x="25.38" y="554.50" font-size="11.4" letter-spacing="0.2">10</text>
<rect x="37.68" y="547.79" width="6.07" height="0.72" fill="#1a1a1a"/>
<text x="44.40" y="550.20" font-size="8.2" letter-spacing="0.2">4</text>
<line x1="52.70" y1="556.90" x2="58.20" y2="556.90" stroke="#606060" stroke-width="0.9"/>
<text x="42.80" y="560.60" font-size="11.4" letter-spacing="0.2">0</text>
<line x1="52.70" y1="563.30" x2="58.20" y2="563.30" stroke="#606060" stroke-width="0.9"/>
<rect x="17.46" y="563.79" width="6.97" height="0.72" fill="#1a1a1a"/>
<text x="25.38" y="567.00" font-size="11.4" letter-spacing="0.2">10</text>
<rect x="37.68" y="560.29" width="6.07" height="0.72" fill="#1a1a1a"/>
<text x="44.40" y="562.70" font-size="8.2" letter-spacing="0.2">4</text>
<line x1="52.70" y1="579.60" x2="58.20" y2="579.60" stroke="#606060" stroke-width="0.9"/>
<rect x="17.46" y="580.09" width="6.97" height="0.72" fill="#1a1a1a"/>
<text x="25.38" y="583.30" font-size="11.4" letter-spacing="0.2">10</text>
<rect x="37.68" y="576.59" width="6.07" height="0.72" fill="#1a1a1a"/>
<text x="44.40" y="579.00" font-size="8.2" letter-spacing="0.2">3</text>
<line x1="52.70" y1="596.30" x2="58.20" y2="596.30" stroke="#606060" stroke-width="0.9"/>
<rect x="17.46" y="596.79" width="6.97" height="0.72" fill="#1a1a1a"/>
<text x="25.38" y="600.00" font-size="11.4" letter-spacing="0.2">10</text>
<rect x="37.68" y="593.29" width="6.07" height="0.72" fill="#1a1a1a"/>
<text x="44.40" y="595.70" font-size="8.2" letter-spacing="0.2">2</text>
<line x1="54.70" y1="505.29" x2="58.20" y2="505.29" stroke="#606060" stroke-width="0.9"/>
<line x1="54.70" y1="512.01" x2="58.20" y2="512.01" stroke="#606060" stroke-width="0.9"/>
<line x1="54.70" y1="522.19" x2="58.20" y2="522.19" stroke="#606060" stroke-width="0.9"/>
<line x1="54.70" y1="528.91" x2="58.20" y2="528.91" stroke="#606060" stroke-width="0.9"/>
<line x1="54.70" y1="539.06" x2="58.20" y2="539.06" stroke="#606060" stroke-width="0.9"/>
<line x1="54.70" y1="545.74" x2="58.20" y2="545.74" stroke="#606060" stroke-width="0.9"/>
<line x1="54.70" y1="568.21" x2="58.20" y2="568.21" stroke="#606060" stroke-width="0.9"/>
<line x1="54.70" y1="574.69" x2="58.20" y2="574.69" stroke="#606060" stroke-width="0.9"/>
<line x1="54.70" y1="584.63" x2="58.20" y2="584.63" stroke="#606060" stroke-width="0.9"/>
<line x1="54.70" y1="591.27" x2="58.20" y2="591.27" stroke="#606060" stroke-width="0.9"/>
<line x1="54.70" y1="601.39" x2="58.20" y2="601.39" stroke="#606060" stroke-width="0.9"/>
<rect x="58.20" y="502.60" width="120.70" height="102.00" fill="none" stroke="#606060" stroke-width="1.25"/>
<text transform="translate(9.40,553.60) rotate(-90)" x="-29.15" y="0" font-size="11.700000000000001" textLength="58.3" lengthAdjust="spacingAndGlyphs">cov(<tspan font-weight="bold" font-style="italic">x</tspan><tspan font-style="italic" font-size="8" dy="2.2">i</tspan><tspan dy="-2.2">, </tspan><tspan font-weight="bold" font-style="italic">x</tspan><tspan font-style="italic" font-size="8" dy="2.2">j</tspan><tspan dy="-2.2">)</tspan></text>
<text x="95.55" y="637.60" font-size="11.700000000000001" textLength="46" lengthAdjust="spacingAndGlyphs">logit(<tspan font-style="italic">π</tspan><tspan font-style="italic" font-size="8" dy="2.2">ij</tspan><tspan dy="-2.2">)</tspan></text>
<line x1="230.80" y1="604.60" x2="230.80" y2="610.10" stroke="#606060" stroke-width="0.9"/>
<rect x="221.51" y="618.99" width="6.97" height="0.72" fill="#1a1a1a"/>
<text x="229.43" y="622.20" font-size="11.4" letter-spacing="0.2">10</text>
<line x1="287.40" y1="604.60" x2="287.40" y2="610.10" stroke="#606060" stroke-width="0.9"/>
<text x="284.55" y="622.20" font-size="11.4" letter-spacing="0.2">0</text>
<line x1="343.20" y1="604.60" x2="343.20" y2="610.10" stroke="#606060" stroke-width="0.9"/>
<text x="337.40" y="622.20" font-size="11.4" letter-spacing="0.2">10</text>
<line x1="222.80" y1="507.50" x2="228.30" y2="507.50" stroke="#606060" stroke-width="0.9"/>
<text x="212.90" y="511.20" font-size="11.4" letter-spacing="0.2">1</text>
<line x1="222.80" y1="554.00" x2="228.30" y2="554.00" stroke="#606060" stroke-width="0.9"/>
<text x="212.90" y="557.70" font-size="11.4" letter-spacing="0.2">0</text>
<line x1="222.80" y1="600.80" x2="228.30" y2="600.80" stroke="#606060" stroke-width="0.9"/>
<rect x="204.98" y="601.29" width="6.97" height="0.72" fill="#1a1a1a"/>
<text x="212.90" y="604.50" font-size="11.4" letter-spacing="0.2">1</text>
<rect x="228.30" y="502.60" width="121.10" height="102.00" fill="none" stroke="#606060" stroke-width="1.25"/>
<text transform="translate(196.80,553.60) rotate(-90)" x="-31.25" y="0" font-size="11.700000000000001" textLength="62.5" lengthAdjust="spacingAndGlyphs">corr(<tspan font-weight="bold" font-style="italic">x</tspan><tspan font-style="italic" font-size="8" dy="2.2">i</tspan><tspan dy="-2.2">, </tspan><tspan font-weight="bold" font-style="italic">x</tspan><tspan font-style="italic" font-size="8" dy="2.2">j</tspan><tspan dy="-2.2">)</tspan></text>
<text x="265.85" y="637.60" font-size="11.700000000000001" textLength="46" lengthAdjust="spacingAndGlyphs">logit(<tspan font-style="italic">π</tspan><tspan font-style="italic" font-size="8" dy="2.2">ij</tspan><tspan dy="-2.2">)</tspan></text>
<line x1="402.10" y1="604.60" x2="402.10" y2="610.10" stroke="#606060" stroke-width="0.9"/>
<rect x="392.81" y="618.99" width="6.97" height="0.72" fill="#1a1a1a"/>
<text x="400.73" y="622.20" font-size="11.4" letter-spacing="0.2">10</text>
<line x1="457.80" y1="604.60" x2="457.80" y2="610.10" stroke="#606060" stroke-width="0.9"/>
<text x="454.95" y="622.20" font-size="11.4" letter-spacing="0.2">0</text>
<line x1="513.00" y1="604.60" x2="513.00" y2="610.10" stroke="#606060" stroke-width="0.9"/>
<text x="507.20" y="622.20" font-size="11.4" letter-spacing="0.2">10</text>
<line x1="393.30" y1="520.00" x2="398.80" y2="520.00" stroke="#606060" stroke-width="0.9"/>
<text x="374.45" y="523.70" font-size="11.4" letter-spacing="0.2">7.5</text>
<line x1="393.30" y1="546.50" x2="398.80" y2="546.50" stroke="#606060" stroke-width="0.9"/>
<text x="374.45" y="550.20" font-size="11.4" letter-spacing="0.2">5.0</text>
<line x1="393.30" y1="573.50" x2="398.80" y2="573.50" stroke="#606060" stroke-width="0.9"/>
<text x="374.45" y="577.20" font-size="11.4" letter-spacing="0.2">2.5</text>
<line x1="393.30" y1="600.40" x2="398.80" y2="600.40" stroke="#606060" stroke-width="0.9"/>
<text x="374.45" y="604.10" font-size="11.4" letter-spacing="0.2">0.0</text>
<rect x="398.80" y="502.60" width="120.60" height="102.00" fill="none" stroke="#606060" stroke-width="1.25"/>
<text transform="translate(366.80,553.60) rotate(-90)" x="-29.15" y="0" font-size="11.700000000000001" textLength="58.3" lengthAdjust="spacingAndGlyphs">MI(<tspan font-weight="bold" font-style="italic">x</tspan><tspan font-style="italic" font-size="8" dy="2.2">i</tspan><tspan dy="-2.2">, </tspan><tspan font-weight="bold" font-style="italic">x</tspan><tspan font-style="italic" font-size="8" dy="2.2">j</tspan><tspan dy="-2.2">)</tspan></text>
<text x="436.10" y="637.60" font-size="11.700000000000001" textLength="46" lengthAdjust="spacingAndGlyphs">logit(<tspan font-style="italic">π</tspan><tspan font-style="italic" font-size="8" dy="2.2">ij</tspan><tspan dy="-2.2">)</tspan></text>
</svg></body></html>
